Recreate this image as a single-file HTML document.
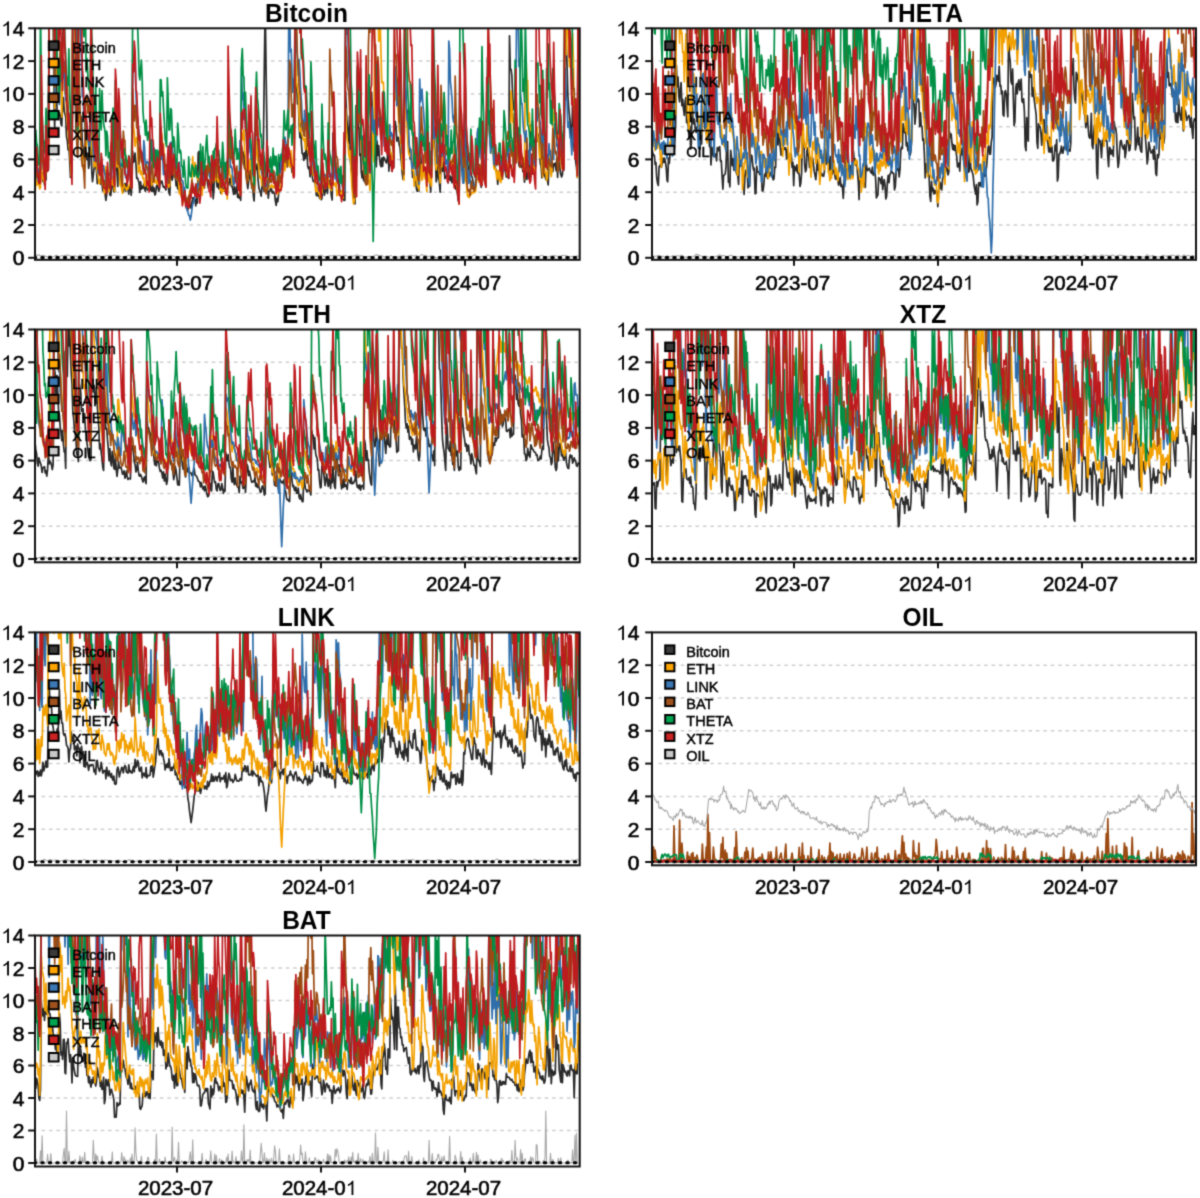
<!DOCTYPE html><html><head><meta charset="utf-8"><style>html,body{margin:0;padding:0;background:#fff;}svg{display:block}</style></head><body>
<svg width="1200" height="1198" viewBox="0 0 1200 1198" font-family='"Liberation Sans", sans-serif'>
<rect width="1200" height="1198" fill="#fff"/>
<defs><filter id="bl" filterUnits="userSpaceOnUse" x="-20" y="-20" width="1240" height="1238" color-interpolation-filters="sRGB"><feConvolveMatrix order="3" kernelMatrix="0.02768 0.11101 0.02768 0.11101 0.44521 0.11101 0.02768 0.11101 0.02768" edgeMode="duplicate" preserveAlpha="true"/></filter><clipPath id="c0"><rect x="35.0" y="28.3" width="544.7" height="231.5"/></clipPath><clipPath id="c1"><rect x="652.0" y="28.3" width="544.0" height="231.5"/></clipPath><clipPath id="c2"><rect x="35.0" y="329.5" width="544.7" height="232.8"/></clipPath><clipPath id="c3"><rect x="652.0" y="329.5" width="544.0" height="232.8"/></clipPath><clipPath id="c4"><rect x="35.0" y="632.4" width="544.7" height="232.9"/></clipPath><clipPath id="c5"><rect x="652.0" y="632.4" width="544.0" height="232.9"/></clipPath><clipPath id="c6"><rect x="35.0" y="935.5" width="544.7" height="231.0"/></clipPath></defs>
<g filter="url(#bl)"><rect x="-20" y="-20" width="1240" height="1238" fill="#fff"/>
<line x1="41.5" y1="225.0" x2="579.7" y2="225.0" stroke="#cfcfcf" stroke-width="1.5" stroke-dasharray="3.6 3.8"/><line x1="41.5" y1="192.2" x2="579.7" y2="192.2" stroke="#cfcfcf" stroke-width="1.5" stroke-dasharray="3.6 3.8"/><line x1="41.5" y1="159.4" x2="579.7" y2="159.4" stroke="#cfcfcf" stroke-width="1.5" stroke-dasharray="3.6 3.8"/><line x1="41.5" y1="126.7" x2="579.7" y2="126.7" stroke="#cfcfcf" stroke-width="1.5" stroke-dasharray="3.6 3.8"/><line x1="41.5" y1="93.9" x2="579.7" y2="93.9" stroke="#cfcfcf" stroke-width="1.5" stroke-dasharray="3.6 3.8"/><line x1="41.5" y1="61.1" x2="579.7" y2="61.1" stroke="#cfcfcf" stroke-width="1.5" stroke-dasharray="3.6 3.8"/><g clip-path="url(#c0)" fill="none" stroke-linejoin="round"><path d="M35 176l.8 2.2 .8-15.7 .8 5.7 .8 6.1 .7-.4 .8-.1 .8-16.8 .8 19.8 .8-3.9 .8 8.5 .8-3.4 .8 7 .7-3.9 .8-1.4 .8-21.6 .8 10.1 .8 1.9 .8-166.4 .8 0 .8 0 .8 6.7 .7 15.3 .8-22 .8 88 .8 41.3 .8-92.5 .8 24.4 .8 49 .8 3.5 .7-2.1 .8-2.8 .8 3.1 .8 8.5 .8 1.8 .8-23.8 .8-4.6 .8 13.7 .8 3.2 .7 2.6 .8 19.5 .8 3.8 .8 9.7 .8-3.8 .8 15.1 .8 16.1 .8-3.4 .7-53.7 .8-50.8 .8-28.1 .8 29.9 .8 20.1 .8 39.2 .8-8.2 .8 35.1 .8-79 .7 13.4 .8 32.7 .8-8.6 .8 3.5 .8 23.6 .8 5.4 .8 8.3 .8 10.7 .7-20 .8 7 .8 5.2 .8-6.6 .8 15.2 .8-3.8 .8-44.4 .8 22.5 .8 28.9 .7 10.2 .8-6.6 .8-7.6 .8-12.5 .8 11.9 .8 4.3 .8 12.4 .8-3 .8-.7 .7 2.6 .8 1.5 .8-.2 .8-.4 .8 7.4 .8-5.5 .8-4.8 .8 14.4 .7 5.5 .8-6.1 .8-11.7 .8 .9 .8 2.3 .8 8.9 .8 .9 .8-6.5 .8-5.6 .7-2.8 .8 11.1 .8 0 .8-38.3 .8 10 .8 8.4 .8 14.6 .8-31.1 .7 15.3 .8 6.5 .8 .2 .8 9.9 .8 3.9 .8 .6 .8-5.1 .8-3 .8 7.4 .7-8 .8 4.3 .8 2.4 .8 4.4 .8-8.8 .8-.8 .8 10.7 .8-11.6 .7-32.2 .8 10.9 .8-1.5 .8-7.7 .8 10.1 .8 15.2 .8-.5 .8 2.2 .8 3.1 .7 9.2 .8-10.7 .8 7.3 .8-2.7 .8 1.7 .8-4 .8 5 .8 2 .7-4.6 .8-3.8 .8 7.4 .8-7.4 .8 4.6 .8 3.1 .8-8.5 .8 9.6 .8-7 .7 6.9 .8-3.5 .8 7.1 .8-1.3 .8-7.4 .8-1.8 .8 3.2 .8 3.6 .7-2.6 .8-7.8 .8 1.9 .8-1.7 .8 3.7 .8 2.3 .8-.4 .8 1.6 .8 1.7 .7-6.9 .8 2.1 .8 .9 .8 6.6 .8 2.4 .8-24.7 .8-3.2 .8 12.9 .7-3.4 .8-5.5 .8-1.8 .8 6 .8 10.4 .8-4.4 .8 7.5 .8-6.3 .8 8.9 .7-.2 .8-3.7 .8 9.4 .8-2.6 .8 2.6 .8 1.9 .8-1 .8 1.7 .7 8.6 .8-3.9 .8 5.5 .8-2.9 .8-3.8 .8 2.8 .8 2.2 .8-5.5 .8-4.8 .7-.1 .8 2.1 .8 0 .8 6.2 .8-9.5 .8 6.6 .8-50.3 .8-1.4 .8 20.5 .7-20 .8 8.3 .8 3.2 .8-.8 .8 8.6 .8 13.7 .8-8.9 .8-4 .7 2.8 .8 9.1 .8 4.1 .8-7.7 .8 2.6 .8 3.1 .8 3.7 .8-12.3 .8 21.4 .7-8.4 .8-24.4 .8 13.5 .8-.2 .8 7.6 .8-15.4 .8 17.2 .8-4.1 .7 2.4 .8 6.3 .8-6.7 .8 1.7 .8 .5 .8-.4 .8 3.1 .8-2.3 .8-.8 .7 5.7 .8-11.2 .8 1.9 .8-6 .8-.8 .8 8.2 .8-.1 .8 3.9 .7 4.3 .8-7.6 .8 7.1 .8-2.8 .8-4.9 .8 11.2 .8-3 .8 3.9 .8-2.4 .7 4.6 .8-48.8 .8 5.4 .8 0 .8-5 .8 13.2 .8-.2 .8 10.3 .7 6.3 .8 7.1 .8-7.7 .8-3.7 .8-3.2 .8 3.7 .8 10.6 .8-4.5 .8 12.4 .7 4.6 .8-21.3 .8-14.1 .8 3.7 .8-5.7 .8 16.7 .8 7.8 .8 2.4 .7 2.2 .8 3.5 .8-10.3 .8 3.2 .8-61.3 .8-65.9 .8-58.1 .8 61.3 .8 55.1 .7 66.4 .8 11.6 .8-6.6 .8-.2 .8-3.3 .8 1.2 .8 4 .8-1.7 .7 .9 .8 1.6 .8 7.1 .8 4.2 .8-6.9 .8 3.3 .8-7.6 .8-31.6 .8 7 .7 1.3 .8-5 .8-9.2 .8 4.7 .8-7.5 .8 2.6 .8 1.8 .8-8.5 .7 11.8 .8-10 .8 11.1 .8-4.5 .8 8.8 .8-4 .8 9.5 .8-3.1 .8 7.8 .7-30.6 .8-89 .8 31.3 .8-4.7 .8 19.8 .8-6.1 .8 26.7 .8 13.1 .7-13.6 .8 19.8 .8 9.8 .8 .1 .8 6.7 .8-7.6 .8 5.8 .8-17.4 .8 8.7 .7 16.4 .8 2.3 .8-1.6 .8 9.8 .8-11.9 .8 4 .8 9.2 .8 3.5 .8-.4 .7 0 .8 4.4 .8 10 .8-7.7 .8 8.1 .8-3.4 .8 5.7 .8-6.1 .7 7.4 .8-1 .8-14.7 .8 1.8 .8 9.6 .8-3.1 .8-2.6 .8-.4 .8 4.1 .7-16.8 .8 7.8 .8-3.6 .8 6.3 .8 8.9 .8 4.1 .8-66.9 .8 6.9 .7 17.3 .8 3.6 .8 13.2 .8 8.4 .8-5.7 .8 6.7 .8 0 .8 11.4 .8-3.6 .7 4.9 .8-3.8 .8 6.6 .8 1.4 .8 .1 .8-109.5 .8 19.6 .8 14.7 .7 7.3 .8 10.3 .8-27.1 .8 44.1 .8 9 .8 4.7 .8 8.2 .8 14.3 .8 2.5 .7 5.4 .8-58.3 .8 16.5 .8-57.1 .8 22.9 .8-.2 .8 27.8 .8-1.5 .7 18.2 .8 5.6 .8-6.7 .8 9.5 .8-5.4 .8 7.8 .8-11.2 .8 9.1 .8-3.7 .7-33.2 .8-2 .8 11.7 .8-21.4 .8-40 .8 22.6 .8 14.1 .8 8.3 .7-6.6 .8 21.6 .8 14.4 .8-25.7 .8 14.3 .8-9.8 .8 12 .8 7.1 .8 1.9 .7-8.5 .8 8.4 .8-9.5 .8 .8 .8 2.1 .8 1.9 .8 1.2 .8-6 .7-8.9 .8 23.1 .8-22.4 .8 16.3 .8-5.4 .8 11.6 .8-5.2 .8 .9 .8-45.1 .7-.4 .8 5.4 .8 14.4 .8-3.8 .8-.1 .8 7.1 .8 2.8 .8 9.3 .7 6.5 .8 10.9 .8 5.5 .8-9.8 .8-80.6 .8-.1 .8 24.6 .8-3.6 .8 9.2 .7 24.8 .8 2.7 .8 12.6 .8-6.9 .8 11.6 .8 13.5 .8-6.2 .8 8 .7 2.9 .8-1.9 .8 8.8 .8 2.3 .8-3.1 .8 2.6 .8-20.1 .8-21.3 .8 16.7 .7 3.8 .8 3.6 .8-4.9 .8 .5 .8 5.5 .8-1.8 .8 5.1 .8-1 .8 3.6 .7 .1 .8-.6 .8 12.1 .8-22.5 .8-15.4 .8-25.3 .8 9.8 .8 9.2 .7 11.1 .8 22.7 .8-3.8 .8-22.9 .8 20.3 .8 7.6 .8 9.2 .8-41.9 .8 9.4 .7 11.8 .8-8.9 .8 6.4 .8 9.6 .8-1.4 .8-1.5 .8-.7 .8-3.1 .7 4.9 .8 3.2 .8-3.8 .8 4.4 .8 2.1 .8-11.4 .8 9.9 .8 1.2 .8-9.3 .7 16.4 .8-1 .8 5.9 .8 6.2 .8 2 .8-50.8 .8 11.8 .8-3.4 .7 9.8 .8-.4 .8 10.5 .8-6.1 .8-44.6 .8 10 .8 9 .8 16.9 .8 1.4 .7 5.7 .8 1.5 .8-1.3 .8 3.4 .8 2.2 .8 6.7 .8 2.5 .8-.3 .7-6.3 .8-9.4 .8-8.8 .8 15 .8 4.4 .8-10.3 .8 4.9 .8 10.7 .8-9 .7-14.3 .8 4 .8 11.6 .8 1.7 .8 5.4 .8-73.8 .8-20.2 .8 20 .7-1.1 .8 24 .8 10.6 .8-7.2 .8 4.2 .8 4.5 .8 7.9 .8 10.6 .8 1.5 .7 3.5 .8 .5 .8 12.6 .8-8.2 .8-5.2 .8 8.7 .8-4 .8-4.9 .7 5.8 .8-5.5 .8-10.2 .8 8.3 .8 3.2 .8 4.7 .8-8.1 .8 8.6 .8 .9 .7-142.6 .8 32.9 .8 .7 .8 6.1 .8 22 .8 10.3 .8 2.5 .8-13.5 .7 36.1 .8 9.4 .8-10.3 .8 13.8 .8 20 .8 .5 .8-3.6 .8 4.7 .8-2.2 .7 6.4 .8 .6 .8 9.9 .8-6.9 .8-17.8 .8 22 .8-7 .8 3.8 .8 2.8 .7-54.3 .8 14.1 .8 5.1 .8-22.8 .8 13.5 .8 9.2 .8 9.9 .8-15.1 .7-11.3 .8 14.1 .8-7.6 .8 5.4 .8 9.2 .8 15 .8 2.5 .8 11.9 .8-1.6 .7-7.8 .8 6.1 .8 1.8 .8 3.1 .8-5 .8 5.1 .8 5.5 .8-22.9 .7 .8 .8 1.5 .8 6.8 .8-1.4 .8 1.7 .8-7.6 .8 1.6 .8-2.5 .8 7.6 .7-12.8 .8 19.7 .8-19.3 .8-2.6 .8 13.9 .8 5 .8 2.4 .8-2.2 .7-11.1 .8 6.6 .8-122.4 .8-1 .8-2.2 .8 22 .8 28.9 .8 11.7 .8 9 .7 6.1 .8 13.5 .8 10.8 .8-49.9 .8 39.2 .8 15.3 .8-2.8 .8 14.3 .7 4.5 .8 10.3 .8-66.7 .8 4.9 .8 17.7" stroke="#2a2a2a" stroke-width="1.7"/><path d="M35 195.5l.8-13.6 .8-2.2 .8 5.3 .8-10 .7 8.7 .8 5.1 .8-1.2 .8-31.8 .8 22.7 .8-2.4 .8 5.8 .8-4.9 .7 2 .8-11.1 .8-3.2 .8 2.2 .8-7 .8-156.2 .8 0 .8 0 .8 0 .7 0 .8 0 .8 48.5 .8 56 .8-104.5 .8 40.6 .8 32.1 .8-11 .7 20.4 .8 7.2 .8-21 .8 11.4 .8 33.6 .8-44 .8-3.2 .8 6 .8 18.2 .7-14.1 .8 35.1 .8 6.8 .8 10.4 .8 11.6 .8 7.1 .8 9.9 .8 15.3 .7-129.8 .8-29.7 .8 6 .8-18.9 .8 53 .8 15.2 .8 36.4 .8 16.5 .8-27 .7 20.9 .8 1.2 .8 20.5 .8 7.9 .8 6.2 .8 13.5 .8 2.6 .8 .9 .7-30.2 .8 6.5 .8-20.2 .8 4.7 .8 13.9 .8-.1 .8 10.3 .8-24.4 .8 3.4 .7 22 .8-6.2 .8 15.8 .8-1.1 .8-4.5 .8 4.3 .8 7.9 .8-3.2 .8 13.1 .7-.3 .8-2.7 .8-3.3 .8 6.2 .8-.6 .8 4.3 .8 6.5 .8-3.8 .7-23.1 .8 14.8 .8 1.4 .8 1.1 .8 8 .8-7.2 .8-4.6 .8 1.7 .8 3.1 .7-9 .8 8.7 .8 6.7 .8-35.2 .8 10.6 .8-.2 .8-6.9 .8 7.2 .7 2.4 .8 15.8 .8-1 .8 5.2 .8 4 .8-8.7 .8 .1 .8 2.8 .8 .9 .7 1.9 .8-3.3 .8 2 .8-3.6 .8 .4 .8-3.9 .8 .5 .8-2.3 .7-65.4 .8 12.1 .8 5.3 .8 14.4 .8-6.7 .8-2.2 .8 5.9 .8 29 .8-4.3 .7-2.2 .8 8.5 .8-3.3 .8 3.1 .8 4.4 .8-.9 .8 8.2 .8-1.1 .7-4.5 .8-6.1 .8 13.1 .8-5.3 .8-4.1 .8 4.2 .8-4.6 .8 8.1 .8-3.8 .7-1.2 .8-5.6 .8 7.8 .8-2.7 .8 1.7 .8 2.3 .8-5 .8 5.7 .7-2.9 .8-46.6 .8-4 .8 3.9 .8 16 .8-7.6 .8 16.9 .8 5.2 .8 7.8 .7-.2 .8 11.9 .8-1.8 .8 3.7 .8-2.1 .8-28.6 .8 4.8 .8 1.8 .7 10.3 .8 .2 .8-6.5 .8 5.4 .8 1.7 .8-3.6 .8 9.9 .8-1.3 .8 14.6 .7-7.7 .8 6.1 .8 5.5 .8-1.6 .8 7.3 .8-3.9 .8-4.1 .8 7.1 .7 .4 .8-3.8 .8 1.2 .8 2.2 .8-11.3 .8 3.6 .8-.8 .8-14.1 .8-23.2 .7 17 .8 2.3 .8-13.4 .8 4 .8 10.2 .8 2 .8 .2 .8 9.7 .8-10.2 .7 13.3 .8-9.4 .8 12.9 .8-15.1 .8 8.3 .8-5.8 .8-3.8 .8-5.6 .7-4.3 .8 3.3 .8-6.4 .8 1.6 .8 6.6 .8 9.8 .8-4.8 .8-8 .8 7.4 .7 2.1 .8-8.6 .8 8.5 .8-4.2 .8-9.5 .8 15.4 .8-1.3 .8-1.6 .7 11.2 .8-3.9 .8 7.5 .8-4.9 .8 2 .8-.9 .8-.7 .8 0 .8 .5 .7 9 .8-40.3 .8 5.4 .8 10.2 .8 1.9 .8-.6 .8 9.3 .8 0 .7-8.2 .8 1.8 .8-.7 .8-1.7 .8 4.1 .8 5 .8-3.7 .8 7.5 .8 5.7 .7-3.8 .8-60.7 .8 6.6 .8 3.1 .8-10.4 .8 22.8 .8 3.6 .8 12.3 .7-1 .8 13.4 .8-19.5 .8 9.6 .8-12.1 .8 8.8 .8 18.7 .8 2.1 .8-.4 .7 3.9 .8-17.3 .8-27.5 .8-7.1 .8 16.9 .8 5.9 .8 5.9 .8 9.3 .7-1.8 .8 3.2 .8 6.7 .8-2 .8-1.8 .8 5.4 .8-2.3 .8 7 .8-7.4 .7 4.6 .8-11.7 .8 9.8 .8-.1 .8-.7 .8-1.9 .8 .6 .8 2.5 .7-.3 .8-3.1 .8 0 .8 5.9 .8-6.1 .8 9.7 .8-2.8 .8-.3 .8-5.9 .7 5.3 .8-4.7 .8-17.7 .8-5.2 .8-9.9 .8 17.7 .8-9.4 .8-6.4 .7 2.3 .8 9.2 .8-8.3 .8 6.7 .8 2.6 .8-16.8 .8 10.3 .8 13.1 .8 1.4 .7-25.4 .8-87.6 .8-1.6 .8 22.9 .8 4.8 .8 5.5 .8 21.1 .8 16.3 .7-3.2 .8 5.5 .8 1.9 .8 2.9 .8 2.1 .8-1.7 .8 10.9 .8-15 .8-.4 .7 14.4 .8 5 .8-2.5 .8 7.2 .8-20 .8 12.8 .8 14.4 .8 9.9 .8-2.8 .7 3 .8 15.3 .8 .6 .8-4.6 .8 4.4 .8 2.4 .8-.9 .8 6.1 .7-7 .8 1 .8-10.2 .8-10.8 .8 11 .8 .9 .8-6.7 .8 1.2 .8 6.7 .7-7.6 .8 10.5 .8-2 .8 1.1 .8 3.5 .8-9.7 .8 4.7 .8-2.5 .7 1 .8 2.1 .8-4.1 .8 13.6 .8-1.4 .8-4.8 .8 1.7 .8 3.4 .8 2.5 .7-6.4 .8 8.4 .8-1.3 .8-34.9 .8 3.3 .8-57.6 .8 21.8 .8 9.5 .7 3.5 .8 10.8 .8 4.3 .8-7.6 .8 20.5 .8 15.4 .8 8.6 .8 8.5 .8-3 .7-3.4 .8-61.4 .8 25.3 .8-67.7 .8 15.8 .8-11.3 .8 20.6 .8-23.7 .7 50.1 .8 7.6 .8-4.5 .8 6.3 .8 8.3 .8 12.4 .8-35.2 .8 19.7 .8 11.2 .7 11 .8-.7 .8 9.2 .8-48.5 .8 8.3 .8-17.2 .8 22.6 .8 6.3 .7-158.3 .8 0 .8 0 .8 0 .8 0 .8 37.6 .8-4.1 .8-11.1 .8 32.8 .7 23.9 .8-.7 .8 .2 .8 24.8 .8 13.5 .8 2.2 .8 10.1 .8-8.1 .7 23.4 .8-22.8 .8 25.4 .8 .9 .8 1.8 .8 6.9 .8 .6 .8-7.2 .8-70.9 .7-8.6 .8 25.8 .8-1.5 .8-5.9 .8 23.2 .8 15.2 .8 1.1 .8 9.1 .7 11 .8 17.1 .8-2.5 .8 13.4 .8-79.9 .8 10 .8 3.3 .8 13.9 .8 16.6 .7 8.5 .8 2.8 .8 .9 .8-5.2 .8 14.6 .8 4.6 .8-2.5 .8 18.3 .7-7.6 .8 1.3 .8-5.9 .8 11.9 .8 .2 .8 3.8 .8-12.2 .8-4.3 .8-8.8 .7 15.7 .8-2.3 .8-22.3 .8 17.7 .8 5.4 .8-1.9 .8 14.6 .8-38.1 .8 16.6 .7 12.4 .8-9.5 .8 10.5 .8 2.9 .8-65.9 .8 12.2 .8 14 .8 3.3 .7 13.5 .8 6.5 .8-7.3 .8 3.1 .8-.6 .8 8.9 .8 8.8 .8-26.3 .8 10.5 .7-10.2 .8-44.9 .8-15.6 .8 22.1 .8 22.8 .8-16.2 .8 23.8 .8 7.5 .7-1.3 .8 8.9 .8-2.7 .8 6.9 .8-7.7 .8 4.6 .8 11.2 .8-27.9 .8 19.7 .7 16.1 .8 .9 .8 5.7 .8-.6 .8 14.2 .8-107.3 .8 29.2 .8 5.1 .7 14.8 .8 7 .8 4 .8 7 .8 17.3 .8-1.5 .8 12 .8 4.8 .8-2.1 .7 3 .8-5.6 .8 1.4 .8 .7 .8-2.2 .8-.2 .8 1.1 .8-2.7 .7 1.6 .8-14 .8-.2 .8-2 .8 6.3 .8-6.4 .8-3.6 .8 .6 .8 11.4 .7-32.9 .8 15.3 .8 7 .8 4.6 .8 4.6 .8-69.9 .8 12.9 .8-1.7 .7 6.4 .8 5.9 .8 .9 .8 12.9 .8 3.5 .8-7.7 .8 22 .8 1.8 .8-1.5 .7 4.8 .8 6.7 .8-8.7 .8 3.9 .8 6.3 .8-14 .8 15.7 .8-6.5 .7 2.5 .8-39.5 .8 10.5 .8 16.9 .8 1.2 .8 2.2 .8 5.3 .8-11.3 .8 5.5 .7 2 .8-24.6 .8-55.9 .8 13 .8 18.3 .8-3.9 .8 35.3 .8-15.4 .7-.6 .8 19.4 .8-4.8 .8 8.3 .8-3.8 .8 4.6 .8-2.2 .8-5.1 .8 5.6 .7 9.3 .8 0 .8 5 .8-118.6 .8 3.2 .8 22.9 .8-1 .8 41.7 .8-9.1 .7 17.6 .8-3.5 .8 3.3 .8 18.9 .8 4.2 .8 19.5 .8-8.5 .8 3.5 .7-28.7 .8-11.7 .8 10.8 .8 4.2 .8 15.1 .8-8.6 .8 7.8 .8 9.9 .8 10.2 .7-20.9 .8 8.1 .8 8.6 .8-.8 .8 8.7 .8-3.2 .8-22 .8 9.4 .7-10.8 .8 16.5 .8 6 .8-6.8 .8-47.4 .8-4.4 .8-17.1 .8 25 .8 8.3 .7 11.7 .8-1 .8 10.2 .8-25.2 .8 17 .8 11.3 .8 10.3 .8-17.3 .7 7.2 .8 6.9 .8-146.3 .8 15.4 .8 20.3 .8-51 .8 0 .8 46.4 .8 16.7 .7-6.5 .8-22.3 .8 31.9 .8-36.5 .8 26 .8 54.5 .8 11.2 .8-4 .7 28.6 .8 27.6 .8-95.3 .8 20.2 .8 7.6" stroke="#F2A000" stroke-width="1.7"/><path d="M35 157.3l.8 .5 .8 15.1 .8-6.5 .8 14.8 .7-7.2 .8-6.3 .8 3.1 .8-17.9 .8-2.9 .8 10.6 .8 9.1 .8 4 .7-4.5 .8-1.5 .8-38.9 .8 9.5 .8-2.7 .8-131.9 .8 0 .8 0 .8 0 .7 0 .8 0 .8 40.1 .8 58.4 .8-98.5 .8 14.4 .8 38 .8 16.4 .7 1.5 .8 30.5 .8-34.6 .8 11.8 .8-1.7 .8-19.3 .8 17.5 .8-16.5 .8 25.2 .7 13.3 .8-2.8 .8 15.8 .8 7.6 .8-7.3 .8 26 .8 8.3 .8-5.4 .7 29.4 .8-168.1 .8 0 .8 0 .8 0 .8 4.3 .8 15.4 .8 48.3 .8-68 .7 0 .8 23.4 .8 14 .8 17.7 .8 37.7 .8-2.2 .8 25.6 .8-1.8 .7 23.5 .8-23.1 .8 7.5 .8 10.9 .8 6 .8 8.2 .8-10.7 .8-50.8 .8 20.6 .7 19.8 .8 22.6 .8 8.1 .8-6.9 .8 7.6 .8-3.4 .8 1.7 .8 13.8 .8-8.6 .7 4.5 .8-1.4 .8 7.2 .8-7.8 .8 3 .8-4.7 .8 7.2 .8 2 .7 8.9 .8-7.3 .8-.4 .8-.5 .8-.2 .8-2.6 .8 2.5 .8 3.7 .8-30.2 .7 3.7 .8 22.1 .8 1.8 .8-55.9 .8 27.2 .8-3.7 .8 12.8 .8-35.1 .7 20.7 .8 25.4 .8-4.2 .8 2.5 .8 .2 .8 .9 .8-7.7 .8 6.1 .8 12.4 .7-2.4 .8 7.2 .8-19 .8 6.4 .8 1.7 .8 8.2 .8-4.7 .8-3.9 .7-109.5 .8 7.4 .8 1.3 .8-19.1 .8 40.3 .8 21.3 .8 3.7 .8 8.6 .8 8 .7 4.7 .8 14.3 .8 0 .8 1.3 .8 14.7 .8-27.8 .8 6.9 .8 25.6 .7-7.7 .8-4.2 .8 1.2 .8-.2 .8 20.5 .8-2.2 .8-36.4 .8-4.6 .8 17.8 .7-3.6 .8-5.7 .8 3.7 .8 16.3 .8-17.4 .8 9.4 .8 8.6 .8-5.4 .7 11.7 .8-30.4 .8 14.7 .8-7.9 .8 5.6 .8 17.7 .8-4.6 .8 2.2 .8 8.3 .7-6.9 .8 2.6 .8 6.4 .8-2.6 .8-36 .8-1.7 .8 8.6 .8-9.3 .7 12.6 .8 1 .8-.1 .8 6.2 .8 16.7 .8-5.7 .8 1.1 .8-7.6 .8-3.9 .7 7.3 .8 7.4 .8 3.6 .8 .2 .8 2.2 .8 11.7 .8-7.1 .8 15.5 .7 .3 .8 7.5 .8 1.1 .8 3.5 .8 .6 .8 4.3 .8-3.7 .8-6.9 .8-5.4 .7-.9 .8-3.9 .8-2.3 .8-12.4 .8 .3 .8 6.2 .8-6.7 .8-.9 .8-4.4 .7 7.9 .8-18.3 .8-4.4 .8 15.1 .8 1.3 .8-4 .8-2.5 .8-2.8 .7-2.7 .8 3.8 .8-6.6 .8 8.2 .8 4.2 .8-2.8 .8-14.5 .8 3.9 .8 .4 .7-2.3 .8 3.2 .8-2.8 .8 10.6 .8-9.3 .8-.3 .8 6.4 .8 4.4 .7 2.5 .8 4.1 .8-14.1 .8-5.7 .8 17.8 .8-13 .8 10 .8 6.8 .8-8.5 .7-.3 .8-30 .8 12.7 .8-6 .8 16 .8-1.4 .8 2.9 .8 10.1 .7 6.1 .8-2.3 .8-8.7 .8-1.3 .8 12.3 .8-3.1 .8-9.6 .8 13.1 .8-45 .7 8.1 .8-81.9 .8 32.9 .8-6.8 .8 26.5 .8-22.9 .8 33.1 .8 2.8 .7 19 .8 3.3 .8-2.5 .8-24.2 .8 14.5 .8 16.7 .8 .1 .8 14.4 .8 2.4 .7 5.9 .8-53.7 .8 3.4 .8-2.8 .8 10.5 .8 3.1 .8 9.9 .8 3.7 .7-.6 .8 14.2 .8 4.6 .8 2.3 .8 14.9 .8-14.7 .8 10.2 .8 0 .8-2.1 .7-4.3 .8 6.1 .8-6 .8-9.4 .8-.1 .8-1.1 .8 10.2 .8-2.5 .7-4.7 .8-1 .8 8.1 .8 5.2 .8 4.6 .8-15 .8 11.4 .8-12.9 .8-.7 .7-18.6 .8 12.6 .8-3.5 .8-6.3 .8-17.1 .8-2.8 .8 4.3 .8 8.9 .7 6.8 .8-16.7 .8-135.5 .8-1.2 .8 48.2 .8-2.5 .8 26.9 .8 16 .8-13.4 .7 4.8 .8-79.6 .8 6.8 .8 38.1 .8 9.3 .8 17.4 .8-16.1 .8 13.4 .7 17.1 .8 10.7 .8 17.8 .8 3.1 .8 13.3 .8-24.6 .8 6.4 .8 10.5 .8-9.9 .7 27.1 .8-11.4 .8 17.8 .8 2.5 .8-2.4 .8-16.7 .8 26.4 .8 5.5 .8 6.7 .7-12.8 .8 14.2 .8-.4 .8-6.1 .8 11.1 .8 11.4 .8-6.6 .8 3.2 .7-15.8 .8 16.6 .8-23 .8 10.1 .8 1.6 .8-1.7 .8 .9 .8 2.7 .8-16.9 .7 5.4 .8 7.6 .8 2.6 .8-3.1 .8 2.8 .8-2.3 .8-21.6 .8-2.3 .7 23 .8 5.4 .8-7.8 .8 10.4 .8-2.4 .8-12.3 .8 10.6 .8 4.4 .8-4.2 .7 4.3 .8 4.8 .8 3.5 .8-7.4 .8 7.8 .8-172.3 .8 16 .8-5 .7 3.5 .8 38.3 .8 10.4 .8 31.6 .8 22.3 .8 10.6 .8 9.5 .8 15 .8 9.6 .7 12.5 .8-26.1 .8-8 .8-88.7 .8 21.4 .8 12.2 .8 9.6 .8-15.8 .7 40.4 .8-1.7 .8 10.7 .8 4.7 .8 5.5 .8-11 .8 12.3 .8-5.5 .8 10 .7 7.9 .8-.8 .8 3.3 .8-61.3 .8 18.8 .8-23.6 .8 21.7 .8 4.8 .7-13.4 .8 19.2 .8 3 .8-24.1 .8 9.6 .8-9.9 .8 5.5 .8 4.1 .8 6.6 .7-16.2 .8 6.3 .8 1.6 .8 20.5 .8 .4 .8-8.4 .8 2.5 .8 2.8 .7 6.2 .8 3.7 .8-28.8 .8 11.5 .8-3.4 .8 2.3 .8 10.5 .8-9.5 .8-67 .7-2.2 .8 15.4 .8 23.5 .8-26 .8 25.5 .8-7.4 .8 23.6 .8 13.2 .7-3.1 .8 21.8 .8 .2 .8 2.8 .8-121.9 .8 42.7 .8 25.2 .8 17.9 .8 1.1 .7 8.6 .8 18 .8 .6 .8 1.4 .8 17.3 .8 1.3 .8-6.3 .8-.6 .7 7.1 .8-1.3 .8 7.8 .8-3.3 .8 3.1 .8 9.3 .8-105.1 .8 22.7 .8-6.1 .7-6.6 .8 14 .8 9.1 .8 12.9 .8 20.7 .8 5.5 .8-8.8 .8-9.3 .8 25.1 .7 9.4 .8-12.1 .8-4.3 .8 12 .8-74 .8 12.1 .8 37.4 .8-4.2 .7-7.8 .8 10.1 .8 26.8 .8-34.7 .8 18.8 .8 7 .8 12.4 .8-24.4 .8 13.5 .7-3.6 .8 1.1 .8-9.4 .8 5 .8 14.7 .8-4.2 .8 3.8 .8 19.4 .7-142.2 .8 8.8 .8 32.4 .8 6.8 .8 9.1 .8 19.7 .8 4.3 .8-6.7 .8 25.7 .7 6.2 .8 14.8 .8 8.3 .8 13.4 .8 3.8 .8-48.8 .8 3.9 .8 19.3 .7 13.5 .8 7.6 .8 0 .8-68.7 .8 37.4 .8-.5 .8 14.9 .8 11.3 .8 5.8 .7-12.7 .8 9.1 .8 8.4 .8 0 .8-4.9 .8 1.4 .8 1.3 .8-.1 .7-.3 .8-16.6 .8-35.5 .8-5 .8 29 .8-10.1 .8-7.4 .8 18.9 .8-18.5 .7-7.7 .8 17.6 .8 14.6 .8 7.2 .8 1.5 .8-59.2 .8-18.6 .8 23 .7 1.9 .8 17.8 .8 14.8 .8-8.2 .8-2.1 .8 4.1 .8 17.3 .8-19.2 .8 10 .7 8.3 .8 2 .8-4.9 .8-4.2 .8 7.7 .8-4 .8 6.6 .8-5.6 .7 7.8 .8 2.9 .8-20.1 .8 4.7 .8-2.9 .8 8.5 .8-13.8 .8 7.5 .8-10.6 .7 5.8 .8-10.1 .8 12.6 .8-.4 .8-4.8 .8 17.5 .8-3.8 .8-18.8 .7-11.5 .8-127.8 .8 8.9 .8 9.2 .8 44.7 .8-7.1 .8 34.4 .8 10.1 .8-.3 .7 17.2 .8 10.7 .8 2.9 .8 7.6 .8-11.3 .8 15.9 .8 10.4 .8-6.3 .8 13.9 .7-12.5 .8-7.9 .8 5.5 .8-14.3 .8 27.3 .8-5 .8 8.2 .8 .6 .7-45.8 .8 .3 .8-14 .8 8.7 .8 2.2 .8 6.2 .8 12.4 .8 18.8 .8-27.6 .7 12.8 .8 8.5 .8 14.4 .8 2.8 .8 .6 .8-12 .8 6.1 .8-17.2 .7 10.6 .8-3.6 .8 14.9 .8-8.1 .8 1.7 .8-.1 .8-35.2 .8 9.5 .8-14.3 .7 26.9 .8-1.3 .8 11.6 .8 6.1 .8-32.8 .8 .4 .8 24.8 .8-3.9 .7-6.4 .8 7.9 .8-31.2 .8-52.4 .8 28.4 .8 3.4 .8 26.7 .8-5.4 .8 7.4 .7 8.4 .8 2.1 .8 15.1 .8-27.4 .8 11.8 .8 3.9 .8 8.1 .8-6.7 .7 5.5 .8 13.7 .8-160.1 .8 0 .8 0" stroke="#2F6EAA" stroke-width="1.7"/><path d="M35 168.3l.8 7 .8-2.8 .8 4.7 .8-2.2 .7 4 .8 4.8 .8-61.6 .8 16.1 .8 24.7 .8-2.9 .8 11.8 .8 5.1 .7-3.7 .8-.3 .8-12.7 .8-9.8 .8-.7 .8-146.1 .8 0 .8 0 .8 0 .7 0 .8 0 .8 13.8 .8 69.4 .8-83.2 .8 0 .8 47.5 .8 27.2 .7-13.7 .8 20.7 .8-42.9 .8 36.7 .8-12.1 .8-3.6 .8-4.7 .8 13.7 .8-.8 .7-4.2 .8 26.6 .8-8.8 .8 21.2 .8 37 .8-9.8 .8 28.8 .8-2.7 .7-2.2 .8-61.1 .8-4.5 .8-29.9 .8 25.9 .8 16.6 .8 40 .8 11.3 .8-152.2 .7 62.2 .8 42.3 .8 12.3 .8 37.5 .8 8.5 .8-1.7 .8 8.1 .8 15.3 .7-90.4 .8 6.8 .8-8.7 .8 17.2 .8-9.1 .8 11.5 .8 8.8 .8-49.3 .8 25 .7 16.2 .8 20.6 .8 7.4 .8 2.9 .8-19.4 .8 12.7 .8 19.8 .8 9.3 .8-.6 .7-5.1 .8 3.4 .8 17 .8-12.9 .8 9.3 .8 2.1 .8 1.4 .8 .4 .7 1.9 .8-16.1 .8 4.3 .8 10.7 .8 2.4 .8 1 .8-41.7 .8-5.7 .8 14.3 .7-36.9 .8 19.2 .8 12.7 .8-44.5 .8 17.2 .8 28.3 .8 12.7 .8-30.5 .7 32.1 .8 .9 .8 1.7 .8 12.5 .8 5.4 .8-55.2 .8 9 .8 .1 .8 28 .7-9.5 .8 7.8 .8-1.3 .8-1.1 .8 1.8 .8 6.6 .8 16.2 .8-13.1 .7-86.9 .8 19.5 .8 12.7 .8-15.7 .8 6.7 .8 15.9 .8-.4 .8 25.5 .8 11.3 .7-16.1 .8 3.5 .8 10.1 .8 1.1 .8 6.3 .8 5 .8-1.3 .8-2.5 .7-6.1 .8 2.9 .8 .3 .8 10.3 .8-.1 .8 5.3 .8-7.3 .8-7.7 .8-7.6 .7 22 .8-1.7 .8-5.4 .8-5 .8-.4 .8 8.5 .8 2.5 .8-4.1 .7 6.5 .8-47.1 .8-8.1 .8 12.7 .8 5.3 .8 9.8 .8-1.9 .8 12.4 .8-.4 .7-1 .8 9.3 .8-7.5 .8 16.5 .8-6.7 .8-24.7 .8-4.5 .8 16.9 .7-4.8 .8 11.1 .8 6.3 .8 1 .8 .6 .8-6.2 .8 8.9 .8-.4 .8-11 .7 5.7 .8 6.8 .8 1.7 .8 13.7 .8 .2 .8-.2 .8-7 .8 6.6 .7 6 .8-5.1 .8 5.9 .8-8.5 .8 9.7 .8-15.4 .8-2 .8-8 .8 12.7 .7-5.5 .8 4.1 .8-.3 .8-7.1 .8 6.6 .8 6.8 .8-1.4 .8-7.2 .8 1.6 .7-17.7 .8 10.5 .8-.1 .8 2.4 .8-4.2 .8 6.9 .8-19.9 .8-2.2 .7 14.6 .8-6.3 .8-17.8 .8 14.9 .8 .5 .8-2.7 .8 10.7 .8-7.1 .8 10.1 .7-7.7 .8-15.3 .8 3.2 .8 14.6 .8-16.1 .8-2.7 .8 14.9 .8-6.9 .7 20.5 .8-8.7 .8 9 .8-21.7 .8 19.9 .8-2.7 .8 .3 .8-5.4 .8 1.5 .7 3.2 .8-23.9 .8-36.3 .8 33.7 .8 2.5 .8-28.2 .8 29 .8 3.9 .7-8.9 .8 10.4 .8 10.1 .8-2.8 .8-6.1 .8 14.5 .8-2.2 .8 5.7 .8 2.4 .7-6.9 .8-34.3 .8 4.3 .8 13.1 .8 2.8 .8 3.5 .8-.1 .8 9.3 .7 4.9 .8-6.1 .8-4.6 .8 1.7 .8-3.5 .8 7.2 .8 7.9 .8 1.8 .8-3.6 .7 8.6 .8-24.8 .8-62 .8 29.4 .8-7.6 .8 14.5 .8 18.6 .8 1.8 .7 6.8 .8-2.6 .8-2.1 .8 14.6 .8 8.7 .8 3.6 .8-4.1 .8 6.6 .8-3.8 .7-.6 .8-9.1 .8-2.1 .8 3.7 .8-2.8 .8 3.3 .8-4.4 .8-7.8 .7 1.2 .8 4.6 .8 11.6 .8 4.2 .8-7.9 .8-10.7 .8 12.6 .8-11.9 .8 8.8 .7-3 .8-6.8 .8 4.1 .8-20 .8-2.4 .8 7.7 .8-7.3 .8-1 .7 13.2 .8-10.6 .8-50 .8-46.4 .8 5.2 .8 30.5 .8 21 .8-12.7 .8 13.4 .7 21.3 .8-129.1 .8-5.3 .8 22 .8 31.8 .8 5.3 .8 23.2 .8 6.2 .7 8.1 .8 22.6 .8-2.9 .8 9.7 .8 3 .8 2.6 .8-13.8 .8 2.1 .8 8.3 .7 13.4 .8-5.1 .8 14.8 .8 5.3 .8-14.3 .8-5.6 .8 10.5 .8 8.3 .8 2 .7 8.7 .8 11.7 .8 0 .8 1.5 .8-1.1 .8 .4 .8 3.6 .8 6.2 .7-5.2 .8 .9 .8-26 .8 11.5 .8 8.1 .8 4.4 .8-8.8 .8 .1 .8-21.6 .7 13.1 .8-4 .8-116.4 .8 26 .8 7.6 .8 23.1 .8-13.6 .8 23.5 .7 12.8 .8 15 .8 12 .8 1.4 .8 3.5 .8 13.4 .8-4.9 .8 9.3 .8-4.4 .7 9.3 .8-1.6 .8 10 .8-4.2 .8-8.2 .8-133.3 .8 4.6 .8 26.8 .7 11.7 .8 2 .8 16.3 .8 11.8 .8 9.5 .8 36.1 .8 11.3 .8 15.6 .8 5.8 .7 .4 .8-35.2 .8 13.2 .8-101.4 .8 27.6 .8 20.4 .8-10 .8 23.4 .7 3.2 .8 17 .8 3.2 .8 14.2 .8 2.2 .8 5.7 .8 3.8 .8-15 .8 14.3 .7-137.6 .8-24.9 .8 10.5 .8-28.7 .8 16.6 .8-16.6 .8 13.9 .8 13.7 .7 18.5 .8-5.3 .8 26.3 .8 19.7 .8-33.7 .8 14.3 .8 35.7 .8 6.1 .8 8.8 .7 12.2 .8-.4 .8-21.9 .8 2.5 .8 11.2 .8 4.3 .8 16.6 .8-8.8 .7 15.8 .8-12.7 .8-4.1 .8 4.7 .8 4 .8-4.8 .8 8.6 .8 9.1 .8-128.7 .7 24.6 .8 .8 .8 21.2 .8 9.2 .8 17.9 .8 19.7 .8-61.4 .8 45.2 .7 36.7 .8-3.6 .8 17.9 .8 17.1 .8-170.9 .8 0 .8 0 .8 8.9 .8 49.7 .7 10.1 .8 9.1 .8 .3 .8 24.1 .8 18.7 .8 3.9 .8 27.5 .8 9.2 .7-11.6 .8 14.1 .8-5.1 .8 11.2 .8 6.3 .8 1.3 .8-11.3 .8-25.5 .8-37.6 .7 18.1 .8 7.4 .8 10.1 .8 1.4 .8 18.8 .8-.7 .8-35 .8 19.9 .8 25.4 .7-8.9 .8 6.3 .8 5.3 .8 1.8 .8-104.5 .8 4.4 .8 23.4 .8 17.5 .7 4.2 .8 12.9 .8 12 .8 12.6 .8 8.2 .8-2.7 .8 8.4 .8-88 .8 17.8 .7 16.1 .8 5.1 .8 5.1 .8-8.5 .8 28.5 .8 5.2 .8-.1 .8-7 .7 .9 .8 12.8 .8 1.3 .8-.4 .8 .3 .8-3.2 .8-3.9 .8 12.2 .8-91.4 .7 30.8 .8 25.6 .8 6.4 .8 13 .8 17.5 .8-79.5 .8 23.6 .8 24.3 .7 12.5 .8 10.7 .8 6.6 .8-16.1 .8 10.1 .8 5.7 .8 16.7 .8 5.9 .8 1.8 .7-2.2 .8 6.3 .8-9.2 .8-5.5 .8 7.9 .8-2.4 .8 4.5 .8-1.5 .7-3.6 .8-7.7 .8-10.6 .8-1.9 .8 6.6 .8-7.7 .8 10.4 .8 .4 .8-32.5 .7 17.5 .8 5.2 .8 11.8 .8 .9 .8-2.5 .8-83.5 .8 18.1 .8-81 .7 24.1 .8 10.8 .8 22.7 .8 17.6 .8 17.1 .8-12.7 .8 11.8 .8 24.4 .8 2.8 .7 16.9 .8-.9 .8-2.4 .8 2.8 .8-2.7 .8 8.5 .8-1.8 .8 5.9 .7 4.8 .8-37.4 .8 8.6 .8 15.5 .8-.2 .8-29 .8 2.5 .8-7.3 .8 2.9 .7 12.2 .8-4.4 .8 7.3 .8 6.3 .8-5.3 .8 21.3 .8-58.7 .8 7.2 .7 22.9 .8 19.4 .8-15.3 .8-4.8 .8 13.8 .8 10.8 .8-22.8 .8 8.5 .8 5.2 .7-.8 .8 6.1 .8 15.6 .8-8.2 .8 1 .8-33.9 .8 24.6 .8 9.2 .8-2.6 .7-2.1 .8 9.9 .8-14.2 .8 6.9 .8-26.3 .8 9.9 .8 6.2 .8-1.8 .7-62 .8-1.4 .8 10 .8 4.1 .8 17.5 .8 12.9 .8 5.6 .8 14.3 .8-15.1 .7 30.5 .8-9.9 .8-6.3 .8 8.1 .8 .8 .8 2.8 .8-8.3 .8-2.3 .7 4.9 .8 1.9 .8-2.2 .8 3.7 .8-39 .8 9.4 .8 5.6 .8 9.9 .8-1.9 .7 5.2 .8 14.5 .8-1 .8-28.3 .8 14 .8-5.4 .8 13.9 .8-3.3 .7 2 .8 1.9 .8-161.3 .8 0 .8 0 .8 0 .8 0 .8 0 .8 26 .7 3.7 .8 36.8 .8 27.7 .8-29.5 .8 20.3 .8-.1 .8 37.1 .8 26.8 .7-15.7 .8 28.2 .8-161.3 .8 14.6 .8 53" stroke="#9B4A12" stroke-width="1.7"/><path d="M35 171.4l.8-41.4 .8 13.1 .8 2.9 .8 15.9 .7 3.2 .8-3.3 .8-153.3 .8 75.5 .8 28.8 .8 17.2 .8 21.6 .8-9.9 .7 12.3 .8-45.6 .8 24.7 .8 5.4 .8 2.2 .8-137 .8 0 .8 0 .8 0 .7 0 .8 0 .8 0 .8 38.4 .8-38.4 .8 22.7 .8 32.3 .8 3.7 .7 31.2 .8-4.2 .8-23.2 .8-.3 .8-12.9 .8-8.4 .8-40.9 .8 0 .8 40.1 .7 9.1 .8 32 .8-7.4 .8 7.9 .8-36.6 .8 45.6 .8 19.8 .8 29.7 .7 11.5 .8-151.7 .8 .9 .8-.9 .8 0 .8 53.8 .8 31.5 .8 41.5 .8-126.8 .7 0 .8 0 .8 0 .8 0 .8 0 .8 24 .8 9.1 .8-33.1 .7 9.5 .8 58.5 .8-13 .8 15.9 .8 14.1 .8 1.6 .8 2.8 .8-89.4 .8 33.8 .7 10.2 .8 51.7 .8 16.3 .8 24.8 .8-56.1 .8 47.8 .8 15.7 .8 13.2 .8 1.9 .7-74.3 .8 24.6 .8 16.6 .8-39.2 .8 22.3 .8 10.8 .8 3.5 .8 6.3 .7 22.1 .8-24.5 .8 5.1 .8 21.4 .8-5.2 .8 5.7 .8 14.6 .8-5.1 .8 0 .7-59.6 .8 31.9 .8 17.9 .8-77.9 .8 38.6 .8 11.4 .8-6.8 .8-21.7 .7 24.6 .8 2.9 .8 20.1 .8 .1 .8 17.8 .8-6.2 .8-11.9 .8 5.1 .8 1 .7 4.9 .8 1.8 .8 6.1 .8-11.9 .8 8.7 .8 2.9 .8-1.8 .8-34 .7-128 .8 0 .8 0 .8 0 .8 0 .8 1.3 .8 17.8 .8 22.7 .8 29.2 .7 5.2 .8-10.4 .8-9.3 .8 19.6 .8 31.5 .8 10.8 .8 .6 .8 12.5 .7-15.1 .8 14 .8 6.2 .8-8.1 .8 1.1 .8 10.3 .8-2.6 .8 20 .8-6.8 .7 5.3 .8 8.1 .8-11 .8-6.5 .8 23.5 .8-23.4 .8 1.1 .8 15.5 .7 3.2 .8-90.5 .8 .3 .8 16.3 .8-4.3 .8 16.9 .8 12.7 .8 17.5 .8 4.5 .7 3.2 .8-68.8 .8 24 .8 28.3 .8-.1 .8-21.5 .8 1.4 .8 22.9 .7 14.3 .8-10.2 .8 5.3 .8 18 .8-.7 .8 9.5 .8-45.8 .8 11.4 .8 18.3 .7-3 .8 2 .8 14.1 .8 1 .8 10.2 .8-16.5 .8 9.8 .8 12.4 .7 4 .8 1 .8 .2 .8-31.2 .8 14.7 .8 5 .8 .2 .8-11.9 .8 2.5 .7 .3 .8 8.9 .8-1.9 .8-9.4 .8 8.3 .8 3.5 .8 .3 .8-3.8 .8 .6 .7-30 .8 17.6 .8 5.7 .8-20.9 .8 24.6 .8-3.1 .8-9.3 .8-14.8 .7-8.6 .8 15.9 .8 11.2 .8-6 .8 10.1 .8-3.1 .8 10 .8-4.8 .8-17.5 .7 13.2 .8-15.9 .8 1 .8-5.9 .8 7.3 .8 5.4 .8-6 .8 8.3 .7 4.2 .8 4.8 .8-2.4 .8-22.9 .8 11.9 .8 17.7 .8-9.1 .8 14.4 .8-15.6 .7 13 .8-35 .8-41.7 .8 30.3 .8 1.1 .8 18.7 .8-4 .8 15.4 .7-2.2 .8-5.4 .8-22.4 .8 18 .8 11.8 .8-10.7 .8 10.4 .8-5.2 .8 7.7 .7 9.7 .8-110.5 .8-12.1 .8 26.8 .8 2.1 .8 28.3 .8-13.4 .8 31.3 .7 26.4 .8 1.1 .8-30.2 .8 2.9 .8 9.8 .8 9.9 .8 5.6 .8 21.3 .8 3.1 .7 11.1 .8-38.2 .8-49.7 .8-24.7 .8 25.3 .8 6.5 .8 14.2 .8 2.8 .7 15.8 .8-2.3 .8 13.7 .8 3 .8 .9 .8 8.4 .8 17.1 .8-13.4 .8-3.6 .7-14.6 .8 17.5 .8-4.3 .8 8.6 .8-10.8 .8 19.5 .8-7.3 .8-20.8 .7 16.7 .8-8.9 .8 9.9 .8-9.6 .8 19.1 .8-1.4 .8-19.3 .8 7.4 .8-3.5 .7-2.6 .8 3.6 .8-10.7 .8-5.6 .8-32.8 .8 13.8 .8 5.7 .8-.7 .7-10.4 .8-8.9 .8 27.7 .8-7.8 .8 2.7 .8-6.8 .8 19.4 .8-20.9 .8 2.8 .7-3.6 .8-119.8 .8 0 .8 0 .8 0 .8 0 .8 12.5 .8-2.6 .7-1.2 .8 46.3 .8-19.9 .8 14.7 .8 13 .8 23.1 .8-3.8 .8 .8 .8 18.6 .7 18.7 .8-10.6 .8 24.7 .8-15.2 .8-60.9 .8 20 .8 34 .8 24.9 .8 11.5 .7 6.4 .8-17.9 .8 21 .8 7.7 .8-3.4 .8 12 .8 2.6 .8-2.5 .7-9.6 .8-64.4 .8 24.5 .8 17.7 .8 12.7 .8-5.1 .8 6.4 .8 10.3 .8 1.6 .7-49.5 .8 25.4 .8 5.7 .8 2.8 .8 8.5 .8 1.9 .8 5.4 .8-16.1 .7 9.8 .8-8 .8 15 .8-2.5 .8 1.8 .8-4.3 .8 7.1 .8 8 .8-17 .7 16.9 .8-7.4 .8 8.5 .8-7.7 .8-7.5 .8-165.4 .8 0 .8 0 .7 0 .8 24.5 .8-24.5 .8 23.9 .8 54.4 .8 12.1 .8 36.1 .8 24.7 .8 3.8 .7 20.6 .8-73.8 .8 21.3 .8-60.6 .8 36.4 .8 10.4 .8-13.9 .8-30.7 .7 70.8 .8-1.4 .8 8.5 .8 17.6 .8-1.6 .8 11.9 .8-.9 .8-64.6 .8 31.6 .7-53.4 .8-12.1 .8 37.5 .8 8.3 .8 39.5 .8 25.4 .8 55.9 .8-51 .7-24.2 .8-31.3 .8-27 .8-43.8 .8 42.3 .8-.9 .8 15.4 .8 3.2 .8-6.1 .7 .8 .8 1.5 .8-28.9 .8 1.4 .8 17.5 .8 17.3 .8 6.2 .8 8 .7-138.1 .8 0 .8 0 .8 0 .8 0 .8 0 .8 0 .8 0 .8 0 .7 0 .8 0 .8 0 .8 0 .8 4 .8-4 .8 22.6 .8 49.8 .7 39.4 .8 6 .8 19.9 .8 10.6 .8-148.3 .8 16.6 .8 42.5 .8 10.8 .8 21.5 .7 11 .8 21.7 .8 1.5 .8-45 .8 45.5 .8 5.9 .8-2.8 .8 26.9 .7 4.3 .8 2.4 .8-28.4 .8 8.2 .8 16.2 .8 4.1 .8-22 .8-6.8 .8-3.7 .7 7.2 .8 4.5 .8-9.7 .8 14.2 .8 .5 .8-5.5 .8-53.5 .8 18 .8 33.5 .7-.7 .8 24.3 .8-9 .8 6.4 .8-64.1 .8-96.5 .8 44.9 .8 27.3 .7 14.6 .8 26.4 .8 12 .8 14 .8-24 .8 21.4 .8 18.4 .8-34.8 .8 6.5 .7 6.3 .8-9.8 .8-34.3 .8 17.2 .8 28.8 .8 7 .8-9.9 .8 24.3 .7-11.7 .8 10.4 .8-6.3 .8-22.3 .8 23.6 .8-11.3 .8-.2 .8-16.5 .8 21.7 .7 7.9 .8 8.7 .8 19 .8 2.3 .8-6 .8-155.7 .8-19.9 .8 0 .7 3.6 .8 26.3 .8 28.8 .8 9.6 .8 17.4 .8 37.7 .8 13.5 .8 14.2 .8-1.8 .7 10.7 .8 5.1 .8-39.6 .8 28.6 .8 11.1 .8 4.7 .8-1.3 .8 4.7 .7-38.3 .8 15.9 .8 10.7 .8 .6 .8-28.8 .8-19.1 .8 30.1 .8-14.1 .8-87.3 .7 38.6 .8 25.9 .8 42.1 .8-10.3 .8 15.2 .8-28.1 .8-72.6 .8 25 .7 41.9 .8-13.5 .8 25.6 .8 .9 .8 10 .8-24 .8 16.1 .8 13.8 .8-8.5 .7 11.7 .8-1.2 .8 1.5 .8-.7 .8-12.9 .8 .2 .8 14.9 .8 2.9 .7-5.4 .8 .6 .8-45.7 .8 8.3 .8 12.7 .8 7.8 .8 11.3 .8-7.9 .8 2.4 .7-4.5 .8-16.9 .8 12.9 .8 2.1 .8 9.3 .8 3.1 .8-6.1 .8-85.1 .7 24.8 .8 30.7 .8 23.3 .8-11 .8 3.2 .8 22.7 .8-148.5 .8 12.1 .8 36.5 .7 37.4 .8-12.3 .8 23.2 .8-83.5 .8 37.6 .8 50.7 .8 18.1 .8 .9 .8 6.4 .7 10.6 .8-4.8 .8 8.7 .8-37.9 .8 31.6 .8 5.5 .8-2.4 .8 16 .7-96.4 .8 .2 .8-.5 .8 20 .8 19.8 .8-17.4 .8 29.4 .8 3.3 .8-47.7 .7 32.6 .8 28.5 .8 11.3 .8 18.4 .8-92.5 .8 29 .8-53.6 .8 45.4 .7-6.4 .8 40 .8-22.3 .8 24.2 .8-56.4 .8 29.6 .8-2.4 .8 30.7 .8 6.7 .7 4.9 .8-6.8 .8 2.3 .8-30 .8 8 .8 3.8 .8 14.4 .8 7.1 .7 12.8 .8-15.2 .8-130.8 .8 0 .8 0 .8 0 .8 0 .8 11 .8 17.2 .7 8.8 .8 23.4 .8 14.9 .8-75.3 .8 0 .8 0 .8 0 .8 0 .7 0 .8 0 .8 0 .8 0 .8 0" stroke="#008F45" stroke-width="1.7"/><path d="M35 192.4l.8-43.2 .8-1.8 .8 23.8 .8 2.8 .7 9.2 .8-5.8 .8 5.4 .8-127.3 .8 58.6 .8 30.4 .8 12.5 .8 21.4 .7 11.1 .8-64 .8 23 .8 22.9 .8-3.4 .8-164.3 .8 0 .8 0 .8 0 .7 0 .8 0 .8 0 .8 55.1 .8-55.1 .8 0 .8 0 .8 0 .7 44.9 .8-17.8 .8-19 .8 22.3 .8 30.3 .8 26.2 .8-78.3 .8 11.9 .8 28.1 .7 13.9 .8 34.4 .8 7 .8 22.1 .8-16.3 .8 22 .8 7.9 .8 23.2 .7 18 .8-180.8 .8 0 .8 0 .8 10.7 .8 59.1 .8 11.1 .8 41.3 .8-122.2 .7 0 .8 0 .8 0 .8 2.3 .8 61.6 .8 10.3 .8 22.9 .8 18.2 .7-9 .8 6.5 .8 8.9 .8 7.6 .8 4.4 .8 3.6 .8-10 .8-120.2 .8 44.3 .7 40.4 .8 18.7 .8 29.7 .8 8.1 .8 9.5 .8-48.6 .8 23.7 .8 19.7 .8 10.8 .7 7.7 .8 .7 .8-22.1 .8 6.9 .8 15.9 .8 9.7 .8 2.7 .8-.8 .7 .5 .8 5.3 .8-31.3 .8 14 .8 4.5 .8 4.7 .8 3.9 .8-68.2 .8 29.6 .7 4.9 .8 26.5 .8 4.1 .8-117.1 .8 12.7 .8 39.5 .8 18.3 .8-51 .7 9.5 .8 29.4 .8 19.7 .8 10.4 .8-18.3 .8 19.7 .8 3.9 .8 11 .8 1.3 .7 .2 .8 8.6 .8-4.4 .8-23.4 .8 2.2 .8 22.3 .8 5.5 .8 1.5 .7-123.6 .8 7.9 .8-30.9 .8 9.8 .8 38.4 .8 2.6 .8 18.8 .8 16.4 .8 13.3 .7-4.8 .8 16.1 .8-.7 .8 7.3 .8 3.3 .8 8.1 .8-.2 .8 2.5 .7 2.6 .8 11 .8-2 .8-3 .8 11.4 .8-91.1 .8 25.5 .8-8.3 .8 21.3 .7 1.4 .8 20.3 .8 1.2 .8 12.5 .8 1.1 .8-19 .8 4.1 .8 19.7 .7 6.5 .8-73.9 .8 18.2 .8 23.5 .8-10.8 .8 14.7 .8 5 .8 8 .8 15.8 .7-.6 .8-27.1 .8-13.9 .8 24.9 .8 7.3 .8-34.9 .8 13.9 .8 17.7 .7-14 .8-6.7 .8 7.9 .8 7.9 .8 3.1 .8 3.5 .8-6.9 .8-6.9 .8 9 .7 12 .8 1 .8 9.8 .8 11 .8-9.8 .8 4 .8-9.1 .8 15.6 .7-5.4 .8 .3 .8 5.9 .8 .6 .8-4.3 .8-9.4 .8 3.6 .8-13.1 .8-1.4 .7 9.6 .8-2.9 .8 6 .8-11.2 .8 12.4 .8-.9 .8-2.6 .8 .8 .8 8.6 .7-6.4 .8-34.8 .8 11.5 .8 11.8 .8-2.8 .8 3.1 .8-15.6 .8 10.2 .7-.8 .8 .2 .8 .5 .8 11.6 .8-.7 .8 6 .8-41.2 .8 4.4 .8 6 .7 14 .8-20.5 .8 6.3 .8-8.5 .8-40.7 .8 29 .8 20.3 .8 10.1 .7 2.3 .8-4.4 .8 12.7 .8-6.9 .8 1.9 .8 5.5 .8-3 .8 9.8 .8-3 .7 4.2 .8-149.2 .8 36.5 .8 29.6 .8 13.8 .8 10.4 .8 1.2 .8 16.2 .7 9.9 .8 7.5 .8 4.1 .8 6.9 .8 1.5 .8 .7 .8 6 .8-18.6 .8 20.7 .7 3.5 .8-83.2 .8 16 .8-18.6 .8-1.2 .8 1.5 .8 17.5 .8 3.2 .7 19.6 .8 21.4 .8-67 .8 20.1 .8 12.9 .8-42.2 .8 34.8 .8 2.6 .8 24.4 .7 18.1 .8-19.4 .8-68.7 .8 17 .8 8.4 .8 27.4 .8-2.3 .8 11.1 .7 9.1 .8 7.1 .8-12.4 .8-4.1 .8 30.5 .8-1.4 .8 7.5 .8-7.8 .8-36.9 .7 7.9 .8 22.9 .8-2.7 .8 9.8 .8-3.6 .8-1.6 .8 1.6 .8 .7 .7 7.2 .8-1 .8 .5 .8 11.3 .8-4.2 .8-8.3 .8 10.6 .8-2.3 .8 1.1 .7-.4 .8-3.8 .8-15.6 .8-31.1 .8 5.1 .8 4.7 .8 9.9 .8-14.8 .7 12.6 .8 1.8 .8-11.3 .8 4.9 .8 4.6 .8 6.8 .8 1.6 .8 1.7 .8 10.4 .7-1.8 .8-172.4 .8 0 .8 0 .8 0 .8 0 .8 0 .8 29.3 .7-29.3 .8 49.3 .8 3.1 .8 5.8 .8 24.3 .8 6 .8-3 .8 22.2 .8 5.9 .7 12 .8 8.4 .8 13.9 .8 5.1 .8 17.2 .8-62.4 .8 34.8 .8 14.7 .8 2.9 .7 12.1 .8 6.2 .8-11.1 .8 4.3 .8 8.7 .8 3.3 .8 3.7 .8-5.9 .7 11.9 .8-47.8 .8 17.3 .8 7.4 .8 7.6 .8 7.2 .8-1 .8-5 .8 2.5 .7-44.9 .8 18.2 .8 15.4 .8 1.2 .8 13.1 .8-4.5 .8 .5 .8-92.3 .7 19 .8 45.6 .8 15.3 .8 5.2 .8 3.9 .8 4.7 .8 9.6 .8 .1 .8 .2 .7 6.1 .8-6.5 .8 .5 .8-63.1 .8 21.7 .8-150.6 .8 0 .8 0 .7 0 .8 40.3 .8 14.3 .8 20.1 .8 50 .8 2.5 .8 25.7 .8 11.9 .8 24.8 .7-36.6 .8 17 .8 23.1 .8-144.7 .8 15.8 .8 19 .8 3.5 .8-40.5 .7 63.1 .8 11.4 .8-4.9 .8 14.5 .8 21.5 .8 .8 .8-100.5 .8 64.6 .8 6 .7 36.7 .8-1.2 .8 10.4 .8-83.7 .8-3.5 .8-81.4 .8 0 .8 10.5 .7 27.1 .8 46.3 .8 38.4 .8 9 .8-73.5 .8 38.2 .8 12.7 .8 21 .8 7.7 .7 13.5 .8-62 .8 18.6 .8 21.9 .8 18.1 .8-13.4 .8 14.8 .8 1.8 .7-13.9 .8 10.5 .8 12.2 .8-7.3 .8 11.2 .8 4.3 .8-10.9 .8 7.6 .8-164.4 .7 0 .8 0 .8 17.3 .8 28.3 .8 16.9 .8 29.1 .8-73.2 .8 40.2 .7 31.3 .8 42.8 .8 17.7 .8 14.4 .8-164.8 .8 0 .8 0 .8 0 .8 0 .7 0 .8 9.1 .8 15 .8 18.1 .8-1 .8 47.6 .8 27.9 .8 3 .7 12.3 .8 18.3 .8-16.4 .8 30.9 .8-7.5 .8 4.7 .8-12.2 .8-7.6 .8-4.6 .7 11.2 .8 2.4 .8 16.5 .8-2.9 .8-1.5 .8 5.1 .8 14 .8-53.7 .8 23.7 .7 10.7 .8 7.3 .8-2.5 .8 6.2 .8-174.1 .8 21.8 .8 54 .8 30 .7 21.5 .8 5.9 .8-9.7 .8-61.9 .8 38.9 .8 24.4 .8 36.1 .8-19.3 .8 7.3 .7-1.1 .8-20.2 .8 29.9 .8 9.7 .8-4.3 .8 4.4 .8 10.2 .8 1.3 .7-6.3 .8-12.9 .8-.4 .8 8.3 .8 2.8 .8-9.6 .8 18.2 .8 5.4 .8-33.6 .7 28.6 .8-2.3 .8 9.6 .8 8.5 .8 5.2 .8-151.4 .8 53.1 .8 8.1 .7 15 .8 10.1 .8 17.3 .8-112.8 .8 22.1 .8 58.9 .8 14.4 .8 8.3 .8 11.8 .7 2 .8-.5 .8 14.3 .8-38.6 .8 9.2 .8 19.8 .8 9.5 .8-.7 .7 3.2 .8-31.6 .8 3.4 .8 14.7 .8 16.2 .8-11.2 .8 15.9 .8-.6 .8 1.5 .7-64.2 .8 36.6 .8 22.8 .8 2.6 .8 3.9 .8-109.6 .8 5.7 .8-72.1 .7 65.3 .8-32.5 .8 60.5 .8 28.5 .8-.4 .8 14.3 .8-46.5 .8 44.2 .8-.1 .7 20 .8-2.2 .8-2.4 .8-7.1 .8 2.5 .8 15.2 .8-4 .8 9.6 .7-1.7 .8-32.9 .8 22.1 .8 4.7 .8 3.1 .8-10.8 .8 9.6 .8 6.9 .8 .3 .7-23.7 .8 14 .8-2.6 .8 9.9 .8 1.6 .8-8.6 .8 14.4 .8-21.1 .7-92.3 .8 48.1 .8 10.5 .8 14.9 .8 9.9 .8 12.2 .8-29.5 .8 17.4 .8 10.7 .7 4 .8 4 .8 4.1 .8 1 .8-25.7 .8 8.8 .8 1.6 .8 15.7 .8 1.9 .7 4.5 .8-2.8 .8-26.1 .8 19.9 .8-5.3 .8 4.5 .8 9.1 .8 6.6 .7-185.3 .8 10.2 .8-10.2 .8 9.1 .8 42.5 .8 10.2 .8-1.6 .8 45.9 .8 25 .7-55.3 .8 48.5 .8 8.1 .8 31 .8 .1 .8-163.5 .8 23.8 .8-14.8 .7 37 .8 18.2 .8 15.1 .8 10 .8 15.4 .8-66.1 .8 43.7 .8 26.9 .8-.1 .7 18.7 .8 7.6 .8 .5 .8 21 .8-50.9 .8 24.2 .8 7.7 .8 25.6 .7 3.4 .8-2.3 .8-164.6 .8 0 .8 0 .8 0 .8 0 .8 13.1 .8 40.7 .7-26.4 .8 35.7 .8 37.8 .8-4.7 .8 14.4 .8 17 .8 27.9 .8-60.3 .7 34.9 .8 41.8 .8-171.9 .8 0 .8 0" stroke="#BE1B1E" stroke-width="1.7"/><path d="M35 256.9l.8-.2 .8-1.7 .8 .4 .8-.3 .7-.6 .8 1.3 .8-.1 .8-.2 .8 0 .8 .1 .8 .2 .8-.2 .7 .7 .8 .1 .8 .2 .8 .1 .8-.2 .8-.7 .8 0 .8 .5 .8-.1 .7 .8 .8-.3 .8-.2 .8-.4 .8-.5 .8-.2 .8 0 .8 .8 .7 .4 .8 .2 .8-.5 .8-.3 .8-.3 .8-.1 .8 .5 .8-.1 .8-.4 .7-.2 .8 0 .8-.3 .8-.1 .8 .8 .8-.1 .8 .2 .8 .6 .7-.2 .8 0 .8 0 .8-.4 .8 0 .8 .2 .8 .6 .8-.1 .8-.6 .7 0 .8-1 .8 .4 .8 .2 .8-.4 .8 .8 .8-.4 .8 .2 .7 .5 .8 .2 .8 0 .8-.9 .8-.3 .8 0 .8 .2 .8 1.1 .8-.3 .7-.1 .8 .1 .8-.1 .8-.4 .8 .1 .8 .1 .8-.5 .8 .5 .8 .1 .7 0 .8 .4 .8 .6 .8-.1 .8-.5 .8 0 .8-.2 .8-.3 .7 .1 .8-.3 .8 0 .8-.1 .8-.2 .8 .6 .8-.5 .8 .3 .8 .1 .7-.6 .8 0 .8-.2 .8 .2 .8 .2 .8 0 .8 0 .8 .1 .7 .2 .8 .3 .8 .4 .8 .2 .8 .2 .8-.3 .8 .1 .8-.2 .8-.2 .7 0 .8-.3 .8-1 .8 .5 .8 .3 .8-.6 .8 .5 .8-.5 .7 .3 .8 .1 .8 .7 .8 .3 .8-.3 .8 .3 .8 0 .8 .2 .8-.4 .7-.3 .8-.2 .8-.3 .8 .5 .8-.4 .8 .2 .8 .1 .8 0 .7 .8 .8-.6 .8-.8 .8 .2 .8 .1 .8 .3 .8 .6 .8-.7 .8-.1 .7-.7 .8-.1 .8 .4 .8 .2 .8 .6 .8-.3 .8-.4 .8-.2 .7-.3 .8 .2 .8 .5 .8 0 .8 0 .8 .1 .8-.3 .8-.8 .8 .6 .7 .3 .8 .4 .8-.1 .8 0 .8-.7 .8 .4 .8 .1 .8 0 .7 .3 .8 0 .8 .7 .8 0 .8 .4 .8-.1 .8 0 .8 0 .8 0 .7-.2 .8-.4 .8 0 .8-.2 .8-.2 .8 .7 .8-.8 .8 0 .7-.1 .8-.1 .8 .5 .8 .2 .8 0 .8-.1 .8-.4 .8-.7 .8 .1 .7-.4 .8-.2 .8 .8 .8 0 .8 .3 .8 .5 .8-.4 .8 .1 .8 0 .7-.5 .8 .3 .8 .3 .8 .2 .8 .7 .8-.3 .8-.3 .8-.4 .7 .1 .8 .6 .8 .1 .8 .3 .8-.8 .8-.1 .8 .3 .8-.2 .8 .8 .7-.6 .8-.3 .8 .2 .8-.5 .8 .9 .8 .2 .8-.3 .8 .5 .7-.2 .8-.2 .8 0 .8-.3 .8-.1 .8-.4 .8-.5 .8-.1 .8 0 .7 .5 .8-.5 .8-.1 .8 .2 .8-.4 .8 .9 .8 .4 .8-.2 .7-.2 .8-.1 .8-.2 .8-.5 .8 .9 .8 0 .8 .3 .8 .3 .8-.2 .7 .1 .8 .1 .8 .3 .8-.2 .8 .4 .8-.1 .8-.1 .8-.6 .7-.7 .8 0 .8 0 .8 .8 .8 0 .8-.3 .8 .1 .8 0 .8 .3 .7 .2 .8-.4 .8-.2 .8 0 .8 0 .8 .5 .8-.4 .8 .1 .7 0 .8 0 .8 .7 .8 .1 .8-.4 .8-.2 .8 0 .8 .1 .8 .1 .7-.4 .8 0 .8-.6 .8 0 .8 .3 .8-.3 .8 .7 .8 0 .7 .3 .8 .3 .8-.5 .8-.2 .8 0 .8-.2 .8 .6 .8 .5 .8-.2 .7 .1 .8-1 .8-.7 .8-.1 .8 0 .8 .6 .8 .5 .8 .1 .7 .1 .8-.1 .8-.3 .8 .4 .8-.4 .8 .5 .8 .1 .8 0 .8 .1 .7-.2 .8 0 .8 0 .8 0 .8-.3 .8 0 .8 .1 .8 .1 .7 .3 .8-.2 .8-.3 .8-1 .8 0 .8-.3 .8-.1 .8 .3 .8-.4 .7 .7 .8 .1 .8 .6 .8-.4 .8-.1 .8 0 .8-.3 .8 .6 .8-.3 .7 0 .8 .4 .8 .1 .8 .2 .8-.4 .8-.4 .8-.4 .8-.1 .7-.1 .8 .5 .8 .5 .8-.1 .8 .6 .8 0 .8 0 .8 .4 .8-.3 .7-.4 .8-.7 .8 .1 .8 0 .8 .2 .8-.4 .8-.1 .8-.1 .7-.1 .8 .7 .8-.5 .8 .5 .8-.2 .8-.5 .8 .2 .8 .1 .8 .2 .7 .4 .8 .3 .8-.6 .8-.3 .8 .2 .8-.5 .8 .3 .8 .6 .7 .2 .8 .1 .8-.2 .8-.4 .8 0 .8 .1 .8 0 .8 .4 .8-.7 .7-.3 .8 0 .8-.6 .8-.2 .8 .9 .8 .3 .8-.1 .8 .5 .7-.5 .8 0 .8 .6 .8 .1 .8 .3 .8-.2 .8 .1 .8-.2 .8-.1 .7 .2 .8-.5 .8 .3 .8 .1 .8-.1 .8 .1 .8-.2 .8-.4 .7-.8 .8 .1 .8 .1 .8-.5 .8 .8 .8 .3 .8-.4 .8 .5 .8-.7 .7 .1 .8 .8 .8 .3 .8 .4 .8-.2 .8-.2 .8-.6 .8 .3 .7 .2 .8-.2 .8-.5 .8 .1 .8 0 .8 .4 .8 1.4 .8-.4 .8-.1 .7 0 .8 0 .8 .2 .8 .1 .8-.3 .8-.4 .8 0 .8 0 .7-.6 .8 .1 .8-.4 .8-.4 .8 1 .8 .1 .8-.1 .8 .1 .8-.4 .7-.3 .8 .2 .8-.5 .8-.3 .8 .1 .8 .2 .8 .7 .8-.2 .7-.1 .8-.5 .8-.2 .8 .9 .8 .2 .8 .1 .8 0 .8-.9 .8-.5 .7-.4 .8 .3 .8 .3 .8 .1 .8 .5 .8-.3 .8 .3 .8 .9 .8-.2 .7-.2 .8 .2 .8-.6 .8 .2 .8 0 .8-.4 .8 .7 .8 .3 .7 .2 .8 .6 .8-.1 .8-.2 .8 .1 .8-.3 .8-.6 .8 .3 .8-.4 .7 0 .8 .4 .8-.2 .8-.4 .8-.5 .8 .1 .8 0 .8 .6 .7 .1 .8-.6 .8-.1 .8 0 .8-.1 .8 .4 .8-.1 .8 .1 .8-.3 .7 0 .8 0 .8-.6 .8 1 .8 0 .8-.1 .8 .7 .8 .1 .7 .2 .8 .2 .8-.7 .8 .1 .8-.6 .8 .3 .8 .6 .8-.5 .8 .2 .7-.1 .8-.1 .8 .1 .8 .3 .8-.6 .8-.7 .8-.3 .8-.6 .7 .8 .8 .6 .8 .7 .8 .5 .8-.3 .8 .1 .8 .2 .8-.9 .8 .2 .7-.1 .8-.1 .8 .6 .8-.2 .8-.6 .8-.8 .8-.4 .8 .4 .7 .1 .8 .8 .8 .5 .8-.8 .8 .1 .8 0 .8-.5 .8 .8 .8 .4 .7-.5 .8 .5 .8-.6 .8-.1 .8-.1 .8-.2 .8 .4 .8 0 .7 .6 .8-.5 .8-.1 .8 .1 .8-.4 .8 .2 .8 .1 .8-.3 .8 .6 .7 .3 .8-.1 .8 0 .8-.3 .8-.4 .8 0 .8 .3 .8 0 .7 .8 .8-.4 .8-.5 .8 .2 .8 .1 .8 .6 .8 .1 .8-.6 .8-1.2 .7-.6 .8 .4 .8 .5 .8 .3 .8 .6 .8 .1 .8 0 .8 .6 .8-.2 .7-.7 .8-.4 .8 .3 .8 0 .8 .5 .8 .2 .8-.2 .8 0 .7 0 .8 .4 .8-.2 .8 .2 .8-1 .8 0 .8-.8 .8-.1 .8 .9 .7-.1 .8 .6 .8 .1 .8 .2 .8-.2 .8 .5 .8-.2 .8-.4 .7-.2 .8-.1 .8-.2 .8-.3 .8 .2 .8-.3 .8-.2 .8 .5 .8 0 .7 .1 .8 .3 .8 0 .8 0 .8-.1 .8 .1 .8-.9 .8 0 .7-.2 .8 .2 .8 .2 .8-.1 .8 .3 .8 .2 .8 .3 .8 .3 .8 .1 .7 0 .8 0 .8-.5 .8 .1 .8-.2 .8 .3 .8 .3 .8-.4 .7-.3 .8 0 .8 0 .8 .2 .8 .4" stroke="#A8A8A8" stroke-width="1.1"/></g><line x1="34.25" y1="257.5" x2="579.7" y2="257.5" stroke="#000" stroke-width="3" stroke-linecap="round" stroke-dasharray="1.5 6" clip-path="url(#c0)"/><rect x="35.0" y="28.3" width="544.7" height="231.5" fill="none" stroke="#111" stroke-width="2"/><line x1="28.2" y1="257.8" x2="35.0" y2="257.8" stroke="#111" stroke-width="2"/><text x="12.82" y="265.32" font-size="21" stroke="#000" stroke-width="0.65">0</text><line x1="28.2" y1="225.0" x2="35.0" y2="225.0" stroke="#111" stroke-width="2"/><text x="12.82" y="232.53" font-size="21" stroke="#000" stroke-width="0.65">2</text><line x1="28.2" y1="192.2" x2="35.0" y2="192.2" stroke="#111" stroke-width="2"/><text x="12.82" y="199.75" font-size="21" stroke="#000" stroke-width="0.65">4</text><line x1="28.2" y1="159.4" x2="35.0" y2="159.4" stroke="#111" stroke-width="2"/><text x="12.82" y="166.96" font-size="21" stroke="#000" stroke-width="0.65">6</text><line x1="28.2" y1="126.7" x2="35.0" y2="126.7" stroke="#111" stroke-width="2"/><text x="12.82" y="134.18" font-size="21" stroke="#000" stroke-width="0.65">8</text><line x1="28.2" y1="93.9" x2="35.0" y2="93.9" stroke="#111" stroke-width="2"/><text x="1.14" y="101.39" font-size="21" stroke="#000" stroke-width="0.65"> 0</text><path transform="translate(1.14,101.39) scale(0.01025,-0.00986)" d="M763 0H583V1147Q518 1085 412 1023Q307 961 223 930V1104Q374 1175 487 1276Q600 1377 647 1472H763Z" stroke="#000" stroke-width="0.65"/><line x1="28.2" y1="61.1" x2="35.0" y2="61.1" stroke="#111" stroke-width="2"/><text x="1.14" y="68.60" font-size="21" stroke="#000" stroke-width="0.65"> 2</text><path transform="translate(1.14,68.60) scale(0.01025,-0.00986)" d="M763 0H583V1147Q518 1085 412 1023Q307 961 223 930V1104Q374 1175 487 1276Q600 1377 647 1472H763Z" stroke="#000" stroke-width="0.65"/><line x1="28.2" y1="28.3" x2="35.0" y2="28.3" stroke="#111" stroke-width="2"/><text x="1.14" y="35.82" font-size="21" stroke="#000" stroke-width="0.65"> 4</text><path transform="translate(1.14,35.82) scale(0.01025,-0.00986)" d="M763 0H583V1147Q518 1085 412 1023Q307 961 223 930V1104Q374 1175 487 1276Q600 1377 647 1472H763Z" stroke="#000" stroke-width="0.65"/><line x1="177.0" y1="259.8" x2="177.0" y2="265.8" stroke="#111" stroke-width="2"/><text x="137.88" y="289.80" font-size="20.5" stroke="#000" stroke-width="0.6">2023-07</text><line x1="321.0" y1="259.8" x2="321.0" y2="265.8" stroke="#111" stroke-width="2"/><text x="281.88" y="289.80" font-size="20.5" stroke="#000" stroke-width="0.6">2024-0 </text><path transform="translate(345.72,289.80) scale(0.01001,-0.00963)" d="M763 0H583V1147Q518 1085 412 1023Q307 961 223 930V1104Q374 1175 487 1276Q600 1377 647 1472H763Z" stroke="#000" stroke-width="0.6"/><line x1="465.0" y1="259.8" x2="465.0" y2="265.8" stroke="#111" stroke-width="2"/><text x="425.88" y="289.80" font-size="20.5" stroke="#000" stroke-width="0.6">2024-07</text><text x="0" y="0" transform="translate(306.4,22.2) scale(0.98,1)" font-size="25" font-weight="bold" text-anchor="middle">Bitcoin</text><rect x="48.8" y="41.4" width="9.8" height="8.5" fill="#3a3a3a" stroke="#000" stroke-width="2"/><text x="72.3" y="52.6" font-size="14.5" stroke="#000" stroke-width="0.45">Bitcoin</text><rect x="48.8" y="58.8" width="9.8" height="8.5" fill="#FFA500" stroke="#000" stroke-width="2"/><text x="72.3" y="70.0" font-size="14.5" stroke="#000" stroke-width="0.45">ETH</text><rect x="48.8" y="76.2" width="9.8" height="8.5" fill="#3C78B4" stroke="#000" stroke-width="2"/><text x="72.3" y="87.4" font-size="14.5" stroke="#000" stroke-width="0.45">LINK</text><rect x="48.8" y="93.5" width="9.8" height="8.5" fill="#A0521E" stroke="#000" stroke-width="2"/><text x="72.3" y="104.8" font-size="14.5" stroke="#000" stroke-width="0.45">BAT</text><rect x="48.8" y="110.9" width="9.8" height="8.5" fill="#00A550" stroke="#000" stroke-width="2"/><text x="72.3" y="122.2" font-size="14.5" stroke="#000" stroke-width="0.45">THETA</text><rect x="48.8" y="128.3" width="9.8" height="8.5" fill="#CC2222" stroke="#000" stroke-width="2"/><text x="72.3" y="139.6" font-size="14.5" stroke="#000" stroke-width="0.45">XTZ</text><rect x="48.8" y="145.8" width="9.8" height="8.5" fill="#C8C8C8" stroke="#000" stroke-width="2"/><text x="72.3" y="157.0" font-size="14.5" stroke="#000" stroke-width="0.45">OIL</text>
<line x1="658.5" y1="225.0" x2="1196.0" y2="225.0" stroke="#cfcfcf" stroke-width="1.5" stroke-dasharray="3.6 3.8"/><line x1="658.5" y1="192.2" x2="1196.0" y2="192.2" stroke="#cfcfcf" stroke-width="1.5" stroke-dasharray="3.6 3.8"/><line x1="658.5" y1="159.4" x2="1196.0" y2="159.4" stroke="#cfcfcf" stroke-width="1.5" stroke-dasharray="3.6 3.8"/><line x1="658.5" y1="126.7" x2="1196.0" y2="126.7" stroke="#cfcfcf" stroke-width="1.5" stroke-dasharray="3.6 3.8"/><line x1="658.5" y1="93.9" x2="1196.0" y2="93.9" stroke="#cfcfcf" stroke-width="1.5" stroke-dasharray="3.6 3.8"/><line x1="658.5" y1="61.1" x2="1196.0" y2="61.1" stroke="#cfcfcf" stroke-width="1.5" stroke-dasharray="3.6 3.8"/><g clip-path="url(#c1)" fill="none" stroke-linejoin="round"><path d="M652 149.8l.8 3.1 .8 2.6 .8-.1 .7 9.1 .8-1.9 .8 15.1 .8 5.3 .8 2.4 .8-18.9 .8-.4 .8-2.2 .7 3.5 .8-4.2 .8-5.2 .8 4.5 .8-4.4 .8 4 .8 4.9 .8 13.1 .7 1.7 .8-23.7 .8 5.4 .8-9.8 .8-2.8 .8-17 .8-33.1 .8 .5 .7 51.2 .8-9.1 .8-19.6 .8-58.4 .8 21.2 .8-9.6 .8 19.1 .8 5.8 .7-12.2 .8-7.1 .8 23 .8-6.2 .8 9.5 .8 6.6 .8-13.7 .8-4.3 .7 25.2 .8-3.7 .8 6.2 .8 13 .8-12.1 .8 23 .8-5.5 .8-41.6 .7 15.9 .8 6 .8-4.7 .8 10.9 .8 2.4 .8-5.5 .8 3.4 .7 3.7 .8 12.9 .8 2.2 .8-11 .8 5.8 .8-38.6 .8 13.8 .8-.2 .7 9.4 .8-12.4 .8 17.6 .8-3.1 .8 2.1 .8-2 .8 16.1 .8-3.1 .7 21.4 .8-17.8 .8 3.1 .8 6.1 .8-.2 .8-2.3 .8 .9 .8 6.2 .7-13.4 .8 .3 .8 3 .8-4.4 .8 14.8 .8-.4 .8 15.2 .8 13.1 .7-13.6 .8-.7 .8-1.1 .8-6.7 .8-25.4 .8-.2 .8 40.7 .8-1.9 .7 6.6 .8-36.5 .8 7.3 .8 8 .8-7 .8 11.6 .8-7.8 .8 .5 .7 9.3 .8 2.4 .8 .7 .8 9 .8-28.8 .8 10.6 .8-6 .7 5.3 .8 3.8 .8 3.1 .8 22.1 .8-16.8 .8-7.4 .8 2.6 .8-2.3 .7 17.4 .8-8 .8 6.3 .8-22.1 .8-9.2 .8 1.3 .8 9.3 .8 4.5 .7-1.9 .8 25.6 .8-.3 .8-27.3 .8 4.9 .8 1.1 .8 .4 .8 2.1 .7-2 .8 .5 .8 17.7 .8 .1 .8-6 .8-10.6 .8 1.9 .8-7.8 .7 6.7 .8 3.3 .8-8.1 .8 6 .8-1.2 .8-2.9 .8 1.3 .8 1.7 .7 4.5 .8-1.1 .8-11.7 .8 .4 .8-27.7 .8-9.5 .8 14.8 .7-16.4 .8 8 .8 10.9 .8 7.6 .8-6.5 .8 .4 .8-.2 .8 .6 .7-1.8 .8 .4 .8 10.9 .8-9.3 .8 6.8 .8 4.3 .8 .7 .8-8.5 .7 2.2 .8 12.4 .8-5.2 .8 23.3 .8-19.6 .8 2.6 .8 2.2 .8-6 .7 8.2 .8-.6 .8 1.9 .8 12.2 .8-3.5 .8-10 .8-42.6 .8 7.9 .7 3.3 .8 23.6 .8 6.6 .8-2.3 .8-21.6 .8 5.3 .8 2.7 .8 11.5 .7-9.9 .8 11.9 .8-7.6 .8-3.9 .8 5.6 .8 7.9 .8 3.7 .8 4.6 .7-8.3 .8-11.5 .8 10.3 .8-5.8 .8 10.5 .8 .5 .8-2.6 .7 2.9 .8-1.2 .8 1.8 .8-4.6 .8-22.6 .8 2.8 .8 12.3 .8-2 .7-8.2 .8 8.6 .8 8 .8-13.9 .8 14.5 .8 3.1 .8-6.5 .8 1.8 .7 4.1 .8 5 .8 .6 .8-5.7 .8 6.1 .8 5.5 .8-3.2 .8-4.6 .7 9 .8-1.9 .8 3.6 .8 10.3 .8-18.1 .8 3.4 .8-5.1 .8-33.5 .7 18.4 .8-4.6 .8 11.2 .8 3.3 .8-7.5 .8 6.5 .8 1.4 .8 2.7 .7-25.1 .8 9.6 .8-2.2 .8 6.6 .8-4.5 .8 12 .8 9.1 .8 17.6 .7-29.1 .8 7.5 .8 3.9 .8-4.7 .8 4.3 .8 1.7 .8 2.3 .7 1.9 .8-25.6 .8 6.5 .8 2.3 .8-1.3 .8-1.2 .8 2.5 .8 1.9 .7 .8 .8-6.1 .8 7.9 .8-1.4 .8-2 .8 6.9 .8 19.3 .8-1.7 .7-1.3 .8-17.3 .8 .7 .8 1.3 .8 4 .8-6.9 .8 12.9 .8-6.2 .7-3.7 .8 5.2 .8 14.1 .8-2.5 .8-14.1 .8-7 .8 7.3 .8-8.1 .7-.8 .8-3.2 .8 1.2 .8 1.6 .8 0 .8 16.5 .8-3 .8-14 .7-4.6 .8 1.5 .8-1.9 .8 9 .8-7.8 .8-18.8 .8-3.3 .8 1.6 .7-24.9 .8 5.4 .8 3.5 .8-4.1 .8 17.3 .8-3.2 .8 8 .7-4.5 .8 8.2 .8 .5 .8-4.4 .8-12.1 .8-42.5 .8 6.7 .8 1.9 .7 19.7 .8-8.2 .8-17 .8 2.8 .8-2.9 .8 2 .8 25.9 .8-13.9 .7 13 .8 .6 .8 14.1 .8-1.7 .8 16 .8 23.1 .8-14.3 .8 8.9 .7-5.3 .8 6.6 .8 2.2 .8 20 .8 5.5 .8-20.2 .8 9.5 .8-2.6 .7 5.8 .8-3.7 .8 3 .8-2.7 .8 1.1 .8 14.9 .8-15.4 .8-8.2 .7-.6 .8 6.1 .8 1.4 .8-10.6 .8-2.7 .8 .8 .8-1 .7-5.5 .8-3.4 .8 .8 .8 6.7 .8-2.9 .8-40.3 .8 5.6 .8-3.4 .7 8.7 .8 6.8 .8-4.9 .8 5.8 .8-4.8 .8 5 .8 5.7 .8 10.7 .7-.8 .8-3.1 .8 8 .8-20 .8 3.5 .8-6.7 .8 6.4 .8 6.5 .7 9.2 .8 .8 .8 2.5 .8 7.1 .8-29.6 .8 21.3 .8-.9 .8-16.4 .7 12.7 .8 2.9 .8 2.2 .8 3.2 .8 8.8 .8 4.8 .8 4.8 .8-9.5 .7 20.2 .8-3 .8-19 .8 2.5 .8-3 .8 4.1 .8-6.1 .8-1.4 .7-3.7 .8-.9 .8 1.9 .8-3.5 .8-6.6 .8-10.3 .8-9.1 .7-.9 .8 8.3 .8 0 .8-12.4 .8-4.8 .8-51.9 .8-6.9 .8 2.8 .7 6.5 .8-3.3 .8-8.9 .8 1.9 .8 4.2 .8-15 .8 19.9 .8-.8 .7 8.5 .8-3 .8 23.6 .8 1.5 .8-23.9 .8-1.6 .8 3.8 .8 13.3 .7 9.1 .8-80.9 .8 19.1 .8 6.1 .8 20.5 .8 2.5 .8-15 .8 31.2 .7 25.3 .8-3.9 .8-33.9 .8-3.9 .8 9.9 .8-11 .8-3 .8 10.3 .7-2.9 .8-8 .8 22 .8 1.4 .8-3.7 .8 12.7 .8 34.7 .8 4.4 .7-33 .8 19.3 .8 4.2 .8-70 .8 1.7 .8 4.4 .8-2.4 .7 21.5 .8-8.8 .8 8.8 .8 6.3 .8 6.2 .8 6.1 .8 27.2 .8 6.1 .7-24.5 .8 2.7 .8 0 .8 6.7 .8 12 .8-9.9 .8-15.7 .8 .2 .7 10.7 .8 3.5 .8 1.4 .8 3.8 .8 4.8 .8 7.9 .8-14.5 .8 14.8 .7-2.8 .8-2.9 .8 14.4 .8 0 .8-3.1 .8-12.6 .8 5.4 .8-10.9 .7 41.3 .8-3.8 .8-23.2 .8-.1 .8-2.8 .8-4.9 .8 6.7 .8 .2 .7-6 .8 1 .8-7.5 .8 5 .8 3.9 .8 2.5 .8-2.4 .8 .8 .7 .8 .8-8.4 .8-78 .8 9.9 .8-16.1 .8 30.4 .8 10 .7 3.9 .8-30.5 .8 2.3 .8 4.9 .8 3.2 .8 11.8 .8 5.3 .8-18.9 .7 11.5 .8 9.5 .8 4.4 .8 6.8 .8 2 .8 12.4 .8-5 .8-7.1 .7 11.2 .8 9.4 .8 2 .8-.4 .8-24.3 .8 31.8 .8 3.4 .8-14.2 .7-9.4 .8 8.9 .8 2.1 .8 37.1 .8 5.6 .8-40.2 .8 2.7 .8-.6 .7 6.3 .8 10.8 .8-16.9 .8-.6 .8-3.2 .8 4.1 .8-7.4 .8 6.4 .7 1.7 .8 15.2 .8 9.7 .8-19.3 .8 .9 .8 6 .8-4.1 .7 1.6 .8 4.6 .8-34.9 .8 5.3 .8 1.4 .8 6 .8 21.8 .8 11.4 .7-4.3 .8-13.6 .8-8.4 .8-.6 .8 4.5 .8 2.9 .8 1.4 .8-4.4 .7 12.8 .8-5.3 .8-11.8 .8 .1 .8 1.3 .8 8.9 .8-1.2 .8-7.5 .7-19.2 .8-29.6 .8 11.1 .8 14.5 .8-1.9 .8 32.8 .8-4 .8-7.8 .7-10.8 .8 17.5 .8-7.3 .8 10.3 .8 3.5 .8 .9 .8-49.6 .8 4.8 .7 7 .8 16.6 .8 9 .8 10.3 .8 13.6 .8-6.3 .8-15.5 .8 4 .7 4.3 .8 2.5 .8-.7 .8-2.3 .8 9.2 .8-12.8 .8 11.2 .7 16.2 .8 1.8 .8-20.9 .8 3.3 .8-3.9 .8-23.4 .8 8 .8-14.8 .7 16.7 .8 2.4 .8 .5 .8-5.7 .8-68 .8-14.2 .8 .9 .8 21.1 .7-5 .8 13.3 .8-2.1 .8 .1 .8 6.2 .8 6.6 .8-1.9 .8-3.5 .7 12.4 .8 16.9 .8 1.8 .8-9.4 .8 9.8 .8-23.8 .8 14.4 .8 2.7 .7 4.1 .8-12.8 .8 10.1 .8 13.5 .8-14.3 .8-6.6 .8 2.4 .8 8.1 .7-2.9 .8-.7 .8-1.4 .8 4.9 .8 6.7 .8-9.9 .8 13.3 .8 7.9 .7-16.2 .8-3.4 .8 1.4 .8-3.1" stroke="#2a2a2a" stroke-width="1.7"/><path d="M652 148l.8-9.9 .8 .5 .8 2.5 .7 9.3 .8-5.2 .8-4.1 .8 7.1 .8-11.5 .8 3.6 .8 9.9 .8 11.8 .7 5 .8-20.6 .8 1.6 .8 .4 .8-.8 .8 .7 .8-2.7 .8-.9 .7 8.6 .8-3.9 .8-5.8 .8-1.4 .8 1.5 .8-27.2 .8-6.9 .8 9.4 .7-14.4 .8 .2 .8 9.8 .8-100.5 .8-10.4 .8 1.1 .8-1.1 .8 39.6 .7-39.6 .8 29.9 .8-1.3 .8 20.4 .8-1.1 .8 30.3 .8-24.7 .8-23.3 .7 26.2 .8 52.6 .8 7.3 .8 9.3 .8-28.9 .8-5.8 .8 21.9 .8-31.8 .7-4.7 .8-6.3 .8 13.6 .8 4.9 .8-4.3 .8 25.7 .8-1.1 .7 21.9 .8-10 .8-5.3 .8 9 .8 6 .8-49.5 .8-5.8 .8-1.7 .7-6 .8 15.7 .8 51.5 .8 4.5 .8-33.1 .8-1.3 .8 23.5 .8-2.4 .7 3.2 .8 6.4 .8-1.1 .8-1.8 .8 .3 .8-51.8 .8 23.5 .8-2.4 .7 10.6 .8 4.1 .8-3.6 .8-4.6 .8 14.8 .8-1.3 .8 13.2 .8-3.7 .7 10.4 .8-2.8 .8 4.8 .8 2.7 .8-49.1 .8 6.2 .8 15.3 .8-19.3 .7 28.1 .8-11.4 .8-7 .8 19.1 .8 3.9 .8 5.3 .8-1.9 .8 9.9 .7-3.9 .8 27.5 .8 2 .8-21 .8 2.5 .8 2.7 .8-15.2 .7 13.9 .8 31.7 .8-9 .8-17.7 .8-.4 .8-9.4 .8 12.4 .8 11.2 .7-11.3 .8 13.5 .8-17.3 .8-33.6 .8-17.6 .8 8.8 .8 12.4 .8 5.4 .7 1.2 .8 10.1 .8-11.5 .8 13.5 .8-1.3 .8 4.8 .8 4.1 .8-4.7 .7-1 .8-.9 .8 4.7 .8 6.2 .8-5.9 .8 11.3 .8-6.5 .8-2.3 .7-.2 .8 17.8 .8 2 .8-13.6 .8-1.8 .8 5.1 .8-2 .8 4.2 .7-5.4 .8-7.6 .8-5.5 .8-31.2 .8-.1 .8 .7 .8 10.9 .7-9.2 .8 10.3 .8 4.2 .8-5.2 .8 10.4 .8 13.7 .8-12.2 .8-3.3 .7 3.6 .8-15.7 .8 10.4 .8 2.5 .8 10.8 .8 22.7 .8-20.9 .8 8.3 .7-20.9 .8-29.7 .8 7 .8-5 .8 14.7 .8-11.4 .8 11.9 .8 10.7 .7 10 .8-4.7 .8 26.9 .8-15.6 .8-1.5 .8 2.8 .8-25.9 .8-8 .7 18.7 .8 4.6 .8-3.5 .8 5 .8-25.8 .8 15.9 .8 5.9 .8 8.7 .7 9.3 .8 14.4 .8-11.5 .8-23.1 .8-.7 .8 8 .8-11.3 .8 24.9 .7-1.6 .8-8.4 .8-15 .8 13.4 .8 32.7 .8-7.3 .8-12.5 .7-1 .8-9 .8 12.6 .8 2.4 .8-39.7 .8 9.6 .8 1.7 .8 10.8 .7 20.2 .8 1.2 .8 7.1 .8-10.2 .8 7.9 .8-19.9 .8 10.8 .8-8.9 .7 5.8 .8 8.4 .8-6.4 .8 6.9 .8 6 .8-10 .8-16.6 .8 2.6 .7 5.8 .8 9.3 .8 .7 .8-5.3 .8 8.2 .8-8.9 .8-11.4 .8 11.8 .7-5.7 .8 18 .8-6.6 .8 .6 .8 5.8 .8-5 .8 1 .8 3.4 .7-13.7 .8-3.2 .8 2.5 .8-4.6 .8 1 .8 5.9 .8 3.2 .8-.3 .7 10.2 .8-4.8 .8 17.3 .8-18.2 .8-3.2 .8 16.7 .8-46.5 .7-17.9 .8 8.8 .8-4.7 .8 9 .8-4 .8 11 .8 20.3 .8-1.1 .7-12.5 .8-3.8 .8 14.5 .8-10.5 .8 6.6 .8-1.5 .8 1 .8 11.7 .7-2.8 .8 8.9 .8-13.6 .8 10.4 .8-10.6 .8 1.8 .8 4.1 .8-2.1 .7-15.2 .8 13.9 .8 5.5 .8-9.4 .8 5.8 .8 1.6 .8-12.7 .8 7.2 .7 2.6 .8-2.3 .8 2.7 .8-3.4 .8-.5 .8-.1 .8-1.2 .8-2.6 .7-.9 .8-1.4 .8-3.6 .8-48.1 .8 34.1 .8 5.8 .8-28.3 .8-6.7 .7 13.9 .8-12.2 .8-18.6 .8 41.3 .8-24.4 .8 27.6 .8-10.5 .7-5.8 .8 3.8 .8 17.4 .8 3.8 .8-3.4 .8-61.9 .8 16.8 .8 3.7 .7 2.9 .8-11.9 .8-19.1 .8-45.7 .8 24.5 .8-18.5 .8 54.6 .8-22 .7 28.3 .8-1.4 .8 15.8 .8 10.1 .8 6.5 .8 9.5 .8 11.9 .8-5.4 .7 38.2 .8-7.6 .8-11.2 .8 8.6 .8 9.4 .8 2.1 .8 1.1 .8-3.6 .7-1 .8 10.8 .8-.5 .8-4.2 .8 19.2 .8 3.1 .8-2.7 .8-32.3 .7 2.9 .8 1.3 .8 1 .8-2.4 .8-8.3 .8 13.5 .8 8.6 .7-25 .8 3.8 .8-2.1 .8-2.2 .8 10 .8-116.2 .8 35.5 .8 3.3 .7 29.1 .8-16.6 .8 6.3 .8 7.8 .8-4.3 .8 9.7 .8 9.7 .8 20 .7-10.3 .8 4.2 .8 6.9 .8-13.7 .8-1.6 .8-4.5 .8 3.5 .8 10.9 .7 33 .8-15.8 .8 11.6 .8-6.1 .8-22.2 .8 4.1 .8-32.2 .8 31.8 .7 9.7 .8-30.5 .8-10.3 .8 25.8 .8 22.6 .8-3.2 .8 7.2 .8-11.9 .7 10.2 .8-5.9 .8 2.6 .8-3.2 .8 2.4 .8-3 .8 7.3 .8-12.3 .7-5.1 .8 11.1 .8-4.1 .8-19.2 .8 0 .8-10 .8 11.6 .7-19.5 .8 3.6 .8-5.2 .8-18.7 .8-13.5 .8-41.5 .8-9.8 .8-12.1 .7-6.9 .8 11 .8-28.3 .8 2.2 .8 15 .8 42.6 .8-32.3 .8 4.8 .7-7.8 .8 36.4 .8-52.7 .8 30.7 .8-5.1 .8-19.3 .8 16.8 .8 3.6 .7 12.4 .8-4.2 .8-14.2 .8 4.9 .8 12.5 .8-3.2 .8-25.2 .8 18.9 .7 8.9 .8-7.4 .8-2.6 .8 2.6 .8 22.3 .8-15.6 .8-45 .8 0 .7 16.3 .8-16.3 .8 22 .8 29.3 .8-51.3 .8 50.5 .8 8.6 .8-36.6 .7-7.9 .8 24.2 .8 2.3 .8-24.7 .8 40.5 .8 10.9 .8-30.3 .7 25.2 .8-10.3 .8 13.4 .8 19.6 .8 4.4 .8 6.2 .8 3.8 .8-6.3 .7 1.9 .8 1.7 .8 22 .8 1.5 .8-11.1 .8 7.5 .8 12.4 .8 20.3 .7-14.8 .8-4.8 .8 6.7 .8-14.7 .8 13.3 .8-.5 .8 6 .8 2.1 .7-.3 .8-48.5 .8 4 .8 29.2 .8-26.5 .8 2.5 .8 21.4 .8-6.4 .7-3.6 .8-6.7 .8 15 .8-1.4 .8 8.2 .8-5.5 .8-6.3 .8 8.8 .7 .9 .8-1.2 .8-2.6 .8 11 .8-11.6 .8 8.6 .8-13.6 .8 3.5 .7 8.8 .8-5.5 .8-122.6 .8 35 .8-37.3 .8 8.2 .8 10.1 .7 15 .8 12.7 .8 3.3 .8-10.1 .8 18.2 .8 58.2 .8-9.1 .8-28.5 .7-2.4 .8 12.8 .8-1 .8 22.5 .8-10.5 .8 18.5 .8-36.9 .8 11.5 .7-6.3 .8 3.4 .8 9.1 .8 0 .8-4.3 .8-16.2 .8 5.7 .8 20.8 .7 4.8 .8 30.4 .8-.8 .8-25.1 .8 19.8 .8-36.1 .8 19.4 .8 10.7 .7-8.7 .8 2.3 .8-16.1 .8 8.1 .8 29.1 .8-13.4 .8 6.5 .8-10.4 .7 9.4 .8-4.3 .8-5.8 .8 10.1 .8-8.3 .8 3.9 .8 1.7 .7 .2 .8 8.7 .8-122.3 .8 27.6 .8 27.8 .8-6.7 .8-16.3 .8 19.2 .7 1.4 .8 18.5 .8-11.3 .8-2 .8 14.3 .8 11.2 .8 5.1 .8 16.1 .7-7 .8-10.9 .8 25.6 .8-10.4 .8 13.9 .8 1.8 .8 3.2 .8-29.8 .7-95.6 .8-5.1 .8 10.4 .8-2.6 .8 13.7 .8 23.2 .8 19.6 .8 11.7 .7 14.9 .8-20.7 .8 13.8 .8-8.5 .8 47.8 .8-23.7 .8 7.3 .8-4.2 .7-1.8 .8 20.2 .8-16.6 .8 13.6 .8 7.3 .8-3.6 .8-11.7 .8 3.5 .7 7.5 .8-36.6 .8 4.9 .8 15.5 .8 4.8 .8-4.3 .8 8.4 .7-8.1 .8 10.5 .8 5.9 .8 1.4 .8-6.5 .8 .7 .8-1.5 .8 4.1 .7 14.8 .8 2 .8-16.2 .8-18.6 .8-111.7 .8 6.7 .8-6.7 .8 17.7 .7 8.5 .8 9.2 .8 8.7 .8 5.2 .8 25.1 .8 .2 .8 5.8 .8-19 .7 16.7 .8 5 .8-4 .8 14.2 .8 6.8 .8-54.1 .8 17.9 .8-14.2 .7 2.6 .8 15.4 .8 10.9 .8 45 .8 2.3 .8-50.9 .8-4.5 .8 31.1 .7-24.8 .8 1.9 .8 17 .8 0 .8 .3 .8 15.8 .8-27.4 .8 8.9 .7 2.5 .8-1.1 .8-.5 .8 9.9" stroke="#F2A000" stroke-width="1.7"/><path d="M652 127.4l.8 19.2 .8-15.5 .8 9.2 .7-1.4 .8 10.4 .8-4.2 .8-3.9 .8-18.3 .8 20.4 .8 2.3 .8 3.8 .7-5.7 .8-1.2 .8 11.6 .8-12.9 .8 10.6 .8-8.6 .8 9.4 .8 5.9 .7-14.1 .8-14.7 .8 3 .8 3 .8 2.9 .8-10.9 .8 28.4 .8-7.1 .7-23.8 .8-119.4 .8-2.1 .8 6.7 .8-6.7 .8 0 .8 0 .8 0 .7 0 .8 0 .8 0 .8 0 .8 0 .8 5.7 .8-5.7 .8 16.7 .7-8.2 .8 30.6 .8 19.3 .8 1.7 .8 22.5 .8-23.7 .8 6.4 .8-17.6 .7 28.5 .8 18.5 .8-14.4 .8 26.1 .8 7 .8-22.8 .8 33.9 .7 19.9 .8 .4 .8-22.8 .8 9.1 .8-41.2 .8-18.1 .8-2.1 .8 11.3 .7 22.7 .8 20.9 .8-2.6 .8-38.1 .8 14.2 .8 1.6 .8 14.7 .8-3.6 .7 31.7 .8-22.3 .8 14.1 .8-6.7 .8 25.9 .8-55.1 .8-10.1 .8-11.6 .7 39.6 .8 4.4 .8-8.2 .8 8.2 .8 13 .8 1 .8 6 .8-4.7 .7 2.5 .8-7.1 .8 11.3 .8 4.9 .8-49.3 .8-4.6 .8 24.5 .8 1.1 .7-7 .8-22.5 .8 33.9 .8-9.3 .8 10.3 .8 8.7 .8 32.4 .8 .8 .7-13.6 .8-20.1 .8 11.4 .8 2 .8 8.3 .8 6.1 .8 1.9 .7-5.6 .8-2.1 .8-5.4 .8 4.6 .8-12.4 .8-9.9 .8 23.4 .8-6.1 .7 17.7 .8 8.8 .8 5.8 .8-61 .8 14 .8 8.9 .8-13.5 .8 6.2 .7 7.2 .8 3.3 .8 13.7 .8-8.1 .8-13.2 .8 6.8 .8-3 .8 26 .7-17.5 .8 27 .8-1 .8-26.3 .8-.3 .8 3.5 .8 .7 .8 12.1 .7-3.4 .8 5.8 .8-24.8 .8 19.4 .8-12.5 .8-1.5 .8 23.6 .8-5.1 .7-25.8 .8 7.8 .8 6.3 .8-6.8 .8-24.2 .8-9.8 .8-3.6 .7-21.9 .8 28.1 .8 2.4 .8 10.3 .8-4 .8 .8 .8 14.1 .8-16.5 .7 5.2 .8 2.2 .8-14.8 .8 22.9 .8-65.8 .8-.7 .8 20.5 .8 1.7 .7-2.3 .8 21.1 .8 11 .8 7.3 .8 12 .8 7.2 .8-9 .8 4 .7 3.3 .8-38.8 .8 2.2 .8-53.1 .8-7.7 .8 12.7 .8 14.1 .8 34.4 .7-1.4 .8-25.1 .8 24.9 .8 7 .8-35.3 .8 12 .8 33.9 .8 8.2 .7 3.8 .8-8.3 .8-39.5 .8 1.9 .8 16.2 .8 17.9 .8-13.1 .8 29.8 .7 2 .8-15.9 .8 6.9 .8-.5 .8 4.7 .8 9.1 .8-7.8 .7 12.6 .8-5.6 .8 5.4 .8-15.9 .8-32.3 .8 5.1 .8 11 .8 31.8 .7-.6 .8-41.4 .8 17.4 .8-3.8 .8 2.8 .8 32.6 .8-17.9 .8-1.7 .7-5.2 .8 9.7 .8 2.6 .8-1.8 .8 7.5 .8-12.9 .8 21.9 .8-16.4 .7 2.6 .8 17.8 .8-10.9 .8 4.9 .8 9.5 .8 7.3 .8-41.5 .8 13.8 .7-.5 .8-9.7 .8 13.9 .8 15.4 .8-3.1 .8-2.7 .8-10.4 .8 13.2 .7-50.3 .8 2.3 .8 11.5 .8-32.3 .8 23.7 .8-12.2 .8 20.4 .8 18.5 .7-1.4 .8 22.2 .8-1 .8-4.5 .8-7.8 .8 2.1 .8-29.1 .7 19.8 .8 8.1 .8-31.3 .8-10.3 .8 .2 .8 4.4 .8 17.4 .8-15.7 .7 14 .8-8.5 .8 13.8 .8 2.9 .8 21.9 .8-8.9 .8-11.6 .8 .7 .7 7.5 .8-1.4 .8-1.3 .8-5.8 .8 2.2 .8 3.4 .8-5.8 .8-23 .7 21.8 .8-10.9 .8 14.6 .8-5.4 .8 14 .8-12 .8 13.5 .8-8.4 .7 4.1 .8 10.3 .8-4.5 .8-18 .8 4.2 .8-6.8 .8 5.5 .8 20.9 .7-21.4 .8 5.4 .8 11.6 .8-40.3 .8-40.1 .8 9.6 .8-20.6 .8 15.3 .7-11.5 .8 3.7 .8-11.8 .8 47.6 .8-32.6 .8 24.1 .8-3.3 .7 11 .8 40 .8-18.9 .8 11.6 .8-27.4 .8-71.7 .8-15.1 .8-8.3 .7 29.8 .8 8.4 .8 34.7 .8-12.3 .8-23.1 .8-9.6 .8-21.1 .8 45.6 .7 3 .8-.3 .8-16.9 .8 23.9 .8 14.9 .8 11.4 .8 1.1 .8 19 .7 20.1 .8 14.2 .8-31.4 .8 12 .8 4 .8 9.2 .8-6.3 .8 17.6 .7-7.5 .8 13.2 .8-2.1 .8 3.6 .8-7.8 .8 1.4 .8-4.7 .8-5.6 .7 10.5 .8-10.3 .8-4.3 .8 8.1 .8 5.2 .8-30 .8 18.7 .7-18.2 .8-11.9 .8 19.1 .8 11.7 .8-19.6 .8-66.9 .8-23.3 .8 37.3 .7-.4 .8-.8 .8 6 .8 5 .8 5.5 .8 9.6 .8 .9 .8-17.5 .7 31.3 .8-3.6 .8 6.5 .8-6.3 .8-8.6 .8 24.1 .8-5.1 .8 23.8 .7 1.2 .8 5 .8 3.8 .8 6.9 .8-57.3 .8-14.7 .8 .8 .8 23.4 .7 14.2 .8-3.6 .8-16.6 .8 5.5 .8-5.8 .8 29.9 .8 12 .8-2.9 .7-12.4 .8 7 .8 9.4 .8-5 .8-1 .8 8.1 .8 14.6 .8-13.4 .7 13.8 .8-25.3 .8 11.5 .8-5.2 .8 13.3 .8 15.4 .8 1.4 .7 16 .8 6.6 .8 15.7 .8 16.3 .8-16.9 .8-48.7 .8-29.1 .8-50.8 .7-31.1 .8-44 .8-28.6 .8 0 .8 0 .8 0 .8 0 .8 0 .7 0 .8 0 .8 0 .8 16.9 .8-16.9 .8 0 .8 0 .8 0 .7 0 .8 1.8 .8 2.2 .8-4 .8 0 .8 0 .8 25.3 .8 .3 .7-19.3 .8 5 .8 7.3 .8-16.8 .8 43.9 .8-6.6 .8-39.1 .8 0 .7 0 .8 0 .8 0 .8 19.2 .8 15.2 .8 31.9 .8 5.3 .8-48.6 .7 1.1 .8 24.8 .8 14.3 .8-63.2 .8 0 .8 0 .8 0 .7 31.5 .8 16.5 .8-10.6 .8 23.8 .8 5 .8-10.4 .8-23.8 .8-22.7 .7 34.4 .8 25 .8-2.6 .8 27.7 .8-10.2 .8 10.1 .8 7.1 .8-17.1 .7 5.4 .8 11 .8 29.6 .8-46 .8 26.3 .8-25.1 .8 8.8 .8-11.2 .7 12.6 .8 22.1 .8-5.9 .8 14 .8-28.5 .8-2.4 .8 24.7 .8-.3 .7 3.6 .8 3.6 .8-2.5 .8 14.4 .8-29.9 .8 24 .8-21.1 .8 9.3 .7 3.9 .8 13.5 .8 8.7 .8-38.2 .8 18 .8 24.9 .8-12.2 .8-.9 .7-13.7 .8-23.2 .8-101 .8 0 .8 0 .8 0 .8 0 .7 0 .8 0 .8 0 .8 0 .8 0 .8 0 .8 0 .8 0 .7 0 .8 0 .8 5.1 .8 58.2 .8 1.6 .8 2.1 .8-16.9 .8-20 .7 2.1 .8 15.5 .8 31.2 .8 7.5 .8-33 .8 27 .8-14.9 .8-19.6 .7 25 .8 38.7 .8-7.7 .8 5.6 .8-28.1 .8-19.8 .8 50.4 .8-23 .7 19.3 .8-5.3 .8-8.2 .8 26.6 .8 3.3 .8-39 .8 20 .8 8.3 .7 13.8 .8-13.5 .8 7.2 .8 18.2 .8-5.3 .8-13 .8 8.2 .7-.4 .8 2.4 .8-124.9 .8-4.7 .8 23.7 .8 29.3 .8-15.6 .8 6.7 .7 33.8 .8-12.4 .8 5.6 .8 33.1 .8-17.5 .8-3.9 .8 24.1 .8 4.6 .7-13.2 .8 22.5 .8 4.1 .8-.2 .8-5.2 .8 3.8 .8 13 .8-53.3 .7-23.7 .8 9.3 .8-25.9 .8 11 .8-18.1 .8 60.6 .8-31.2 .8 24.9 .7-9.9 .8-.7 .8 1.3 .8 5.9 .8 5 .8 6 .8 7.2 .8-3.7 .7-13.8 .8 30.1 .8 1.2 .8-8.8 .8-3.1 .8-5.5 .8 3.3 .8 17 .7 4.5 .8 12 .8-17.9 .8-8.3 .8 2 .8 24.4 .8-19 .7 14.3 .8 11.9 .8-20.2 .8 5.3 .8 2.1 .8-14.2 .8 1.4 .8-4.8 .7 13.6 .8-11 .8-.4 .8 3.6 .8-50 .8 13.3 .8-38.1 .8 4.7 .7-9.7 .8-6.3 .8 12.9 .8 17.2 .8-1.1 .8 27.8 .8-5.9 .8 22.9 .7-.6 .8-29.2 .8 6.5 .8 15.9 .8-2.8 .8-38.6 .8 30.5 .8-3.6 .7-26.7 .8-10.6 .8 18.3 .8-6.1 .8 6.3 .8 23.7 .8-2.3 .8 4.5 .7-25.8 .8 9.9 .8 3.5 .8 1.3 .8 2.7 .8 3.5 .8-6.5 .8-7.9 .7 24.1 .8 3.2 .8-11.7 .8-13.9" stroke="#2F6EAA" stroke-width="1.7"/><path d="M652 86.6l.8-2.7 .8-.1 .8 23.9 .7-3.4 .8 9 .8 29 .8-25.6 .8-10.3 .8 9.2 .8 17.8 .8-7 .7 12.5 .8-11.4 .8-14.5 .8-10.5 .8 16.7 .8 10 .8-1.3 .8 9.2 .7-2.3 .8-63.4 .8 35.1 .8 19.2 .8-18.8 .8 1.4 .8-30.3 .8-4.8 .7 13.5 .8-12.4 .8-39.4 .8-31.2 .8 0 .8 0 .8 0 .8 0 .7 0 .8 0 .8 0 .8 0 .8 0 .8 15.1 .8-15.1 .8 0 .7 0 .8 24.8 .8 53.4 .8-22.9 .8 32.4 .8-87.7 .8 0 .8 0 .7 0 .8 0 .8 0 .8 0 .8 0 .8 28.9 .8-28.9 .7 31.1 .8 13.2 .8-37.4 .8 65.8 .8-31.9 .8-40.8 .8 0 .8 8.9 .7-8.9 .8 44.3 .8-44.3 .8 0 .8 0 .8 .9 .8-.9 .8 0 .7 17 .8 23 .8 10.2 .8 20.6 .8-.5 .8-70.3 .8 55.9 .8-13.4 .7-42.5 .8 2.3 .8 81.1 .8-8.2 .8-17.5 .8 19.8 .8 6 .8 8.7 .7 19.4 .8 13.1 .8-21 .8 18.7 .8-93.4 .8-22.2 .8 17.9 .8 56.3 .7-69.6 .8 58.3 .8-2.6 .8 11.7 .8-28.9 .8 20.6 .8-5 .8-.2 .7 12.9 .8 19.6 .8-8 .8 15.3 .8 5.4 .8 10.3 .8 21.2 .7-34.4 .8 4.2 .8 17.4 .8 16.3 .8-2.5 .8-18.1 .8-10.5 .8 5.7 .7 2.3 .8 19.9 .8 11.9 .8-69.6 .8 2.6 .8-9.9 .8 8.5 .8 10.2 .7 17 .8-38.4 .8 23.3 .8 26.2 .8-18.2 .8 31.9 .8-37.8 .8 14.6 .7-1.8 .8 5.4 .8-1.3 .8 24.5 .8-5 .8-11 .8 8.9 .8-5.2 .7 11.4 .8 11.9 .8-7.1 .8-22 .8 8.9 .8 10.4 .8 6.4 .8-41.6 .7 36.1 .8-15.9 .8 5.1 .8-79.8 .8 34.5 .8-15.4 .8 7.8 .7 41.4 .8-18.2 .8 20.9 .8-27.2 .8-11.1 .8 34.6 .8 9.2 .8-48.2 .7-40.5 .8 7.6 .8 52.5 .8 .5 .8 8.6 .8 13.2 .8 2.2 .8-37.7 .7 5.4 .8 21.3 .8-13.1 .8-3.3 .8 8.8 .8 7.7 .8 4.8 .8-6.7 .7 36.2 .8-.5 .8-5.6 .8-12 .8-9.2 .8 5 .8-126.4 .8 0 .7 0 .8 0 .8 0 .8 23.8 .8-23.8 .8 16.5 .8 18.8 .8 55.3 .7-42.9 .8 15.8 .8-63.5 .8 30.4 .8-1.2 .8-29.2 .8 0 .8 2.5 .7 42 .8 6.5 .8-3.2 .8 50.2 .8-12.3 .8 39.3 .8 9.1 .7-6 .8 6.2 .8-46.3 .8 17.3 .8-51.1 .8-2.3 .8 61.9 .8 12.3 .7-17.1 .8-35.9 .8 14.8 .8 2.6 .8 33 .8 22.2 .8 12.7 .8-64 .7-11.2 .8 15.7 .8 15.3 .8 8.3 .8 6.8 .8-13.3 .8 19.7 .8-12 .7 11.1 .8 16 .8 7 .8-3.3 .8-4.3 .8 12.5 .8-162.7 .8 13.1 .7 44.3 .8 49.3 .8 20 .8-22.3 .8-10 .8 25.3 .8-3.1 .8 39.5 .7-77 .8-55.4 .8 40.3 .8-34.9 .8 11.1 .8 44.7 .8 16.6 .8 18.7 .7-23.6 .8 19.5 .8-29.5 .8 35.8 .8 14.8 .8-3.6 .8-34.3 .7-48.9 .8 30.6 .8-65.9 .8 56.6 .8-1.1 .8 22.9 .8 20.5 .8 16.7 .7-49.4 .8 45.3 .8-17.7 .8 2.2 .8-9.4 .8 34.5 .8-42.2 .8 48.2 .7-4.6 .8-27.3 .8 16 .8 14.7 .8-19.7 .8 6 .8-7.2 .8 23.7 .7-12.7 .8-11.3 .8 16.9 .8 19 .8-14 .8-12.6 .8 27.4 .8-16.2 .7-1.4 .8-4.1 .8 15.1 .8-8.4 .8-7.1 .8-18.6 .8 8.9 .8-9.2 .7 34.9 .8-23.4 .8 1.8 .8-128.8 .8 0 .8 5 .8-5 .8 20.4 .7-20.4 .8 24.1 .8-24.1 .8 10.5 .8-10.5 .8 24.6 .8 18.3 .7 21.6 .8 14.8 .8 14.9 .8-63.8 .8 24.4 .8-54.8 .8 0 .8 0 .7 0 .8 0 .8 0 .8 0 .8 0 .8 26.1 .8-21.8 .8 55.9 .7-5.4 .8-15.7 .8 48.4 .8-30.8 .8 50.1 .8-32.7 .8 29.5 .8 21.8 .7-27.1 .8 20.9 .8 19 .8 2.8 .8-7.7 .8 22.9 .8-.1 .8-40.4 .7 41.4 .8-5.9 .8 1 .8 7 .8 1 .8 16.8 .8-16 .8-32 .7 26.6 .8-22.2 .8 17.4 .8 0 .8-5.2 .8-27.7 .8 34 .7-21.2 .8 11.7 .8-1.5 .8-4.6 .8-1.7 .8-134.6 .8 0 .8 0 .7 9.2 .8 32.7 .8-33.9 .8 22.6 .8 47.4 .8-63.3 .8 67.1 .8 18 .7-16.4 .8 5.7 .8-18.6 .8 30.8 .8 10.9 .8-15.7 .8 14.9 .8 11.8 .7 19.7 .8 17.8 .8-6.5 .8-13.2 .8-54 .8 34 .8-75.5 .8 13.4 .7 4.4 .8-7.1 .8 16 .8-24.2 .8 63.9 .8 25 .8 2 .8 11.1 .7-24.3 .8 37 .8-6.1 .8-23.8 .8 4.3 .8 5.5 .8-19.1 .8 24.4 .7-40.7 .8 22.9 .8 2.3 .8-36.6 .8 9.3 .8-14.4 .8-45.1 .7 28.5 .8-33.5 .8-40.6 .8 62.3 .8-32.4 .8-29.9 .8 0 .8 0 .7 0 .8 0 .8 0 .8 0 .8 0 .8 0 .8 0 .8 0 .7 0 .8 0 .8 0 .8 0 .8 0 .8 0 .8 0 .8 0 .7 0 .8 0 .8 0 .8 0 .8 0 .8 0 .8 0 .8 0 .7 0 .8 0 .8 0 .8 0 .8 0 .8 0 .8 0 .8 0 .7 0 .8 0 .8 0 .8 0 .8 0 .8 0 .8 0 .8 0 .7 0 .8 0 .8 0 .8 0 .8 0 .8 0 .8 0 .7 0 .8 0 .8 0 .8 0 .8 0 .8 0 .8 32 .8-32 .7 0 .8 47.8 .8 33.4 .8 36.1 .8-20.9 .8-61.4 .8 29.7 .8-23.5 .7 27.9 .8 19.8 .8 17.9 .8-34.9 .8 4.1 .8 22.6 .8-6.8 .8-18.1 .7 31 .8-13.4 .8 32.9 .8-11.4 .8-21.1 .8 13.5 .8 10.7 .8 3.9 .7-22.4 .8 17.9 .8-17.5 .8-7.8 .8-16.9 .8 31.8 .8-6.4 .8 15.7 .7-17.4 .8-26 .8-7.5 .8 6.7 .8 15.4 .8 14.3 .8-12.7 .8 9.9 .7 2.7 .8-48.4 .8-51.2 .8 0 .8 0 .8 0 .8 0 .7 0 .8 0 .8 0 .8 0 .8 0 .8 0 .8 0 .8 0 .7 0 .8 14.1 .8-3.2 .8 47.8 .8 15.4 .8 22.4 .8-64.5 .8-27.2 .7 10.9 .8 6.8 .8 60.2 .8 .3 .8-48.8 .8-12.5 .8 24.4 .8-.9 .7 24.5 .8 12.7 .8-9.1 .8 2.2 .8 9.2 .8-35.8 .8 46.6 .8 2.4 .7 2.3 .8-31.4 .8-27.9 .8 38.6 .8-10.9 .8-11.2 .8-2.4 .8 15.4 .7-13.3 .8 33.1 .8 5.5 .8-32.2 .8 36.8 .8-6 .8 24.5 .7-36.1 .8 8.7 .8-74.8 .8 30.4 .8-47 .8 14.7 .8-5.7 .8-3.2 .7 42.2 .8 15.6 .8 7.3 .8-23.9 .8 38.4 .8 3.9 .8-5.3 .8 26.7 .7 .4 .8-26.7 .8 23.1 .8-15.1 .8 1.2 .8 18.6 .8-8.2 .8-48 .7-56 .8 0 .8 0 .8 0 .8 38.8 .8 19.3 .8-49.7 .8 37.6 .7-6.9 .8-3.8 .8 44.7 .8-6.2 .8-17.6 .8 43.3 .8-15.6 .8-15.2 .7 10.4 .8 27.8 .8 11.6 .8-19.8 .8 3.2 .8-47.5 .8 26.5 .8 17 .7 10.9 .8-58.9 .8 56.2 .8-21.7 .8 36.4 .8-19.8 .8-23.8 .7 37.4 .8 1.6 .8-12.1 .8 26 .8-15.4 .8-35.9 .8-5.4 .8 43.3 .7 .8 .8-42.5 .8 .2 .8-37.7 .8-37.5 .8 0 .8 0 .8 0 .7 0 .8 0 .8 0 .8 0 .8 0 .8 0 .8 0 .8 0 .7 0 .8 0 .8 0 .8 0 .8 0 .8 0 .8 0 .8 0 .7 0 .8 39.4 .8-6.1 .8-2.9 .8 20.4 .8 13.4 .8-11.3 .8-52.9 .7 0 .8 0 .8 3.3 .8 8.1 .8 21.2 .8 20.5 .8-9.3 .8 6.1 .7 4.7 .8-20.6 .8 28.6 .8-9.3" stroke="#9B4A12" stroke-width="1.7"/><path d="M652 4.3l.8 7.9 .8-8.5 .8 29.4 .7 .9 .8-30.3 .8 0 .8 0 .8 0 .8 0 .8 5.1 .8-5.1 .7 38.4 .8 21 .8-59.4 .8 0 .8 0 .8 .3 .8 33.6 .8 20.3 .7-18.2 .8-5.5 .8-21 .8 44.1 .8 2.5 .8-28.4 .8-27.7 .8 0 .7 0 .8 0 .8 0 .8 0 .8 0 .8 0 .8 0 .8 0 .7 0 .8 0 .8 0 .8 0 .8 0 .8 14.1 .8-14.1 .8 0 .7 0 .8 0 .8 0 .8 0 .8 2.7 .8 5 .8-7.7 .8 0 .7 0 .8 0 .8 0 .8 0 .8 0 .8 0 .8 0 .7 0 .8 0 .8 0 .8 38.4 .8-38.4 .8 0 .8 0 .8 0 .7 0 .8 0 .8 0 .8 0 .8 0 .8 0 .8 14.5 .8-7.6 .7-4.4 .8 51.4 .8-31.5 .8 19.5 .8-24.2 .8-17.7 .8 0 .8 0 .7 0 .8 0 .8 0 .8 .9 .8 15.7 .8-16.6 .8 39.1 .8 2.4 .7 0 .8 21.1 .8-61.6 .8 64.6 .8-65.6 .8 0 .8 0 .8 0 .7 0 .8 0 .8 0 .8 0 .8 0 .8 9.6 .8 17.2 .8 15.8 .7-30.4 .8 14.2 .8-26.4 .8 0 .8 1 .8 32.8 .8 19.9 .7 12.1 .8-10.9 .8 7.8 .8 13 .8 23.2 .8-30.1 .8-51.6 .8 37.9 .7 53.8 .8-33.2 .8 8.4 .8-84.1 .8 0 .8 0 .8 16.1 .8-4.6 .7-6.9 .8 33.2 .8-5.6 .8 26.4 .8-30.5 .8 15.1 .8-1.4 .8 45.8 .7-21.6 .8-14.6 .8 5.5 .8 24.9 .8 1 .8 .5 .8 1.5 .8-19 .7 6.2 .8 0 .8-16.1 .8 15.5 .8 16 .8-35.7 .8 31.4 .8-23.5 .7 22.9 .8-19.5 .8-63 .8 0 .8 0 .8 0 .8 13.4 .7 2.7 .8-16.1 .8 0 .8 0 .8 0 .8 0 .8 2.5 .8 24 .7-2.3 .8-24.2 .8 37.1 .8 28.8 .8-36.4 .8-1.6 .8 14.7 .8-3.4 .7-20.6 .8-18.6 .8 0 .8 47.2 .8-9.2 .8 45.4 .8-52.3 .8 5.6 .7 28.6 .8 4.2 .8 18.4 .8-25.7 .8 51.3 .8-42 .8-71.5 .8 .2 .7 41.3 .8-12.2 .8-7.3 .8-22 .8 0 .8 0 .8 0 .8 77 .7-19.3 .8-53.3 .8-4.4 .8 0 .8 3.9 .8 32.1 .8-15.1 .8 5.4 .7 26.3 .8-52.6 .8 0 .8 15.6 .8 33.9 .8 26.3 .8-33.3 .7 22.5 .8-65 .8 82.9 .8-10 .8-72.9 .8 0 .8 66.8 .8-1.2 .7-43.8 .8 2.4 .8 20.3 .8 4 .8 8.1 .8-16.7 .8 52.9 .8-81.7 .7 51.9 .8-.9 .8 24.8 .8-7.8 .8 58.3 .8-58.9 .8 12.6 .8 7.8 .7-98.9 .8 22.7 .8-22.7 .8 3 .8 54.6 .8 6.2 .8-63.8 .8 2.2 .7 51.5 .8 29.4 .8-40.8 .8-.5 .8 7.5 .8 20.7 .8-15.8 .8 26.4 .7-80.6 .8 0 .8 1.2 .8 44.2 .8-24 .8 34.1 .8-55.5 .8 10.6 .7 45 .8-39.8 .8 14.3 .8 11.1 .8 25.6 .8 6.8 .8-73.6 .7 0 .8 0 .8 0 .8 0 .8 0 .8 0 .8 0 .8 3.6 .7 19.1 .8 21 .8-9.4 .8-28.3 .8 46.2 .8 43.6 .8-26 .8-31.9 .7-3.3 .8-7.3 .8 44.7 .8-37 .8 38.5 .8-12.1 .8 34.3 .8-38.2 .7-6.9 .8 7.7 .8 17.4 .8-14.5 .8-17.4 .8 15.9 .8 46.8 .8-31.6 .7 9.5 .8-9.4 .8 20.4 .8-2.6 .8-22.8 .8 17.6 .8-33.4 .8 16.4 .7-20.2 .8 1.8 .8-14.5 .8-37.7 .8 0 .8 0 .8 0 .8 0 .7 0 .8 0 .8 0 .8 0 .8 0 .8 0 .8 0 .7 0 .8 0 .8 0 .8 20.7 .8-20.7 .8 0 .8 0 .8 0 .7 0 .8 0 .8 0 .8 0 .8 0 .8 0 .8 0 .8 0 .7 0 .8 13.9 .8 4.2 .8 46.3 .8-54 .8 15 .8 25.2 .8 9.9 .7 5.4 .8 3.8 .8-29.4 .8 15.9 .8 26.2 .8-27.8 .8 17.5 .8 31 .7-40.4 .8 4.6 .8 22.7 .8 31.4 .8-3.5 .8-3.1 .8-18.7 .8 .7 .7-9.8 .8 24.1 .8 16.9 .8-32.1 .8-2 .8-24.1 .8 27.5 .7-26.1 .8 16.4 .8-6.1 .8 21.8 .8-6 .8-97.3 .8 0 .8 0 .7 0 .8 0 .8 0 .8 0 .8 0 .8 0 .8 0 .8 0 .7 0 .8 56.4 .8 19.8 .8-76.2 .8 0 .8 0 .8 0 .8 0 .7 20.4 .8 49.6 .8-6.8 .8 39.2 .8-43.8 .8 1.5 .8-10.1 .8-2.1 .7 40 .8-26.1 .8 30.8 .8-8.5 .8 31.4 .8 .7 .8-6.8 .8-10.5 .7 48 .8-40.1 .8-24.5 .8 26.5 .8 2.1 .8-108.1 .8-2.8 .8 57.4 .7-34.8 .8 24.9 .8 15.9 .8 2.3 .8-38.9 .8-23.4 .8-3.4 .7 0 .8 0 .8 0 .8 0 .8 0 .8 0 .8 0 .8 0 .7 0 .8 0 .8 0 .8 0 .8 0 .8 0 .8 0 .8 0 .7 0 .8 0 .8 0 .8 0 .8 0 .8 0 .8 0 .8 0 .7 0 .8 0 .8 0 .8 0 .8 0 .8 0 .8 0 .8 0 .7 0 .8 0 .8 0 .8 0 .8 0 .8 0 .8 0 .8 0 .7 0 .8 0 .8 0 .8 0 .8 0 .8 0 .8 0 .8 0 .7 0 .8 0 .8 0 .8 0 .8 0 .8 0 .8 0 .7 0 .8 0 .8 0 .8 0 .8 0 .8 0 .8 0 .8 0 .7 0 .8 0 .8 0 .8 0 .8 0 .8 0 .8 0 .8 0 .7 0 .8 0 .8 0 .8 0 .8 0 .8 0 .8 0 .8 0 .7 0 .8 0 .8 0 .8 0 .8 0 .8 0 .8 0 .8 0 .7 0 .8 0 .8 0 .8 0 .8 0 .8 0 .8 0 .8 0 .7 1.8 .8-1.8 .8 0 .8 0 .8 0 .8 0 .8 0 .8 0 .7 0 .8 0 .8 0 .8 0 .8 0 .8 0 .8 0 .7 0 .8 0 .8 0 .8 0 .8 0 .8 0 .8 0 .8 0 .7 0 .8 0 .8 0 .8 0 .8 0 .8 0 .8 0 .8 0 .7 0 .8 0 .8 0 .8 0 .8 0 .8 0 .8 0 .8 0 .7 0 .8 0 .8 0 .8 0 .8 0 .8 0 .8 0 .8 0 .7 0 .8 0 .8 0 .8 0 .8 0 .8 0 .8 0 .8 0 .7 0 .8 0 .8 0 .8 0 .8 0 .8 0 .8 0 .7 4.7 .8-4.7 .8 0 .8 0 .8 0 .8 0 .8 0 .8 0 .7 0 .8 0 .8 0 .8 0 .8 0 .8 0 .8 0 .8 0 .7 0 .8 0 .8 0 .8 0 .8 0 .8 0 .8 0 .8 0 .7 0 .8 0 .8 0 .8 0 .8 0 .8 0 .8 0 .8 0 .7 0 .8 0 .8 0 .8 0 .8 0 .8 0 .8 0 .8 0 .7 0 .8 0 .8 0 .8 0 .8 0 .8 0 .8 0 .8 0 .7 0 .8 0 .8 0 .8 0 .8 0 .8 0 .8 0 .7 0 .8 11.1 .8-11.1 .8 0 .8 0 .8 0 .8 0 .8 0 .7 0 .8 0 .8 0 .8 0 .8 0 .8 0 .8 0 .8 0 .7 0 .8 0 .8 0 .8 0 .8 0 .8 0 .8 0 .8 0 .7 0 .8 0 .8 0 .8 0 .8 0 .8 0 .8 0 .8 0 .7 0 .8 0 .8 0 .8 0 .8 0 .8 0 .8 0 .8 0 .7 0 .8 0 .8 0 .8 0 .8 0 .8 0 .8 0 .8 0 .7 0 .8 0 .8 0 .8 0" stroke="#008F45" stroke-width="1.7"/><path d="M652 45.2l.8 41.7 .8 4.3 .8 30.2 .7-41.4 .8-10.8 .8 41.6 .8 29.3 .8-52.7 .8 27.2 .8 16.2 .8-17.5 .7 4.3 .8 8.6 .8-59.6 .8 37.9 .8 22.5 .8-37.8 .8 30.7 .8-10.2 .7 8 .8-15.6 .8-3.7 .8 12.2 .8-9.8 .8-17.8 .8-79.3 .8 0 .7 0 .8 0 .8 0 .8 0 .8 0 .8 0 .8 0 .8 0 .7 0 .8 0 .8 0 .8 0 .8 0 .8 0 .8 0 .8 0 .7 0 .8 0 .8 0 .8 0 .8 55.2 .8 13.8 .8 11.5 .8-80.5 .7 0 .8 0 .8 0 .8 29.5 .8-16.3 .8 38.2 .8-17.5 .7 32.2 .8-14.9 .8 8 .8 7.9 .8-8.8 .8-58.3 .8 7.7 .8 14.3 .7 10.8 .8 50.5 .8-43 .8-30.2 .8 35.5 .8 29.8 .8 27.4 .8-43.1 .7 57.1 .8 19.1 .8-69.3 .8 15.6 .8 46.1 .8-128.3 .8 0 .8 0 .7 7.4 .8 13 .8 38.5 .8-12.5 .8 17.3 .8-63.7 .8 29.2 .8-.8 .7 11.4 .8 63.2 .8-58.2 .8 66.7 .8-68.4 .8-30.2 .8-12.9 .8 0 .7 0 .8 0 .8 17.1 .8-17.1 .8 37.7 .8 5.8 .8-17.9 .8 83.9 .7-39.6 .8 2.5 .8 13 .8 33.3 .8-6 .8-17.9 .8 0 .7 7 .8 27 .8-15.7 .8-4.6 .8 21.9 .8-16.1 .8-40.7 .8 23.9 .7 31.1 .8 4.8 .8 2.8 .8-115 .8 7.8 .8 49.4 .8 8.4 .8-16.8 .7-16.1 .8 50.7 .8-1.4 .8-9.8 .8-12.6 .8 21.9 .8-4.5 .8 16 .7-.3 .8-23.9 .8 41.4 .8-15.9 .8 11.6 .8-23.7 .8 2.1 .8 25.7 .7-9 .8 2.5 .8 13.8 .8-5.5 .8-14 .8-2.8 .8 16.8 .8-9.3 .7-10.1 .8-27.8 .8 25 .8-44.2 .8 20.6 .8-22.2 .8 11.7 .7 8.7 .8 5.8 .8-10.7 .8-3 .8-4.1 .8 27.9 .8-99.4 .8 79.6 .7 12.7 .8-30.5 .8-17.8 .8 49.8 .8 .8 .8 4.7 .8 10.3 .8-59.1 .7-14 .8 16.7 .8 35.6 .8-5 .8-22.1 .8 35.2 .8 3.5 .8 18.4 .7-2.3 .8 17 .8-17.8 .8 2.3 .8 11.7 .8-11.5 .8-119.6 .8 49.5 .7-20.5 .8 13 .8 44.8 .8-87.3 .8 14.5 .8 48.2 .8 18.1 .8-1.6 .7 30.6 .8-9 .8-100.8 .8 0 .8 1.4 .8 9.2 .8 74.6 .8-34.5 .7 58.7 .8-39.7 .8 7 .8-13.7 .8 45.4 .8-20.5 .8 31.3 .7-47.7 .8-28.2 .8 38.5 .8 41.1 .8-122.9 .8 0 .8 0 .8 27.5 .7-27.5 .8 27.5 .8-27.5 .8 36 .8 4.3 .8-.1 .8-16.6 .8-2.4 .7 64.8 .8 16 .8-34.2 .8 31.5 .8 37.6 .8-13.1 .8-10 .8 9.9 .7-5.5 .8 4.8 .8-3.8 .8 39.7 .8-20.1 .8 7.7 .8-14.3 .8-47.4 .7 66.3 .8 7.4 .8-47.6 .8 21.5 .8-12.3 .8 3.4 .8 34.2 .8-25.3 .7-86.5 .8 2.3 .8 7.1 .8-11.7 .8 41.9 .8 6.8 .8 31.8 .8-5.5 .7 23.3 .8-41.6 .8 33.3 .8-38.4 .8 28.6 .8-14.4 .8-74.7 .7-34.7 .8 38.8 .8 9.8 .8 22.2 .8 27 .8 2.9 .8 8.4 .8-31.3 .7 10.3 .8-12.4 .8-27.6 .8 9.2 .8 46.9 .8-8.5 .8 17.6 .8 12.5 .7-7.5 .8-10.8 .8 19.1 .8-1.8 .8 22.7 .8-11.6 .8-54.8 .8 14.7 .7 35 .8-7.4 .8 1.3 .8 32.5 .8-27.3 .8 9.4 .8-31.4 .8 19.6 .7 7.1 .8-58.8 .8 57.1 .8 10.4 .8-12.2 .8 5.2 .8-48 .8 19.5 .7 24.8 .8-40.4 .8 55.1 .8-39 .8-91.6 .8 21.9 .8 39.7 .8 7.6 .7-74.4 .8 23 .8-18.8 .8 15.2 .8 22.6 .8 11.8 .8-6.6 .7 8.5 .8 38.1 .8-44.6 .8 14.2 .8-9.4 .8-65.5 .8 0 .8 0 .7 0 .8 0 .8 0 .8 0 .8 0 .8 0 .8 0 .8 54 .7-48.5 .8-5.5 .8 26.8 .8 40.8 .8-46.7 .8 54.9 .8 15.6 .8 28.7 .7-47.2 .8 17.1 .8 29.7 .8 22.5 .8-17.6 .8 13.4 .8-28.7 .8-8.7 .7-.8 .8 20.7 .8 10.2 .8-12.2 .8-1.2 .8 11.5 .8-31.7 .8 33.5 .7-23.7 .8 36.7 .8-3 .8-7 .8 9.4 .8-11.3 .8-14.9 .7 46.8 .8-13.3 .8-111.4 .8 12.2 .8 45.2 .8-96.3 .8 0 .8 0 .7 45.6 .8-22.5 .8 11.6 .8-34.7 .8 37.9 .8 16.3 .8-23.8 .8-29.3 .7 88.4 .8 6.6 .8 8.5 .8 23.5 .8 12 .8-79.3 .8 15.1 .8 18.3 .7 20 .8 22.8 .8 26.3 .8-63.4 .8-16.1 .8 31.6 .8-49.1 .8 30.6 .7-12 .8-12 .8 12.9 .8 8.4 .8 41.9 .8 4.5 .8-10.7 .8 2.2 .7-16.3 .8 2.9 .8 12.8 .8 .2 .8-1.3 .8 9.6 .8-1.5 .8 13.8 .7-25 .8-3.1 .8 19.5 .8-44.9 .8 29.7 .8-30.5 .8-35.8 .7 7.1 .8 7.1 .8-21.7 .8 7.4 .8 .9 .8-63 .8 0 .8 0 .7 0 .8 0 .8 0 .8 0 .8 0 .8 0 .8 0 .8 0 .7 0 .8 0 .8 0 .8 0 .8 0 .8 0 .8 0 .8 0 .7 0 .8 0 .8 0 .8 0 .8 0 .8 0 .8 0 .8 0 .7 0 .8 0 .8 0 .8 0 .8 0 .8 0 .8 0 .8 0 .7 0 .8 0 .8 0 .8 0 .8 0 .8 0 .8 0 .8 0 .7 0 .8 0 .8 0 .8 0 .8 0 .8 0 .8 0 .7 0 .8 0 .8 0 .8 0 .8 0 .8 0 .8 0 .8 0 .7 0 .8 0 .8 0 .8 0 .8 16.8 .8-16.8 .8 16.8 .8-16.8 .7 0 .8 36.5 .8-36.5 .8 40.4 .8 25.8 .8 12.4 .8-63.3 .8 72.5 .7-20.4 .8 29.8 .8-7.1 .8 35.1 .8-81.2 .8-6.3 .8 55.1 .8-8.9 .7-51.7 .8 56.6 .8-18.1 .8 32.7 .8-92.2 .8 78.4 .8-25.2 .8 13.8 .7 11.6 .8-12.7 .8 4.2 .8 9.6 .8 1.1 .8-.6 .8-4.2 .8 1 .7 5.8 .8-3.9 .8-90.1 .8 0 .8 0 .8 0 .8 0 .7 0 .8 0 .8 0 .8 0 .8 0 .8 0 .8 0 .8 0 .7 0 .8 0 .8 0 .8 0 .8 0 .8 0 .8 0 .8 0 .7 0 .8 0 .8 0 .8 5.4 .8 4.3 .8-9.7 .8 0 .8 6.1 .7-6.1 .8 25.4 .8-.3 .8 11.7 .8 11.8 .8-3.9 .8-44.7 .8 0 .7 64.4 .8-14 .8 19.7 .8 2.1 .8-12 .8-31.4 .8-28.5 .8 46.7 .7 27.7 .8 11.1 .8-14.4 .8-60.7 .8 80.9 .8 5.5 .8 18.8 .7 9.5 .8-14.5 .8-110.9 .8 0 .8 0 .8 0 .8 0 .8 39.3 .7 20.8 .8 4.3 .8 2.8 .8-44.6 .8 11.5 .8 18.7 .8 12.3 .8 39.8 .7 12.9 .8-11.1 .8-12.3 .8 .8 .8 28.4 .8-8.3 .8 3.4 .8-51.8 .7-66.9 .8 0 .8 0 .8 0 .8 0 .8 0 .8 0 .8 0 .7 37.1 .8-37.1 .8 24.4 .8-6.4 .8 46 .8-26 .8 27.2 .8-32.1 .7-6.3 .8 59.5 .8 9.8 .8-45.6 .8-12.9 .8-3.2 .8 64 .8 2.6 .7-37.7 .8 9.2 .8 33.6 .8 18.7 .8-54.8 .8 19.8 .8 .7 .7 6.3 .8 3.6 .8-17.3 .8 26 .8-3.1 .8-53.9 .8-12.9 .8-1.2 .7 37.6 .8 24.7 .8-30.3 .8-64.5 .8-5.5 .8 0 .8 0 .8 0 .7 0 .8 0 .8 0 .8 0 .8 0 .8 0 .8 0 .8 0 .7 0 .8 0 .8 0 .8 0 .8 30 .8-30 .8 0 .8 0 .7 0 .8 0 .8 0 .8 0 .8 .9 .8-.9 .8 0 .8 0 .7 0 .8 0 .8 29.7 .8-27.5 .8-2.2 .8 0 .8 15 .8 10.9 .7-7.2 .8 55 .8-5.2 .8-27.3" stroke="#BE1B1E" stroke-width="1.7"/><path d="M652 256.9l.8-.5 .8-.3 .8 .2 .7 0 .8 .1 .8-.5 .8 .1 .8-.4 .8-.2 .8 .7 .8-.1 .7 .2 .8 .2 .8-.1 .8 .4 .8 .5 .8-.9 .8 .1 .8-.3 .7-.3 .8 .8 .8 0 .8 .1 .8 0 .8-.4 .8-.5 .8 .1 .7 .1 .8 .5 .8-.2 .8-.4 .8-.2 .8-.1 .8 .5 .8 .1 .7-.6 .8-.3 .8-.1 .8 .4 .8 1 .8 .6 .8-.1 .8-.2 .7 .2 .8-.1 .8-.2 .8 .3 .8-.1 .8-.1 .8 0 .8-.2 .7 .1 .8-.8 .8 .1 .8-.6 .8-1.4 .8 .9 .8-.6 .7 .4 .8 .8 .8-.2 .8 .5 .8 .4 .8 .1 .8 0 .8-.2 .7 .1 .8-.1 .8 0 .8 .7 .8-.3 .8 .5 .8 .2 .8-.1 .7 .4 .8-.2 .8-.4 .8 0 .8-.4 .8-.5 .8 .5 .8-.1 .7-.5 .8-.4 .8-.6 .8-.2 .8 .5 .8 .5 .8 .4 .8-.8 .7 .1 .8 .5 .8-.1 .8 1.1 .8-.3 .8-.3 .8 .3 .8-1.2 .7 .4 .8-.7 .8 0 .8 .9 .8 0 .8 .8 .8 0 .8 0 .7 .1 .8-.1 .8-.2 .8 0 .8 0 .8 .3 .8 .1 .7-.2 .8 0 .8-.3 .8 .1 .8-.1 .8 0 .8-.2 .8-.2 .7 .2 .8-.6 .8 .4 .8-.2 .8 .1 .8 .5 .8-.4 .8 .4 .7 .3 .8-.8 .8 .5 .8-.2 .8-.1 .8 .8 .8-.6 .8 .1 .7-.9 .8 0 .8 .3 .8-.7 .8 1.1 .8-.2 .8-1.1 .8 .7 .7-.5 .8-.4 .8 1 .8 .2 .8 .5 .8 .5 .8 .5 .8-.3 .7-.2 .8 0 .8-.3 .8-.5 .8 .1 .8-.3 .8-.8 .7 .7 .8 .2 .8-.3 .8 .6 .8-.6 .8-.1 .8 .1 .8 0 .7 .2 .8 .1 .8 .4 .8-.3 .8-.3 .8 0 .8 .1 .8 .4 .7 .3 .8-.7 .8-.4 .8 .1 .8 .2 .8 .4 .8 .4 .8 .1 .7 .1 .8-.4 .8-.4 .8-.5 .8-.5 .8-.1 .8 .3 .8 .4 .7 .6 .8 .1 .8-.1 .8 0 .8-.4 .8 .1 .8-.3 .8-.3 .7 .4 .8 .2 .8 .1 .8 .5 .8-.9 .8 .3 .8 .5 .8-.3 .7 .9 .8-.6 .8 0 .8 .2 .8-.7 .8 .3 .8-.3 .7-.2 .8 .6 .8-.4 .8 .5 .8-.2 .8 .1 .8 .5 .8-.3 .7 .1 .8-1 .8 .1 .8-.4 .8-.2 .8 1 .8-.1 .8-.1 .7 .4 .8-.8 .8-.5 .8 .6 .8-.1 .8 1.1 .8-.1 .8 0 .7-.4 .8-.4 .8 .6 .8-.2 .8 .5 .8-.2 .8 .1 .8-.5 .7-.3 .8 .2 .8 .1 .8 .5 .8 .3 .8 .3 .8-.1 .8-.2 .7 0 .8-.7 .8-.1 .8 .1 .8-.5 .8 .4 .8 .2 .8 .1 .7-.1 .8-.4 .8-.2 .8 .1 .8 .1 .8 .5 .8-.3 .7-.3 .8 .3 .8 .3 .8-.3 .8 .1 .8-.3 .8-1 .8 .6 .7 .4 .8-.2 .8 .9 .8-.8 .8-.4 .8 .5 .8 0 .8 .7 .7 0 .8-.4 .8-.4 .8-.1 .8 .1 .8 .1 .8 .2 .8 .2 .7 .1 .8 .5 .8-.1 .8-.3 .8 0 .8-.6 .8-.5 .8 .2 .7 .2 .8-.1 .8 .5 .8-.7 .8-.2 .8 .2 .8 .5 .8 .6 .7 .3 .8 .3 .8-.4 .8 0 .8-.1 .8-.2 .8 .1 .8 .4 .7-.1 .8 0 .8-.5 .8-.3 .8-.2 .8 .1 .8 .4 .7-.5 .8 .1 .8-.3 .8 .2 .8-.3 .8 .1 .8 .1 .8-.4 .7 .8 .8 .2 .8 .3 .8 .4 .8-1 .8-.2 .8-.1 .8 .1 .7 1 .8 .2 .8-.2 .8-.2 .8-.1 .8-.1 .8 .3 .8-.2 .7-.1 .8-1.2 .8-.5 .8 .4 .8 .4 .8 .7 .8 .3 .8-.5 .7-.9 .8 .1 .8 0 .8 .1 .8 .4 .8 .4 .8-.1 .8 0 .7 .2 .8 0 .8 .1 .8 .1 .8 .3 .8-.7 .8 .2 .7-.6 .8-.5 .8 .6 .8 .1 .8 .8 .8 .1 .8 .2 .8-.2 .7-.1 .8 .1 .8-.7 .8-.6 .8-.3 .8 0 .8 .5 .8 .1 .7 .3 .8 .3 .8-.7 .8 .3 .8-.1 .8-.3 .8 .9 .8 0 .7 .3 .8-.2 .8-.4 .8 .2 .8 0 .8 .4 .8 .4 .8-.2 .7 0 .8 0 .8-1.1 .8-.2 .8 0 .8 0 .8 1 .8 .3 .7-.4 .8 .2 .8 .1 .8 .2 .8 .2 .8-.6 .8-.2 .8 0 .7 0 .8-.3 .8 0 .8-.4 .8-.2 .8 .2 .8-.1 .7 .4 .8 .2 .8 .4 .8 0 .8-.3 .8-.4 .8 0 .8-.8 .7 .3 .8 .4 .8 .2 .8 .8 .8-.1 .8 .1 .8-1.2 .8 .4 .7 0 .8-.2 .8 .8 .8 0 .8-.4 .8 .1 .8 0 .8-.3 .7 .4 .8-.3 .8 .2 .8-.1 .8-.8 .8 .3 .8 0 .8 .2 .7 .6 .8 .1 .8-.4 .8-.4 .8 .2 .8-.8 .8 .4 .8-.4 .7-.4 .8 .6 .8-.1 .8 1 .8 .3 .8-.7 .8 .2 .8-.2 .7 0 .8 .9 .8-.5 .8 0 .8-.1 .8-.1 .8-.2 .7-.1 .8 .3 .8 .1 .8 .6 .8 0 .8-.1 .8-.2 .8 0 .7 .5 .8 .1 .8 0 .8-.3 .8-.2 .8-.2 .8 0 .8 .3 .7 0 .8-.1 .8 0 .8 .2 .8 .1 .8 .4 .8-.8 .8-.1 .7-.5 .8-.1 .8 .8 .8-1 .8 .2 .8-.5 .8-.1 .8 1 .7 .1 .8 .4 .8 0 .8 .1 .8-.9 .8 .1 .8 0 .8-.7 .7 1 .8-.4 .8 0 .8 .2 .8-1.1 .8 .3 .8 .2 .8 .6 .7 .4 .8-.4 .8-.5 .8-.4 .8 .3 .8 .5 .8 .3 .7 0 .8-.4 .8-.3 .8 .2 .8 .1 .8 .6 .8-.1 .8 .1 .7 .2 .8-.9 .8-.3 .8-.4 .8-.4 .8 .9 .8 .6 .8 .3 .7 .1 .8-.2 .8 .1 .8 0 .8-.2 .8-.7 .8 .2 .8-.7 .7 .1 .8 .7 .8-.3 .8 .3 .8 .5 .8-.4 .8 .3 .8 .2 .7-1.8 .8 .3 .8 .1 .8-.2 .8 1.4 .8-.3 .8-.9 .8 .1 .7 .1 .8-.2 .8 .9 .8-.2 .8-.2 .8-.1 .8-.6 .7 0 .8 .1 .8 .9 .8 0 .8 .2 .8 .3 .8-1.1 .8 0 .7 .1 .8-.7 .8 .5 .8 .1 .8-.3 .8 .6 .8-.1 .8 0 .7 .1 .8 .3 .8 .1 .8 .2 .8 .4 .8-.2 .8 .1 .8-.6 .7-.2 .8 .1 .8 .4 .8 .6 .8-.1 .8-.1 .8 .1 .8-.7 .7 .2 .8 .2 .8-.2 .8 .6 .8-.3 .8 0 .8 .1 .8 .2 .7 .2 .8-.4 .8-.6 .8-1.1 .8-.5 .8 .6 .8 .3 .8 1.1 .7 .4 .8-1.1 .8-.1 .8-.3 .8 .1 .8 1.1 .8 .3 .7 0 .8 0 .8-.2 .8 0 .8 0 .8 0 .8-.3 .8-.1 .7-.3 .8-.9 .8 .5 .8 .1 .8 .1 .8 .7 .8-.7 .8 .2 .7-.4 .8 0 .8-.2 .8-.1 .8 .2 .8-.5 .8 .2 .8 .2 .7 .5 .8 0 .8 .2 .8-.8 .8-.4 .8 .4 .8 .3 .8 .6 .7 .6 .8-.4 .8-.7 .8-.7 .8 0 .8 .3 .8 .8 .8 .3 .7-1.1 .8 .1 .8 0 .8 .5 .8 .4 .8-.4 .8-.3 .8-.4 .7 .8 .8 .3 .8-.1 .8 .6" stroke="#A8A8A8" stroke-width="1.1"/></g><line x1="651.25" y1="257.5" x2="1196.0" y2="257.5" stroke="#000" stroke-width="3" stroke-linecap="round" stroke-dasharray="1.5 6" clip-path="url(#c1)"/><rect x="652.0" y="28.3" width="544.0" height="231.5" fill="none" stroke="#111" stroke-width="2"/><line x1="645.2" y1="257.8" x2="652.0" y2="257.8" stroke="#111" stroke-width="2"/><text x="627.82" y="265.32" font-size="21" stroke="#000" stroke-width="0.65">0</text><line x1="645.2" y1="225.0" x2="652.0" y2="225.0" stroke="#111" stroke-width="2"/><text x="627.82" y="232.53" font-size="21" stroke="#000" stroke-width="0.65">2</text><line x1="645.2" y1="192.2" x2="652.0" y2="192.2" stroke="#111" stroke-width="2"/><text x="627.82" y="199.75" font-size="21" stroke="#000" stroke-width="0.65">4</text><line x1="645.2" y1="159.4" x2="652.0" y2="159.4" stroke="#111" stroke-width="2"/><text x="627.82" y="166.96" font-size="21" stroke="#000" stroke-width="0.65">6</text><line x1="645.2" y1="126.7" x2="652.0" y2="126.7" stroke="#111" stroke-width="2"/><text x="627.82" y="134.18" font-size="21" stroke="#000" stroke-width="0.65">8</text><line x1="645.2" y1="93.9" x2="652.0" y2="93.9" stroke="#111" stroke-width="2"/><text x="616.14" y="101.39" font-size="21" stroke="#000" stroke-width="0.65"> 0</text><path transform="translate(616.14,101.39) scale(0.01025,-0.00986)" d="M763 0H583V1147Q518 1085 412 1023Q307 961 223 930V1104Q374 1175 487 1276Q600 1377 647 1472H763Z" stroke="#000" stroke-width="0.65"/><line x1="645.2" y1="61.1" x2="652.0" y2="61.1" stroke="#111" stroke-width="2"/><text x="616.14" y="68.60" font-size="21" stroke="#000" stroke-width="0.65"> 2</text><path transform="translate(616.14,68.60) scale(0.01025,-0.00986)" d="M763 0H583V1147Q518 1085 412 1023Q307 961 223 930V1104Q374 1175 487 1276Q600 1377 647 1472H763Z" stroke="#000" stroke-width="0.65"/><line x1="645.2" y1="28.3" x2="652.0" y2="28.3" stroke="#111" stroke-width="2"/><text x="616.14" y="35.82" font-size="21" stroke="#000" stroke-width="0.65"> 4</text><path transform="translate(616.14,35.82) scale(0.01025,-0.00986)" d="M763 0H583V1147Q518 1085 412 1023Q307 961 223 930V1104Q374 1175 487 1276Q600 1377 647 1472H763Z" stroke="#000" stroke-width="0.65"/><line x1="794.0" y1="259.8" x2="794.0" y2="265.8" stroke="#111" stroke-width="2"/><text x="754.88" y="289.80" font-size="20.5" stroke="#000" stroke-width="0.6">2023-07</text><line x1="938.0" y1="259.8" x2="938.0" y2="265.8" stroke="#111" stroke-width="2"/><text x="898.88" y="289.80" font-size="20.5" stroke="#000" stroke-width="0.6">2024-0 </text><path transform="translate(962.72,289.80) scale(0.01001,-0.00963)" d="M763 0H583V1147Q518 1085 412 1023Q307 961 223 930V1104Q374 1175 487 1276Q600 1377 647 1472H763Z" stroke="#000" stroke-width="0.6"/><line x1="1082.0" y1="259.8" x2="1082.0" y2="265.8" stroke="#111" stroke-width="2"/><text x="1042.88" y="289.80" font-size="20.5" stroke="#000" stroke-width="0.6">2024-07</text><text x="0" y="0" transform="translate(923.0,22.2) scale(0.98,1)" font-size="25" font-weight="bold" text-anchor="middle">THETA</text><rect x="665.2" y="41.4" width="9.2" height="8.5" fill="#3a3a3a" stroke="#000" stroke-width="2"/><text x="686.3" y="52.6" font-size="14.5" stroke="#000" stroke-width="0.45">Bitcoin</text><rect x="665.2" y="58.8" width="9.2" height="8.5" fill="#FFA500" stroke="#000" stroke-width="2"/><text x="686.3" y="70.0" font-size="14.5" stroke="#000" stroke-width="0.45">ETH</text><rect x="665.2" y="76.2" width="9.2" height="8.5" fill="#3C78B4" stroke="#000" stroke-width="2"/><text x="686.3" y="87.4" font-size="14.5" stroke="#000" stroke-width="0.45">LINK</text><rect x="665.2" y="93.5" width="9.2" height="8.5" fill="#A0521E" stroke="#000" stroke-width="2"/><text x="686.3" y="104.8" font-size="14.5" stroke="#000" stroke-width="0.45">BAT</text><rect x="665.2" y="110.9" width="9.2" height="8.5" fill="#00A550" stroke="#000" stroke-width="2"/><text x="686.3" y="122.2" font-size="14.5" stroke="#000" stroke-width="0.45">THETA</text><rect x="665.2" y="128.3" width="9.2" height="8.5" fill="#CC2222" stroke="#000" stroke-width="2"/><text x="686.3" y="139.6" font-size="14.5" stroke="#000" stroke-width="0.45">XTZ</text><rect x="665.2" y="145.8" width="9.2" height="8.5" fill="#C8C8C8" stroke="#000" stroke-width="2"/><text x="686.3" y="157.0" font-size="14.5" stroke="#000" stroke-width="0.45">OIL</text>
<line x1="41.5" y1="526.2" x2="579.7" y2="526.2" stroke="#cfcfcf" stroke-width="1.5" stroke-dasharray="3.6 3.8"/><line x1="41.5" y1="493.4" x2="579.7" y2="493.4" stroke="#cfcfcf" stroke-width="1.5" stroke-dasharray="3.6 3.8"/><line x1="41.5" y1="460.6" x2="579.7" y2="460.6" stroke="#cfcfcf" stroke-width="1.5" stroke-dasharray="3.6 3.8"/><line x1="41.5" y1="427.9" x2="579.7" y2="427.9" stroke="#cfcfcf" stroke-width="1.5" stroke-dasharray="3.6 3.8"/><line x1="41.5" y1="395.1" x2="579.7" y2="395.1" stroke="#cfcfcf" stroke-width="1.5" stroke-dasharray="3.6 3.8"/><line x1="41.5" y1="362.3" x2="579.7" y2="362.3" stroke="#cfcfcf" stroke-width="1.5" stroke-dasharray="3.6 3.8"/><g clip-path="url(#c2)" fill="none" stroke-linejoin="round"><path d="M35 442.2l.8 7.5 .8 3.9 .8 9.9 .8 2.6 .7-8.2 .8 3.1 .8 2.2 .8 2.9 .8 6.4 .8-4.9 .8-.1 .8-.9 .7 6.3 .8-2 .8 5.2 .8-7 .8-15.8 .8 10.5 .8-2.5 .8 1.4 .8 3.1 .7 3.8 .8-4.7 .8-55.4 .8-39.3 .8 6.1 .8 25.4 .8-26.2 .8 20.8 .7 14.9 .8 3.4 .8 11.8 .8 5.9 .8 8.4 .8-10.3 .8 13.5 .8 8 .8 .1 .7 16.5 .8-107.8 .8 15.8 .8-51.7 .8 21 .8-25.8 .8 33.9 .8 20.1 .7 10.1 .8 26.3 .8 7.9 .8 10.7 .8 4.9 .8 6.6 .8 14.4 .8-2.3 .8 9 .7-79.1 .8 4.7 .8 4 .8 20.3 .8-2.7 .8 0 .8 13.3 .8-8.2 .7 15.5 .8 3.7 .8 10 .8 6.4 .8 7 .8 2.1 .8 2 .8-1 .8-109 .7 8.2 .8 33.2 .8-6.7 .8 12 .8 6 .8-16 .8 18.6 .8 12 .8 10.9 .7 20.2 .8-5.1 .8 7.9 .8 7.2 .8 8.3 .8 3.2 .8-69.2 .8 18.6 .7 9.3 .8-.8 .8 11.5 .8 8.2 .8 12.6 .8-12 .8 13.5 .8 3.6 .8-14.5 .7 2.7 .8 13.9 .8 1.4 .8-13 .8 12.8 .8 7.4 .8-7 .8-7.8 .7 6.1 .8 0 .8-.7 .8 2.8 .8 4.3 .8-.2 .8-3.1 .8 7.3 .8-2.1 .7-4.9 .8 5.5 .8 2.7 .8-1.1 .8 .1 .8 .6 .8-28.2 .8-2.5 .7-2.9 .8 8.1 .8 8.7 .8 2.5 .8 7.3 .8-2.5 .8-7.1 .8 8.2 .8 5 .7 .6 .8-1.7 .8 2.1 .8 2.6 .8 2.8 .8-3.1 .8-2.1 .8 4.7 .7 2.1 .8-73 .8 17.1 .8-.1 .8 3.2 .8 2.7 .8 1.1 .8 15.7 .8-18.6 .7 16.8 .8 9.7 .8 6.6 .8-9.2 .8 10.3 .8-6.3 .8 1.5 .8 1.9 .7 5.6 .8 2.8 .8-.9 .8 2.5 .8 5 .8-6.2 .8 9.2 .8-6.9 .8 5.9 .7 4.4 .8-4 .8-32 .8 7.1 .8 3.3 .8 5.1 .8 .4 .8 4.1 .7 2.8 .8 8.4 .8-3.9 .8-9.3 .8 4.2 .8 6.8 .8 7.5 .8-3.5 .8 3.8 .7-28.2 .8-11.3 .8 8.5 .8 11.2 .8 3.8 .8-6.4 .8 11 .8 3.2 .7-12.5 .8 7.5 .8-.8 .8-3.9 .8 4.9 .8 .8 .8 .1 .8 2.5 .8-2 .7-2.6 .8-2.4 .8 6.3 .8 .6 .8 .8 .8 2 .8 2.8 .8 .3 .8 1 .7 4.5 .8-4.3 .8 3.7 .8 2.8 .8-2.6 .8 4.4 .8-4.7 .8 3.5 .7 3.6 .8 3.4 .8-.4 .8-2.8 .8-7.2 .8-2.9 .8 7.6 .8-19.9 .8 1.4 .7 5.3 .8 4.8 .8-.7 .8 7.6 .8 1.4 .8-6.9 .8-.7 .8 4.2 .7 3 .8-.6 .8-6.2 .8 3.8 .8 5.9 .8-3.9 .8 1.8 .8-38.8 .8 6.1 .7 2 .8-6.1 .8 7.9 .8 5.2 .8 0 .8 11.3 .8 3.2 .8-14.8 .7 13.6 .8 3.7 .8-6.4 .8 5.5 .8 1.4 .8 1.8 .8-.1 .8 5.8 .8-16.4 .7 6.7 .8-.9 .8 2.3 .8 4.2 .8-1.3 .8-5.1 .8 10.4 .8-18 .7-10.1 .8 2.3 .8 9 .8-4.5 .8 4 .8 4.2 .8 3 .8-.5 .8-1.1 .7 1.1 .8-4.5 .8 8.8 .8-2.8 .8 4 .8-2.8 .8 2.5 .8 2.5 .7 2.8 .8-.6 .8-5 .8-1 .8 3.3 .8 6 .8-1.4 .8-46.6 .8 4.3 .7 1.5 .8 .9 .8 6.4 .8 7.3 .8-4.1 .8 .6 .8 10.9 .8-2.2 .7 4.5 .8 8.2 .8-1.3 .8 2.1 .8-6.5 .8 2.7 .8 7.1 .8-8.2 .8-1.9 .7 2.2 .8 1 .8-1.2 .8 2.1 .8-4.1 .8 10.4 .8 1.8 .8 6.1 .7 2.1 .8-.3 .8 1.5 .8 .6 .8-39.5 .8 10.7 .8 7.5 .8 6.3 .8-1.1 .7 4.2 .8 1.2 .8-3.9 .8 6.3 .8-.2 .8-5.1 .8 9.2 .8 1.8 .7-4.1 .8 3.7 .8 3 .8 0 .8-26.5 .8 7.4 .8 5.8 .8 1.7 .8 2 .7-1.8 .8 0 .8 1.2 .8-1 .8 4.6 .8-64.9 .8 5.2 .8 .1 .8 13.6 .7-11.4 .8 15.5 .8 3.7 .8 1.3 .8 12.2 .8-.7 .8 11.7 .8 6.6 .7-.5 .8-21.3 .8-.3 .8 5.3 .8 7.8 .8 6.7 .8-6.8 .8-4.7 .8 8.2 .7 4.1 .8-7.5 .8 3.9 .8 5.7 .8-14.6 .8 8.7 .8-15.9 .8 12 .7 7.9 .8 1.9 .8-24.1 .8-6.4 .8 7.5 .8 10.1 .8-10.8 .8 5.9 .8 11.2 .7 7.1 .8-8.6 .8 6.9 .8-8.4 .8 7.8 .8-1.9 .8 1.3 .8 3.3 .7-9.7 .8 .6 .8 .1 .8 2.7 .8-5.5 .8 6.4 .8-1.4 .8 .7 .8-2.2 .7-.1 .8-10.4 .8 13 .8 3.7 .8-1.8 .8 3.1 .8-3.8 .8 5.4 .7-3.9 .8-.8 .8 .7 .8 2.9 .8-49.3 .8 4.4 .8 16.4 .8-9.7 .8 9.4 .7-.6 .8 11.8 .8 6.5 .8 5.4 .8 1.6 .8-61.5 .8 6.6 .8 11.9 .7 4.7 .8-2.3 .8-15.7 .8 11 .8 4.2 .8 10.5 .8 11.5 .8-55.7 .8 16.3 .7-1.7 .8 10.5 .8-3.1 .8 4.6 .8 7.7 .8 8.9 .8-14.2 .8 4.9 .7-10 .8 11.1 .8 1.8 .8-.3 .8-52.7 .8 .2 .8 16 .8 7.1 .8 3.1 .7 14.8 .8 2.6 .8 14.6 .8-1.7 .8 .1 .8-145.9 .8 10 .8 13.1 .7 20.2 .8 .4 .8 29 .8 14.4 .8 13.3 .8 16.7 .8 5.9 .8-4 .8 8.2 .7-5.8 .8 13 .8-2.8 .8 .9 .8 6.9 .8-5.1 .8 12.7 .8-6.9 .7 1.1 .8 2.8 .8-12.6 .8 10 .8 9.1 .8 5.2 .8-4.2 .8-22.7 .8-49.3 .7 15.2 .8 17.3 .8 12.5 .8 1.1 .8-2.5 .8 8.2 .8-8.8 .8 9.9 .8 2.6 .7 6.6 .8 .2 .8-2.1 .8 9.3 .8 2.7 .8 4.2 .8-10 .8 14.8 .7-160.7 .8 0 .8 0 .8 11.4 .8 8.4 .8 44.2 .8 1.5 .8 24.1 .8 26.8 .7 18 .8 7.8 .8 5.2 .8 9 .8 9.2 .8-51.9 .8 10.9 .8 18.9 .7 .8 .8 1.9 .8-9.7 .8 14 .8 0 .8 9.1 .8-3.7 .8 9.6 .8-26.3 .7 7.3 .8 4.5 .8-4.8 .8 16.3 .8 3.1 .8-3.6 .8 2.6 .8-48.6 .7-2.7 .8 6.4 .8 10.1 .8 5 .8 6.5 .8-2.3 .8 7.5 .8-6.1 .8 .1 .7 9.4 .8 .5 .8 8.6 .8-10.3 .8 3.4 .8 4.6 .8 3.8 .8-.1 .7 4.9 .8 3.6 .8-36.2 .8 22 .8 1.2 .8 1.9 .8 3.7 .8-120.1 .8 10.5 .7 17 .8 9.1 .8 8.5 .8 5.8 .8 18.9 .8 21.9 .8 5.3 .8 13.7 .7 3.8 .8 1.2 .8-4.9 .8-1 .8-2.3 .8-7.6 .8-3.4 .8 2.7 .8-8.2 .7 3.9 .8-2.5 .8-1.1 .8 .1 .8-28.9 .8 2.4 .8 5.5 .8-1.7 .7 11.5 .8-2.3 .8-7.9 .8 1.2 .8 1.2 .8 12.3 .8 .5 .8-1.2 .8-.8 .7-.1 .8 8.3 .8-9.8 .8 8.3 .8-2 .8 .1 .8-59.5 .8 .4 .7 8.7 .8 15.6 .8-5.8 .8 10 .8 2.4 .8-6.8 .8 14.8 .8 5.9 .8 17 .7-2.6 .8 3 .8 16.5 .8 .1 .8 6.6 .8-1.8 .8-10.5 .8 7.1 .8-3.1 .7 5 .8-12.4 .8 1.8 .8 2.5 .8 .4 .8 2.2 .8 .3 .8 .8 .7 2.4 .8-.3 .8 5.6 .8-.6 .8-1 .8-2.8 .8 2.7 .8-8.9 .8-3.9 .7 3.4 .8-60.9 .8 7.9 .8 7.1 .8 17.2 .8 19.1 .8 4.8 .8 3.2 .7 8.3 .8 1.4 .8 7.1 .8-2.2 .8-20.6 .8 7.2 .8 5.2 .8 13.1 .8 3.1 .7-2.7 .8-21.4 .8 14.4 .8-13.9 .8-3.4 .8 3.9 .8 8.6 .8-2.5 .7 4.3 .8 2.4 .8-3.8 .8-6.6 .8 12 .8 3.9 .8 2.5 .8 .3 .8-10.8 .7-2.8 .8 2.8 .8-2.1 .8 7.6 .8-1.7 .8-3.6 .8 2.3 .8 1.5 .7 4.2 .8 .5 .8-3.3 .8 .7 .8-1.8" stroke="#2a2a2a" stroke-width="1.7"/><path d="M35 366.3l.8 22.6 .8 9.1 .8 6.1 .8 10.6 .7 3.3 .8-4.4 .8 11.6 .8 6.3 .8 5 .8-1.6 .8 8.5 .8 4.2 .7-4.3 .8-5.1 .8 14.6 .8 .9 .8-12.2 .8 3 .8-139.6 .8 0 .8 0 .7 25.6 .8 19.2 .8-44.8 .8 0 .8 0 .8 0 .8 0 .8 3.3 .7 21.2 .8 20.4 .8 21.4 .8 12.1 .8 10.9 .8 16.3 .8 6.1 .8 12.1 .8 4 .7 13.1 .8-140.9 .8 8.6 .8-8.6 .8 0 .8 0 .8 0 .8 26.9 .7 18.9 .8 23.4 .8 19.4 .8 12.3 .8 6.3 .8 13 .8 4.7 .8-15.1 .8 5.8 .7-80.3 .8-6.7 .8 28.4 .8-.7 .8 9.2 .8 1.7 .8 15.9 .8-3.2 .7 9.1 .8 5.1 .8 9.7 .8 8.7 .8 8.8 .8 6 .8-4.5 .8 11 .8-130.2 .7 15 .8 2.4 .8 13.7 .8 12.3 .8 11.1 .8-2.2 .8 13 .8 10.3 .8 16.7 .7 11.8 .8 11.8 .8 6.4 .8 3.9 .8 10.7 .8 6 .8-103.2 .8 13.8 .7 5.8 .8 25.1 .8 15.5 .8 7.3 .8 9.5 .8 2.3 .8 4.6 .8 7.5 .8 .5 .7-1.6 .8 8.1 .8 7.8 .8 1.2 .8 3 .8-3.6 .8-55.4 .8-.2 .7 9.9 .8 6.5 .8 9.3 .8 4.1 .8 .2 .8 5.2 .8 4.6 .8 5.6 .8 5.5 .7 1.7 .8 5.9 .8-1.3 .8 0 .8 4.3 .8 7.1 .8-83.7 .8 10.7 .7 7.6 .8 10.1 .8 4.5 .8-3 .8 15.2 .8 .7 .8 4.3 .8 4.9 .8 3.8 .7 2.6 .8 1.2 .8 7.6 .8-3.6 .8 4.9 .8 5.6 .8 3.9 .8-4 .7 1.2 .8-64 .8-2.3 .8 10.5 .8 7.7 .8 7.9 .8-2.2 .8 12.2 .8 6.5 .7 6.4 .8 7.9 .8 2.9 .8-2.4 .8 1.2 .8 .6 .8-1.7 .8 2.6 .7-2 .8 1.2 .8 2.8 .8-3.2 .8 .9 .8 1.1 .8 5.8 .8-3.3 .8 1.2 .7 4 .8 .6 .8-.5 .8-42.7 .8 3 .8 8.8 .8 5.2 .8 4.2 .7 1.1 .8 10.3 .8-12.5 .8-7.3 .8 3.7 .8 3.6 .8 10.1 .8 3.5 .8 3.3 .7-22 .8 7.7 .8 4.2 .8 5 .8 6.4 .8-2.8 .8 12.4 .8 5.2 .7-40.4 .8 8.4 .8 6 .8 0 .8-4.4 .8 5.2 .8 2.8 .8 2.4 .8-.1 .7 .2 .8-2.8 .8 2.2 .8-5.1 .8 7.2 .8-.3 .8 7.1 .8-1.6 .8 .8 .7 2.1 .8 3 .8-1.3 .8 3.7 .8 2.1 .8 .6 .8 3.8 .8 .3 .7-2.8 .8 5.9 .8-1.4 .8 3.6 .8-40.5 .8 4.6 .8-.2 .8-11 .8 2.7 .7 11.3 .8 2.9 .8 6.2 .8 2.9 .8 .5 .8 4.3 .8 .6 .8 3.2 .7 .3 .8 3.3 .8-5.8 .8 1.3 .8-3.5 .8 1.6 .8 3 .8-63 .8 2.5 .7 5.2 .8 8.2 .8 5.1 .8 9.2 .8 4.2 .8 .9 .8 9.5 .8-9.4 .7 4.6 .8 1.4 .8 1.7 .8 9.3 .8-.8 .8 1.6 .8 3.2 .8-.7 .8 3.8 .7-.1 .8 .3 .8 5.3 .8 .9 .8 1.8 .8-.6 .8 4 .8-18.7 .7-12.6 .8-6.4 .8 5 .8 7.1 .8-1.6 .8 7.5 .8 3.9 .8 .2 .8 .4 .7 4.2 .8 2.9 .8-.9 .8-.9 .8-.4 .8 4.3 .8-1.6 .8 3 .7-3.5 .8 4.9 .8 .2 .8 2.7 .8-.3 .8 1.5 .8 1 .8-41.2 .8 3.8 .7 4 .8 5.5 .8-.6 .8 7.1 .8 3.8 .8 3.5 .8 6 .8-3.5 .7 8.9 .8 2.4 .8 1.1 .8 2.9 .8-.3 .8-5.6 .8 3.9 .8-6.3 .8-34 .7 1.1 .8 4.6 .8 5.6 .8 3.1 .8 2.5 .8 8.1 .8 3.7 .8 7.6 .7 .9 .8 4 .8-8.6 .8 6.4 .8-22.6 .8-3.2 .8 11 .8 3.3 .8-.4 .7 3.8 .8-.8 .8 5.2 .8 4 .8 3.2 .8 1.6 .8-.4 .8-3.4 .7-2.9 .8 4.7 .8 5 .8-2.5 .8-38.2 .8 4.4 .8-.9 .8 8 .8 5.7 .7 2.1 .8 3 .8 2.2 .8 2.5 .8 .8 .8-96.8 .8 4.8 .8-3.2 .8 11.9 .7 6.3 .8 4.3 .8 6.1 .8 6.8 .8 12.7 .8 11.2 .8 8.3 .8 1.8 .7 2.3 .8 5.2 .8-.3 .8 6 .8 2.7 .8-.3 .8-8.2 .8 2.8 .8 3 .7 1.9 .8 6.1 .8 1 .8 1.3 .8-34.4 .8 7.4 .8-.1 .8 .8 .7 5.5 .8 1.9 .8-13.3 .8 4.8 .8 4.9 .8 1.9 .8 .4 .8 7.8 .8-.5 .7 6 .8 1.7 .8 1.5 .8 1.4 .8 5.6 .8-.2 .8-2 .8 6.4 .7-20.4 .8 4.6 .8 3.2 .8 .5 .8 2.2 .8-1.7 .8-.5 .8 5.5 .8-.6 .7-50.5 .8 14.6 .8 9.4 .8 1.8 .8 11 .8 .9 .8-2.2 .8 6.5 .7 1.6 .8 7.1 .8-.8 .8-73.3 .8-73.1 .8 12.1 .8 10.7 .8 25.7 .8 15.7 .7-22.1 .8 23.1 .8 17.3 .8 17.8 .8 2.7 .8-15.2 .8-20.3 .8 9.5 .7 5.2 .8 2.2 .8-31.5 .8 8.3 .8 14.9 .8 13.7 .8 12.9 .8 6.6 .8-.6 .7 3.1 .8-7.7 .8 2.2 .8-4.1 .8-.9 .8-4.5 .8-6.9 .8 9.5 .7-12.3 .8-5.2 .8 8.2 .8-1.1 .8-.2 .8-1.5 .8 7.6 .8-5.2 .8 2.1 .7-3.3 .8 9.2 .8 2.8 .8-.6 .8 8.2 .8-130 .8 0 .8 17 .7 15.8 .8 15.5 .8 11.2 .8 20.1 .8 3.7 .8 7.6 .8 11.4 .8 1.8 .8 8.4 .7 3.9 .8-.4 .8 7.6 .8-2.2 .8 6.3 .8 2.8 .8-5.6 .8-7 .7 6.9 .8-.4 .8-3.4 .8 5.2 .8 2.9 .8-.1 .8 2.6 .8-38.1 .8-44 .7 9.4 .8 10.1 .8 6.3 .8 17.4 .8-5.5 .8-9.4 .8 18.6 .8-6.4 .8 10.4 .7 7.1 .8 3.7 .8 2.8 .8 4.9 .8 3.4 .8 3.1 .8 1.9 .8 2.7 .7-130 .8 0 .8 0 .8 0 .8 0 .8 0 .8 0 .8 0 .8 10.2 .7 25.2 .8 27.1 .8 19.4 .8 16.9 .8 10.5 .8-42.5 .8 18.4 .8 11.3 .7 3 .8 7 .8 10.6 .8 7.3 .8 12.6 .8 6.9 .8 8.4 .8 1.9 .8-66.3 .7 15.5 .8 9.1 .8 3.3 .8 9.6 .8 13.6 .8 1.2 .8 6.4 .8-86.4 .7 21.2 .8 5.6 .8 7.8 .8-2.2 .8 17.9 .8-3 .8 5.5 .8 6.6 .8 .4 .7-2.7 .8-.5 .8 5 .8-4 .8 9.2 .8 10.5 .8 1.5 .8 3.8 .7 6.5 .8-1.6 .8-43.8 .8 9.8 .8 2.1 .8 6.9 .8 13.1 .8-113.6 .8 16.5 .7 11.3 .8 18.3 .8 14.6 .8-.1 .8 17.2 .8 23.7 .8 6.9 .8 5.5 .7 14.2 .8 .5 .8-3.4 .8-9.7 .8-16.1 .8-14.9 .8-4.1 .8-11 .8-14.6 .7-15.2 .8-5.3 .8-6.7 .8-10.1 .8-9.4 .8 2.3 .8 14.8 .8-10.8 .7 11.2 .8-6 .8-4.1 .8 9.4 .8-2.5 .8 2.4 .8 13.6 .8-20.9 .8 7.3 .7 14.1 .8-15.6 .8 10 .8 .6 .8 1.1 .8-5.2 .8 3.1 .8 7.2 .7-2.6 .8 5.5 .8-8.4 .8 4.7 .8-1.5 .8 10.3 .8-4.3 .8-6.4 .8 10.9 .7-.7 .8 2.9 .8 1.8 .8-2.3 .8 2.4 .8 3.8 .8 1 .8-4.4 .8-2.7 .7 5.5 .8 .6 .8 5.8 .8-.2 .8 3.1 .8-2.4 .8 1.2 .8-3.9 .7 .7 .8 8.4 .8-3.9 .8 4.9 .8 5.3 .8-1.3 .8-2.6 .8 1.3 .8-.6 .7 7.1 .8-1.2 .8 7.7 .8-10.1 .8-9.3 .8 13.8 .8 11.4 .8-7.8 .7 1.3 .8-2.4 .8 2 .8-2.7 .8 2.4 .8 4.2 .8 5.6 .8 1 .8-2.2 .7 3.7 .8-5.3 .8 20.4 .8-5.9 .8 3.4 .8 3.4 .8 6.4 .8 3.7 .7 3.7 .8-2.8 .8 5.3 .8-4.8 .8-63.1 .8 6.3 .8 13.9 .8 3.1 .8 3.8 .7 6.9 .8-3.6 .8-5.5 .8 11.8 .8-2.3 .8 5.2 .8-1.2 .8 .6 .7 6 .8 5.7 .8-5.3 .8 2.8 .8 1.3" stroke="#F2A000" stroke-width="1.7"/><path d="M35 388.6l.8 3.9 .8 12.2 .8 5 .8 6.6 .7 7.5 .8 4.4 .8-2.6 .8 7.6 .8 1.3 .8 0 .8 6.8 .8 1.5 .7 3.1 .8-3.8 .8 2.8 .8 .7 .8-18.3 .8 6.8 .8 4 .8-2.6 .8-4.5 .7 1.4 .8-.2 .8-77.2 .8-50.1 .8 10.9 .8 17.3 .8 9.8 .8 9.1 .7 19.5 .8-5.4 .8 26.1 .8 2.9 .8 11.6 .8 3.6 .8 4 .8 14.7 .8-.2 .7 .5 .8-124.4 .8 0 .8 0 .8 0 .8 0 .8 0 .8 0 .7 0 .8 0 .8 21.3 .8 22.4 .8 21.8 .8 19.8 .8 13.5 .8 10.4 .8 12.1 .7-121.3 .8 0 .8 0 .8 13.5 .8 7.3 .8 23.3 .8 5.5 .8 4.2 .7 8.8 .8 17.2 .8 8.3 .8 6.4 .8 10.1 .8 0 .8 11 .8 9 .8-124.6 .7 0 .8 0 .8 0 .8 15.3 .8 16 .8 4.7 .8 5.6 .8 19.6 .8 17.1 .7 8.8 .8 15.3 .8 4.2 .8 13.6 .8 7.2 .8 12.8 .8-100.5 .8 25 .7 16 .8-21.8 .8 27.8 .8 15.3 .8 4.3 .8 9.9 .8-.5 .8 9.7 .8 3.3 .7 4.2 .8 3.4 .8-.7 .8 4.2 .8-.9 .8 5.6 .8-12 .8 4.8 .7 6.2 .8 .9 .8 6.2 .8-28.6 .8 2.4 .8 4.9 .8 7.1 .8 .8 .8 5.9 .7-2 .8 3.9 .8-.8 .8 2.4 .8 6.8 .8-2.6 .8-43.4 .8 1 .7 8 .8 8.1 .8-4.8 .8-4.7 .8 15.9 .8-2.7 .8-33.5 .8 8.3 .8 15.8 .7-4.4 .8 11.4 .8 6.9 .8 1.8 .8 7.7 .8 1.1 .8 6.1 .8-2.1 .7 3.1 .8-79.2 .8 8.3 .8 6.6 .8 6.8 .8 3.4 .8 1.1 .8 17.6 .8 12 .7 8.6 .8 8 .8 2.6 .8 1.2 .8-.9 .8 1.6 .8 .5 .8 2.4 .7-1.7 .8 3.2 .8-2.2 .8-55.5 .8 9.5 .8 12.2 .8 10.5 .8 5.2 .8 3.3 .7 3.6 .8 2.2 .8 5.3 .8-19.7 .8 6.9 .8 5.2 .8 6.2 .8 2.9 .7 4.6 .8 4 .8-27.2 .8-11.7 .8 15.3 .8 2.6 .8 5.3 .8 2.1 .8 6.6 .7-66.2 .8 11.8 .8-2.3 .8 17.2 .8 5.9 .8 .4 .8 13.2 .8 9.9 .7-21.1 .8 14 .8 16.5 .8 13.9 .8 12.7 .8 11.6 .8 11.2 .8-11.5 .8-10.3 .7-10.5 .8-8.1 .8-12.8 .8-.9 .8 3.4 .8 3.7 .8-2.5 .8 6.6 .8-.4 .7 5.2 .8 1.5 .8-3.4 .8 1.9 .8 1.9 .8-52.8 .8 10.3 .8 5.9 .7 10.7 .8 5.5 .8 1.4 .8 7.8 .8-18.5 .8 3.1 .8 7 .8-7.1 .8 4.2 .7 7.5 .8 6.9 .8-1.6 .8 3.2 .8 5 .8-6 .8 5.7 .8 1 .7-1.6 .8 2.4 .8-6.6 .8 6.1 .8-4.1 .8 2.2 .8-.2 .8-70.7 .8 4.6 .7 2.6 .8-3.3 .8 12.5 .8 8.9 .8 9.6 .8 8.3 .8 7.1 .8-1.9 .7 .4 .8 5.3 .8 4.2 .8 1.3 .8 7.2 .8 .1 .8 1.2 .8-5 .8 1.2 .7 4 .8 2.6 .8 2.3 .8-1.8 .8 1.8 .8 3.3 .8-3.8 .8-14.2 .7-24.7 .8 8.4 .8 .4 .8 5 .8 4.2 .8 6.3 .8 5.7 .8 2.5 .8-.3 .7-.5 .8 .4 .8 3.4 .8-1.9 .8 3.4 .8-.5 .8 2.5 .8-1.7 .7 2.6 .8-2.4 .8 3.9 .8-3.4 .8 2.3 .8 2.3 .8 2 .8-31.9 .8-.2 .7 9.7 .8-32.5 .8 2 .8 12.2 .8 10.6 .8 5.9 .8 2.1 .8 12.8 .7 5.6 .8 2.6 .8 1.8 .8 0 .8 2 .8 8.5 .8 9.8 .8-14.1 .8 22.4 .7 23.5 .8 21.7 .8-19.8 .8-19.9 .8-12.6 .8-14.3 .8-10.1 .8-8.2 .7 7.5 .8 .7 .8 5.8 .8 3.3 .8-13.2 .8 6.2 .8 .1 .8 3.8 .8-2.7 .7 4.9 .8-5.5 .8 6.2 .8-1.6 .8 .4 .8 2 .8 2.5 .8-1.6 .7-3.7 .8 1.7 .8 .2 .8-.4 .8-78.7 .8 9.8 .8 8.9 .8 4.9 .8 10.4 .7 7.2 .8 4.5 .8 2 .8 10.9 .8 3.2 .8-85.3 .8 7.4 .8-2.1 .8 9.6 .7 2.9 .8 12.1 .8 3.7 .8 8.6 .8 15.1 .8 3.5 .8 7.9 .8 4.9 .7 2.8 .8 5.9 .8-5.6 .8 6.7 .8 1.4 .8 1.7 .8-15.6 .8 6.3 .8 1.1 .7 1.7 .8 1.1 .8 6 .8-1.7 .8-11.2 .8 3.5 .8-8.6 .8 8.2 .7 5.9 .8 .5 .8-7 .8 3.4 .8 .8 .8 1.9 .8-14.8 .8 10.9 .8 11.1 .7-1.4 .8 3.1 .8 .7 .8 .7 .8 .8 .8-.1 .8 2.5 .8-3.3 .7-3.4 .8-9 .8 7.8 .8 1.3 .8 3.1 .8-3.8 .8 .7 .8 1 .8-1.9 .7-10.6 .8 9.7 .8 1.1 .8 1.5 .8-2.8 .8 1.6 .8 1.8 .8-3 .7 .8 .8 5.1 .8-3.4 .8-3.1 .8-111.6 .8 9 .8 6.2 .8 6.1 .8 17.6 .7-38.7 .8 30.1 .8 19.4 .8 15.4 .8-1.4 .8 15.1 .8 25.7 .8 19.6 .7 18.9 .8-16.2 .8-24 .8-10 .8-5.6 .8 11 .8 3.9 .8 7.9 .8 1.3 .7-1.4 .8-4.1 .8-50.8 .8-.1 .8 0 .8 6 .8-1 .8-1.1 .7 1.3 .8-8.7 .8-.9 .8 5 .8-2.3 .8 4.7 .8-.7 .8 4.7 .8 1.6 .7-4.4 .8 1.2 .8 5.9 .8-33.7 .8 2 .8-81.7 .8 0 .8 0 .7 0 .8 0 .8 7 .8 24.9 .8 27.8 .8-4 .8 18.8 .8 14.1 .8 2.9 .7 8.6 .8 6.3 .8 5.6 .8-6.5 .8 6.6 .8-3.1 .8 5.9 .8-1.7 .7-5.9 .8 1.9 .8 .2 .8 10.6 .8-2.4 .8 5.7 .8-4.6 .8-39.2 .8-17.3 .7-1.1 .8 16.9 .8 4.8 .8 1.4 .8 11.6 .8 14.9 .8 7.1 .8 29.7 .8 20.4 .7 19.8 .8-18.1 .8-16 .8-15.4 .8-10.4 .8-11.4 .8 5.1 .8-2.6 .7-118.9 .8 0 .8 0 .8 0 .8 0 .8 0 .8 0 .8 22.3 .8 28.1 .7 17.9 .8 26 .8 14.5 .8 10.3 .8-20.4 .8-51.6 .8 18.8 .8 23.4 .7 3.1 .8 14.2 .8 6 .8 8.6 .8 11.1 .8 7.3 .8 3.6 .8-143.2 .8 0 .7 0 .8 0 .8 0 .8 0 .8 7.1 .8 22.8 .8 5.9 .8-35.8 .7 22.3 .8 8.7 .8 18.5 .8 16.7 .8 3.3 .8 19.9 .8 7.5 .8 5.7 .8-2 .7 3.7 .8 2.7 .8 5.4 .8-5.9 .8 14.5 .8 6.4 .8 4.7 .8 .7 .7 5 .8 3 .8-21.5 .8 .5 .8 9.3 .8 1 .8 3.8 .8-133.9 .8 0 .7 11.3 .8 13.8 .8 19.5 .8-11.3 .8 19.8 .8 12 .8 26.3 .8 14.5 .7 12.7 .8-4.1 .8-2.6 .8 5.6 .8-6.8 .8-6 .8 2.3 .8-1.1 .8-3.2 .7-3.8 .8 4.6 .8-4 .8 9.8 .8-10.1 .8-12.4 .8 .4 .8-3.6 .7-6.7 .8 2.3 .8-3.6 .8-4.8 .8-4.2 .8 8.3 .8-13.5 .8-.1 .8 5.2 .7 3.2 .8 9.9 .8-15.8 .8 6.8 .8 6.9 .8 1.4 .8-3.4 .8 5.1 .7-4.1 .8-1.2 .8 10.3 .8 2.1 .8-2.6 .8-5.9 .8 4 .8 1.4 .8 2.4 .7-4.7 .8 10 .8-8.6 .8 9.6 .8-.4 .8-2.4 .8-2.9 .8 5.7 .8 7.2 .7-4.8 .8 8.1 .8-9.4 .8 4.1 .8 1.8 .8-1.8 .8 8.2 .8 4.1 .7-5.4 .8 1.3 .8 7.4 .8-7.8 .8-2.4 .8-1.5 .8 4.7 .8 3.7 .8 12.1 .7 .1 .8-12.9 .8-1.5 .8-53.6 .8 18.4 .8 16.1 .8 19.1 .8 2.7 .7 6.4 .8 7.1 .8 9.9 .8 6.2 .8-25.6 .8 3.8 .8 1.6 .8 8.4 .8 8.9 .7-1.4 .8-36.5 .8 .6 .8-7.2 .8 14.8 .8-9 .8 10.2 .8 5.3 .7 2.2 .8 .3 .8-3.7 .8 6 .8 7.5 .8 7 .8-1.6 .8 1 .8-.6 .7-14.7 .8 8 .8 5.3 .8-4.5 .8 4.3 .8-51.5 .8-1.9 .8 12.1 .7-.5 .8 .5 .8 15.6 .8-2.1 .8 7.2" stroke="#2F6EAA" stroke-width="1.7"/><path d="M35 330l.8 34.5 .8 23.7 .8 3.4 .8 11.9 .7 6.9 .8 15.2 .8 10.9 .8-16.5 .8 15.8 .8 5.5 .8 4.2 .8 1 .7 11.3 .8-4.9 .8-13.4 .8 18.3 .8-16.7 .8-5 .8 5.5 .8 3.2 .8 3.8 .7 1.7 .8-1 .8-100.4 .8-44 .8 0 .8 17.6 .8-7.1 .8 19.5 .7 34.8 .8-15.7 .8 14.3 .8 18.1 .8 24.7 .8-1.2 .8 9.2 .8 12.7 .8 .3 .7 13.7 .8-140.9 .8 0 .8 0 .8 0 .8 0 .8 0 .8 7.9 .7 20.9 .8 32.2 .8-16.3 .8 35.1 .8 27.7 .8 15.5 .8 7.3 .8 8.6 .8 3.7 .7-134.1 .8 28.7 .8 3.3 .8 25.1 .8 1.2 .8-35.8 .8 6.7 .8 18.5 .7 2.5 .8 31.4 .8 10.7 .8 2.8 .8 18.6 .8 4.8 .8 13.8 .8-11.3 .8-129.5 .7 0 .8 0 .8 0 .8 0 .8 0 .8 0 .8 11.7 .8 26.4 .8 8.5 .7 38.6 .8 10.7 .8 16.2 .8-7.3 .8 17.1 .8 20.4 .8-62.2 .8 15.5 .7 8.3 .8-.7 .8 15 .8 1.8 .8 9.8 .8-3.9 .8 14.8 .8-12.3 .8 5.9 .7-4.3 .8 12.5 .8 5.8 .8 1.7 .8 4.2 .8 0 .8 2 .8-13.9 .7 8.2 .8 .9 .8 6.6 .8 3.2 .8-.3 .8-3.6 .8-10.8 .8 3.7 .8 11.3 .7 .8 .8-.7 .8 6.4 .8-6 .8-4.5 .8 8.2 .8-27.7 .8-5.6 .7 1.8 .8 8 .8 5.4 .8-6.5 .8 16.1 .8-5.3 .8 2.4 .8-1.9 .8 4.9 .7 1.5 .8-6.6 .8 3.8 .8-5.9 .8 16 .8-2.8 .8 4.5 .8-5 .7-2.6 .8-37.8 .8 2.2 .8 2.9 .8 2 .8 6.2 .8 3.9 .8 11.2 .8-37.8 .7 18.5 .8 6.3 .8 9 .8 8 .8-1.7 .8 2.1 .8-4.3 .8-.3 .7 3.4 .8 2.1 .8 2.9 .8-27.7 .8 20.2 .8 10.3 .8 1.8 .8-3 .8-2.3 .7 4.2 .8 .8 .8 .3 .8-9.8 .8-6.4 .8 7.8 .8 .8 .8 8.9 .7-6.3 .8 10.8 .8-6.2 .8-28.7 .8 17 .8-4.6 .8 10.9 .8 2.8 .8 1.3 .7-38.3 .8 11.4 .8 12.8 .8 4 .8-7 .8 8 .8 15.5 .8 2.3 .7-67.3 .8 4.5 .8 19.9 .8-5.5 .8 3.6 .8 10.4 .8-3.2 .8 4.8 .8 11.6 .7 5.6 .8-6.4 .8-.9 .8-5.5 .8 6.4 .8 7 .8 3.5 .8-.7 .8-21.8 .7 16.9 .8 9.6 .8 4.9 .8-.6 .8 10.5 .8-5 .8 2.9 .8-.6 .7 4.2 .8 1.6 .8 4.4 .8-5.4 .8-14.3 .8 1.2 .8-2 .8-19.7 .8-2.2 .7 10.1 .8 6.3 .8 1.9 .8-.9 .8-1 .8 5.1 .8-1.3 .8 10.2 .7-3 .8 5.4 .8-17.2 .8 5.9 .8-5.3 .8 9.8 .8 1.6 .8-54.3 .8 5.4 .7-.5 .8 9.8 .8-2 .8 14.6 .8 8.2 .8 4.6 .8 5.2 .8-4.9 .7 4 .8 1.5 .8-1.7 .8 2.5 .8-.1 .8 18.5 .8-28.3 .8 5 .8-9.5 .7 18.2 .8 5.1 .8-.2 .8 7.6 .8 1.9 .8-18.9 .8 16.8 .8-18.4 .7-25.6 .8 8 .8 12.1 .8-7 .8 8.9 .8-2.4 .8 5.7 .8 4.6 .8-2.2 .7 3.8 .8 5.3 .8-4.5 .8-1 .8 6.6 .8 2.3 .8 5.1 .8-9.6 .7 3.7 .8-7.6 .8 8.6 .8 1.9 .8-.2 .8 4.1 .8-3.1 .8-78 .8 19.3 .7-5.1 .8 2 .8 15.5 .8-.5 .8 11 .8 7.6 .8 10.7 .8-2.1 .7 2.8 .8 8.6 .8 3.4 .8 7.7 .8-21.3 .8-1.2 .8 9.3 .8-4.8 .8 3.5 .7 5.6 .8-4.9 .8-4.1 .8-8.2 .8 13 .8 5.6 .8 6.8 .8 .3 .7 .8 .8-.3 .8 2.5 .8 6.3 .8-55.7 .8-50.8 .8 14.4 .8 .8 .8 1.2 .7 14.8 .8 21.3 .8 4 .8-14 .8 19.6 .8 10.1 .8-2.9 .8 12.2 .7-17 .8 9.2 .8 1.5 .8 13.2 .8-7.3 .8 8.4 .8-5.1 .8 6.4 .8 3.8 .7-7.8 .8 8 .8 6.5 .8-3.3 .8 4.9 .8-110.7 .8-5.8 .8 20 .8-4.2 .7 4.5 .8 4.2 .8 14.4 .8 16.2 .8 4.3 .8 7.1 .8 15.9 .8-2.9 .7 3.1 .8 6.9 .8-2 .8 4 .8 2.2 .8 5.4 .8-11.7 .8 3.1 .8-20 .7 21.3 .8-.3 .8 12.4 .8-7 .8-21.6 .8-4.4 .8 14.6 .8-11.4 .7 19.5 .8 1.3 .8-9.6 .8 3.4 .8 2.6 .8 5 .8 3.5 .8-1.8 .8 10.9 .7-.9 .8-18.2 .8 6.6 .8-.5 .8 9.2 .8 1.3 .8-1.4 .8-2 .7-38.1 .8 9.4 .8-4.9 .8 10.4 .8-.3 .8 1.4 .8 6.5 .8 1.5 .8 .4 .7-9.3 .8 8.9 .8 4.7 .8-.5 .8 9.6 .8-.8 .8-1.5 .8-7.5 .7 8.2 .8-1.8 .8 6.9 .8-.7 .8-91.5 .8-9.8 .8 19.3 .8-8.8 .8 18.4 .7-17.9 .8 19.3 .8 28.5 .8 9.9 .8 8.1 .8-92.5 .8 33.7 .8 14.4 .7 15.5 .8 9.8 .8-64.4 .8 15.1 .8 .7 .8 22.7 .8 17.6 .8 10.5 .8 .7 .7-9.3 .8 8.9 .8-25.8 .8 22 .8 .8 .8-4.3 .8 6.7 .8-16.2 .7-16.9 .8 9.1 .8 8.7 .8-2.4 .8 7.2 .8-10.6 .8 2.5 .8 12.5 .8-1.4 .7 7.3 .8 2.2 .8-11.7 .8 3.8 .8-2.9 .8-124.9 .8 0 .8 0 .7 0 .8 0 .8 0 .8 8.3 .8 16.9 .8 28.4 .8-12 .8 44.9 .8 7.7 .7 3.2 .8 11 .8 1.5 .8 7.7 .8 2 .8 5.6 .8 1.2 .8-3.4 .7 6.9 .8-21.5 .8 19.8 .8 4.8 .8 2 .8 2.6 .8 8.3 .8-57.9 .8-63.7 .7 10.2 .8 25.7 .8 10.8 .8 3 .8 11.7 .8 12.9 .8-28.5 .8 27.9 .8 .8 .7 11.7 .8 3.9 .8 1.9 .8 13.8 .8 8.7 .8-13.8 .8 10.6 .8 6 .7-141.6 .8 0 .8 0 .8 0 .8 0 .8 0 .8 15.4 .8 19.3 .8 21.7 .7-47.7 .8 29.2 .8 23.7 .8 6.8 .8 36.9 .8-42.1 .8 15.3 .8 14.4 .7 23.6 .8-10.3 .8 25.8 .8 2.2 .8 10.8 .8 11.6 .8-8.5 .8 14.3 .8-145.5 .7 28.3 .8 14.4 .8 11.1 .8 19.6 .8 19.9 .8-14.9 .8 21.8 .8-94.1 .7 19.1 .8 22.6 .8 4.6 .8 21.1 .8-.8 .8 25.8 .8 8.6 .8 1.4 .8-5.4 .7 4.3 .8 7.5 .8-26.4 .8 20.1 .8 7.9 .8 2.6 .8 5.6 .8 8.9 .7 2.4 .8 .2 .8-34.4 .8-6.6 .8 7.9 .8 8.3 .8 10.9 .8-47.1 .8 6.9 .7 1 .8 19.5 .8 15.2 .8-20.5 .8 6.5 .8 7.9 .8 21 .8-2.9 .7 7.4 .8 4.7 .8-3.4 .8-5.1 .8-1.4 .8-37.3 .8 11.5 .8 7 .8 .2 .7-8.6 .8 9.5 .8-15.4 .8-16.9 .8 5.1 .8 15.7 .8-9.4 .8 7.8 .7-3 .8-5.4 .8 6 .8-10.2 .8 2.6 .8 3.6 .8-7.8 .8 12.2 .8-5.1 .7-22.4 .8 13.4 .8 12.6 .8 7.1 .8-11.4 .8-3.3 .8-51.3 .8-.7 .7-8.2 .8 11 .8 5.9 .8 17 .8-2.8 .8 13.1 .8 12.7 .8-9.3 .8 15.6 .7 5.4 .8 6.8 .8 10.2 .8 3.1 .8 7 .8-4.6 .8-19.1 .8 8.3 .8-8.5 .7 17.3 .8-6.7 .8-10.9 .8 2.5 .8 9.3 .8 2.5 .8 9 .8-12 .7 10.6 .8-4 .8-16.7 .8 3.3 .8 16 .8 4.5 .8-10.9 .8-84.7 .8-43.3 .7 16.7 .8-21.1 .8 0 .8 19.6 .8 17.8 .8 21.3 .8 13.4 .8 28.1 .7 3.4 .8 21 .8 11.8 .8-2.1 .8-22.8 .8 19 .8 4.3 .8 5.2 .8 16.2 .7-6 .8-22.5 .8 13.7 .8-34 .8 .3 .8-2.9 .8 17.1 .8 2.9 .7 12.2 .8-34.1 .8 21.9 .8 17.5 .8 1.2 .8 .1 .8-4.7 .8 1.4 .8 6.2 .7-3.9 .8-6 .8 .1 .8 5.9 .8-9.9 .8 8.3 .8 2.7 .8-10.3 .7 10 .8-6 .8 1.1 .8-2.9 .8 12" stroke="#9B4A12" stroke-width="1.7"/><path d="M35 414.4l.8 6.1 .8 2.6 .8-118.2 .8 0 .7 0 .8 8 .8-4.3 .8-3.7 .8 1 .8 44.2 .8 13.4 .8 22.1 .7-2 .8 13.8 .8-4.9 .8 3.5 .8-13.5 .8 13.4 .8 3.2 .8 20.7 .8-9.8 .7 14.6 .8 .9 .8-120.6 .8 0 .8 0 .8 0 .8 0 .8 0 .7 0 .8 0 .8 0 .8 16.1 .8 28.7 .8 15.4 .8 9.1 .8 34.8 .8-57.7 .7 3.6 .8-50 .8 0 .8 0 .8 0 .8 0 .8 0 .8 0 .7 0 .8 8.9 .8-8.9 .8 8.7 .8 36.3 .8 46 .8 6.7 .8 14.2 .8 19.2 .7-131.1 .8 0 .8 0 .8 0 .8 0 .8 0 .8 0 .8 0 .7 0 .8 25.6 .8 22.8 .8 26 .8 4 .8 14.7 .8 20.2 .8-70.1 .8-43.2 .7 0 .8 0 .8 0 .8 0 .8 6.5 .8 2.4 .8 2 .8 41.5 .8-3.3 .7 24.7 .8 14.5 .8-55 .8 53.3 .8 22.8 .8 29.6 .8-139 .8 0 .7 42.6 .8-9.8 .8-21.4 .8 46.1 .8 12.4 .8 17.3 .8-12 .8 15.3 .8-.7 .7 13.8 .8-3.2 .8 9.6 .8 .1 .8 4.3 .8 11.5 .8-8.6 .8-6 .7 16.3 .8-5.5 .8-5.9 .8 9.2 .8 2.3 .8-7.8 .8 8.3 .8 2.7 .8 15.7 .7-3.1 .8 1.1 .8-4.2 .8 .1 .8-6.4 .8 1.5 .8-100.3 .8 14.6 .7 .3 .8 26.6 .8-.6 .8 16.7 .8 6.2 .8 15.6 .8-21.9 .8 17.3 .8-.2 .7 8.7 .8 14.3 .8-8.8 .8 14.5 .8 4.3 .8 4 .8 5.9 .8-8.4 .7-6.1 .8-116.2 .8-12.2 .8 21.6 .8 6.9 .8 11.9 .8 29.4 .8-9.5 .8 26.7 .7 2.7 .8 25 .8 5.1 .8 6.6 .8-5.9 .8-73.5 .8 14.6 .8 3.5 .7 15.2 .8 5.2 .8 3.4 .8 14.9 .8-11.2 .8 12.9 .8 9.5 .8 1.3 .8 23.7 .7-1.1 .8 4.7 .8-8.3 .8-30.2 .8 15.9 .8 2.6 .8-47.4 .8 19 .7 8.2 .8-10.5 .8-24.5 .8-8.5 .8-23 .8 21.7 .8 13.6 .8 5.9 .8-8.4 .7-.4 .8 12.4 .8 9.8 .8 9.4 .8 16.4 .8-35.7 .8 23.2 .8 14.4 .7-30.3 .8 12.7 .8 12.1 .8 8 .8-18.8 .8 11.4 .8-3.9 .8 2.3 .8 8 .7-1.8 .8-7.7 .8 12.6 .8-13.3 .8 5.4 .8 9.2 .8 11.4 .8 3.2 .8-.7 .7-29.8 .8 18 .8 12.6 .8 1.3 .8 3 .8 10.2 .8 .9 .8-2.5 .7-12.8 .8 13 .8 1.9 .8-3.1 .8-35.6 .8-44.2 .8 31.2 .8-48.2 .8 32.2 .7 14.3 .8 1 .8-2.2 .8 18.7 .8-16 .8 15.9 .8 11.8 .8 9.5 .7-3.6 .8 9.5 .8-11.1 .8 2.2 .8-16.7 .8 16.7 .8 3.7 .8-102 .8 11.7 .7 18.3 .8-30.9 .8 41.1 .8 14.7 .8 2 .8 14 .8 7.6 .8-44.5 .7-11 .8 28.6 .8 12.9 .8 8.6 .8 2.3 .8 4.5 .8 2 .8-29.9 .8 22.7 .7 21.5 .8 6 .8 2.6 .8 8.7 .8-7.8 .8-9 .8 15.6 .8-33.4 .7-36.2 .8-1.3 .8 25.7 .8-1.7 .8 11.5 .8-2.1 .8 6.7 .8 14 .8-.6 .7-.8 .8 1.3 .8-6.4 .8-2.3 .8 13.7 .8-4 .8 6.4 .8-7.8 .7 11.8 .8-28 .8 15.8 .8 3.5 .8 13.4 .8-4.9 .8 7.2 .8-79.5 .8 .6 .7 8.6 .8 0 .8 4.5 .8 22.7 .8 19.1 .8-7.5 .8-8 .8 18.9 .7 3 .8 17.7 .8-4.7 .8-5 .8 2 .8-3.9 .8-9.3 .8 10 .8 0 .7-4.5 .8 7.5 .8-9.5 .8 13.2 .8 6 .8-28.4 .8 14.7 .8 11.7 .7 5.5 .8 4.4 .8-2.2 .8 .8 .8-92.9 .8 23.2 .8 .7 .8 21.2 .8-1.9 .7-.7 .8 6.2 .8 20.6 .8 5.8 .8 2 .8 3.7 .8 5.1 .8-10.5 .7 7.7 .8 7 .8-3 .8 5.7 .8-46 .8 6 .8 3.1 .8 10 .8-6.5 .7 19.9 .8-6.2 .8 5.4 .8 5.9 .8-8.9 .8-153.5 .8 0 .8 0 .8 0 .7 0 .8 0 .8 0 .8 0 .8 19.8 .8 13.5 .8 38.1 .8-9.7 .7 16.9 .8 13.2 .8 7.5 .8 11.6 .8 25.8 .8-1.7 .8-17.3 .8 19.6 .8-4.9 .7 5 .8 6.1 .8 10.7 .8-2.2 .8-105.5 .8 3.4 .8 15.8 .8-3.7 .7 35.3 .8 7.7 .8-105 .8 7.9 .8 25.9 .8-10.3 .8 36.6 .8 1.3 .8 35.2 .7-3.3 .8 14.2 .8 2.3 .8-11.6 .8 29.7 .8 6 .8 2.1 .8 4.2 .7-17.8 .8 3.6 .8 6.3 .8-15.6 .8 12.5 .8-2.2 .8 12 .8-4.8 .8 2.7 .7-25.7 .8 13.8 .8 23.4 .8-5.4 .8 7.8 .8 8.3 .8-6.1 .8-15.9 .7 19.9 .8-4.3 .8 7.9 .8 1.2 .8-161.8 .8 0 .8 3.5 .8-3.5 .8 40.9 .7-40.9 .8 10.7 .8 32.7 .8 15.8 .8 10.2 .8-32.5 .8 6.7 .8 10 .7 2.3 .8 23.5 .8-46 .8-27.8 .8 46.9 .8 34.8 .8 29.8 .8 2.1 .8 1 .7 0 .8-19.5 .8 15 .8-39.9 .8 15.1 .8 13.5 .8 7.7 .8-3.3 .7-16.7 .8-19.1 .8 7 .8 8 .8 12 .8-11.7 .8 4.7 .8 13.6 .8-23.3 .7 12.2 .8-2.1 .8 15.1 .8 9.6 .8-20.7 .8-97.4 .8 0 .8 0 .7 0 .8 0 .8 0 .8 0 .8 0 .8 0 .8 0 .8 0 .8 0 .7 1.7 .8 7.9 .8 14.5 .8-3.6 .8 28.2 .8 7.8 .8 4.9 .8 6.4 .7-2.9 .8-46.4 .8 35.1 .8 24.7 .8 22.8 .8 15.1 .8-.8 .8-105.4 .8-10 .7 0 .8 0 .8 15.5 .8 18.7 .8 10.7 .8 9.3 .8-35.9 .8 40.5 .8 7 .7 13.9 .8 19 .8-8 .8 9.3 .8 16.9 .8-11.9 .8-105 .8 23.7 .7-23.7 .8 0 .8 0 .8 0 .8 0 .8 0 .8 0 .8 0 .8 0 .7 0 .8 0 .8 1.9 .8 38.6 .8 23 .8-63.5 .8 0 .8 24.7 .7-20.8 .8 7.4 .8 43.9 .8 .9 .8 19.5 .8-.6 .8 12.4 .8-17.2 .8-25.5 .7 22.5 .8-.6 .8 29.4 .8 15.3 .8 3.3 .8 16.9 .8 4.1 .8-135.6 .7 4.3 .8 23.3 .8 4.4 .8 30 .8 1 .8-4.6 .8 22.9 .8-11.2 .8 33.6 .7-5.9 .8 8.7 .8-.4 .8-17.1 .8 22.7 .8 1 .8 10.6 .8 9.5 .7-28.3 .8 10.7 .8-114.5 .8 24.9 .8 13.4 .8 19.6 .8 4.6 .8-63.2 .8 0 .7 0 .8 20 .8 17.9 .8-15.4 .8 15.7 .8 33.2 .8-42.1 .8 62.4 .7 15.3 .8-6.5 .8 8.3 .8-2.6 .8-1.1 .8 5.8 .8-66.2 .8 32.4 .8-5.9 .7 12.7 .8-13.7 .8 8.1 .8 14 .8-16.4 .8 .9 .8 11.4 .8 1 .7 12.4 .8-101.6 .8 0 .8 0 .8 0 .8 18.6 .8 27.3 .8 6.7 .8 13 .7-65.6 .8 0 .8 0 .8 15.7 .8 32.2 .8 26.9 .8-74.8 .8 0 .7 0 .8 0 .8 4.5 .8 25.7 .8-30.2 .8 0 .8 0 .8 0 .8 48 .7 2.2 .8 8.6 .8 11.6 .8 29.4 .8-15.5 .8 3.5 .8-7.2 .8 15.8 .8-8.2 .7 6.9 .8-5.8 .8 15.7 .8-14 .8 8.7 .8 .8 .8 15.8 .8-5.5 .7 8.9 .8-4.6 .8-9.8 .8 5.9 .8-1.6 .8-7.6 .8 2.7 .8 3.1 .8-96.5 .7 16.6 .8-27.9 .8 0 .8 2.7 .8 35.1 .8 24.5 .8 4 .8 20.4 .7 20 .8 2.9 .8 6 .8 15.8 .8-64 .8 10.8 .8 18.4 .8 5.8 .8 15.1 .7 8.6 .8-89.6 .8 9.6 .8-11.4 .8 18.8 .8 16.1 .8 14.3 .8-27.1 .7 13.9 .8 21 .8-3.4 .8-26.9 .8 22.7 .8 10.5 .8 9.7 .8 7.9 .8-2 .7 3 .8-40.2 .8 11.8 .8 19.4 .8 10.7 .8-6.5 .8-.3 .8-1.7 .7-1.3 .8 16.5 .8-19 .8 14.6 .8 13.3" stroke="#008F45" stroke-width="1.7"/><path d="M35 325.6l.8-12.5 .8 17.5 .8 17.5 .8 24.1 .7-6.8 .8 24.2 .8 8.1 .8 1.6 .8 15.4 .8 17.1 .8 11.1 .8 .7 .7 4 .8 9 .8-21 .8 5.7 .8-15.2 .8 4.8 .8 16.5 .8-2.3 .8 3 .7-66 .8 48.1 .8-125.3 .8 0 .8 0 .8 0 .8 0 .8 0 .7 0 .8 0 .8 0 .8 0 .8 17.2 .8 6 .8 22.5 .8 46.5 .8 29.5 .7 4.5 .8-126.2 .8 0 .8 0 .8 0 .8 0 .8 0 .8 0 .7 0 .8 0 .8 62.2 .8-36.4 .8 24.5 .8 45.1 .8 17.1 .8 13.6 .8 .3 .7-126.4 .8 0 .8 0 .8 15 .8 8.5 .8 .8 .8-4.2 .8-20.1 .7 41.2 .8 35.5 .8 31 .8-2.6 .8 30.8 .8-3.4 .8-78.2 .8 63.5 .8-117.8 .7 0 .8 0 .8 0 .8 0 .8 0 .8 0 .8 9 .8 6.7 .8 41.1 .7 28.8 .8 19.5 .8-40.2 .8 40.8 .8 36.9 .8 14.4 .8-157 .8 0 .7 0 .8 0 .8 5.5 .8 23.7 .8 14 .8 11.4 .8 29.6 .8 22.8 .8-107 .7 0 .8 0 .8 0 .8 0 .8 0 .8 16.6 .8-16.6 .8 4.1 .7 26.7 .8 22.8 .8 18.3 .8 21.1 .8 4.7 .8-60.7 .8 56.2 .8 10 .8 32.3 .7 11 .8-3.7 .8 17.4 .8-27.1 .8 21.1 .8 14.1 .8-133.7 .8 24.5 .7 7 .8 3.8 .8 18.6 .8 12 .8 17.6 .8-8.5 .8 15.9 .8-1.5 .8 12.7 .7 8 .8-3.3 .8-1 .8 10.1 .8 3.2 .8 9.4 .8-8.3 .8-1.5 .7-12.2 .8-84.5 .8 13.3 .8 10.3 .8 11.3 .8 3.6 .8-4 .8 15.1 .8 19.8 .7-15.2 .8 16.5 .8 12.9 .8-3.4 .8-24.5 .8 18.9 .8 1.3 .8 5.1 .7 18.3 .8-22.2 .8 20.6 .8-32.2 .8 21.1 .8 12.8 .8-1.1 .8 4.4 .8-1.3 .7 10.8 .8-3.4 .8-9.5 .8-40.7 .8 15 .8 10.9 .8 6.4 .8 2.1 .7-11.7 .8 14.5 .8-10.9 .8-43.9 .8 12.1 .8-2.1 .8 21 .8 7.8 .8 5 .7-63.6 .8 33.8 .8 1.6 .8 12.6 .8 .7 .8 7.1 .8 9 .8 11 .7-23.3 .8-1.1 .8 23.3 .8-13.4 .8-20.3 .8 18.8 .8 4 .8 9.3 .8-12.7 .7 11.4 .8 4.7 .8-28.4 .8 19.5 .8 11.8 .8 .9 .8-.4 .8 4.1 .8 .5 .7 1.3 .8-11.3 .8 11 .8-4.9 .8 9.1 .8-.3 .8 7 .8 4.5 .7-11.2 .8 6.4 .8 5.7 .8 9.5 .8-54.8 .8-4.8 .8-14.4 .8-16.1 .8 25.9 .7 10.1 .8-3.2 .8 12.8 .8-17.7 .8 22.2 .8 10.4 .8 4.2 .8 12 .7-3.4 .8 2.1 .8-18.4 .8-2.9 .8 15.1 .8-4.6 .8 .3 .8-152.7 .8 22 .7 13.3 .8 3.1 .8 24.2 .8-7 .8 18.9 .8 31.6 .8-3.2 .8 7.8 .7-21.7 .8 3.9 .8 22.1 .8 15.1 .8 .9 .8 2.1 .8 8.5 .8-12.8 .8 14.1 .7 10 .8-3.2 .8-6.5 .8 25.4 .8-6.4 .8-18.4 .8 18.5 .8-50.2 .7-27.8 .8 3.1 .8-30.9 .8 19.1 .8 8.9 .8-31.4 .8 32.3 .8 8 .8 17.4 .7 16.3 .8-4 .8 10.2 .8-2.7 .8 10 .8 4.3 .8 .7 .8 1.4 .7 8.8 .8 5.5 .8-27.8 .8 18.3 .8 4.3 .8 11 .8-8.6 .8-107.7 .8-2.9 .7 9.6 .8 19.6 .8 17.6 .8-28 .8 21.5 .8-5.8 .8 31.2 .8 5.8 .7-5.3 .8 11.2 .8 5.7 .8-5.1 .8-18 .8 16.1 .8 5.5 .8 9.6 .8 3.4 .7-15.4 .8 16.3 .8 8.3 .8 8.2 .8-43.2 .8 27 .8 8.2 .8 12.5 .7 8 .8-50.1 .8-3.1 .8 25.9 .8-48.1 .8 20 .8 14.8 .8 12.6 .8 5.1 .7-100.9 .8 6.3 .8 28.1 .8 14.3 .8 16.8 .8 24.8 .8 10 .8-98.3 .7 39.3 .8 22.8 .8 23.5 .8 4 .8-48.6 .8 6.3 .8 4.2 .8 5.3 .8 27.2 .7 11 .8 2.9 .8-2.4 .8-3.4 .8 14.2 .8-62.3 .8-2.4 .8-15.1 .8 9.1 .7 .5 .8 7.8 .8-6.1 .8 31.3 .8-6.6 .8 5.9 .8 21.1 .8 4.2 .7 .2 .8-8.1 .8 14.5 .8 4.7 .8-2.7 .8-1.8 .8-5.9 .8 7.8 .8-5.8 .7-8.5 .8 16.5 .8 6 .8 .6 .8-106.3 .8-4.1 .8-44.7 .8 40.3 .7 33 .8 27 .8-27 .8 22.7 .8 19.5 .8 7.9 .8-9.7 .8 7.8 .8 21 .7 2.2 .8-36 .8 19.2 .8-37.6 .8 17.9 .8 5.5 .8 5.9 .8 2.3 .7-2.8 .8 7.1 .8 5 .8-6.2 .8 5 .8 12.2 .8-.6 .8-1.2 .8 12.4 .7-12.9 .8-44.8 .8 35.8 .8 8.7 .8 5.8 .8 4.4 .8-.9 .8-8.8 .7 1.4 .8 11.4 .8-5 .8-6 .8-80.7 .8 7.3 .8 10.4 .8-30.5 .8 32.6 .7-50.5 .8 46 .8 9.7 .8 28.9 .8 2.3 .8-135.3 .8 76.4 .8 19.4 .7 23.1 .8 7.6 .8-96.1 .8-2 .8 46 .8 19.1 .8 27.5 .8 5.3 .8-10.3 .7-.8 .8 13.4 .8-9.8 .8-3.4 .8-2.3 .8 11.2 .8 2.9 .8-1.9 .7-94.5 .8 47.9 .8 28.1 .8-9.4 .8 18.1 .8 4.5 .8-10.4 .8-109.6 .8 80.2 .7 27.3 .8 4.9 .8 12.6 .8-7 .8 4.7 .8-122.7 .8 0 .8 0 .7 0 .8 0 .8 0 .8 0 .8 0 .8 0 .8 0 .8 0 .8 0 .7 0 .8 0 .8 0 .8 0 .8 31.1 .8 9.8 .8 5.8 .8 5.6 .7 32.2 .8 10.7 .8-72.5 .8 53.9 .8 32.5 .8 7.8 .8 4.5 .8-22.1 .8-28.1 .7-13 .8 11.8 .8-1 .8 15.1 .8 1.9 .8 8.6 .8 16 .8-98.2 .8 49.1 .7 43.9 .8-8.7 .8 5.1 .8 27.7 .8 3.2 .8-12.7 .8 6.5 .8 14.5 .7-141 .8 0 .8 0 .8 0 .8 0 .8 0 .8 0 .8 0 .8 0 .7 32.1 .8 15.4 .8 34.8 .8 16.4 .8 30.1 .8-128.8 .8 9.4 .8 39 .7-33 .8 57.1 .8 8.6 .8 32.8 .8 1.4 .8 23.1 .8-2.2 .8-22.7 .8-48.7 .7 13.2 .8 30.1 .8-.9 .8 13.6 .8 26.7 .8-28.6 .8 26.3 .8-145.2 .7 28.3 .8-1.9 .8 20.4 .8-3.2 .8-43.6 .8 56.6 .8 29.4 .8 1.4 .8 13.2 .7-5.1 .8 16.7 .8-67 .8 37.2 .8 42.5 .8 9.2 .8 1.3 .8 8.1 .7-7.4 .8 15.6 .8-151.7 .8 18.2 .8-.1 .8 35.4 .8 19.3 .8-72.8 .8 0 .7 0 .8 0 .8 0 .8 0 .8 0 .8 28.9 .8 52.7 .8-70.1 .7 63.2 .8 25.2 .8 3.6 .8 13.6 .8 .5 .8-104.4 .8 60.2 .8 23.2 .8 11.9 .7 8.4 .8 2.9 .8 4 .8-15.6 .8-108.2 .8 0 .8 0 .8 0 .7 13.3 .8-12.9 .8-.4 .8 24.9 .8-7.1 .8 33.5 .8 15.3 .8 3.6 .8 36 .7-78 .8 26.3 .8 40.2 .8-3.8 .8 20.4 .8 6.3 .8-117.6 .8 0 .7 0 .8 0 .8 0 .8 .7 .8 25.6 .8 11.4 .8 19.2 .8-19.1 .8 37.8 .7 17.5 .8 16.3 .8 9.8 .8 2 .8 8.8 .8-.8 .8-23.7 .8 2.1 .8 3.7 .7 4.7 .8-8 .8-47.1 .8 32 .8 25.4 .8 2 .8-3.6 .8 8.4 .7-.5 .8 5 .8 4.3 .8-8.8 .8 9.6 .8-7.1 .8-.7 .8 11.1 .8-78 .7 .6 .8-60.6 .8 0 .8 24.6 .8 32.1 .8 19.6 .8 13 .8 5.2 .7 30.5 .8 2.6 .8 10.5 .8 8.3 .8-63.3 .8 33.5 .8-26.9 .8 37.5 .8 7.1 .7 1.3 .8-55.1 .8-8.1 .8-35 .8 36.1 .8 13.9 .8 10.6 .8 22.6 .7-6.4 .8 4.8 .8-67.7 .8 37.4 .8 46.5 .8-6.6 .8-4.6 .8 2.2 .8-4.7 .7-18.3 .8 23.3 .8 .3 .8 1 .8 12 .8 .7 .8 2 .8-45.4 .7 33.2 .8 .9 .8 4.8 .8 3.2 .8-2.9" stroke="#BE1B1E" stroke-width="1.7"/><path d="M35 558.7l.8-.3 .8-.1 .8-.1 .8-.2 .7-.5 .8 .1 .8 .3 .8-.8 .8 .6 .8-1 .8-.3 .8 1 .7-.3 .8 .9 .8 .3 .8 0 .8-.3 .8-.2 .8-.2 .8-.2 .8 .4 .7 .2 .8 0 .8 .1 .8-.5 .8 0 .8-.1 .8 0 .8-.1 .7 .2 .8 .2 .8-.5 .8 .6 .8-.1 .8-.5 .8 .6 .8-.2 .8 0 .7 0 .8 0 .8-.4 .8-.4 .8 0 .8 0 .8 .1 .8 0 .7 .6 .8 .1 .8 .3 .8-.2 .8 .1 .8-.4 .8-.3 .8-.1 .8-.7 .7 .3 .8 .1 .8 .7 .8 .6 .8-.2 .8 .4 .8-.5 .8-.3 .7 .1 .8-.3 .8 .1 .8 .2 .8 .1 .8 .2 .8 0 .8-.2 .8-.8 .7 .1 .8 .2 .8 .3 .8 .8 .8-.5 .8 0 .8-.3 .8-.1 .8 .4 .7-.6 .8 .1 .8 .3 .8-.4 .8 .5 .8-.2 .8-.4 .8 .5 .7 0 .8 .5 .8 .3 .8 0 .8 .2 .8-.2 .8 .2 .8-.4 .8 .1 .7-.6 .8-.6 .8 .3 .8-.1 .8 .2 .8 .6 .8-.4 .8-.5 .7 .5 .8-.4 .8 .1 .8 .4 .8-.2 .8 .1 .8-.4 .8 .2 .8 0 .7 .3 .8 .7 .8-.6 .8 0 .8-.4 .8 0 .8 .4 .8-.2 .7 .2 .8-.6 .8-.2 .8 .3 .8 .1 .8 .6 .8-.1 .8 .1 .8 0 .7-.5 .8 .1 .8-.4 .8-.1 .8 .3 .8 .2 .8-.3 .8-.1 .7-.1 .8 .1 .8 0 .8-.3 .8 .1 .8 0 .8 .6 .8 .3 .8-.6 .7-.1 .8-.2 .8 0 .8 .2 .8 .4 .8-.2 .8 .1 .8 .1 .7-.1 .8 .1 .8-.5 .8 .1 .8-.2 .8-.6 .8 .3 .8 .2 .8 0 .7 1 .8 0 .8-.1 .8-.7 .8-.2 .8-.2 .8 .2 .8 .8 .7 .2 .8 0 .8 .1 .8 .1 .8-.2 .8 .6 .8-.7 .8-.2 .8-.2 .7 .1 .8 .5 .8-.1 .8 .3 .8-.2 .8-.3 .8 .1 .8-.1 .7 .2 .8 .3 .8 .1 .8 0 .8 0 .8 .2 .8 0 .8-.1 .8-.6 .7-.3 .8 0 .8 .2 .8 .4 .8 .3 .8 0 .8-.3 .8 0 .8 0 .7 .2 .8 0 .8-.4 .8 0 .8-.3 .8 0 .8 .5 .8-.4 .7-.1 .8-.1 .8-.3 .8 .3 .8-.2 .8 .1 .8-.2 .8-.5 .8-.2 .7 0 .8 .1 .8 .2 .8 .3 .8 .1 .8 .1 .8-.5 .8 0 .7-.7 .8 .2 .8 .5 .8 .3 .8 .7 .8-.3 .8 .2 .8 0 .8 .1 .7-.1 .8 .1 .8 0 .8-.2 .8 .4 .8-.6 .8-.2 .8 0 .7 .2 .8 .4 .8 .5 .8-.1 .8-.4 .8-.1 .8-.6 .8-.2 .8 .1 .7 .2 .8 .2 .8 .5 .8 .3 .8 .1 .8 .4 .8-.2 .8-.1 .7-.9 .8-.4 .8 .1 .8 .2 .8 .8 .8 0 .8-.6 .8 .1 .8 0 .7-.5 .8 .2 .8-.1 .8 .2 .8-.3 .8 0 .8 .1 .8-.2 .7 1.1 .8 .1 .8 .1 .8 .1 .8-.3 .8-.1 .8-.1 .8-.2 .8 .1 .7 0 .8-.1 .8-.4 .8 0 .8 0 .8-.7 .8 .4 .8-.9 .7 .2 .8 .9 .8-.3 .8 .6 .8-.3 .8 0 .8 .6 .8 .2 .8-.3 .7 .1 .8 0 .8 .4 .8-.2 .8-.1 .8-.6 .8-.1 .8 .5 .7-.3 .8 0 .8-.1 .8 .1 .8 .3 .8 .4 .8-.5 .8-.1 .8 .1 .7-.2 .8 .1 .8 .1 .8 0 .8 .1 .8 .6 .8-.1 .8-.2 .7 .2 .8 .1 .8-.3 .8-.4 .8-.9 .8-.4 .8 .1 .8 .4 .8 .8 .7-.2 .8 0 .8 0 .8 .1 .8 .6 .8 .2 .8-.1 .8-.5 .8 0 .7-.7 .8-.1 .8 .4 .8-.2 .8 .5 .8 .1 .8-.2 .8-.2 .7-.1 .8-.2 .8 0 .8-.2 .8-.3 .8 .6 .8 .2 .8 .2 .8 .1 .7 0 .8 .1 .8 .4 .8 .3 .8 0 .8-.1 .8-.2 .8 0 .7-.3 .8 .1 .8 0 .8-.3 .8 .3 .8-.3 .8-.4 .8 .3 .8-.1 .7-.4 .8 .6 .8 0 .8-.1 .8 .3 .8-.5 .8-.1 .8 .3 .7 .3 .8 .4 .8 0 .8-.2 .8-.2 .8 .2 .8-.1 .8 .2 .8 .1 .7-.4 .8 .1 .8-.2 .8-.3 .8 .2 .8 0 .8 .1 .8 .1 .7-.5 .8-.3 .8-.4 .8 .2 .8 .6 .8-.4 .8 .5 .8 .2 .8 0 .7 .8 .8 0 .8-.3 .8 .1 .8 0 .8-.1 .8-.1 .8-.5 .7-.3 .8 0 .8 .1 .8 .5 .8 0 .8-.3 .8-.2 .8 0 .8-.2 .7 0 .8 0 .8-.5 .8-.2 .8 .3 .8 .5 .8-.4 .8 .6 .7 0 .8 .1 .8 .3 .8 .1 .8-.1 .8-.4 .8 .3 .8-.3 .8-.1 .7-.8 .8 .2 .8 0 .8 .2 .8 1.1 .8-.9 .8 .2 .8-.4 .7-.2 .8 .7 .8 .1 .8 .3 .8 .3 .8 .2 .8-.2 .8-.5 .8-.3 .7-.8 .8 .2 .8 .3 .8 .1 .8 .6 .8-.6 .8 .1 .8-.1 .7-.4 .8 .3 .8 0 .8 .1 .8 .6 .8-.1 .8-.1 .8 .1 .8 0 .7 .1 .8 .2 .8-.4 .8-.9 .8 .3 .8-.1 .8 .4 .8 .7 .8 .1 .7 0 .8 .2 .8-.2 .8-.4 .8-.3 .8 0 .8 .1 .8 .1 .7 .2 .8 0 .8 .3 .8 .2 .8-.4 .8-.2 .8-.1 .8-.4 .8 .7 .7-.2 .8 0 .8 .3 .8 0 .8 .1 .8 .2 .8 0 .8-.6 .7 .1 .8-.3 .8-.3 .8 .3 .8 0 .8-.1 .8 .2 .8 .3 .8 .1 .7 .1 .8-.1 .8-.2 .8 0 .8 0 .8 .2 .8 .3 .8-.1 .7-.2 .8-1.2 .8-.1 .8-.1 .8-.3 .8 1 .8-.1 .8 .3 .8 .5 .7-.2 .8 0 .8-.5 .8-.7 .8 0 .8 .1 .8 .2 .8 .7 .7-.1 .8 0 .8 0 .8-.7 .8 .4 .8 .1 .8-.4 .8 .8 .8-.4 .7-.5 .8 .4 .8-.3 .8 .3 .8 .4 .8 .4 .8-.2 .8-.6 .7-.2 .8-.6 .8 .4 .8 .6 .8 .1 .8 .6 .8-.7 .8-.2 .8 0 .7-1 .8 .8 .8 .1 .8 0 .8 1.1 .8-.4 .8 .3 .8 .2 .7-.1 .8 0 .8-.5 .8-.4 .8 0 .8-.1 .8 .4 .8-.3 .8-.6 .7-.2 .8-.3 .8 .4 .8 .7 .8 .5 .8 .2 .8 .1 .8 .2 .7-.4 .8 .4 .8-.1 .8-.2 .8 0 .8-.3 .8-.4 .8 .1 .8-.5 .7-.4 .8 .5 .8-.3 .8 .8 .8 .5 .8-.1 .8-.3 .8 .1 .8-.8 .7 .1 .8 .4 .8 .1 .8 .4 .8 0 .8 .1 .8-.3 .8 0 .7 .1 .8 .1 .8 .4 .8-.6 .8-.1 .8-.3 .8-.9 .8 .8 .8 .1 .7 .2 .8 .7 .8 .3 .8-.7 .8 0 .8-.4 .8-.1 .8 .3 .7-.1 .8 .1 .8-.4 .8-.1 .8-.2 .8 .4 .8 .2 .8 .5 .8 .3 .7-.3 .8 0 .8-.5 .8-.1 .8 .2 .8 .1 .8 .5 .8 .2 .7 .1 .8-.2 .8-.8 .8-.1 .8-.1 .8 0 .8 .3 .8-.4 .8-.4 .7 .3 .8 .4 .8 0 .8 .5 .8-.1 .8-.1 .8 .3 .8-.2 .7 0 .8 0 .8-.1 .8-.1 .8 .1" stroke="#A8A8A8" stroke-width="1.1"/></g><line x1="34.25" y1="558.7" x2="579.7" y2="558.7" stroke="#000" stroke-width="3" stroke-linecap="round" stroke-dasharray="1.5 6" clip-path="url(#c2)"/><rect x="35.0" y="329.5" width="544.7" height="232.8" fill="none" stroke="#111" stroke-width="2"/><line x1="28.2" y1="559.0" x2="35.0" y2="559.0" stroke="#111" stroke-width="2"/><text x="12.82" y="566.52" font-size="21" stroke="#000" stroke-width="0.65">0</text><line x1="28.2" y1="526.2" x2="35.0" y2="526.2" stroke="#111" stroke-width="2"/><text x="12.82" y="533.73" font-size="21" stroke="#000" stroke-width="0.65">2</text><line x1="28.2" y1="493.4" x2="35.0" y2="493.4" stroke="#111" stroke-width="2"/><text x="12.82" y="500.95" font-size="21" stroke="#000" stroke-width="0.65">4</text><line x1="28.2" y1="460.6" x2="35.0" y2="460.6" stroke="#111" stroke-width="2"/><text x="12.82" y="468.16" font-size="21" stroke="#000" stroke-width="0.65">6</text><line x1="28.2" y1="427.9" x2="35.0" y2="427.9" stroke="#111" stroke-width="2"/><text x="12.82" y="435.38" font-size="21" stroke="#000" stroke-width="0.65">8</text><line x1="28.2" y1="395.1" x2="35.0" y2="395.1" stroke="#111" stroke-width="2"/><text x="1.14" y="402.59" font-size="21" stroke="#000" stroke-width="0.65"> 0</text><path transform="translate(1.14,402.59) scale(0.01025,-0.00986)" d="M763 0H583V1147Q518 1085 412 1023Q307 961 223 930V1104Q374 1175 487 1276Q600 1377 647 1472H763Z" stroke="#000" stroke-width="0.65"/><line x1="28.2" y1="362.3" x2="35.0" y2="362.3" stroke="#111" stroke-width="2"/><text x="1.14" y="369.80" font-size="21" stroke="#000" stroke-width="0.65"> 2</text><path transform="translate(1.14,369.80) scale(0.01025,-0.00986)" d="M763 0H583V1147Q518 1085 412 1023Q307 961 223 930V1104Q374 1175 487 1276Q600 1377 647 1472H763Z" stroke="#000" stroke-width="0.65"/><line x1="28.2" y1="329.5" x2="35.0" y2="329.5" stroke="#111" stroke-width="2"/><text x="1.14" y="337.02" font-size="21" stroke="#000" stroke-width="0.65"> 4</text><path transform="translate(1.14,337.02) scale(0.01025,-0.00986)" d="M763 0H583V1147Q518 1085 412 1023Q307 961 223 930V1104Q374 1175 487 1276Q600 1377 647 1472H763Z" stroke="#000" stroke-width="0.65"/><line x1="177.0" y1="562.3" x2="177.0" y2="568.3" stroke="#111" stroke-width="2"/><text x="137.88" y="591.00" font-size="20.5" stroke="#000" stroke-width="0.6">2023-07</text><line x1="321.0" y1="562.3" x2="321.0" y2="568.3" stroke="#111" stroke-width="2"/><text x="281.88" y="591.00" font-size="20.5" stroke="#000" stroke-width="0.6">2024-0 </text><path transform="translate(345.72,591.00) scale(0.01001,-0.00963)" d="M763 0H583V1147Q518 1085 412 1023Q307 961 223 930V1104Q374 1175 487 1276Q600 1377 647 1472H763Z" stroke="#000" stroke-width="0.6"/><line x1="465.0" y1="562.3" x2="465.0" y2="568.3" stroke="#111" stroke-width="2"/><text x="425.88" y="591.00" font-size="20.5" stroke="#000" stroke-width="0.6">2024-07</text><text x="0" y="0" transform="translate(306.4,323.4) scale(0.98,1)" font-size="25" font-weight="bold" text-anchor="middle">ETH</text><rect x="48.8" y="342.6" width="9.8" height="8.5" fill="#3a3a3a" stroke="#000" stroke-width="2"/><text x="72.3" y="353.8" font-size="14.5" stroke="#000" stroke-width="0.45">Bitcoin</text><rect x="48.8" y="359.9" width="9.8" height="8.5" fill="#FFA500" stroke="#000" stroke-width="2"/><text x="72.3" y="371.2" font-size="14.5" stroke="#000" stroke-width="0.45">ETH</text><rect x="48.8" y="377.4" width="9.8" height="8.5" fill="#3C78B4" stroke="#000" stroke-width="2"/><text x="72.3" y="388.6" font-size="14.5" stroke="#000" stroke-width="0.45">LINK</text><rect x="48.8" y="394.8" width="9.8" height="8.5" fill="#A0521E" stroke="#000" stroke-width="2"/><text x="72.3" y="406.0" font-size="14.5" stroke="#000" stroke-width="0.45">BAT</text><rect x="48.8" y="412.1" width="9.8" height="8.5" fill="#00A550" stroke="#000" stroke-width="2"/><text x="72.3" y="423.4" font-size="14.5" stroke="#000" stroke-width="0.45">THETA</text><rect x="48.8" y="429.6" width="9.8" height="8.5" fill="#CC2222" stroke="#000" stroke-width="2"/><text x="72.3" y="440.8" font-size="14.5" stroke="#000" stroke-width="0.45">XTZ</text><rect x="48.8" y="446.9" width="9.8" height="8.5" fill="#C8C8C8" stroke="#000" stroke-width="2"/><text x="72.3" y="458.2" font-size="14.5" stroke="#000" stroke-width="0.45">OIL</text>
<line x1="658.5" y1="526.2" x2="1196.0" y2="526.2" stroke="#cfcfcf" stroke-width="1.5" stroke-dasharray="3.6 3.8"/><line x1="658.5" y1="493.4" x2="1196.0" y2="493.4" stroke="#cfcfcf" stroke-width="1.5" stroke-dasharray="3.6 3.8"/><line x1="658.5" y1="460.6" x2="1196.0" y2="460.6" stroke="#cfcfcf" stroke-width="1.5" stroke-dasharray="3.6 3.8"/><line x1="658.5" y1="427.9" x2="1196.0" y2="427.9" stroke="#cfcfcf" stroke-width="1.5" stroke-dasharray="3.6 3.8"/><line x1="658.5" y1="395.1" x2="1196.0" y2="395.1" stroke="#cfcfcf" stroke-width="1.5" stroke-dasharray="3.6 3.8"/><line x1="658.5" y1="362.3" x2="1196.0" y2="362.3" stroke="#cfcfcf" stroke-width="1.5" stroke-dasharray="3.6 3.8"/><g clip-path="url(#c3)" fill="none" stroke-linejoin="round"><path d="M652 486.9l.8-3.7 .8 1.5 .8-2 .7 25.5 .8 .7 .8-27.3 .8 4.9 .8-4.6 .8-1.9 .8 .3 .8-61.6 .7 10.6 .8 10.1 .8-6.4 .8-13.6 .8 12.4 .8-3.4 .8 46.8 .8 1.5 .7-23.6 .8-2.3 .8 2 .8 3.8 .8 9 .8-4.3 .8-2.2 .8 4 .7-50.8 .8 10.3 .8 6.2 .8 23.7 .8-6.6 .8 1 .8 3.8 .8-4.7 .7 8.3 .8 7.3 .8 39.8 .8 .7 .8-29.4 .8 .1 .8-2.4 .8-1.5 .7 9.4 .8 1.2 .8 .4 .8-2.1 .8 5.5 .8-6.8 .8 10.4 .8-.5 .7 1.5 .8 15.8 .8 .1 .8 6 .8-18.6 .8-53.6 .8 12.8 .7 8.6 .8-5.9 .8 8 .8-13.2 .8 9.6 .8-3.1 .8-15.2 .8 .4 .7 14.8 .8 44.1 .8 .7 .8-40.8 .8-16.9 .8 11.1 .8 11.3 .8 1.9 .7 5.5 .8-1.2 .8 9 .8-38.4 .8 4.1 .8 3.7 .8 8.4 .8 12.5 .7-35 .8-2.8 .8 6.2 .8 15 .8 4.5 .8 28.2 .8 7.1 .8-41.3 .7 11.8 .8 1.1 .8 10.8 .8-6.3 .8 26.3 .8 1.3 .8-16.3 .8-2.1 .7 7.6 .8 .8 .8 3.6 .8-4.6 .8 4.5 .8 2.9 .8 17.9 .8-.6 .7-19 .8 6.6 .8-.7 .8-1.2 .8-7.3 .8 2.7 .8 3 .7-22.9 .8 31.5 .8-26.6 .8 2.5 .8-2.7 .8-.2 .8 3.7 .8 6.2 .7-5.6 .8 10.6 .8 4.1 .8 .5 .8 .6 .8-7.3 .8 3.3 .8-.6 .7 0 .8 23.3 .8 2.7 .8-23.8 .8 1.7 .8 .1 .8 1.4 .8-.2 .7 5.1 .8-8.5 .8 2.2 .8-1.8 .8-2.1 .8 5.2 .8 4.5 .8 12 .7-19.4 .8-25.4 .8 3 .8 10 .8-5.2 .8 29.8 .8-2.4 .8-19.6 .7 2.2 .8-1.5 .8 3.8 .8-12.8 .8 5.9 .8 8.4 .8-3.2 .7 1.3 .8-13.2 .8 6.7 .8 6.6 .8-3.4 .8 5.6 .8-53.5 .8 7.7 .7 8.2 .8 9.3 .8 5.6 .8 8.9 .8 1.3 .8-5.3 .8 11 .8 1.1 .7 1.2 .8 1.5 .8-19.3 .8 .6 .8 24 .8 4.1 .8-26.4 .8 1.8 .7 10.5 .8 .9 .8-9.2 .8-3.2 .8 14.3 .8-5.5 .8 4.2 .8 0 .7 2.7 .8-.4 .8 10 .8 6.4 .8 5.6 .8-11.7 .8-1.4 .8 2 .7 4 .8-2.7 .8 2.7 .8-.6 .8-1.2 .8 1.2 .8-2.1 .8 4.8 .7-19.8 .8-5.9 .8 7.3 .8 4.3 .8-1.6 .8 12.9 .8 5.1 .7-15.7 .8 3.6 .8 .1 .8-6.4 .8 .7 .8 3.5 .8-2 .8 16.4 .7 .5 .8-11.7 .8 5.6 .8-2.3 .8 1 .8-.3 .8 4.3 .8-38 .7 3.8 .8 11.6 .8 5.1 .8-1.2 .8-24.6 .8 7 .8 1.3 .8-.5 .7 .2 .8 8.8 .8 .6 .8-1 .8-2.8 .8 13.6 .8-1.6 .8 3.6 .7-2.6 .8-7 .8 1.2 .8 1.1 .8 6 .8 2.5 .8 .7 .8 6.3 .7-20.2 .8 .4 .8 2.1 .8 1.5 .8 9 .8-.5 .8-.9 .8 12.6 .7 2.7 .8-6 .8-2.5 .8 2 .8-13.7 .8 2.5 .8-51.4 .7 12.9 .8 2.4 .8 8.6 .8-2.3 .8 11.4 .8 3.1 .8-7 .8-45.8 .7 13.1 .8 2.5 .8-9.1 .8 3.3 .8 12.2 .8 46.4 .8-5.5 .8-46.2 .7 3 .8-4.7 .8 13.4 .8 20.2 .8 10.3 .8-16.2 .8 1.2 .8 9.2 .7 5.7 .8 3.8 .8-2 .8 10.7 .8 .1 .8 .3 .8 .1 .8 5.5 .7-.3 .8 2.9 .8 .5 .8 1.8 .8 3.3 .8-5.3 .8 .9 .8 5.9 .7-.3 .8-.8 .8 23 .8-1.3 .8-20.3 .8-5.7 .8-1.8 .8 1.1 .7 5.3 .8-2.1 .8 11.5 .8-16.2 .8-.8 .8 7.9 .8-4.7 .7 10.8 .8-3.2 .8 2.5 .8-8.6 .8-27 .8 2 .8 4.4 .8 .4 .7 4.9 .8 5.8 .8-10.5 .8 2.5 .8 2.3 .8 .7 .8-2.9 .8 4.2 .7 .4 .8 17.3 .8-3 .8 5.4 .8-27 .8 5.1 .8 .9 .8-7.6 .7 11.9 .8-25.8 .8-.3 .8-3 .8 .4 .8 7.1 .8-2.4 .8-1.6 .7 5.6 .8-3.1 .8 1.4 .8 1.7 .8-.4 .8-.6 .8 1.3 .8 0 .7 2.2 .8-3.5 .8-11.7 .8 32.1 .8-30.7 .8 1.7 .8-2.7 .7 13.8 .8-3.6 .8 5.6 .8-5.7 .8 28.5 .8-13.3 .8-4.2 .8-2.8 .7 1.5 .8 1.5 .8 3.9 .8-.6 .8-1.5 .8 3.8 .8-1.9 .8 10.1 .7-6.9 .8 5.5 .8-4.7 .8 .9 .8 4.3 .8-1.8 .8 4.5 .8 .8 .7 1.4 .8 14.3 .8-1.6 .8-70.2 .8 11.1 .8 0 .8 8.5 .8 3.3 .7-.3 .8-.9 .8 8 .8-20.3 .8 20.3 .8 3.6 .8 5.8 .8-70.3 .7 14.2 .8-45.9 .8 9.4 .8-4.6 .8 5.2 .8 29.1 .8-8.9 .8-6.2 .7 5.6 .8 12.3 .8 16.2 .8 4.5 .8-.4 .8 2.6 .8 4.1 .7 2.8 .8 9.7 .8-4.3 .8 3.7 .8-9 .8 7.3 .8-10.2 .8 7.5 .7 3.8 .8 10 .8 23.1 .8-18.2 .8-20.7 .8-2.2 .8-6.6 .8 10.3 .7-3.6 .8 11.7 .8-3.7 .8 5.2 .8 1 .8-.3 .8-2.3 .8 8.2 .7 2.3 .8 26.4 .8-36.7 .8-31.2 .8-12.6 .8 13.4 .8-.8 .8 23.2 .7-2.9 .8-.5 .8 9.1 .8 1.1 .8-19 .8 12.2 .8-1.5 .8-5.4 .7 9.8 .8 44.7 .8-31.1 .8 .9 .8-3 .8 8.2 .8 1.5 .8-3.9 .7-1.4 .8 6.7 .8-2 .8 19.4 .8-1 .8-10 .8-8.1 .7-21.2 .8 3.9 .8-1.2 .8 6.4 .8 35.9 .8-3.5 .8-2.1 .8-19.4 .7 .9 .8-6.8 .8 7.4 .8-8.5 .8 14.4 .8-2.7 .8-1.3 .8-1.8 .7 .9 .8 1.4 .8 32.8 .8-2 .8 6.2 .8-34.1 .8 2.9 .8-1.9 .7 .1 .8 3.3 .8-.4 .8-94.1 .8 7.2 .8 11.9 .8-11.2 .8 2.9 .7 28.4 .8-2.1 .8-22.4 .8 71.2 .8 6.3 .8-36.5 .8 8 .8 3.4 .7 5.8 .8-1 .8 8 .8 1 .8-31.2 .8 5.6 .8 13.5 .8-3 .7 5.6 .8 4.4 .8 7.8 .8 6.8 .8 5.4 .8 29.9 .8 2.3 .7-46.3 .8 11.8 .8-2.1 .8 7.7 .8 2.7 .8-.6 .8 .7 .8-2.4 .7-1.7 .8-46.9 .8 14.8 .8 0 .8-1.9 .8 7.9 .8 26.9 .8 .2 .7-29.7 .8 11.8 .8 .3 .8-6.3 .8 7 .8 24.3 .8-35.1 .8-2.2 .7 6.3 .8 5.9 .8 .6 .8 26.9 .8 3.3 .8-23.5 .8-2.6 .8 3.4 .7-2.3 .8 .3 .8-6.8 .8 32.2 .8-26.1 .8 4.9 .8-27.9 .8 1.1 .7 8.3 .8 2.8 .8 21.2 .8-2.7 .8-6.5 .8-14.7 .8 5.3 .7-1 .8-.3 .8-.6 .8 29.1 .8-3 .8-18.1 .8-27.3 .8-9 .7 20.2 .8-4.8 .8 35.2 .8 3.4 .8 2.8 .8-34.6 .8 1.2 .8 1.9 .7 7.4 .8 3.4 .8-18.9 .8 1.9 .8-.3 .8 .8 .8 1.7 .8 7.1 .7-3 .8-2 .8 3.7 .8 1.5 .8-21.2 .8 4.9 .8-34.8 .8 20.3 .7 .6 .8 10.3 .8 29.2 .8 7.8 .8-21.9 .8 .1 .8-3.4 .8 0 .7 8.4 .8 3.7 .8-29 .8 2.2 .8 3 .8 2.6 .8 .6 .8 11.5 .7 9.6 .8 18.7 .8-14 .8 .9 .8-11.6 .8 7.4 .8 7.4 .7-5.5 .8-.9 .8 5.9 .8-12.9 .8 2.9 .8 0 .8 .1 .8-.9 .7 .8 .8 .7 .8 .1 .8 2.9 .8 7.3 .8-5.5 .8-15 .8 4.8 .7-3.1 .8 5.8 .8 6.1 .8-50 .8 3.8 .8 7.8 .8 0 .8 11.8 .7 8.5 .8 7.4 .8-32.7 .8 4.3 .8 5.8 .8-52.3 .8 .5 .8 16.1 .7 0 .8-6.8 .8 23.5 .8 8.9 .8-3.2 .8 2.6 .8 8.4 .8-4.7 .7 5.9 .8 5 .8 25.1 .8-.8 .8 5.9 .8-29.5 .8-20.6 .8-15.2 .7 22 .8-8.5 .8 8.7 .8 2.2" stroke="#2a2a2a" stroke-width="1.7"/><path d="M652 460.6l.8-.7 .8 3.2 .8 10 .7-12.9 .8 18.7 .8-14.2 .8 .1 .8-12.4 .8 6.8 .8-3.6 .8-2.6 .7 9.3 .8 23.7 .8 3.3 .8-40.6 .8 3.9 .8 1.3 .8 27.2 .8 3.8 .7-2.6 .8-30.1 .8-2.9 .8 6.4 .8-1 .8-1.3 .8 3.6 .8-.9 .7-31.6 .8-21.7 .8-36.9 .8 72.2 .8 9.7 .8-56.8 .8 22.8 .8 6.6 .7 4 .8 5 .8-3.2 .8 12.8 .8 22.7 .8 15.7 .8-41.5 .8 16.9 .7-10.5 .8 15.1 .8 1.2 .8-2.5 .8 .7 .8 2.1 .8 4 .8 9.3 .7-3.9 .8 3.5 .8 3.2 .8 2.8 .8 5.1 .8-53.3 .8 2.8 .7-16.7 .8 29.1 .8-5.4 .8-7.8 .8-3.5 .8 16.6 .8-22.7 .8 13 .7 11.2 .8 8.2 .8 6.4 .8-17.7 .8 5.7 .8 11.3 .8-8.2 .8 33.5 .7 4 .8-29.7 .8-1.9 .8 15.7 .8 1.8 .8-7.7 .8 2.8 .8 10.8 .7-89.2 .8 49.7 .8 1.2 .8-34 .8-6.2 .8 16 .8 31.3 .8-6.4 .7-7.4 .8-4.9 .8 2 .8 35.8 .8 10.2 .8-27.6 .8 8.5 .8-13.1 .7 9.9 .8 12 .8-1.9 .8-.4 .8 3 .8-4.3 .8 .8 .8 11.4 .7-.6 .8 23.1 .8-21.8 .8 1.1 .8-10 .8-47.2 .8 21.2 .7-3.4 .8-5.7 .8 12.5 .8 2.6 .8 1.4 .8 .7 .8 4.7 .8 6.8 .7-6.3 .8 8.8 .8 24.2 .8-23.4 .8 2.7 .8-2.6 .8 12.2 .8-4.8 .7-2 .8 5.9 .8-1.6 .8 14.2 .8-9 .8-6.6 .8 4.2 .8 8.4 .7 23.9 .8-4.6 .8-3.1 .8-22.8 .8-2.8 .8 7.7 .8-1.2 .8-.3 .7-85.8 .8 14.1 .8-12.4 .8 9.6 .8 24.7 .8 8.1 .8-5.2 .8 11.4 .7 13.7 .8-21.7 .8 12.5 .8-44.4 .8-12.6 .8 24.2 .8 12.4 .7 .4 .8 4.9 .8 7.3 .8 .3 .8 12.9 .8 2 .8-57 .8 17.4 .7 7.1 .8 10.5 .8 7.6 .8 1.5 .8 12.1 .8-5.8 .8 17 .8-2.6 .7 9 .8 17.5 .8-46.3 .8-34.7 .8 19.4 .8 1.8 .8-7.3 .8 14.7 .7 10.8 .8-.6 .8 5.2 .8-4.8 .8 5.4 .8 .8 .8 8.2 .8 5.2 .7-12.1 .8 17.5 .8-10 .8 6.4 .8-3.7 .8 10 .8-5.1 .8-.2 .7 12.1 .8-1.1 .8-7.5 .8 5.8 .8-4.3 .8 11 .8-3 .8 7 .7-46.6 .8 19 .8 1.6 .8-1.5 .8 3.8 .8-25.5 .8 17.5 .7 2.6 .8-.1 .8-16.1 .8 10.4 .8-.3 .8 5.6 .8 5.8 .8 .4 .7 10.7 .8-4 .8-5.9 .8 12 .8-7.9 .8 2.4 .8 5.5 .8-36.3 .7 4.7 .8 2.9 .8 3.1 .8 5.2 .8-31.6 .8 46.2 .8-32.1 .8 10.6 .7-5.8 .8 7.4 .8 5.7 .8-5.2 .8 31.4 .8 12.2 .8-8.5 .8-15.5 .7-8.4 .8-23.9 .8 34.1 .8-16.4 .8 2.9 .8 .5 .8 1.1 .8-.8 .7-6.1 .8-10.1 .8 15.4 .8 10 .8-4.6 .8 6.3 .8-2.6 .8 1.5 .7 .6 .8 .1 .8-3.2 .8 8.2 .8-3.8 .8 21.4 .8-39.2 .7-26.6 .8-.4 .8 10.8 .8 1.2 .8 5.8 .8-3.2 .8 20.1 .8-13.2 .7 9.1 .8 2.1 .8-20.3 .8 9 .8-3.9 .8 5.6 .8-33.3 .8 18.3 .7-9.2 .8 16.6 .8-2.1 .8 8.6 .8 3.7 .8 4.5 .8 .2 .8 .5 .7 .4 .8 9.9 .8-1.3 .8 4.8 .8-2.1 .8 1.8 .8 5.3 .8-.6 .7 6.6 .8 .8 .8 2.1 .8 9.3 .8 4.9 .8-16.3 .8-1.3 .8 .8 .7-2.1 .8 8.4 .8 .2 .8-2 .8-27.2 .8 1.8 .8 5 .8 3.6 .7 1.7 .8-6 .8-7.3 .8 16.9 .8-8.3 .8 4.6 .8 6.2 .7-2.1 .8-22.5 .8 5.8 .8-23.5 .8 18.3 .8-3.7 .8 3.9 .8 6.4 .7 11 .8-1.5 .8-7.5 .8-3.7 .8 .8 .8 12.1 .8-14.9 .8 7.5 .7 4.4 .8-.2 .8-.8 .8-5.7 .8 2.2 .8 9.1 .8-6.7 .8-4.4 .7-3.9 .8 2.1 .8-6.5 .8-.7 .8 3.6 .8-.7 .8-14.1 .8 10.6 .7 .4 .8-1.3 .8-2.1 .8-5.7 .8-.6 .8 6.3 .8-.3 .8-19 .7 17.1 .8-8.4 .8 5.1 .8 10.7 .8-.3 .8-26 .8 1.5 .7 18.5 .8 3.4 .8 9.4 .8-8 .8-2.2 .8-1.1 .8 7.1 .8 5.1 .7-.9 .8-9.8 .8-.9 .8 19.8 .8-2.5 .8-3.6 .8-7.9 .8 3 .7 8.8 .8 1.7 .8-3 .8-1.9 .8 6.5 .8-3.5 .8 4 .8-3.9 .7 23.8 .8 .2 .8-25.7 .8 2 .8 1.7 .8-1.7 .8-5.6 .8-.4 .7-3.5 .8 7.5 .8-5.1 .8-22.6 .8-2.2 .8 6.6 .8-22.5 .8-45.3 .7 4.8 .8-50.6 .8-28.9 .8 62.7 .8 17.7 .8-66.8 .8 20.8 .8-18.3 .7 14.5 .8 11.7 .8 1.7 .8 15 .8 9.1 .8-3.3 .8 8.7 .7 12.2 .8 26 .8-19.7 .8 19.2 .8-11.5 .8-1.6 .8-4.5 .8 17.4 .7 7.9 .8 4.9 .8 2 .8-8.1 .8-12.7 .8-2.6 .8 18.8 .8-5.1 .7 11.8 .8 1.4 .8 4.6 .8-1.2 .8 .3 .8 1.6 .8 8.7 .8 3.6 .7-10.7 .8 12.3 .8-12.3 .8-58.6 .8-40.1 .8 24.4 .8 21 .8 16.3 .7 21.5 .8-19.6 .8 12.1 .8 7.1 .8-2.6 .8-3.6 .8 5.7 .8 7.7 .7 9.2 .8 5 .8-4.5 .8 10.2 .8-10 .8 26.6 .8-32.8 .8 13.4 .7 1.9 .8 6.4 .8 14.5 .8-10.4 .8-.5 .8-3.9 .8 2.9 .7-.9 .8 9.4 .8-28.8 .8-1.1 .8 16.2 .8 31.3 .8-26.1 .8-16.9 .7 4.7 .8 4.8 .8 11.1 .8-5.5 .8 2.9 .8-.8 .8-.3 .8-1.5 .7 5.4 .8-4.9 .8 3.4 .8 3 .8-.5 .8 1.7 .8-8 .8 6.6 .7-1.9 .8 3.5 .8 5 .8-135.9 .8 88.5 .8-5.4 .8-64.8 .8 23 .7-.4 .8-.5 .8 4.1 .8 14 .8-7.8 .8 12.4 .8 6.9 .8 14.8 .7 3.3 .8 49.3 .8 1.3 .8-.8 .8-27.1 .8 35.7 .8 6.2 .8-53.4 .7 9.1 .8 3.9 .8 11.3 .8 .6 .8 12.4 .8 14 .8-5.3 .7-67.5 .8 23.8 .8-10.6 .8 16.3 .8-7.8 .8 12.1 .8-12.8 .8 .6 .7 21 .8-11.5 .8-6.2 .8-19.6 .8 .7 .8-1.1 .8-3.5 .8 56.4 .7 1.6 .8-40 .8-8.5 .8 15.3 .8 8 .8-3.4 .8-2.6 .8 3.6 .7 2.2 .8 3.1 .8 6.3 .8 7.4 .8-5.4 .8 6.6 .8-10.2 .8 1.7 .7 8.5 .8 12.9 .8 .1 .8-18.3 .8-51.4 .8-20.6 .8 39.3 .8 16.1 .7 6.3 .8-17.7 .8 0 .8 7.5 .8-1.3 .8 5.2 .8 1.7 .7-2.1 .8 9 .8-.8 .8-22 .8 12.7 .8 1.6 .8-59.9 .8 .9 .7 7.6 .8 3.5 .8 12.2 .8-10.2 .8 15.6 .8 43.4 .8 3.2 .8-.4 .7-26.9 .8-20.1 .8 5 .8 8.1 .8 4.8 .8 15.4 .8-13.8 .8 3.6 .7 .7 .8 3.2 .8 8.7 .8-2.3 .8-39.5 .8 21.4 .8-17.5 .8 8.6 .7 15.2 .8-.4 .8 8.7 .8-13.4 .8 46.7 .8 9.6 .8-47.7 .8 10.6 .7-9.2 .8 18.5 .8 7.8 .8-8.9 .8-7.7 .8 3.1 .8 9.9 .8-9.7 .7-23.3 .8 24 .8-13.9 .8 11.4 .8-12.9 .8-1.7 .8 8.4 .7-3.5 .8 5.7 .8 7.7 .8-16.2 .8 9.5 .8 1.7 .8-15.8 .8 47.2 .7-27.4 .8-3.6 .8 10.7 .8-.4 .8-6.7 .8 2.4 .8-1.4 .8-4 .7 14.3 .8-2.5 .8-26.9 .8-5.1 .8-4 .8 10.5 .8-9.8 .8 5.3 .7 3.7 .8-1.8 .8-11.8 .8 9.3 .8-7.5 .8-72.1 .8-29.5 .8-15.3 .7 9 .8 20.6 .8-3.5 .8 29.2 .8 10.9 .8 6.6 .8 13.9 .8 2.4 .7-37.2 .8 1.2 .8 10.9 .8 21.1 .8-9.2 .8 19.3 .8-68.5 .8 2.9 .7 18.3 .8-13.6 .8 27.3 .8 29.2" stroke="#F2A000" stroke-width="1.7"/><path d="M652 376.8l.8 31.5 .8-16.4 .8 16.8 .7 1.5 .8 8.9 .8 29 .8-22.8 .8-24.8 .8 26.6 .8-12.7 .8-29.7 .7 38.4 .8 1.9 .8 4.8 .8-5.8 .8-27.7 .8 18.5 .8-1.1 .8 13.1 .7-45.9 .8 46.1 .8-35.7 .8 10.5 .8 6.6 .8 40.1 .8 5.9 .8-27.4 .7-122.1 .8 0 .8 0 .8 0 .8 0 .8 0 .8 0 .8 0 .7 15.5 .8 40.9 .8 5.1 .8 22.8 .8-40.1 .8 9.4 .8 18.5 .8-8.2 .7 6.7 .8 16.1 .8 23.3 .8 23.4 .8-14.5 .8-5.7 .8 11 .8-3.2 .7-5.6 .8 34.5 .8 12.1 .8 13.6 .8-46.3 .8-129.3 .8 0 .7 51.7 .8-18.5 .8-8.5 .8 1.7 .8-25.5 .8 60.1 .8-32.3 .8 4 .7-18.2 .8 84.6 .8 28.1 .8-127.2 .8 41.4 .8-1.4 .8 36.8 .8 24.8 .7 9.9 .8 24.4 .8-.7 .8 1.2 .8-11.5 .8 9.9 .8 5.3 .8 7.6 .7-147.7 .8 48 .8 40.4 .8-61.6 .8 47 .8 7.7 .8 20 .8-3.7 .7-8.5 .8-14 .8-61.9 .8 76.9 .8-8.6 .8 48.7 .8-15.9 .8-6.4 .7-2.7 .8 27.6 .8 12.1 .8 1.3 .8-2.4 .8 6.1 .8-13.9 .8-10.1 .7 3.4 .8 20.4 .8-5.7 .8 7.4 .8-36.4 .8-80.7 .8-24.9 .7 47.7 .8 36.9 .8-7.9 .8 15.7 .8-14 .8 11.5 .8-5.3 .8 12.9 .7-16.1 .8 37.7 .8 3.2 .8-3.7 .8 8 .8-9.7 .8-3 .8-9.1 .7 40.4 .8 14.1 .8 .9 .8-31.6 .8 5.6 .8 3.7 .8-11.4 .8 16.1 .7-1.7 .8 9.7 .8-.1 .8-15.6 .8-7 .8 13.1 .8 .2 .8 3 .7-81.2 .8-32.4 .8 38.1 .8-.2 .8 24.9 .8 12.6 .8-9.7 .8 .4 .7 16.1 .8-31.5 .8 29.3 .8-47.3 .8-6.1 .8 24.9 .8 16.7 .7-58.6 .8 68.4 .8-4 .8-6.8 .8 29.2 .8-7.1 .8-129.5 .8 0 .7 45.8 .8-12.4 .8 17.4 .8 29.5 .8 30.3 .8 16 .8 10.6 .8-34.1 .7-19.1 .8-3.2 .8-10.6 .8 13.3 .8 27.2 .8 23.7 .8-61.1 .8 34 .7 7.6 .8 39.5 .8-65.9 .8 .1 .8 6.7 .8 13.6 .8 18.5 .8-11.1 .7 8.9 .8 8.9 .8 25.3 .8 .3 .8-33.4 .8-2.2 .8 25.2 .8-6.3 .7 8 .8-7 .8 34.7 .8-8.9 .8 16 .8-30.9 .8 8.7 .8-2.4 .7-79.2 .8-2.3 .8 12.8 .8-3.4 .8 39.8 .8-16.7 .8 23.3 .7-3 .8 9.5 .8-33.1 .8-23 .8-8.7 .8 19.3 .8 25.7 .8 14.3 .7-70.1 .8 37.7 .8-31.3 .8 33.1 .8 49.3 .8 10 .8-36.3 .8-29.8 .7 26.5 .8 8.9 .8 14.3 .8 6 .8-143.5 .8 66.3 .8 22 .8-41.6 .7 25.5 .8-1.2 .8 61.2 .8-46.5 .8 2.7 .8 14.7 .8 6.3 .8-7.1 .7-11.1 .8 9.6 .8 15.2 .8-26.2 .8 22.2 .8 26.1 .8-.8 .8-18.2 .7-8.2 .8-8.9 .8 1.5 .8-10.4 .8 17 .8-15.4 .8 7 .8 43.2 .7-7.5 .8-25 .8 24.5 .8 17.1 .8-5.9 .8-4.9 .8-154.5 .7 0 .8 0 .8 15 .8-15 .8 37.5 .8 12.6 .8 15.3 .8-13.9 .7 15.6 .8 24.1 .8-45 .8 15.2 .8-3.5 .8 19 .8-76.9 .8 0 .7 77.9 .8-21.6 .8-32 .8 31.6 .8 25.2 .8 28.7 .8 11.3 .8 8.9 .7 1.4 .8-43.8 .8 44.1 .8-20.9 .8 24.2 .8 16.4 .8 2.9 .8-19.3 .7 7.9 .8 19.9 .8 5.6 .8 9.2 .8-27.1 .8-40.2 .8 16.6 .8 19.7 .7 16.2 .8-3.9 .8 9.3 .8-5.7 .8 12.6 .8-4.2 .8-14.8 .8 2.2 .7 4.2 .8-9.4 .8-7.3 .8 19 .8-.1 .8 10.7 .8-14.2 .7 3.1 .8 13 .8-18.9 .8-16.5 .8-7.1 .8 1.3 .8 28.6 .8-13.4 .7 3.1 .8-10.9 .8-23.7 .8 8.4 .8 2 .8 9.1 .8 10.9 .8-11 .7-5.6 .8 4.2 .8-10.4 .8-9.1 .8 2.8 .8 28 .8-6.1 .8 4.9 .7-30.5 .8-23.6 .8 10.8 .8 24.8 .8 5.5 .8-13.7 .8-1.1 .8 30.3 .7-31 .8-23.3 .8 10.3 .8 48.7 .8-18.8 .8-19.6 .8-3.7 .8-27.7 .7 19.9 .8 13 .8-44.4 .8 18.4 .8 4.1 .8 14.9 .8 12.9 .7-27 .8 23 .8 26.3 .8-6 .8-14.5 .8-6.7 .8-23 .8 26.9 .7 6.4 .8 14.2 .8-5.8 .8-39.7 .8 10.6 .8 3.2 .8 5.8 .8 12.6 .7 5 .8-.5 .8-3.6 .8-19.9 .8 14.1 .8 11.5 .8 14.5 .8-1.5 .7 6.7 .8-2.3 .8-55.7 .8 9.9 .8-17.6 .8 44.5 .8 12.4 .8-9.6 .7-13.6 .8-12 .8 2.6 .8-71.1 .8-44.2 .8 0 .8 10.7 .8-7.3 .7-3.4 .8 0 .8 0 .8 0 .8 0 .8 0 .8 0 .8 0 .7 0 .8 .1 .8-.1 .8 6.3 .8 30.3 .8 9.8 .8-46.4 .7 16.3 .8 43.2 .8 .9 .8 8.9 .8-23.9 .8 60.8 .8-72.8 .8 51.7 .7-1.4 .8-9 .8 20.2 .8-40.1 .8 56.2 .8-34.9 .8-28.3 .8 1.1 .7 47.9 .8 4 .8-27.5 .8 23.8 .8 18.6 .8 1 .8 3 .8-20.8 .7 14.3 .8-2.5 .8 5.7 .8-83.5 .8-32.9 .8 0 .8 0 .8 0 .7 0 .8 3 .8 70.1 .8-14.5 .8 18.1 .8-42.2 .8 22.3 .8 31.1 .7 22.9 .8-39.6 .8-37.5 .8 58.8 .8 14.3 .8-5.8 .8 34.6 .8-52 .7 32.6 .8 2.8 .8-14.2 .8-2.9 .8 40.2 .8-31.1 .8 24.5 .7-135.5 .8 65.3 .8 39.2 .8-19.3 .8 0 .8-13.8 .8 11.1 .8 18.6 .7 5 .8-20.4 .8 8.3 .8 13.5 .8-2.2 .8 47.9 .8-27.9 .8-14.5 .7-36.7 .8 45 .8 17.6 .8-20.5 .8 10.5 .8 1.1 .8 17.9 .8-33.7 .7 12.7 .8 20.9 .8-9.9 .8-135.7 .8 0 .8 0 .8 0 .8 0 .7 .2 .8-.2 .8 8.8 .8 23.5 .8-32.3 .8 52.4 .8-15.8 .8 29.4 .7 3.8 .8 38.8 .8-8.6 .8-18.1 .8 36.6 .8 5.4 .8-16.2 .8-18.3 .7-19.3 .8-49.2 .8 78.1 .8-51.3 .8 21.8 .8 34.4 .8 16.4 .7-35.6 .8 6.9 .8 41.1 .8-21.7 .8 47.4 .8-17.4 .8-4 .8-19.2 .7 20.4 .8-69 .8-12.8 .8-56.4 .8 0 .8 17.3 .8 48.4 .8-36 .7 11.8 .8 25 .8-12.1 .8 71.6 .8 7.6 .8-41.1 .8 14.4 .8-43.4 .7 59.1 .8-25.6 .8-.9 .8 39.7 .8-.5 .8-25 .8 10 .8-6.2 .7-7 .8 56.5 .8-25.1 .8 17.2 .8-155.7 .8 0 .8 0 .8 68.5 .7 37.8 .8-79.3 .8 23.6 .8 9.8 .8 15.3 .8-32.5 .8 16.7 .7 32.2 .8 16.6 .8-39.8 .8 9.2 .8-29.8 .8 35 .8-83.3 .8 57.9 .7 58.4 .8-68.6 .8 3.3 .8-46.6 .8 55 .8 11.7 .8 63.1 .8-9.9 .7-29.1 .8-20.7 .8-9.7 .8-6.3 .8 28.5 .8 24.6 .8-25.4 .8 53.8 .7-6.6 .8-10 .8-33.2 .8 12.6 .8-102.8 .8 0 .8 11.9 .8-11.9 .7 0 .8 0 .8 49.7 .8 39.3 .8-89 .8 0 .8 16.5 .8-16.5 .7 30.6 .8-30.6 .8 62 .8-32.3 .8 25 .8-20.8 .8-10.6 .8 35.2 .7 43.7 .8 16.4 .8-23.3 .8-2.6 .8-10.1 .8 30.6 .8 1.9 .7 10.9 .8-15.1 .8-10 .8-14.9 .8 27 .8-22.6 .8 4.8 .8 19.2 .7-1.6 .8 10.2 .8 21.2 .8-19 .8-10.9 .8-1.1 .8 23.3 .8 3.2 .7-12.5 .8-35.1 .8 3.7 .8-95.8 .8 9.4 .8 28.9 .8 33.6 .8-5.5 .7-1.3 .8-65.1 .8 33.6 .8 29.9 .8-3.1 .8-60.4 .8 0 .8 0 .7 0 .8 0 .8 0 .8 12.2 .8 49.2 .8-24.3 .8-33.7 .8 19.4 .7-22.8 .8 55.4 .8-.7 .8 16 .8-5.5 .8 21.5 .8-86.7 .8 0 .7 0 .8 38 .8 1.5 .8-.4" stroke="#2F6EAA" stroke-width="1.7"/><path d="M652 304.9l.8 79.7 .8-21.3 .8 31.7 .7 11.5 .8-13.5 .8 9.2 .8-10.1 .8-22.4 .8 58.7 .8-10.2 .8-42.1 .7 19.4 .8-7.6 .8-.8 .8 31.2 .8 1.4 .8-21.8 .8 10 .8 21.1 .7-17.2 .8-7.6 .8 3.1 .8-8.8 .8-21.3 .8-3.6 .8 37.5 .8-25.8 .7-80.4 .8 13.9 .8 20.3 .8-34.2 .8 27.6 .8-27.6 .8 40.5 .8 53.4 .7-3.3 .8-45.1 .8 39.6 .8 3.9 .8 32.6 .8-40 .8 4.9 .8 26.7 .7-5.5 .8-.2 .8-4.3 .8 15 .8-18 .8-6.1 .8 22 .8 7.5 .7 27.8 .8-13.5 .8-16.8 .8 11.4 .8 4.8 .8-137.3 .8 30.9 .7-12.9 .8 1.3 .8 11.6 .8 16.2 .8-18.3 .8-14.3 .8 15 .8-5.6 .7 22.6 .8 22.6 .8 14.6 .8 19.1 .8-93.4 .8 48 .8 12.1 .8-7.1 .7-3.2 .8 41.2 .8-2.6 .8-17.3 .8 24.2 .8 8.5 .8 40.8 .8-16.3 .7-134.5 .8 14.3 .8 16.6 .8 18 .8 25.9 .8 4.5 .8 6.2 .8 24.1 .7-26.8 .8 6.1 .8 18.5 .8 2.3 .8 28 .8-12.7 .8-15.7 .8 16.4 .7-28.9 .8 30.1 .8 1.7 .8 16.3 .8 9.4 .8-8 .8-1 .8-148.5 .7 0 .8 87.8 .8-1.8 .8 21 .8-36.1 .8-70.9 .8 14.5 .7 35 .8-33.7 .8 61.6 .8 1.6 .8 40.4 .8-78 .8 34.1 .8 10.5 .7-1.3 .8 27.1 .8 29.1 .8-5.2 .8-17.6 .8 1.6 .8 4.9 .8 10.7 .7-10.5 .8-.1 .8 12.6 .8 2.4 .8 33.1 .8-29.3 .8-12.5 .8 22.6 .7 10.9 .8-33.6 .8 9.8 .8 14.1 .8-17 .8 18.5 .8 3.3 .8-9.8 .7-149.8 .8 0 .8 0 .8 2.1 .8-2.1 .8 20.9 .8 3 .8 35.8 .7 52.3 .8-14.2 .8-23 .8-36.9 .8 61.5 .8 28.4 .8-44.3 .7-10.7 .8-2.2 .8 39 .8-5.3 .8 12 .8 26 .8-101 .8 4.6 .7 11.5 .8 .5 .8-40.2 .8 74.8 .8 17.6 .8 20.1 .8-43.2 .8 52 .7 .9 .8-7.5 .8-74.6 .8-7.2 .8 19.8 .8-12.5 .8 9.3 .8 32.3 .7 12.8 .8-16.4 .8-81.2 .8 22 .8 53.3 .8-36.4 .8-6.2 .8 53.8 .7-4.8 .8 7.6 .8 10.8 .8-45.8 .8 35.4 .8-2.8 .8 7.6 .8 60.6 .7-5.2 .8-22.1 .8-14.5 .8 26.9 .8-9.6 .8 11.4 .8-23.6 .8 21.4 .7-31.4 .8 8 .8-46.2 .8 29 .8 50.5 .8-57.8 .8 3.7 .7 2.2 .8 10.7 .8 7.5 .8-30 .8 12.9 .8-12.2 .8 27.9 .8-5.3 .7 11.7 .8-16.1 .8 34.8 .8 2 .8-22.9 .8 4.5 .8 .6 .8-64.9 .7 3.2 .8 12.3 .8-.1 .8 48.1 .8-63.4 .8 23.4 .8-16 .8-61.4 .7 34.7 .8 40.7 .8 22.6 .8 1 .8-22.3 .8 28 .8-20.5 .8 34.3 .7-3.3 .8-52.5 .8 .8 .8 35.8 .8 1.2 .8-19.1 .8 22.3 .8 7.1 .7-29.9 .8 .7 .8-5.4 .8 19.8 .8 29.5 .8-21.7 .8 25.5 .8 14.6 .7-17.3 .8-17.4 .8 28 .8-25.4 .8 11 .8 6.8 .8-149.4 .7 36.1 .8-36.1 .8 4.6 .8-4.6 .8 2.2 .8-2.2 .8 41 .8 47.5 .7 2.1 .8 50.3 .8-92 .8 20.7 .8-20.4 .8 72.1 .8-74.7 .8 22.9 .7 19.5 .8-3.4 .8 19.7 .8 2.7 .8-5.9 .8-41.9 .8-34.3 .8 25 .7-6.2 .8 17.7 .8 2.5 .8 25.9 .8 3.3 .8 48.5 .8 4.2 .8-31 .7 8.6 .8-10 .8 46.9 .8-13 .8-8.8 .8 5.6 .8-29.3 .8-9.4 .7 21.4 .8 29.6 .8-17.2 .8 6.1 .8 5.7 .8-37.8 .8 16.7 .8 31.2 .7 .3 .8-8.4 .8-6.6 .8-16.8 .8 18.4 .8 20.5 .8-15.9 .7-4.6 .8-.9 .8-17.9 .8 18.9 .8-55.1 .8 35.3 .8-3.2 .8 14.1 .7 3.9 .8-26.8 .8 36.3 .8-12.3 .8-12.3 .8 8.7 .8-11.6 .8 8.9 .7 3.3 .8-35.7 .8 30.4 .8-1.2 .8 9 .8-4.6 .8-16.9 .8-.1 .7-15.4 .8 17.1 .8-13.6 .8 29.6 .8-15.1 .8-2.2 .8 27.6 .8-11.3 .7-20.1 .8-12.8 .8-30.2 .8 19.2 .8-5.8 .8 18.7 .8-10.4 .8-17.5 .7 6 .8-11.5 .8 8.3 .8 .7 .8 5.2 .8 23.1 .8-10.2 .7-8 .8-1 .8 21.5 .8-19 .8 1.8 .8 25.7 .8-70.4 .8 21.8 .7 33.5 .8 25.4 .8-25.5 .8 23.4 .8-24.2 .8 4.3 .8 14.9 .8-14.4 .7 8.4 .8-16.3 .8 13 .8 4.3 .8 5.1 .8-4.4 .8 20.6 .8-8.4 .7 31.2 .8-146.7 .8-15.2 .8 18.3 .8 29.4 .8 14.6 .8-.3 .8 .9 .7 9.1 .8 16.4 .8-3.5 .8-37.4 .8-22 .8 75.7 .8-26.4 .8-74.8 .7 0 .8 0 .8 0 .8 0 .8 0 .8 0 .8 0 .8 0 .7 0 .8 0 .8 0 .8 64.6 .8-34 .8-18.5 .8 7 .7-19.1 .8 0 .8 0 .8 0 .8 10.7 .8 18.6 .8 7.5 .8-36.8 .7 3.6 .8 43 .8 6 .8 28.7 .8 14.3 .8-75.9 .8 48.7 .8 1.2 .7 9.6 .8 3 .8 44.9 .8 3 .8-62.6 .8-4.6 .8 38.4 .8-16 .7 43.5 .8-6.9 .8-53.8 .8-68.1 .8 0 .8 0 .8 0 .8 0 .7 46.7 .8-46.7 .8 0 .8 0 .8 0 .8 42.1 .8-42.1 .8 44 .7 39.1 .8 13.8 .8-65.4 .8 43.1 .8 17.4 .8 8.4 .8 9.9 .8-30.3 .7-5.9 .8-8.1 .8 41.6 .8 30.7 .8-33.6 .8 18.3 .8 1.4 .7-76.1 .8-7.2 .8 7.1 .8 36.9 .8 19.4 .8 4.3 .8 17.6 .8-34.5 .7-73.6 .8 59.6 .8 13 .8 11.8 .8 16.2 .8-11 .8 16.7 .8-33.9 .7 32.9 .8 27.1 .8-.1 .8-17 .8-2.5 .8 2 .8-23.3 .8 21.8 .7-10.7 .8-12.5 .8 15.8 .8-124.2 .8 0 .8 0 .8 0 .8 0 .7 0 .8 0 .8 0 .8 1.4 .8-1.4 .8 0 .8 9.1 .8 26.2 .7 20.7 .8 5.8 .8-15.4 .8 53.9 .8 .4 .8 28.3 .8 3.5 .8-69.4 .7 17.7 .8 23.9 .8-50.8 .8 41.7 .8 68.5 .8-4.6 .8-8.6 .7-90.7 .8 47.1 .8 .6 .8 9.4 .8 8.9 .8 16.1 .8-14.5 .8 1.3 .7-16.7 .8-15.5 .8 32 .8-51.5 .8 2.1 .8 .7 .8 30.6 .8-110.8 .7 0 .8 0 .8 0 .8 31.7 .8 31.3 .8 3.9 .8-17.3 .8 13.7 .7 17.9 .8-3.9 .8 2.9 .8 40.9 .8 11.4 .8-10.4 .8-19.9 .8-12.2 .7 16.2 .8 23.3 .8-6.2 .8-15.2 .8-108.1 .8 0 .8 0 .8 66 .7-32 .8-4.1 .8-23.1 .8 55.7 .8-2.7 .8 8.9 .8-6 .7 8.8 .8 5.7 .8 12.8 .8-34.6 .8 24.1 .8 13.9 .8-93.4 .8 60.5 .7-60.5 .8 0 .8 0 .8 3.8 .8 17.7 .8 35 .8 12.7 .8-.5 .7 .9 .8-39.1 .8 18.7 .8 18.7 .8 24.2 .8-4 .8 52.8 .8-40.4 .7-44.4 .8 49.4 .8-16.5 .8 30.6 .8-119.5 .8-.1 .8 0 .8 0 .7 0 .8 8.4 .8-8.4 .8 33.8 .8 17.8 .8 21.1 .8 11.5 .8-50.5 .7 23.5 .8 44.4 .8-11.3 .8 23.9 .8-39.2 .8 25.9 .8-12.8 .8 5.8 .7 14.7 .8-1.2 .8 28 .8-42.1 .8 40.9 .8-23.6 .8 5.2 .7 .4 .8-12.1 .8 37.1 .8-16.9 .8 15 .8-81.9 .8 38.4 .8-14.8 .7 43.4 .8-20.2 .8 21.1 .8-40.8 .8 9 .8 34.2 .8-3.2 .8 1.4 .7 3.8 .8-9.1 .8 2.3 .8-77 .8-3 .8 4.4 .8 68.6 .8-5.3 .7-5.2 .8-99 .8 43.9 .8-11.3 .8 8.8 .8-47.8 .8 20.8 .8-20.8 .7 0 .8 0 .8 13.2 .8-13.2 .8 0 .8 0 .8 0 .8 0 .7 0 .8 0 .8 0 .8 0 .8 0 .8 0 .8 0 .8 0 .7 0 .8 0 .8 0 .8 0" stroke="#9B4A12" stroke-width="1.7"/><path d="M652 360l.8 39.7 .8 .7 .8 12.5 .7 5.3 .8 12.6 .8 3.4 .8-54.5 .8 9.9 .8-12.5 .8 22.6 .8-8.5 .7 40.6 .8 7 .8-5.5 .8-25 .8 29.8 .8 6.4 .8-21.3 .8 14.4 .7-40.8 .8 19.7 .8-8.3 .8-1.7 .8 5.7 .8-18.6 .8-8.8 .8 39.6 .7-119.5 .8 0 .8 0 .8 0 .8 29.6 .8-28.3 .8 14.8 .8 29.9 .7-2.2 .8 38.9 .8-35 .8 38.9 .8-4.8 .8 2.7 .8 11.8 .8 12 .7 13.3 .8-42.3 .8 26 .8 4.3 .8-20.6 .8 33 .8-4.7 .8-14.8 .7 2 .8 17.8 .8 7.3 .8 9.6 .8 5.9 .8-145.1 .8 55 .7-20.9 .8 55.6 .8-62.7 .8-7.4 .8-19.6 .8 0 .8 0 .8 19.5 .7 36 .8-11.2 .8 14.9 .8-1.7 .8-49.8 .8 16 .8 20 .8 15.9 .7-30.1 .8 76.4 .8 12.1 .8 13 .8-8.7 .8 3.6 .8 12.5 .8 8.1 .7-146.5 .8 0 .8 0 .8 0 .8 .9 .8-.9 .8 0 .8 0 .7 25.7 .8-25.7 .8 8.5 .8 1.9 .8 56.5 .8 37.1 .8-22.5 .8-21.6 .7 50.3 .8-.3 .8-29.9 .8 8.5 .8 13.5 .8 43.9 .8-59.5 .8 59.3 .7-20.2 .8 35.6 .8-23.2 .8 10.4 .8-20.5 .8-113.5 .8 14.9 .7 1.7 .8 37.3 .8-43.8 .8 9.2 .8 31.2 .8-28.4 .8 19.9 .8-8.6 .7 30.9 .8 12.7 .8 32.2 .8 15.2 .8-22.5 .8-22.6 .8 19 .8 4.4 .7-2.4 .8 7.9 .8 6 .8-49.2 .8 34 .8 16.9 .8 1.6 .8 25.1 .7-27.3 .8 27.1 .8-5 .8 4.2 .8-21 .8 12.7 .8 10.1 .8-18.3 .7-121.7 .8 30.1 .8-6 .8 .6 .8 56.5 .8 15 .8-3.4 .8-9.5 .7-58.1 .8 10.4 .8 42.1 .8 8.7 .8 8.8 .8 20.8 .8 3.6 .7-66.4 .8 53.6 .8-15.8 .8-21.6 .8 48 .8 14.2 .8-42.5 .8-42.1 .7 45.4 .8 14 .8-9.4 .8 28.6 .8 11.2 .8-22.5 .8 12.2 .8 1.4 .7 6.5 .8-6.9 .8-61 .8 11.3 .8 25.6 .8-9 .8-68.9 .8 33.3 .7 19.1 .8 54.6 .8-47.2 .8 17.1 .8-20.7 .8 38.6 .8-44.1 .8 22 .7 16 .8-3.6 .8 9 .8 8.3 .8-41.9 .8 31.1 .8 19.2 .8 14.3 .7-1.3 .8 9 .8-62.3 .8 41 .8-19.9 .8 13.1 .8 18.3 .8-7.2 .7-87.8 .8 30.3 .8-30.7 .8 14.5 .8-5.9 .8-14.4 .8-25.3 .7 22.9 .8 1 .8 20.1 .8 3.9 .8-13.6 .8 16.2 .8 27.7 .8-28.4 .7 48.8 .8-15.8 .8-20.6 .8 14.6 .8 19.2 .8 1.1 .8 2.4 .8-117.1 .7 48.2 .8-4.7 .8 55.4 .8-13.8 .8-56.3 .8 29 .8-.1 .8-10.8 .7 44.9 .8 6.5 .8-18.6 .8 32.2 .8-30.2 .8 26.4 .8-11.1 .8 11.1 .7 2.5 .8-53 .8 12 .8 3.3 .8-58.6 .8 34 .8 15.5 .8 4.6 .7-28.8 .8 33.8 .8 1.4 .8-37.1 .8 24.4 .8 1.5 .8 4.8 .8 25.1 .7-5.3 .8 15 .8 25.8 .8-33.8 .8 16.2 .8-.9 .8-17.2 .7 .1 .8 11.2 .8 13.2 .8-48.6 .8 19.1 .8-5.9 .8 17.3 .8 3.2 .7 15.5 .8 2.3 .8-121.3 .8 84 .8-24.3 .8 .5 .8-31.7 .8 43.9 .7-35.2 .8-28.5 .8 45.6 .8 33.6 .8-13.2 .8 16.4 .8 4.6 .8 22.2 .7-66.7 .8 38.2 .8 19.7 .8 2.9 .8 10.2 .8-10.8 .8-8.3 .8 16.8 .7-6.6 .8 22.8 .8-8.9 .8-17.6 .8 37.1 .8-20.9 .8-18.8 .8 40.9 .7 2 .8-.5 .8-13.5 .8 12.8 .8-1.9 .8-26.5 .8 11.5 .8 1.6 .7 5.9 .8-12 .8 17 .8-21.6 .8-90.4 .8 35.1 .8-2.9 .7 16.5 .8 37.7 .8-18.9 .8 22.7 .8-144 .8 0 .8 42.8 .8-10.5 .7 22.8 .8-33.1 .8 48.8 .8 4.9 .8-12.8 .8 16 .8-2.3 .8 9.9 .7-7.5 .8 51.1 .8 .8 .8-29.2 .8 9.6 .8-1.4 .8-5.5 .8 2.4 .7-23.8 .8 37.7 .8-.5 .8-9.1 .8 53.5 .8-17.6 .8-121 .8 9.5 .7 31.4 .8-41.3 .8 56.2 .8-2.2 .8-19.1 .8 8.7 .8 .8 .8-37.8 .7 77.3 .8-1.6 .8-1.6 .8-11.5 .8 23.3 .8 7 .8-33.7 .7 5.3 .8 14.5 .8-20 .8 35.3 .8-20.9 .8-105.6 .8 0 .8 14.8 .7 21.5 .8 21.6 .8 25.2 .8-11.5 .8 5.1 .8 20.2 .8 23.2 .8 .7 .7 6.5 .8-3 .8 2.1 .8 26.7 .8-2.2 .8-19.4 .8 19.2 .8 34.9 .7-43 .8 14.5 .8-7.9 .8 2.2 .8-19.3 .8 17.8 .8-15.9 .8 6.8 .7 6.2 .8 2.4 .8-28.3 .8-55.9 .8-65.2 .8 0 .8 29.1 .8-29.1 .7 0 .8 0 .8 0 .8 0 .8 0 .8 0 .8 0 .8 0 .7 0 .8 0 .8 0 .8 0 .8 15.6 .8-15.6 .8 0 .7 0 .8 0 .8 25.2 .8-13.4 .8 34.3 .8 26 .8 15.1 .8-53.2 .7 28.7 .8 19.1 .8 2.4 .8-24.8 .8-1.3 .8-29.2 .8 50.3 .8-9.5 .7 35.4 .8 13 .8-13 .8 1.2 .8 11.1 .8 7.7 .8-25.7 .8 20.3 .7 12.1 .8-131.8 .8 16 .8-16 .8 0 .8 0 .8 0 .8 0 .7 0 .8 0 .8 11.2 .8-11.2 .8 5.9 .8 43.4 .8-2.3 .8 7.2 .7-51.1 .8 36 .8-24.6 .8 59.9 .8-2.6 .8-6.6 .8 24.7 .8 4.5 .7 28.8 .8-10.6 .8-3.5 .8 .5 .8 16.5 .8-19.4 .8 26.9 .7-133.6 .8 33.6 .8 36.4 .8 30.8 .8 12.1 .8-20.6 .8 5.3 .8-.8 .7 7.5 .8-13.4 .8 31.8 .8-6.9 .8 23.9 .8-9.7 .8-34.5 .8 25.8 .7 7 .8-11.2 .8 11.7 .8-14.3 .8 39.8 .8-30.2 .8-10.8 .8 29.8 .7 .2 .8-22.2 .8 21.8 .8-142.9 .8 0 .8 0 .8 0 .8 0 .7 0 .8 0 .8 0 .8 0 .8 0 .8 0 .8 0 .8 5 .7 71.4 .8-76.4 .8 20.7 .8-16.8 .8 51.9 .8 59 .8-25.4 .8-85 .7 21 .8 14.3 .8 23.2 .8 8.3 .8 17.5 .8 28 .8 16.7 .7-33.9 .8 7.5 .8-30.7 .8 53.2 .8 12.2 .8-24.4 .8 20.7 .8-18.6 .7 12.6 .8-50.4 .8-20.4 .8-15.5 .8 10 .8-7.4 .8 46 .8-39.2 .7 2.3 .8 34.5 .8 9.8 .8-31.9 .8 33.7 .8-1 .8-1.2 .8 6 .7 9.8 .8-12.7 .8-4.3 .8 22.9 .8 32.2 .8-12.4 .8-8.4 .8-5.7 .7-21.3 .8-13.7 .8 42.2 .8 14.7 .8-148.8 .8 96.6 .8-3.2 .8 10.4 .7-13.3 .8 32 .8-3.7 .8-29.5 .8-76.4 .8 55.8 .8 5.2 .7 27 .8 22.7 .8-31.2 .8 22.2 .8-16 .8 18.3 .8-118.7 .8 12 .7-5.7 .8 34.1 .8-40.4 .8 45.3 .8 18.2 .8 28.7 .8-5 .8-23.2 .7-35.1 .8 47.4 .8-17 .8-5.8 .8 10.9 .8 28.8 .8-4.8 .8 28.4 .7-12.1 .8-27.1 .8 2.9 .8 32.4 .8-95.8 .8 4.3 .8 .1 .8 41.6 .7-6 .8-3.9 .8 6.9 .8 38.3 .8 42.6 .8-44.5 .8 3.9 .8-27.6 .7 31.3 .8 18.4 .8 24.7 .8 8.7 .8-43.9 .8-27.3 .8 18.2 .8-10.5 .7 37.8 .8 11.8 .8-95.8 .8-26.1 .8 5.1 .8 39.7 .8-3.4 .7 23.4 .8 38.2 .8-19.8 .8-30.9 .8-9 .8-19.1 .8 30.7 .8 22.2 .7 22.6 .8-18.7 .8 11.3 .8-12.3 .8 14.6 .8-3 .8 7.9 .8-18.3 .7-6 .8 22.6 .8 19.6 .8-125.3 .8 63.1 .8 4.3 .8 18.1 .8-29.8 .7 17.7 .8-51.8 .8 40.3 .8-13.5 .8 3.5 .8-43 .8 14.4 .8-34.6 .7 30.1 .8-11.3 .8-1.7 .8 34.2 .8 6.6 .8-16 .8 47.2 .8-21.7 .7-26 .8 11.5 .8 24.7 .8-.4 .8-16.2 .8 33.6 .8-55.8 .8 7.4 .7-26.3 .8 13 .8 46.2 .8-6.5" stroke="#008F45" stroke-width="1.7"/><path d="M652 361.7l.8-55.7 .8 42.2 .8 13 .7 63.6 .8 14.9 .8-49.9 .8-46.3 .8 35.6 .8 19.3 .8 23.1 .8 9.1 .7 3.7 .8-13.8 .8-20.5 .8-39.9 .8 29.2 .8-10.4 .8 4 .8 53.6 .7-35.5 .8-13.4 .8-36.1 .8 1.3 .8 87 .8-19.4 .8-35.2 .8-6.3 .7-74 .8 0 .8 0 .8 32.8 .8-28.7 .8 58.9 .8-42.2 .8-20.8 .7 31 .8 67.6 .8-15.7 .8-17.2 .8 41.4 .8-14.1 .8 33.4 .8-126.4 .7 0 .8 0 .8 37.9 .8 10.6 .8 17.8 .8-3 .8-63.3 .8 23.2 .7 83.1 .8 8.4 .8 26.4 .8-40 .8 22.1 .8-123.2 .8 0 .7 0 .8 0 .8 6.9 .8-6.9 .8 41.7 .8-41.7 .8 0 .8 10.9 .7 4.5 .8 46.5 .8-47.9 .8-14 .8 0 .8 42.2 .8 32.7 .8-10.6 .7 9 .8-19.2 .8-54.1 .8 31.2 .8 30.9 .8 22.6 .8-16.6 .8 28.6 .7-96.7 .8 0 .8 0 .8 0 .8 16.2 .8 14.3 .8-30.5 .8 54 .7-54 .8 18 .8 36.1 .8-30.9 .8 69.8 .8 31.3 .8-17.9 .8 .9 .7-17.2 .8-7.4 .8 27.4 .8 13 .8 6.6 .8-21.2 .8 12.1 .8 .5 .7-9.6 .8 7.6 .8 21.2 .8 3.2 .8-15.5 .8-128 .8 7.3 .7 26.9 .8 31.5 .8 11.1 .8-13 .8 40.3 .8-22.8 .8 11 .8-1 .7 28.2 .8-29.8 .8 24.5 .8 2.4 .8-5.9 .8 12.2 .8 9.6 .8-24.8 .7 15.6 .8 5.9 .8 9.2 .8 19.1 .8-25.9 .8-6.2 .8 14.7 .8-16.2 .7 27.4 .8-22.7 .8 32.9 .8-9.7 .8-8.3 .8-12.1 .8 14.1 .8 8.5 .7-147.8 .8 8.7 .8 1.8 .8-5.6 .8 5.8 .8 62 .8-3.1 .8-15.5 .7-60.3 .8 13.7 .8 11.7 .8 12.1 .8 32.2 .8-44.8 .8 80 .7-104.9 .8 47.1 .8 29 .8 28.2 .8 6.9 .8 40.5 .8-129.7 .8 17.8 .7-39.8 .8 3.7 .8 86.7 .8 18.5 .8-20 .8 15.8 .8-98.2 .8 83.7 .7 42.5 .8-22.4 .8-110.3 .8 0 .8 0 .8 0 .8 0 .8 0 .7 0 .8 9.8 .8-9.8 .8 0 .8 0 .8 0 .8 18.4 .8 16.2 .7 43.4 .8-12 .8 43.1 .8-109.1 .8 94 .8 12.1 .8-6.8 .8 27.5 .7 .1 .8 24.5 .8-132.5 .8 73.7 .8 33.1 .8 7.6 .8 8.6 .8-6.9 .7 3.5 .8-42.8 .8-7.5 .8 4.4 .8 26.2 .8-71.3 .8-2.3 .7 25.5 .8-10.4 .8 53.1 .8-23 .8-14.5 .8 24.2 .8-1.4 .8-18.4 .7 40.3 .8-13.8 .8 21 .8 7.3 .8-1.7 .8 39.8 .8 7.1 .8-166.9 .7 41.5 .8-6.2 .8 33.4 .8 8.6 .8-69.8 .8 6.2 .8 47.1 .8-74.2 .7 49.8 .8-9 .8-38.6 .8 69.1 .8-19.2 .8-31.9 .8 33.6 .8 35.8 .7 9.6 .8-40.7 .8 17 .8-9.2 .8 38.3 .8-1.6 .8-14.5 .8 40.3 .7-23.8 .8-4.8 .8-10.8 .8 15.8 .8 .1 .8-22.3 .8-8.7 .8 48.8 .7 24.7 .8-18.5 .8 6.8 .8-6.9 .8 21.5 .8-23.5 .8-127.2 .7 0 .8 41.5 .8-28.6 .8-12.9 .8 0 .8 61.3 .8 29.9 .8 18.1 .7 19.6 .8-40 .8-88.9 .8 0 .8 13.5 .8 15.7 .8-29.2 .8 0 .7 0 .8 0 .8 0 .8 0 .8 61.5 .8-31 .8 13.2 .8-1.9 .7 3.9 .8 26 .8 26.7 .8 21.3 .8-22.3 .8 4.2 .8 12.5 .8-25.6 .7 23.5 .8 16.9 .8 28.6 .8 6.5 .8-23.7 .8 16.2 .8-34.1 .8 5.9 .7 21.3 .8 23.9 .8-18.2 .8 22.9 .8-58.9 .8 3.6 .8 8.4 .8 17.7 .7 6.8 .8 4.7 .8-1.8 .8-41.1 .8-45.5 .8 16.4 .8 13.7 .7 29.1 .8 15.9 .8-21.9 .8 11.3 .8-92.7 .8 11.3 .8 16.8 .8 30.4 .7-4.9 .8-4.8 .8 25.5 .8-42.9 .8 12.7 .8 44.4 .8 10 .8-14.1 .7-21.2 .8 14.7 .8-16.5 .8 15.2 .8-24.4 .8 3.1 .8 31.5 .8-31.8 .7 19.7 .8-57.4 .8 27.8 .8 31.6 .8-8 .8 15.9 .8-29.8 .8-2.2 .7-11.9 .8-1.1 .8 23.9 .8 11.5 .8 20.5 .8-20.2 .8-101.9 .8 31.3 .7 41.9 .8-53.7 .8 37.5 .8 .2 .8 19.1 .8-31.7 .8-7.5 .7-.1 .8 21.5 .8-9 .8 20.6 .8-14.8 .8 7.2 .8 22.4 .8-11.9 .7 28.7 .8-.1 .8-20.5 .8 37.3 .8-33 .8-23.7 .8 30.5 .8-2.9 .7 1.4 .8 21 .8-1.9 .8-55.7 .8 26.7 .8 23.2 .8 14.9 .8 6.2 .7-3 .8-15.6 .8 13.7 .8 8.1 .8-40.8 .8 23.4 .8 .6 .8-.9 .7-31.5 .8 32.9 .8-23.9 .8-90.1 .8 25 .8-35.4 .8-4.9 .8 0 .7 5.6 .8-5.6 .8 0 .8 0 .8 0 .8 0 .8 0 .8 0 .7 0 .8 0 .8 0 .8 0 .8 0 .8 0 .8 0 .7 0 .8 0 .8 0 .8 11.3 .8 8.5 .8-5.8 .8 43.9 .8-57.9 .7 0 .8 57.4 .8-48.6 .8 9 .8-8.1 .8 21.4 .8-21.6 .8 18 .7 43.6 .8-7.1 .8 25.5 .8-34.2 .8 2.1 .8 2.2 .8-11 .8 26.8 .7 19.5 .8-5.1 .8-64 .8-25.8 .8 0 .8 0 .8 0 .8 0 .7 0 .8 21.6 .8-21.6 .8 9.3 .8-9.3 .8 7.4 .8 41.4 .8-20.9 .7 23.5 .8-24.7 .8 11.1 .8 50.1 .8-4.3 .8 13.7 .8 8.3 .8-40.9 .7-11.3 .8 13.8 .8-11.9 .8 33.4 .8-18.8 .8 59 .8 6.3 .7-122.3 .8-12.9 .8 .3 .8 40.1 .8 15.9 .8-1.4 .8 35.7 .8 19.1 .7-68.7 .8 34.8 .8-4.4 .8 39.2 .8-7.4 .8 9.6 .8-49.4 .8 35.8 .7 1.4 .8 .2 .8 28.3 .8-23.5 .8 16.9 .8 3 .8 5.8 .8-30.8 .7 3.8 .8-12.8 .8 24.2 .8-115.7 .8 0 .8 0 .8 0 .8 0 .7 0 .8 0 .8 0 .8 0 .8 0 .8 39.3 .8 18.2 .8-10.4 .7-1.3 .8 50.8 .8-25.1 .8 4.4 .8-42.5 .8 51.4 .8 33.7 .8-118.5 .7 51.4 .8-51.4 .8 37.4 .8 54.9 .8-9.1 .8 40.7 .8-25.7 .7-28.8 .8-3.2 .8 44.2 .8-33.1 .8 10 .8 40.4 .8-34.4 .8 53 .7 4.7 .8-124.4 .8 26.2 .8-52.8 .8 10.6 .8 51.6 .8-62.2 .8 32.1 .7 1.2 .8 18.9 .8 28.2 .8-6.7 .8 2 .8 45.5 .8-20.8 .8 5.7 .7-56 .8 36.7 .8-28.5 .8 53 .8-19.4 .8-25.1 .8 33.4 .8-22.9 .7 24.5 .8 16.6 .8-5.3 .8-16.7 .8-96.4 .8 0 .8 0 .8 0 .7 0 .8 8 .8 42.1 .8-50.1 .8 0 .8 0 .8 44.9 .7-4.6 .8-40.3 .8 13.4 .8-13.4 .8 0 .8 9.4 .8-9.4 .8 0 .7 8 .8 6.5 .8-.4 .8 45.1 .8 13.6 .8-31.3 .8 25.6 .8-15.8 .7 42.2 .8-93.5 .8 0 .8 11.7 .8 37.7 .8-26.2 .8 25.7 .8 13.9 .7-62.8 .8 0 .8 0 .8 8.7 .8-8.7 .8 0 .8 0 .8 0 .7 0 .8 0 .8 0 .8 52.5 .8-26.1 .8-11.7 .8-14.7 .8 0 .7 15.4 .8 47.2 .8 19.4 .8 1 .8-9.3 .8-71.1 .8 49.6 .8 28 .7 11.6 .8-16 .8-12 .8 47.4 .8-7.2 .8-10.9 .8-19.8 .7 19.1 .8-27.7 .8 40.7 .8-47.6 .8-55.6 .8 26.6 .8 47.3 .8-25.9 .7 19.1 .8 58.5 .8 6.7 .8-92.8 .8 2 .8 49.5 .8-11.6 .8-16.3 .7 39.9 .8-3.6 .8 15.4 .8-88.1 .8 15.9 .8 17.4 .8 11.4 .8 18 .7-1.8 .8-68.8 .8-21 .8 0 .8 0 .8 0 .8 0 .8 0 .7 0 .8 0 .8 0 .8 0 .8 0 .8 0 .8 0 .8 0 .7 0 .8 0 .8 0 .8 0 .8 7.5 .8 58.5 .8-66 .8 0 .7 0 .8 0 .8 0 .8 0" stroke="#BE1B1E" stroke-width="1.7"/></g><line x1="651.25" y1="558.7" x2="1196.0" y2="558.7" stroke="#000" stroke-width="3" stroke-linecap="round" stroke-dasharray="1.5 6" clip-path="url(#c3)"/><rect x="652.0" y="329.5" width="544.0" height="232.8" fill="none" stroke="#111" stroke-width="2"/><line x1="645.2" y1="559.0" x2="652.0" y2="559.0" stroke="#111" stroke-width="2"/><text x="627.82" y="566.52" font-size="21" stroke="#000" stroke-width="0.65">0</text><line x1="645.2" y1="526.2" x2="652.0" y2="526.2" stroke="#111" stroke-width="2"/><text x="627.82" y="533.73" font-size="21" stroke="#000" stroke-width="0.65">2</text><line x1="645.2" y1="493.4" x2="652.0" y2="493.4" stroke="#111" stroke-width="2"/><text x="627.82" y="500.95" font-size="21" stroke="#000" stroke-width="0.65">4</text><line x1="645.2" y1="460.6" x2="652.0" y2="460.6" stroke="#111" stroke-width="2"/><text x="627.82" y="468.16" font-size="21" stroke="#000" stroke-width="0.65">6</text><line x1="645.2" y1="427.9" x2="652.0" y2="427.9" stroke="#111" stroke-width="2"/><text x="627.82" y="435.38" font-size="21" stroke="#000" stroke-width="0.65">8</text><line x1="645.2" y1="395.1" x2="652.0" y2="395.1" stroke="#111" stroke-width="2"/><text x="616.14" y="402.59" font-size="21" stroke="#000" stroke-width="0.65"> 0</text><path transform="translate(616.14,402.59) scale(0.01025,-0.00986)" d="M763 0H583V1147Q518 1085 412 1023Q307 961 223 930V1104Q374 1175 487 1276Q600 1377 647 1472H763Z" stroke="#000" stroke-width="0.65"/><line x1="645.2" y1="362.3" x2="652.0" y2="362.3" stroke="#111" stroke-width="2"/><text x="616.14" y="369.80" font-size="21" stroke="#000" stroke-width="0.65"> 2</text><path transform="translate(616.14,369.80) scale(0.01025,-0.00986)" d="M763 0H583V1147Q518 1085 412 1023Q307 961 223 930V1104Q374 1175 487 1276Q600 1377 647 1472H763Z" stroke="#000" stroke-width="0.65"/><line x1="645.2" y1="329.5" x2="652.0" y2="329.5" stroke="#111" stroke-width="2"/><text x="616.14" y="337.02" font-size="21" stroke="#000" stroke-width="0.65"> 4</text><path transform="translate(616.14,337.02) scale(0.01025,-0.00986)" d="M763 0H583V1147Q518 1085 412 1023Q307 961 223 930V1104Q374 1175 487 1276Q600 1377 647 1472H763Z" stroke="#000" stroke-width="0.65"/><line x1="794.0" y1="562.3" x2="794.0" y2="568.3" stroke="#111" stroke-width="2"/><text x="754.88" y="591.00" font-size="20.5" stroke="#000" stroke-width="0.6">2023-07</text><line x1="938.0" y1="562.3" x2="938.0" y2="568.3" stroke="#111" stroke-width="2"/><text x="898.88" y="591.00" font-size="20.5" stroke="#000" stroke-width="0.6">2024-0 </text><path transform="translate(962.72,591.00) scale(0.01001,-0.00963)" d="M763 0H583V1147Q518 1085 412 1023Q307 961 223 930V1104Q374 1175 487 1276Q600 1377 647 1472H763Z" stroke="#000" stroke-width="0.6"/><line x1="1082.0" y1="562.3" x2="1082.0" y2="568.3" stroke="#111" stroke-width="2"/><text x="1042.88" y="591.00" font-size="20.5" stroke="#000" stroke-width="0.6">2024-07</text><text x="0" y="0" transform="translate(923.0,323.4) scale(0.98,1)" font-size="25" font-weight="bold" text-anchor="middle">XTZ</text><rect x="665.2" y="342.6" width="9.2" height="8.5" fill="#3a3a3a" stroke="#000" stroke-width="2"/><text x="686.3" y="353.8" font-size="14.5" stroke="#000" stroke-width="0.45">Bitcoin</text><rect x="665.2" y="359.9" width="9.2" height="8.5" fill="#FFA500" stroke="#000" stroke-width="2"/><text x="686.3" y="371.2" font-size="14.5" stroke="#000" stroke-width="0.45">ETH</text><rect x="665.2" y="377.4" width="9.2" height="8.5" fill="#3C78B4" stroke="#000" stroke-width="2"/><text x="686.3" y="388.6" font-size="14.5" stroke="#000" stroke-width="0.45">LINK</text><rect x="665.2" y="394.8" width="9.2" height="8.5" fill="#A0521E" stroke="#000" stroke-width="2"/><text x="686.3" y="406.0" font-size="14.5" stroke="#000" stroke-width="0.45">BAT</text><rect x="665.2" y="412.1" width="9.2" height="8.5" fill="#00A550" stroke="#000" stroke-width="2"/><text x="686.3" y="423.4" font-size="14.5" stroke="#000" stroke-width="0.45">THETA</text><rect x="665.2" y="429.6" width="9.2" height="8.5" fill="#CC2222" stroke="#000" stroke-width="2"/><text x="686.3" y="440.8" font-size="14.5" stroke="#000" stroke-width="0.45">XTZ</text><rect x="665.2" y="446.9" width="9.2" height="8.5" fill="#C8C8C8" stroke="#000" stroke-width="2"/><text x="686.3" y="458.2" font-size="14.5" stroke="#000" stroke-width="0.45">OIL</text>
<line x1="41.5" y1="829.2" x2="579.7" y2="829.2" stroke="#cfcfcf" stroke-width="1.5" stroke-dasharray="3.6 3.8"/><line x1="41.5" y1="796.4" x2="579.7" y2="796.4" stroke="#cfcfcf" stroke-width="1.5" stroke-dasharray="3.6 3.8"/><line x1="41.5" y1="763.6" x2="579.7" y2="763.6" stroke="#cfcfcf" stroke-width="1.5" stroke-dasharray="3.6 3.8"/><line x1="41.5" y1="730.8" x2="579.7" y2="730.8" stroke="#cfcfcf" stroke-width="1.5" stroke-dasharray="3.6 3.8"/><line x1="41.5" y1="698.0" x2="579.7" y2="698.0" stroke="#cfcfcf" stroke-width="1.5" stroke-dasharray="3.6 3.8"/><line x1="41.5" y1="665.2" x2="579.7" y2="665.2" stroke="#cfcfcf" stroke-width="1.5" stroke-dasharray="3.6 3.8"/><g clip-path="url(#c4)" fill="none" stroke-linejoin="round"><path d="M35 769.7l.8 5.2 .8-3.3 .8-.7 .8 5.5 .7-4.4 .8 3.6 .8-5.6 .8 5.9 .8-4.3 .8-9.3 .8 8.7 .8-2.7 .7-2.5 .8-4.8 .8 6.3 .8-.3 .8-67.8 .8-15.4 .8 23.5 .8-10.3 .8 11.5 .7 15.7 .8 2.6 .8 6.8 .8-1.3 .8 8.2 .8 .5 .8-12 .8 9.2 .7-20.2 .8-28.3 .8 29 .8-7.7 .8 12.2 .8-.1 .8 10.6 .8 1.6 .8-1.5 .7 3.5 .8 7.7 .8 1.4 .8 1.7 .8 13.8 .8-12 .8-1.2 .8-16.6 .7 9.4 .8-.1 .8-6.6 .8 15 .8-3.4 .8 0 .8 9.5 .8-11.7 .8 4.1 .7-.2 .8 14.4 .8-12.7 .8-3.4 .8 6.9 .8-1.5 .8 14.6 .8-11.6 .7 12.3 .8-3.5 .8-1.5 .8 2.9 .8 5.4 .8-4.9 .8-.6 .8 1 .8-1.4 .7 .1 .8 .7 .8 6.7 .8-2.4 .8 4.8 .8-13.1 .8-1 .8 6.6 .8 2.7 .7 1.8 .8-3.1 .8-6 .8 5.1 .8 5.8 .8-2.5 .8 .6 .8-.9 .7 8.4 .8-11.5 .8 6.4 .8 2.2 .8-5.1 .8 3.6 .8 2.7 .8-3.5 .8 5 .7 1.5 .8-3.9 .8 7.5 .8 .7 .8-.5 .8-13.9 .8-3 .8 3.1 .7 6.9 .8-3.6 .8-2.7 .8-3.3 .8 .8 .8 4.7 .8-5.4 .8-1.9 .8 .9 .7 5.7 .8 0 .8 1 .8-8.4 .8 7.1 .8-1.3 .8 2.1 .8 .4 .7-2.8 .8-4 .8 5.5 .8-12.4 .8 7.9 .8-1.2 .8-5.7 .8 1.7 .8 8.1 .7 1.1 .8-3.3 .8-.8 .8 10.6 .8-3.1 .8-1.6 .8 2.5 .8 1.1 .7-9.2 .8 10.5 .8-3 .8 .8 .8-.2 .8-.7 .8-8.6 .8 4.9 .8-5.9 .7 11.9 .8-4.7 .8-6.5 .8-4.5 .8-12 .8-5.1 .8-5.7 .8 11.9 .7 4.4 .8-4 .8-.4 .8 5.1 .8-2.5 .8 5.2 .8 3.7 .8 7.8 .8-5 .7 2.5 .8-3.9 .8 4.2 .8-9 .8 7.2 .8 4.7 .8-3 .8 2.8 .7-3.3 .8 .9 .8-4.6 .8 11.6 .8-2.3 .8 2.4 .8 4.4 .8-.5 .8-.1 .7 5.3 .8 .2 .8-3.2 .8 5 .8-6.4 .8 .7 .8 7.5 .8-1.7 .7-.2 .8 3.1 .8 9.5 .8 4 .8 8.1 .8 5.7 .8 6.1 .8-6 .8-5.9 .7-6.5 .8-7.9 .8-3.3 .8-3.2 .8-2.4 .8 3.6 .8-8.6 .8 8.6 .8-3.6 .7 6.1 .8-4.1 .8-3.6 .8 .6 .8-.7 .8 3.2 .8-2.7 .8 .7 .7 2.4 .8-7.9 .8 5.3 .8-1.8 .8-3.9 .8 .1 .8-7 .8 7.3 .8-5 .7 4.8 .8-.8 .8-4 .8 .9 .8 3.9 .8-4.7 .8 .7 .8-4.3 .7 8.8 .8-3 .8-1.1 .8 1.6 .8-.8 .8-3 .8 6.6 .8-9.3 .8 15.1 .7-1.9 .8-6.7 .8-5.8 .8 2.7 .8 4.5 .8-.9 .8-.3 .8 3.1 .7-1.5 .8-1 .8-5.6 .8 3.2 .8 3.3 .8 0 .8 .3 .8-.4 .8-1.8 .7-.5 .8 1.8 .8-12.5 .8 3.1 .8 .1 .8-5.1 .8 .1 .8 5.8 .7-1.4 .8-4.4 .8 8.6 .8 .5 .8-.6 .8 .3 .8-5.7 .8 6.8 .8-4.6 .7 1.9 .8 .8 .8 .9 .8 1.5 .8-.6 .8-1.4 .8 11.3 .8-6.9 .7-2.1 .8 5.2 .8-.7 .8 1.4 .8 4.7 .8 5.5 .8 10.8 .8 7.6 .8-8.7 .7-7.1 .8-4 .8-8.5 .8-.6 .8-2.3 .8 2.8 .8-8.7 .8-16.6 .7 9.6 .8-.9 .8-4.6 .8 4.3 .8-.2 .8 7 .8-2.7 .8 5.2 .8 3.8 .7-6.9 .8 .4 .8-2.8 .8 4.9 .8-5.9 .8 1.5 .8 6.1 .8 1 .7 6.2 .8-7.3 .8-.8 .8 0 .8-4.4 .8 3.7 .8 .1 .8 2.6 .8 3.1 .7-5.3 .8-2.5 .8-.8 .8 3.9 .8 5.1 .8-2.7 .8-1 .8 3.1 .7-1.1 .8 1.7 .8 1.2 .8 1.2 .8-3.7 .8-.4 .8-4.9 .8 4.8 .8-.3 .7 6.4 .8-5.9 .8-3.2 .8 7.5 .8-3.6 .8 1.7 .8-2.1 .8-17.9 .8 9.5 .7-.9 .8 1 .8-1 .8-4.4 .8 6 .8 .8 .8 .5 .8 3.7 .7-14.3 .8 3.6 .8-3.4 .8 4.9 .8 8.2 .8-5.3 .8 5.2 .8 1.8 .8-15.6 .7 9.3 .8 6.2 .8-3.5 .8-.2 .8 4.1 .8 .8 .8-2.9 .8 2.1 .7 1.4 .8 8.3 .8-26 .8-3.8 .8 14.4 .8-3.6 .8 4.8 .8 .7 .8 .8 .7-6.1 .8 9.5 .8-5.3 .8 8.7 .8-3.7 .8 3.3 .8 2.2 .8-1.5 .7-2.8 .8 3.6 .8-.7 .8 1.5 .8-.8 .8 .6 .8-17.4 .8 5.2 .8 2.9 .7 .8 .8 .5 .8-2.1 .8 5.7 .8-4.5 .8 2.3 .8-2.8 .8 3.3 .7-2.2 .8 2 .8 .5 .8 1.2 .8-3.2 .8 .8 .8-2.6 .8-.2 .8 4.4 .7-11.5 .8 0 .8 5.7 .8 2.5 .8-8.7 .8-1.5 .8 4.3 .8 2 .7-7.8 .8 1.1 .8-1 .8-3.9 .8 3.1 .8 0 .8-19.9 .8 5.5 .8-8.5 .7 22.5 .8-5.1 .8-19.1 .8 4.6 .8-19.1 .8 1.3 .8 2 .8-5.2 .7 13.6 .8-8.2 .8 6.1 .8 14.4 .8-12.9 .8-5.9 .8 12.9 .8-3.7 .8 5.3 .7 3 .8 8 .8-5.5 .8 9 .8-5 .8-11 .8 4.9 .8 7.4 .7-1.1 .8 5 .8-6.7 .8 9.1 .8-22.2 .8 12.1 .8 6 .8-7.2 .8 12.7 .7-30.3 .8 11.4 .8-1.2 .8 3.7 .8 2.8 .8 .6 .8-14.8 .8 4.9 .7-8.6 .8 10.4 .8 9.9 .8-2.9 .8 2.5 .8 .7 .8 1.8 .8 10.9 .8-4.3 .7-21 .8-.5 .8 8.2 .8-1.4 .8 6.2 .8 2.4 .8 11.4 .8 5.3 .8 2.3 .7 6.2 .8 3.4 .8-.9 .8-4.4 .8 5.7 .8-1.9 .8 10.8 .8-9.1 .7 .7 .8-18 .8 4.6 .8-1.6 .8 7.7 .8-4.6 .8 9.2 .8-9.2 .8 7.3 .7 3.9 .8 .1 .8-7.5 .8 7.1 .8 3.6 .8-4.3 .8 8.8 .8-6.5 .7-.8 .8 6.1 .8-3.4 .8-12.8 .8 4.2 .8 1.6 .8-3.1 .8 1.9 .8-2 .7 9.9 .8-2.7 .8-8.2 .8 7.4 .8 2.3 .8-4.7 .8 4.1 .8-12.2 .7 14.8 .8-4.8 .8-28 .8 1.8 .8-6.4 .8-6.4 .8-1.2 .8-1.9 .8 1.9 .7 6.8 .8 3 .8 4.5 .8 4.8 .8 0 .8-13.7 .8-8.1 .8 5.9 .7 .7 .8 14.2 .8 .3 .8-9.2 .8 4.6 .8 1.4 .8-2.2 .8 8.8 .8 2.9 .7-8.3 .8-7.4 .8 13.3 .8 4.8 .8-7.4 .8 3.2 .8-.5 .8 2.6 .7 4 .8-6.9 .8 4.2 .8 7.8 .8-19.3 .8-23.3 .8-14.6 .8 14.9 .8 1.8 .7 3.4 .8-.7 .8-4.2 .8 2 .8 2.9 .8-6.6 .8 17.3 .8-7.1 .7-7.9 .8 2.4 .8-5 .8-5.3 .8 13.2 .8 1.3 .8-2.4 .8 9.6 .8-3 .7-4.3 .8 2.1 .8 5.4 .8-7.8 .8 12 .8-.6 .8 2.5 .8-4.9 .7-2.4 .8 6.3 .8-4.2 .8 8.4 .8-1 .8 .6 .8-5 .8 3.4 .8 7.6 .7 6.2 .8-4.7 .8 .8 .8-35.8 .8 9.2 .8-.1 .8-10.3 .8-33 .8 7.7 .7 7.2 .8 9.5 .8-3.8 .8 1.6 .8 6.4 .8 13 .8 2.6 .8 3 .7-20.6 .8-4 .8 1.8 .8 6.4 .8 9.3 .8-7.2 .8 9 .8 14.2 .8-20.2 .7 8.8 .8 6.2 .8-6.7 .8 18.5 .8-13.2 .8-4.5 .8 5.3 .8-10.3 .7 1.9 .8 9.9 .8 1.4 .8-6.3 .8 5.7 .8 8 .8-3.8 .8 3.8 .8-6 .7 2.7 .8-4.1 .8 6.5 .8 5.7 .8 2.1 .8-9.4 .8 2.5 .8 10 .7 3.5 .8 1.6 .8-8.7 .8 4.7 .8-6.6 .8 10.2 .8 1 .8 .9 .8-2.1 .7-3.2 .8 5.8 .8-3.2 .8 .2 .8 7.3 .8 2 .8-4 .8 6.9 .7-7.1 .8-1.6 .8 1.4 .8-.6 .8 1.3" stroke="#2a2a2a" stroke-width="1.7"/><path d="M35 743.5l.8 5.2 .8 11.3 .8-20.6 .8 19.4 .7-19.3 .8 24.2 .8-12.8 .8-14 .8 9.3 .8-35.7 .8-4.7 .8 9.6 .7-1.6 .8-9.2 .8 9.8 .8 10.9 .8-117.5 .8 0 .8 0 .8 2.7 .8-2.7 .7 0 .8 4.9 .8 20.6 .8-8.8 .8-16.7 .8 14 .8-14 .8 0 .7 31 .8-12.4 .8 12.3 .8-7.8 .8 33 .8 7.4 .8 5.1 .8-13.1 .8 27.4 .7 3.5 .8 26.6 .8-6.2 .8-5 .8-4.5 .8 15.7 .8 21.9 .8-124.6 .7-2.2 .8 33 .8 1.9 .8-1.7 .8 22.4 .8 6.9 .8 4.7 .8 32.9 .8-17.6 .7-30 .8 18.2 .8 16.1 .8-4.3 .8 7.4 .8 5.2 .8-7.9 .8-6.5 .7 8.9 .8 4 .8 16.6 .8-2 .8 9.8 .8-3.7 .8-2.5 .8 .6 .8 10.5 .7 1.2 .8 9.7 .8-4.2 .8 3.4 .8 .1 .8-18.5 .8 .8 .8 3.1 .8-5.4 .7 12.8 .8 2.9 .8 5.3 .8-15 .8 5.8 .8 2.6 .8 10 .8 .9 .7 1.7 .8-6.4 .8-6 .8 5.7 .8-5.6 .8 7.9 .8 3.7 .8-3.1 .8 1.6 .7 1.4 .8 8 .8 1.4 .8-8.6 .8 3 .8-17.5 .8-.7 .8 3.4 .7 7.5 .8-12 .8 8.5 .8-15.3 .8 7.5 .8-.2 .8-5.5 .8 18 .8-12 .7 6.6 .8-2.3 .8 9.5 .8-6.9 .8-5.2 .8 6.5 .8-10.8 .8 6.5 .7 5.8 .8 1.8 .8-1.4 .8-33.2 .8 14.2 .8 10.4 .8 14.2 .8-7 .8 1 .7-2.2 .8-11.8 .8 9.7 .8 3.5 .8 6.2 .8-13.4 .8 16.7 .8 1.8 .7-9.7 .8 2.3 .8-.7 .8 5.2 .8 2.5 .8 2 .8-3.8 .8-4.3 .8 3.4 .7 6.9 .8 1 .8-30.8 .8 8.8 .8-13.7 .8-69.3 .8 16.2 .8 25.9 .7 0 .8-4.1 .8 9.1 .8 7.4 .8-9.8 .8 27.6 .8-9.1 .8 12.7 .8-8.5 .7 10.7 .8 11.4 .8-14.7 .8 20.7 .8-16.9 .8 7.5 .8-2.8 .8 7.6 .7 3.1 .8-4.8 .8 5.6 .8 13.4 .8-2 .8-7.9 .8 14.9 .8-1.9 .8 2.1 .7 5.5 .8-4.8 .8 3.2 .8-3.6 .8 7 .8-6.4 .8 7.9 .8-3 .7-.1 .8 4.1 .8 2.4 .8 4.4 .8-2.1 .8-5.5 .8 4.1 .8-3.5 .8 5.1 .7-2.4 .8-.1 .8-2.4 .8-1.7 .8-2 .8 10.2 .8-.7 .8-5.1 .8 1 .7-3 .8 5.4 .8-7.7 .8 7.2 .8-13.1 .8 7.5 .8-1.9 .8-7.8 .7 1.2 .8-14.4 .8-1.3 .8-9.8 .8 14.5 .8-12.9 .8 11.3 .8 3.6 .8-17 .7 5.5 .8 3.8 .8-4.7 .8 6.2 .8-8.6 .8-51.7 .8 12 .8 12.9 .7-10.2 .8 10.1 .8-4.8 .8-8.2 .8 31.9 .8-6.9 .8 4.7 .8 11.8 .8-6.9 .7 18.9 .8-8.4 .8-7.4 .8 14.2 .8-2 .8-1.7 .8 7.1 .8-1.9 .7-4 .8-1.3 .8 4.2 .8-6.8 .8 8.7 .8-4 .8 4.2 .8-6.3 .8 4.3 .7-3.3 .8 11.6 .8-20.3 .8-1 .8 10.8 .8-8.2 .8-16.7 .8-1.3 .7 11.6 .8-6.8 .8 8.4 .8 7.9 .8-11.7 .8 3.1 .8 23.5 .8-15.3 .8-3.7 .7 4.1 .8 6.5 .8 .9 .8 7.2 .8-11.4 .8 16.2 .8-12.8 .8 3.1 .7 5 .8-3.1 .8-3.9 .8 9 .8 5.3 .8-9.3 .8 5.6 .8-.9 .8 6.6 .7-11.9 .8 3.9 .8 10.6 .8 2.8 .8-7.9 .8 2.6 .8-2.3 .8-32.8 .7 .4 .8 .8 .8 2.7 .8-6.5 .8 2.9 .8 30.2 .8 2.4 .8 17.8 .8 24 .7 13.8 .8 14.9 .8-18.6 .8-17.6 .8-15.8 .8-15.3 .8-19 .8-3.9 .7 7.9 .8-.1 .8-9 .8-10.4 .8 9.1 .8-1.4 .8-5 .8 7.9 .8 12.2 .7-13.4 .8 5.9 .8 .8 .8 1.8 .8-2.1 .8 6.3 .8-9.8 .8-1.7 .7 2.9 .8 2.6 .8 8.3 .8-8.2 .8 9.9 .8 3.8 .8-10.6 .8-.7 .8 .8 .7-3.6 .8 8.2 .8-6.8 .8-1.1 .8 3.8 .8 8.5 .8-9.6 .8-37.3 .8 4.5 .7 13.2 .8 4.8 .8-18.5 .8 5.5 .8 12.1 .8 .8 .8 6.6 .8-4.1 .7 6.1 .8-20.4 .8 7.8 .8 .1 .8 8.4 .8-1 .8 2.8 .8 1.4 .8 7 .7-12.5 .8 16.5 .8-1.1 .8-.3 .8-10.3 .8 17.3 .8-4.1 .8 .7 .7 8.2 .8-16.3 .8-22.4 .8 7.8 .8 5.9 .8-2.8 .8 17 .8-16.9 .8 13.3 .7-4.7 .8 11.8 .8-7.6 .8 13.5 .8-6 .8 1.5 .8 4.5 .8-8.6 .7 9 .8 .8 .8 4 .8-10 .8 7.3 .8 .1 .8-21 .8-8.1 .8 1.6 .7 12.3 .8-5 .8 9.2 .8-5.7 .8 1.9 .8 8.9 .8-4.6 .8 10.2 .7-6 .8 3.9 .8-5.7 .8-.3 .8 6.6 .8-1.1 .8-8.7 .8-1.5 .8-4.1 .7-1.7 .8 3.2 .8-12.7 .8 8.3 .8 5.5 .8-11.6 .8 4.1 .8-2.9 .7-.7 .8 10.6 .8-4.6 .8-16.8 .8 12.3 .8-9.1 .8-15.7 .8-11 .8-2.3 .7 7 .8 8.3 .8-33.7 .8 17.4 .8-7.7 .8 20.2 .8-23.1 .8 10.9 .7-3.7 .8-28.8 .8-7.6 .8 2.7 .8 25.9 .8 1.6 .8-3.9 .8-9.4 .8 30.5 .7-11.9 .8 15.9 .8-15.5 .8 8.7 .8 11.4 .8 1.5 .8-33.6 .8 9.7 .7 19.2 .8 5.8 .8-4.3 .8 12 .8-3.3 .8-29.6 .8 13.6 .8 6.7 .8 9.5 .7-42.9 .8 12.8 .8 8.5 .8-15.1 .8 8.2 .8-10.1 .8-34.1 .8 25.9 .7-17.7 .8 .7 .8 11.8 .8 12.6 .8 17.2 .8-19.8 .8 19.7 .8 1.4 .8 10.7 .7 7.1 .8 2.8 .8-10.2 .8 18.6 .8 7.3 .8-14.4 .8 22.1 .8 12 .8 7.7 .7 10.6 .8-7.5 .8-5 .8-2.1 .8 .4 .8-12.8 .8 3.6 .8-3.4 .7 9.8 .8-50.7 .8 2.7 .8-10.9 .8 7.2 .8 25.8 .8-14.1 .8 11.3 .8-.8 .7 9.2 .8-1.8 .8-11.3 .8 24 .8-9.7 .8 4.2 .8 3.7 .8 .4 .7-.6 .8 5.1 .8-.1 .8-36.6 .8-17.2 .8 9.8 .8 4.2 .8-.2 .8-24.8 .7 2.1 .8 10.3 .8 15.5 .8-6.5 .8 11.1 .8 2.9 .8-3.5 .8 6.6 .7-1.5 .8-5.1 .8 2.4 .8 9.8 .8-67 .8-.4 .8 7.7 .8 17.9 .8 11.6 .7-14.6 .8 25.9 .8 7.2 .8-4.3 .8 12 .8-44.1 .8 9.5 .8 12.1 .7 8.9 .8 2 .8 4 .8-10.8 .8-51.2 .8 17.1 .8 6.8 .8 8.4 .8-7.2 .7-6 .8 26.8 .8-7.6 .8 16.8 .8 6.9 .8 16.5 .8-22.7 .8 13.4 .7-10.3 .8 5.8 .8-.4 .8 1.4 .8-26.8 .8-28.3 .8-21.6 .8 3.6 .8 13.1 .7 7.5 .8 1.4 .8-28.3 .8 31.9 .8-20 .8 22.4 .8 11.9 .8-17.4 .7-22.7 .8 .3 .8 6.4 .8 14.7 .8-7.8 .8 9.3 .8-4.7 .8 6.3 .8-8.3 .7 20.9 .8-12.1 .8 22.4 .8-14.3 .8 16 .8-8.7 .8 20.2 .8-8.3 .7 5.3 .8 6.1 .8 1.2 .8-23.3 .8 24.9 .8 10.5 .8-12.7 .8-8.4 .8 16 .7-8.2 .8 18 .8 2.1 .8-18.9 .8-8 .8-7.7 .8 3 .8-84.1 .8 45.1 .7-1.4 .8 7.3 .8-2.6 .8 13.3 .8 10.2 .8-6.5 .8 13.4 .8-.3 .7-29.6 .8 10.1 .8-12.6 .8 10.3 .8 18.6 .8-6.6 .8 4.4 .8 10.4 .8-8.8 .7 .2 .8 4.5 .8 .7 .8 12.7 .8-17.5 .8-4.2 .8 14.9 .8-8 .7-8.2 .8 17.3 .8-.2 .8-14 .8 17.5 .8-1.1 .8 7.9 .8-4.1 .8 2.9 .7 6.3 .8 5.8 .8-6 .8-5 .8 .6 .8-4.1 .8 10.6 .8 0 .7 9.2 .8-.9 .8-3.9 .8-6.3 .8 19.6 .8-6.4 .8-2.8 .8 8.8 .8-8.1 .7-7.5 .8 8 .8 2.8 .8 12.2 .8-.4 .8-1.6 .8-24.3 .8 5.9 .7 16.6 .8-8.9 .8 7.4 .8 2.3 .8-5.3" stroke="#F2A000" stroke-width="1.7"/><path d="M35 637.4l.8-29.6 .8 26.8 .8 45.5 .8 8.3 .7-6.2 .8 28.3 .8-102.7 .8 89.4 .8 10.3 .8-99.7 .8 0 .8 50 .7 7.9 .8-39.4 .8-18.5 .8 16.1 .8-16.1 .8 0 .8 0 .8 0 .8 0 .7 0 .8 0 .8 0 .8 0 .8 0 .8 0 .8 0 .8 0 .7 0 .8 0 .8 0 .8 0 .8 0 .8 0 .8 0 .8 0 .8 0 .7 0 .8 0 .8 24.6 .8-24.6 .8 11.1 .8 1.3 .8 2.1 .8-14.5 .7 0 .8 0 .8 0 .8 0 .8 0 .8 0 .8 0 .8 0 .8 0 .7 19.7 .8-.8 .8-18.9 .8 0 .8 0 .8 15.1 .8-15.1 .8 6.9 .7-6.9 .8 13.4 .8 43.3 .8-25.8 .8 18.5 .8-36.3 .8 82.8 .8-95.9 .8 83.4 .7 4.2 .8-6.2 .8-9.6 .8-8 .8-46.9 .8-16.9 .8 13.8 .8 40.3 .8-33.6 .7 29.5 .8 36.8 .8 4.1 .8-76.8 .8 70.3 .8-7.4 .8 26.1 .8-25.3 .7 27 .8-104.8 .8 21.6 .8 8.8 .8 40.9 .8 21.6 .8-32.7 .8 45.1 .8-18 .7-4.9 .8 13.1 .8 7 .8-19.8 .8 38.5 .8-87.4 .8 29.2 .8-63 .7 31.7 .8 12 .8 40.8 .8-44.8 .8 7.5 .8-7.3 .8-39.9 .8 4.8 .8 36.8 .7 14.1 .8 5.1 .8-15.8 .8 17.1 .8-43.3 .8 28.7 .8 22.6 .8-3.1 .7 9.9 .8 12.5 .8 7.6 .8-97 .8 15 .8 56.8 .8-19.6 .8 44 .8-.1 .7-23.5 .8-29.8 .8 32.3 .8 5.2 .8 13.8 .8 5.9 .8-4 .8-27.1 .7 43 .8-26.1 .8 41.4 .8-21.2 .8 8.3 .8-10.4 .8-61.8 .8 37.4 .8 20.8 .7 8.7 .8-6.1 .8-17 .8 9.7 .8-65.2 .8-30.4 .8 0 .8 0 .7 0 .8 0 .8 0 .8 5.8 .8-5.8 .8 0 .8 0 .8 0 .8 5 .7 56.4 .8 2 .8-63.4 .8 43.2 .8 10.9 .8 31.7 .8 21.1 .8-25.2 .7 19.6 .8 24.3 .8-31.2 .8 37.6 .8 .9 .8-18.6 .8 10.8 .8 20.1 .8 1.5 .7 10.9 .8-.5 .8-11.3 .8 35.3 .8-12.2 .8-9 .8 19.3 .8-8.8 .7-16.1 .8-29.8 .8 28.5 .8-3.1 .8-8.6 .8 23.6 .8-1.9 .8 2.3 .8-13.8 .7 15.4 .8-20.4 .8-4.6 .8-18.6 .8-5.9 .8 26.8 .8-10.6 .8-.6 .8 3.2 .7-19.6 .8-15.8 .8 5 .8 26.2 .8 14.9 .8-11.2 .8-16.3 .8-4.5 .7 8.9 .8 13.4 .8-5.6 .8 13.7 .8-17.8 .8 10.9 .8 4.3 .8-12.6 .8-33.3 .7 28.7 .8-14 .8-2.5 .8 .9 .8-34.5 .8 50.6 .8-4.5 .8 6.6 .7-28.2 .8 3.6 .8 7.1 .8-5.7 .8-11.8 .8 12.5 .8-2.2 .8 16.7 .8 1 .7 3.3 .8 .1 .8 4.2 .8-2.8 .8 3 .8-29.7 .8 6.2 .8 2.4 .7 24 .8-46.4 .8 2.9 .8 23.8 .8 14.1 .8-13.5 .8-5.2 .8-7.1 .8-18.6 .7 30.9 .8-8.2 .8-23.1 .8 41.7 .8-44.7 .8-77.3 .8 30.5 .8-14.9 .7 35.4 .8-52.1 .8 0 .8 0 .8 0 .8 7.5 .8 16.3 .8-20.8 .8 71.9 .7-18.6 .8 35.1 .8-42.4 .8 2.9 .8 18.4 .8 49.3 .8-16.2 .8 5.3 .7 28 .8-33 .8-35.2 .8 59.3 .8-3.6 .8 25.8 .8-6.5 .8-9.6 .8 .1 .7-3.3 .8 20.6 .8-8.3 .8 30 .8-5.5 .8-6.4 .8-6.7 .8-109.8 .7 17.2 .8 30.5 .8 10.9 .8 5.9 .8-4.3 .8-3.9 .8-3.7 .8 21 .8 12.8 .7-6 .8-29.8 .8 16.3 .8-.9 .8 20.4 .8-26.8 .8 16.6 .8-17.2 .7 25.6 .8-15 .8 22.1 .8-37.1 .8 25.6 .8 14.7 .8-7.6 .8 5.4 .8-13.9 .7 2.2 .8 9.2 .8 16.2 .8-25.4 .8-.7 .8 25 .8-50.4 .8 2.4 .7 28.7 .8 12.3 .8-116.4 .8 43.1 .8-.6 .8 15.1 .8 .6 .8-30.3 .8 32.7 .7 4 .8 15.9 .8 5.9 .8 25.4 .8-12.9 .8 12.4 .8-16.7 .8-66.7 .8 16 .7 4.7 .8-23.8 .8 11.3 .8 8.6 .8 10.7 .8 19.2 .8 9.4 .8-2.2 .7-22.1 .8-44 .8-3.1 .8 39.8 .8 7.3 .8 20.9 .8 10 .8 20.9 .8-67.2 .7 13.5 .8 21.7 .8 12.9 .8 11.1 .8-22.4 .8 29.4 .8-.6 .8-33.9 .7 48 .8 6.1 .8-124.5 .8 4.9 .8 60 .8-62 .8 28.2 .8 5.6 .8 6.5 .7 51.9 .8 2.6 .8 11 .8-17.1 .8 22.2 .8-21.8 .8 8.9 .8 17.9 .7 .5 .8 8.5 .8-3.6 .8-3.6 .8-6 .8-3 .8-63.5 .8 43.3 .8 18.1 .7-32.1 .8 12.7 .8 20.7 .8-15.8 .8-6.2 .8 36.6 .8-.5 .8-6.2 .7 12.9 .8-17.2 .8 13 .8-24 .8 .2 .8 27.1 .8-12.1 .8-19.1 .8-31.2 .7 33.2 .8-13.3 .8 9.4 .8 5.2 .8-10 .8-20.7 .8 31.7 .8-8.6 .7 8.5 .8 5.8 .8-29.6 .8 27.5 .8-44.3 .8-14.8 .8-69.4 .8 49 .8-13.1 .7 16.2 .8 11.2 .8-74.3 .8 5.1 .8-5.1 .8 27 .8 27.2 .8-10.9 .7-43.3 .8 .7 .8 48.6 .8-4.1 .8-19.2 .8-26 .8 14.9 .8 40 .8-44.5 .7 50.1 .8 16.5 .8-22 .8 2.1 .8 4.4 .8-58.5 .8 61.2 .8-4.7 .7-9 .8 3 .8-6.6 .8 43.6 .8-42.1 .8 45.7 .8-36.8 .8 26.7 .8-16.6 .7-67.4 .8 0 .8 0 .8 0 .8 31.8 .8-31.8 .8 0 .8 0 .7 0 .8 0 .8 0 .8 0 .8 0 .8 0 .8 11.8 .8 12.4 .8 28.7 .7-52.9 .8 45.7 .8-3.1 .8-.4 .8 40.3 .8 18.2 .8 22.7 .8-20.2 .8-24.9 .7 46 .8-21.9 .8 31.1 .8-15.5 .8 22.2 .8-9.4 .8-9.7 .8 18.4 .7 3.4 .8-142.9 .8 0 .8 41 .8-41 .8 23.6 .8 20.2 .8-13.3 .8 49.1 .7 13.2 .8-35.5 .8 29.3 .8 21.5 .8-6.6 .8 35.7 .8-23.4 .8-8.1 .7 8 .8-7.2 .8 16.8 .8-29.7 .8-50.9 .8 34.6 .8-7.4 .8 22.8 .8-73.6 .7 26.6 .8 1.5 .8 29.2 .8 14.6 .8-20.3 .8 2.7 .8 38.1 .8-1.7 .7-5.2 .8 4.3 .8-11 .8 25.8 .8-10.5 .8-16.5 .8 25.5 .8-72.4 .8 35.1 .7-19.9 .8-4.2 .8 51.3 .8-29.6 .8-3.8 .8-78.7 .8 0 .8 0 .7 0 .8 18.8 .8 11.5 .8-30.3 .8 0 .8 0 .8 19.9 .8 35.9 .8-20.3 .7-35.5 .8 30.3 .8 21.3 .8 4.3 .8 38.3 .8 8.9 .8-53.6 .8 54.6 .7-19.8 .8-14 .8 24 .8 21 .8-115.3 .8 0 .8 0 .8 0 .8 0 .7 0 .8 0 .8 0 .8 0 .8 0 .8 0 .8 0 .8 0 .7 0 .8 0 .8 0 .8 0 .8 0 .8 0 .8 0 .8 0 .8 0 .7 67.6 .8-62.6 .8 21.4 .8 26.8 .8 17.6 .8 15.6 .8-46.5 .8 33.6 .7-56 .8 43.7 .8-11.1 .8 27.9 .8-6.9 .8 17.3 .8-88.4 .8 40.5 .8 28.3 .7 9.3 .8-9.2 .8 23.4 .8-70.8 .8 19.3 .8-30 .8 2.1 .8-12.9 .8 0 .7 0 .8 0 .8 0 .8 0 .8 0 .8 15.6 .8 12.6 .8 8.9 .7-37.1 .8 0 .8 0 .8 5.8 .8 15.6 .8-21.4 .8 6.1 .8 13 .8-1.4 .7-17.7 .8 11.4 .8-11.4 .8 0 .8 0 .8 0 .8 0 .8 0 .7 0 .8 0 .8 12.7 .8 4 .8-13.5 .8 4 .8-7.2 .8 54.2 .8-6 .7 3.4 .8-6.2 .8-15.7 .8 37.6 .8 5.3 .8 21.2 .8-13.5 .8 14.6 .7 15 .8-25.2 .8 16.9 .8-31.3 .8 26.6 .8 12.1 .8 4 .8 .3 .8 4.7 .7 16.4 .8-50.6 .8 7.5 .8-19.9 .8 22.7 .8 9.6 .8 15.9 .8 15.8 .7-15.3 .8-119.5 .8 47 .8-1.1 .8 28.7" stroke="#2F6EAA" stroke-width="1.7"/><path d="M35 669.5l.8 3.7 .8-2.3 .8-15.4 .8 13.7 .7 37.4 .8-11.8 .8-37.7 .8 15 .8-16.3 .8-42 .8 21.7 .8-9.4 .7-18.3 .8 28.2 .8-1.6 .8 10.2 .8-36.8 .8 0 .8 0 .8 0 .8 0 .7 0 .8 0 .8 0 .8 0 .8 0 .8 0 .8 0 .8 0 .7 0 .8 0 .8 0 .8 0 .8 0 .8 0 .8 0 .8 0 .8 0 .7 20.6 .8-20.6 .8 0 .8 11.9 .8-11.9 .8 0 .8 57.8 .8-57.8 .7 0 .8 0 .8 0 .8 0 .8 0 .8 0 .8 0 .8 0 .8 0 .7 0 .8 0 .8 0 .8 0 .8 0 .8 0 .8 0 .8 0 .7 0 .8 19.5 .8 35.9 .8-24.3 .8 24.7 .8 1.4 .8-11.3 .8 15.6 .8 2.3 .7 7.8 .8-1.7 .8-5.2 .8 35.3 .8-3.1 .8-81.7 .8 9.1 .8 30.8 .8-25.5 .7 11 .8 14.3 .8-8.8 .8 24 .8 .3 .8 29.3 .8-14.4 .8 1.1 .7-9.3 .8-50.7 .8 36.9 .8-5.9 .8 37.3 .8 7.1 .8-16.4 .8 .5 .8 20.7 .7-29.1 .8-.4 .8 11.8 .8 35.3 .8-8.5 .8-30.4 .8-9.8 .8-23.2 .7 8 .8-26.4 .8 70 .8-17.7 .8-4.1 .8-27.3 .8-37.5 .8 26 .8-5.1 .7 32.8 .8 26.9 .8-6.9 .8-30.5 .8 9.1 .8 21.4 .8 12.6 .8 5 .7-3 .8-19.4 .8 22.2 .8-84.2 .8-15.2 .8 63.9 .8-40.3 .8-11.7 .8-15.4 .7 76.3 .8-81.8 .8 26.5 .8 43.7 .8-3.8 .8 29.2 .8 13.1 .8-15.4 .7-31.5 .8 42.2 .8 14.6 .8-.8 .8-28.1 .8 18.9 .8-20 .8 8.4 .8 8.2 .7 22.9 .8-23.1 .8-76.2 .8-11.6 .8-17.2 .8 0 .8 0 .8 0 .7 0 .8 0 .8 0 .8 0 .8 0 .8 0 .8 0 .8 64.7 .8-18.4 .7-10.4 .8-9.1 .8 10.7 .8 48.4 .8-9.6 .8-6.4 .8 33.6 .8-17.7 .7 17.4 .8 10.7 .8 11.9 .8 3.2 .8 2.6 .8-10.2 .8 27.7 .8-11.7 .8-6.1 .7 27.3 .8-26.6 .8 12.5 .8 8.3 .8 18.9 .8-6.8 .8-10.1 .8 4.6 .7 6.7 .8 2.9 .8 8 .8 2.6 .8 1.8 .8-11.8 .8-15.3 .8 11.1 .8-6.3 .7-2.4 .8 15 .8 3.4 .8-29.4 .8 14.6 .8 6.9 .8-8.5 .8 7.3 .8-5.9 .7 5.4 .8 3 .8-8.9 .8-9.2 .8-7.1 .8-5 .8-3 .8 4.6 .7-7.7 .8-13.4 .8 9 .8 7.8 .8 2.9 .8-10.8 .8-48.2 .8 14.4 .8 9.9 .7 31.4 .8-21.1 .8 11.7 .8-11.5 .8-33.7 .8-10.9 .8 36 .8 18.6 .7-17.9 .8 4.1 .8-10.6 .8 3.8 .8-15.2 .8 20.5 .8 17 .8-22.8 .8 21.9 .7-22 .8 3.9 .8 25.2 .8-33.4 .8 28.6 .8-7.8 .8-17.2 .8-3.1 .7 29.5 .8-45.1 .8 26.9 .8 5.8 .8 2.6 .8-14.3 .8-5.3 .8 5.9 .8-11.1 .7-2.5 .8 24.2 .8-59.7 .8-14.8 .8-14.1 .8 12.2 .8-9.5 .8 14.3 .7 23.5 .8-1.3 .8-5.8 .8 8.4 .8-26.1 .8 18 .8 32.3 .8-5.1 .8 22.4 .7-19.1 .8 7.7 .8-48.4 .8 37.4 .8 3.4 .8 27.4 .8-2.2 .8 11.5 .7-34 .8 29.3 .8-35.2 .8 36.6 .8 6.8 .8 5.6 .8 11.6 .8 .9 .8-21.7 .7 2.7 .8 19 .8 18.1 .8-18 .8-.2 .8-5.1 .8 0 .8-55.5 .7 12.7 .8 14.3 .8 11.8 .8-1.7 .8 4.6 .8 9.5 .8-.9 .8-9.2 .8-4.4 .7 35.2 .8-53.5 .8-13.7 .8 11.7 .8-3.3 .8-17.8 .8 29.1 .8-17.3 .7 24.7 .8-25.8 .8 8.7 .8-24.3 .8 38.6 .8-28.1 .8 15.8 .8-30.3 .8 5 .7-8 .8-17 .8 12.5 .8 10.1 .8 26.1 .8-17.4 .8 7.2 .8-13.5 .7 14.5 .8 6.7 .8 20.9 .8-8.7 .8 17.7 .8 .1 .8-23.6 .8 .1 .8 9.4 .7-16.7 .8 16 .8 2.2 .8 14.1 .8 14.3 .8-46.9 .8 38 .8-138.7 .8 20.5 .7-18.1 .8 19.4 .8 6.7 .8 6.8 .8 12.5 .8 35.4 .8-22.6 .8 14.9 .7-16.3 .8-3 .8-29.2 .8 10.9 .8 23.2 .8 24.6 .8 27.6 .8-9.4 .8-32.9 .7 18.5 .8 9 .8 15.1 .8-13.8 .8 14.6 .8 32.4 .8-13.1 .8-14.2 .7 14 .8 6.7 .8-95.4 .8 10 .8-2 .8 16 .8 26.1 .8-24.9 .8 11.3 .7 19.6 .8 27.7 .8-14.9 .8 7.9 .8 16.4 .8-15.7 .8 40.9 .8-31.3 .7 6.7 .8 14.9 .8-12.7 .8 5.7 .8 8.5 .8-14.9 .8-68.4 .8 41.7 .8-8.9 .7-12.3 .8 6.7 .8 24 .8 3.4 .8-4.5 .8-2.9 .8 22.4 .8 13.8 .7-2.9 .8-10.8 .8 6 .8 16.4 .8-8.9 .8-17.5 .8-3.7 .8 14.2 .8-27.7 .7 18.2 .8 8.9 .8-6.8 .8-11.4 .8 11.7 .8-11.4 .8-2.1 .8-10.9 .7 11.2 .8-10.8 .8 10.7 .8-28.1 .8-19.9 .8 18.8 .8-34.7 .8 3.6 .8-47.7 .7 36.4 .8-55.9 .8 0 .8 36.3 .8-36.3 .8 52.7 .8-24.5 .8 11.1 .7 24 .8-51.3 .8 35.1 .8-5.6 .8 5.7 .8 30.5 .8-20.1 .8-2.9 .8-54.1 .7 40.8 .8 31.2 .8 8.3 .8-30.1 .8-47.9 .8 62.5 .8-1.5 .8 28.2 .7-21.9 .8 30.5 .8 3.1 .8-46.7 .8-4.9 .8 32.8 .8-8.9 .8 10 .8 6.8 .7-92.9 .8 0 .8 0 .8 23.8 .8 36.9 .8-43.2 .8-17.5 .8 0 .7 0 .8 0 .8 0 .8 0 .8 0 .8 0 .8 0 .8 20 .8-20 .7 0 .8 59.7 .8-51.7 .8 47.3 .8-11.6 .8-41.2 .8 50 .8 37.9 .8 8.9 .7 6.7 .8-2.5 .8 30.5 .8-5 .8-18.6 .8-110.4 .8 0 .8 0 .7 35.4 .8-35.4 .8 0 .8 0 .8 8.1 .8-5.8 .8 18.5 .8 12.6 .8 26.9 .7-60.3 .8 27.9 .8 54.9 .8 28.5 .8-47.8 .8 40.3 .8 12.6 .8-31.1 .7 29.5 .8 18.8 .8 4.8 .8-138.4 .8 0 .8 0 .8 0 .8 0 .8 0 .7 0 .8 28.4 .8 3.7 .8 5.9 .8 3.7 .8 34.9 .8 16.2 .8-10.3 .7 29.5 .8-16.4 .8 1.8 .8 5.4 .8-10.5 .8-20.4 .8 13.9 .8-85.8 .8 25.6 .7 .5 .8-11.7 .8-5.4 .8 40.1 .8-27.2 .8-21.1 .8-.8 .8 34.3 .7-14.3 .8 5.8 .8 25.2 .8-51 .8 0 .8 0 .8 0 .8 0 .8 0 .7 39.5 .8 5.6 .8 27.2 .8-32.1 .8 41.7 .8-15.9 .8 8.9 .8-2.5 .7 37.1 .8-19.4 .8 12.1 .8 13.2 .8-115.4 .8 0 .8 0 .8 0 .8 0 .7 0 .8 0 .8 0 .8 0 .8 0 .8 0 .8 0 .8 2.6 .7-2.6 .8 0 .8 0 .8 0 .8 0 .8 0 .8 0 .8 9.3 .8-1.5 .7-7.8 .8 3 .8-3 .8 24.5 .8 11.3 .8-19.2 .8 46.4 .8-2.1 .7 13.2 .8-11.1 .8 19.5 .8-8.3 .8 16.5 .8-45.6 .8-45.1 .8 44.1 .8 20.1 .7-2.4 .8 10.7 .8 37.7 .8-94.1 .8-16.1 .8 4.7 .8-4.7 .8 0 .8 0 .7 0 .8 0 .8 0 .8 0 .8 0 .8 0 .8 0 .8 0 .7 0 .8 0 .8 0 .8 0 .8 1.5 .8-1.5 .8 4.1 .8-4.1 .8 36.6 .7 21.2 .8-17.6 .8-3.7 .8 47.6 .8-74.1 .8-8.1 .8-1.9 .8 17.8 .7 23.3 .8 11.2 .8 4.8 .8-22 .8 23.3 .8-.6 .8 20.6 .8-12.9 .8 3.5 .7-5.9 .8-63.1 .8 0 .8 2.4 .8-2.4 .8 0 .8 0 .8 8.8 .7 29.9 .8 27.2 .8-27.4 .8 17.5 .8-20.7 .8 16.2 .8 38.3 .8 21 .8-32.5 .7-8.6 .8 4 .8 27.4 .8-22.2 .8 9.7 .8 13.5 .8 30.8 .8-132.5 .7 80.6 .8-71.1 .8 10.1 .8 32.9 .8 38.1" stroke="#9B4A12" stroke-width="1.7"/><path d="M35 635.3l.8 16.6 .8-1.3 .8 30.7 .8-24.6 .7 13.8 .8-14.6 .8 36.3 .8-77.2 .8 65 .8-72.2 .8 0 .8 18.6 .7-18.6 .8 0 .8 0 .8 0 .8 0 .8 0 .8 0 .8 0 .8 0 .7 0 .8 0 .8 0 .8 0 .8 0 .8 0 .8 0 .8 0 .7 0 .8 0 .8 0 .8 0 .8 0 .8 0 .8 0 .8 0 .8 0 .7 0 .8 0 .8 35.3 .8-30.8 .8-4.5 .8 0 .8 0 .8 0 .7 0 .8 0 .8 0 .8 0 .8 0 .8 0 .8 0 .8 0 .8 0 .7 0 .8 0 .8 0 .8 0 .8 0 .8 0 .8 2.5 .8 30.7 .7-33.2 .8 0 .8 23.6 .8-20.6 .8 27.6 .8-7.4 .8 33.6 .8-34.4 .8 28.3 .7-14.2 .8 39.4 .8-29.1 .8 13.8 .8 37 .8-91.6 .8 39.7 .8-5.1 .8 32.8 .7-.1 .8-47.1 .8 18.2 .8 .7 .8-11.6 .8 52.8 .8 13 .8-34.9 .7 31 .8-71.7 .8 23.3 .8 15 .8-29.7 .8 37.5 .8-35.7 .8 52.7 .8-30.9 .7 35.6 .8-.8 .8 3.5 .8 3.4 .8 14.2 .8-83.5 .8 13.1 .8-41.4 .7 11.1 .8 22.5 .8-4.7 .8 20.5 .8-49.4 .8 59.3 .8-25.3 .8 19.3 .8 9.3 .7-5.5 .8-6.5 .8-4.9 .8 50.9 .8-28 .8-.3 .8 22.3 .8-15.9 .7-53.6 .8 43.7 .8-64.8 .8 21 .8 25.5 .8 10.1 .8 30.7 .8-15.9 .8 33.7 .7-62.7 .8 25.2 .8-26.1 .8 12.1 .8 25.2 .8 7.5 .8 16.9 .8-21.4 .7 24.2 .8-4.6 .8-23.3 .8 39.4 .8-50.9 .8 15.9 .8-.5 .8 27.5 .8-3.2 .7-6.1 .8 26.7 .8-99.1 .8 17.9 .8-45.7 .8 0 .8 0 .8 0 .7 0 .8 0 .8 0 .8 0 .8 0 .8 0 .8 3.5 .8 55 .8-58.5 .7 18 .8 23.6 .8 8 .8-11.4 .8 32.7 .8 13.9 .8 2.3 .8-12.8 .7-2.8 .8-10.3 .8 46 .8-12.5 .8 21.5 .8 14 .8-8.9 .8-30.1 .8 52.4 .7-29.1 .8 36.2 .8 3 .8-9 .8-13.5 .8 24.4 .8-1.5 .8 12.1 .7 5.2 .8-16.3 .8 1.7 .8 13.8 .8 1.3 .8 2.5 .8-12.1 .8-10.3 .8 11.7 .7-3 .8 5.8 .8-16.6 .8-10 .8-5.5 .8 23.5 .8 2.1 .8-8.4 .8-18.4 .7 15.5 .8-7.1 .8 17.9 .8-7.6 .8-3.6 .8-21.1 .8 23.4 .8-4.9 .7-17.4 .8 13.8 .8-9.8 .8-5.1 .8 7.5 .8-17.3 .8-2.4 .8-31.2 .8 2.8 .7 24.2 .8-2.4 .8-3.7 .8 3.5 .8-.4 .8-30.1 .8-17.8 .8 43.5 .7 7.5 .8 8.5 .8-46.7 .8 17.7 .8 2.1 .8-21.5 .8 37 .8-32.1 .8 11.6 .7 32.6 .8-42 .8 18.9 .8-9.7 .8 6.4 .8 37.4 .8-43.8 .8 30.4 .7-35 .8 17.3 .8-27 .8 11.4 .8 19.1 .8 1.6 .8 9.7 .8-30 .8 26.3 .7 5.4 .8-1.9 .8-51.5 .8-40.8 .8 52.5 .8-74.8 .8 0 .8 32.6 .7-13.8 .8 3.7 .8 43.2 .8-10.1 .8 1.5 .8 1.5 .8 32.6 .8-15.7 .8-1.4 .7 8.3 .8-8.5 .8 11.5 .8 20.1 .8 2.4 .8-10.5 .8-3.1 .8-.1 .7 30.7 .8-34.3 .8 22.2 .8 5.3 .8 25.8 .8-1 .8-30.9 .8 20.7 .8 13.1 .7-53.1 .8 27.8 .8-19.8 .8 12.4 .8 28.8 .8-4.2 .8-45.2 .8 21.1 .7-24 .8 10.7 .8-17.3 .8 20.4 .8-4.7 .8 .5 .8 20.7 .8-2.4 .8 13.1 .7-6.2 .8-29.3 .8 27.6 .8-45.6 .8 38.7 .8 4.1 .8 6.5 .8 13.8 .7 7.6 .8-28.8 .8-6.8 .8-5.4 .8-6.9 .8 16.2 .8 22.9 .8-8.4 .8-9.3 .7 16.1 .8-23 .8-11.1 .8 13.3 .8-12.9 .8 28.1 .8-15.6 .8-14.2 .7 32 .8-8.8 .8-3.9 .8-4.8 .8 2.3 .8 27.6 .8-36.2 .8 3.5 .8 19.9 .7-13.6 .8 12.1 .8-4.1 .8-2.9 .8 8.3 .8-27.6 .8-.8 .8-105 .8 53.7 .7-7.7 .8 8.3 .8-42.3 .8 13.3 .8 47.8 .8-9.8 .8 46.3 .8-21 .7-62.8 .8 21.9 .8-23.7 .8 18.6 .8 24.1 .8 1 .8 12.7 .8-4.8 .8-1.2 .7-16.5 .8 25.5 .8-18.1 .8 27.2 .8 24.1 .8-.7 .8-5.5 .8 2.1 .7 39 .8-20.8 .8-28.9 .8 8.6 .8 3.1 .8 11.7 .8-20.2 .8 19.9 .8 2.8 .7 25.3 .8-21.3 .8 13.3 .8-18.9 .8-2.2 .8 18 .8 12.8 .8-15.3 .7 12 .8-2.9 .8 7.6 .8 10.1 .8 10.7 .8-10.7 .8-79.6 .8 34.3 .8-44.3 .7 32.6 .8 18 .8-29 .8 19.5 .8 14.8 .8 8.3 .8 26.2 .8 20.8 .7 17.2 .8-20.2 .8-26.3 .8-10.8 .8 .5 .8-1.9 .8-42.3 .8 25.8 .8-6.1 .7 24.4 .8 15.6 .8 21.7 .8 .4 .8 14 .8 10 .8 17.2 .8 11.2 .7 12.7 .8-14 .8-12.9 .8-27.3 .8-15.3 .8-12.1 .8-38.9 .8-41.4 .8-15 .7-31.4 .8-26.7 .8-15.9 .8 0 .8 15.5 .8 4.1 .8 10.8 .8-8.3 .7 4.4 .8 8.1 .8 16.9 .8-36.5 .8 38.7 .8-9.1 .8 14.2 .8 34.2 .8-25.5 .7 29.4 .8-96.9 .8 0 .8 0 .8 0 .8 0 .8 0 .8 0 .7 6.1 .8-6.1 .8 21.1 .8-21.1 .8 0 .8 5.7 .8-5.7 .8 20.7 .8-.2 .7-20.5 .8 56.4 .8 3.4 .8-43.4 .8-2 .8 43.2 .8-57.6 .8 0 .7 0 .8 0 .8 0 .8 0 .8 0 .8 0 .8 0 .8 42.1 .8 24 .7-34.7 .8 36.8 .8-8.8 .8 33.7 .8 2.7 .8-19 .8 37.3 .8-20.4 .8 23 .7 24.5 .8 3.9 .8-33.9 .8-9.6 .8-32.1 .8 50.8 .8-17.2 .8-16.9 .7 40.8 .8-127 .8 54.5 .8-37.9 .8-16.6 .8 1.7 .8 26.2 .8 42.4 .8 11.5 .7 .6 .8-21.9 .8-37.7 .8 75.7 .8 2.2 .8 22.2 .8-38.2 .8 40.9 .7-32.1 .8 37.2 .8 8 .8-73.4 .8-50.1 .8-15.2 .8 0 .8 0 .8 0 .7 0 .8 0 .8 0 .8 0 .8 0 .8 0 .8 0 .8 0 .7 0 .8 41.5 .8-40.2 .8 16.5 .8 33.6 .8-43.5 .8-7.9 .8 0 .8 0 .7 0 .8 31.5 .8-31.5 .8 0 .8 0 .8 0 .8 0 .8 0 .7 0 .8 0 .8 22.9 .8-22.9 .8 0 .8 12.4 .8-1.8 .8 12.9 .8 34 .7-57.5 .8 0 .8 24.9 .8 23.8 .8-5.6 .8 19.6 .8-7.2 .8 14.7 .7 9.7 .8-4.8 .8 4.5 .8 29 .8-83.8 .8-24.8 .8 0 .8 0 .8 0 .7 0 .8 0 .8 0 .8 0 .8 0 .8 0 .8 0 .8 22.5 .7-22.5 .8 0 .8 0 .8 0 .8 0 .8 20.8 .8-13.2 .8-7.6 .8 0 .7 0 .8 0 .8 0 .8 0 .8 0 .8 32.4 .8 4.2 .8-32.6 .7 10.2 .8 52.5 .8 2.3 .8-69 .8 33.6 .8-31.5 .8 54.8 .8-56.9 .8 50.3 .7 .5 .8 31.2 .8-10.8 .8-31.5 .8-37.2 .8 59.3 .8 15.4 .8-77.2 .8 0 .7 0 .8 0 .8 0 .8 0 .8 0 .8 0 .8 0 .8 0 .7 0 .8 0 .8 0 .8 0 .8 0 .8 0 .8 14.6 .8-9.9 .8-4.7 .7 0 .8 0 .8 1.1 .8 44 .8-45.1 .8 28.2 .8-28.2 .8 0 .7 22.7 .8-10.3 .8 26.8 .8-3.6 .8 10.4 .8-44.4 .8 29 .8 6.5 .8-4.9 .7 3.8 .8 18.9 .8 23.4 .8-10.9 .8-18.5 .8 5.1 .8 12.6 .8 16.7 .7 2.8 .8 26.1 .8-9.3 .8-26 .8 5.7 .8 19.9 .8-8.5 .8-12.1 .8 21.1 .7 4.8 .8-13.2 .8-24.4 .8 42.9 .8 8.8 .8-2.5 .8 .5 .8-79.3 .7 41.4 .8-32.4 .8-1.7 .8 40.6 .8-8.2" stroke="#008F45" stroke-width="1.7"/><path d="M35 710.4l.8-54.3 .8 12.8 .8-20.1 .8 56.2 .7-16.5 .8 9.4 .8-86.4 .8 48 .8 20.7 .8-72.4 .8 0 .8 0 .7 5.7 .8-5.7 .8 0 .8 0 .8 0 .8 0 .8 0 .8 0 .8 0 .7 0 .8 0 .8 0 .8 0 .8 0 .8 0 .8 0 .8 0 .7 0 .8 0 .8 0 .8 0 .8 0 .8 0 .8 0 .8 0 .8 0 .7 0 .8 0 .8 0 .8 8.6 .8-8.6 .8 11.7 .8-11.7 .8 0 .7 0 .8 0 .8 0 .8 0 .8 .1 .8-.1 .8 0 .8 0 .8 6.6 .7-1.5 .8 25.2 .8-30.3 .8 0 .8 0 .8 0 .8 0 .8 0 .7 20.3 .8 25.4 .8-43.9 .8 22.3 .8-24.1 .8 44.8 .8-8 .8 11.3 .8 4.5 .7 15.8 .8 5.2 .8-20.7 .8 23.6 .8-11.2 .8-65.3 .8 0 .8 88.1 .8-38.4 .7 2.1 .8-30.7 .8 48.4 .8-57.5 .8 11.2 .8 48.6 .8-27.9 .8 18.7 .7 41.8 .8-12.6 .8-46.4 .8 53.2 .8-6.4 .8-54.3 .8 54.8 .8-15.5 .8-5.9 .7 18.3 .8-5.3 .8 .4 .8 15.1 .8 32.9 .8-47.4 .8-41.5 .8 3.6 .7-19.7 .8 38.7 .8 7.4 .8-62.4 .8 40.1 .8-24.7 .8 19 .8 13.9 .8 39 .7-38.7 .8-18.4 .8 36.6 .8-64.3 .8 32.4 .8 20.9 .8 1.2 .8-68.4 .7 0 .8 0 .8 0 .8 0 .8 0 .8 1.2 .8-1.2 .8 28.3 .8-1.8 .7 39.4 .8-65.9 .8 32.6 .8 45.2 .8 13.3 .8-27.6 .8-24.8 .8 10.1 .7-8.4 .8 51.8 .8-1.4 .8-6.1 .8 5.9 .8 19.8 .8-17.6 .8 17.3 .8-33.6 .7 43.1 .8-3.5 .8-57.2 .8-24.1 .8 8.3 .8-43.1 .8 0 .8 0 .7 0 .8 0 .8 0 .8 3.2 .8-3.2 .8 32.3 .8-32.3 .8 66.7 .8 10.7 .7-2.8 .8-31.8 .8-12.5 .8 32.6 .8 30.9 .8 .1 .8 .3 .8 .3 .7-7.5 .8 5.4 .8 6.5 .8 5.7 .8 39.7 .8-26.3 .8 32.9 .8-34.2 .8 49.2 .7-15.3 .8 3.6 .8-9.7 .8 2.8 .8 12.3 .8 17.3 .8-32.9 .8 18.4 .7-.7 .8 16.9 .8 6.1 .8-16.8 .8-15.6 .8 17.9 .8-11.9 .8-1 .8 14.9 .7 1.2 .8-8.4 .8 20.6 .8-41.7 .8-4.9 .8 24.4 .8-.9 .8-30.7 .8 24.3 .7-30.4 .8 31.2 .8-11.7 .8 10.8 .8-2 .8 6.6 .8-3.2 .8-30.7 .7-12.6 .8 13.3 .8-8.6 .8 24.3 .8 1 .8-10.5 .8-13.5 .8-29.9 .8 30.9 .7 23.8 .8-43.1 .8 43.2 .8-7.9 .8-137.1 .8 31.7 .8 84.3 .8-11.5 .7-.2 .8-23.1 .8 26.5 .8 16 .8-30 .8 31.5 .8-4.8 .8-37.4 .8 38.5 .7-21.1 .8 6.7 .8-3.7 .8 16.7 .8 1.6 .8-47.4 .8-5 .8-27.9 .7 29.1 .8 0 .8 15.9 .8 5.8 .8-20 .8 40.6 .8-20 .8 4.9 .8-75.1 .7 82.9 .8 22.2 .8-55.5 .8 4.2 .8 17.5 .8-93.9 .8 15.8 .8 44.9 .7-35.3 .8-6.7 .8 49.9 .8-14 .8-.9 .8 38.3 .8-7.9 .8 9.2 .8-20.5 .7 28.1 .8-8.7 .8 19.2 .8-26.3 .8 30.9 .8-9.3 .8 24.4 .8-24.1 .7 19 .8-4.7 .8-13.1 .8 10.3 .8-4.6 .8 17.8 .8-9 .8 15.2 .8 9.1 .7 3.8 .8-2.5 .8 5.1 .8-10 .8-1.8 .8 12.5 .8 7.5 .8-141 .7 36.8 .8 27.8 .8-58.9 .8 29.8 .8 52.2 .8-31.6 .8-6.8 .8 29.9 .8-2.8 .7 43.3 .8-52.7 .8-2.2 .8 21.6 .8-15.4 .8 21 .8-7.4 .8-10.8 .7 6.1 .8-9 .8-27.8 .8 25.8 .8 18.2 .8-12.9 .8 9.7 .8-63.5 .8 91.3 .7-26.8 .8 12.5 .8-38.7 .8 16.9 .8 30.1 .8-12.6 .8 1.2 .8-56.7 .7 48.4 .8 14.8 .8 9.2 .8-18.1 .8 36.3 .8-15.3 .8 7.1 .8-32.8 .8 19 .7-43.7 .8 57.1 .8-17.9 .8 18.7 .8 12.2 .8-22 .8-3.3 .8-84.9 .8-43 .7 9.4 .8-4.1 .8 39.2 .8-44.5 .8 30.7 .8-4.1 .8 22.3 .8 6.4 .7 2.7 .8-24.9 .8 9.1 .8-10.3 .8 32.7 .8-3.5 .8 .2 .8 18.5 .8-27.9 .7 22.8 .8 18.1 .8 32.5 .8-8.6 .8-10 .8 33.9 .8-37.4 .8 24.1 .7 11.1 .8 1.8 .8-60.9 .8-16.9 .8 16.3 .8 16.5 .8 12.8 .8-35.4 .8 21.3 .7-2.3 .8-.7 .8 22.1 .8-20.7 .8-12.2 .8 42.9 .8 2.6 .8 11.7 .7 8.4 .8 12 .8-5.5 .8-7 .8-1.7 .8 4.6 .8-77.4 .8 32.9 .8 4.7 .7 14.7 .8-3.6 .8-26.4 .8 33.4 .8 16.7 .8-13.5 .8 16.7 .8 13.1 .7-17.5 .8-6.6 .8 7.8 .8 4 .8 1.8 .8 10.1 .8-38.4 .8 25.4 .8-22.8 .7-30.7 .8 56.1 .8-37.7 .8 5.6 .8 1.8 .8-6.1 .8 20.5 .8-8.1 .7-14.7 .8 16.5 .8-17.8 .8-16.7 .8-38.7 .8 13.3 .8-3 .8-24.5 .8-2.4 .7-36.6 .8 0 .8 0 .8 0 .8 0 .8 13.6 .8 10 .8 6.7 .7-30.3 .8 44 .8 19.6 .8-26.3 .8-7.2 .8 44.9 .8-8.6 .8-3.4 .8-16.5 .7 19.2 .8 11.9 .8-32.3 .8 18 .8 18.5 .8-5.9 .8-16 .8-59.9 .7 0 .8 59.7 .8-3 .8 29 .8-14.5 .8-52.9 .8 12.7 .8 23.4 .8 27.3 .7-26.9 .8-4.4 .8-9.9 .8-40.5 .8 60.1 .8-39.8 .8-20.3 .8 0 .7 0 .8 0 .8 0 .8 0 .8 21.7 .8-21.7 .8 8.1 .8 6.8 .8-9.8 .7-5.1 .8 43.3 .8 4.5 .8 15.4 .8 30.8 .8-1.4 .8-21 .8-2 .8 11 .7 38.1 .8 6.2 .8-11.3 .8 18.8 .8-12.3 .8 25.3 .8-23.5 .8 14.6 .7-10.8 .8-101.5 .8-24.2 .8 0 .8 14.9 .8 1.4 .8-2.3 .8 18.3 .8 51.9 .7-55.7 .8 33.2 .8 18.2 .8 17.6 .8-15.3 .8 21.7 .8-23.8 .8 14.7 .7 8.5 .8-21.9 .8 .8 .8-82.2 .8 0 .8 0 .8 0 .8 0 .8 0 .7 0 .8 0 .8 0 .8 4 .8-4 .8 0 .8 0 .8 52.3 .7-52.3 .8 31.4 .8 16.1 .8-4.1 .8-.2 .8-12.4 .8 15.9 .8-46.7 .8 0 .7 15.6 .8-.1 .8 5.2 .8-17.4 .8 9.5 .8-12.8 .8 0 .8 0 .7 0 .8 0 .8 0 .8 0 .8 23.3 .8-23.3 .8 33.9 .8-15.4 .8 52.9 .7-71.4 .8 0 .8 54.3 .8-8.9 .8 28.9 .8 3.6 .8-39.4 .8 61.6 .7-8.9 .8-1.7 .8 23.6 .8 6.2 .8-119.3 .8 0 .8 0 .8 0 .8 0 .7 0 .8 0 .8 0 .8 0 .8 0 .8 0 .8 0 .8 0 .7 0 .8 0 .8 0 .8 0 .8 0 .8 0 .8 14.3 .8-14.3 .8 3.8 .7 16.5 .8-20.3 .8 0 .8 0 .8 0 .8 25.2 .8 28.6 .8-17.4 .7-36.4 .8 47.3 .8 9.7 .8 9.8 .8 1.6 .8-16.2 .8-2.6 .8-49.6 .8 10.2 .7 88.1 .8-13.8 .8-2.1 .8 15.9 .8-98.3 .8 9.4 .8 67.4 .8-76.8 .8 0 .7 0 .8 0 .8 0 .8 0 .8 22.1 .8 25.5 .8-47.6 .8 0 .7 0 .8 0 .8 0 .8 0 .8 0 .8 0 .8 0 .8 23.8 .8-14.4 .7 5.5 .8 17.7 .8 29.5 .8 31.2 .8-17.1 .8-46.6 .8 42.1 .8-40.1 .7-25.7 .8-5.9 .8 41 .8-4.5 .8 13.3 .8-.9 .8 13.7 .8-15.2 .8-47.4 .7 0 .8 0 .8 0 .8 0 .8 17.2 .8-17.2 .8 57.6 .8-38 .7 57.9 .8-31.5 .8 36 .8-53 .8-29 .8 25 .8 5.3 .8 26.8 .8-30 .7 42 .8-41.4 .8 13.7 .8 47.4 .8 18.9 .8 5.3 .8 8.8 .8-10.1 .7-86.7 .8-25 .8 15 .8 44.8 .8 19.9" stroke="#BE1B1E" stroke-width="1.7"/><path d="M35 861.4l.8-.2 .8-.1 .8 0 .8 .3 .7-.3 .8-.2 .8 .1 .8 .1 .8-.3 .8-.5 .8-.4 .8-.6 .7 .4 .8 .6 .8 .3 .8 .3 .8 .1 .8-1.1 .8 .1 .8-.2 .8 .1 .7 1.2 .8 0 .8-.5 .8-.5 .8-.1 .8 .1 .8 .9 .8-.1 .7 0 .8 0 .8 0 .8 .3 .8-.3 .8-.4 .8-.2 .8 .2 .8-.5 .7-.2 .8 .1 .8 0 .8 .6 .8 .4 .8 0 .8-.5 .8 .3 .7 .2 .8-.1 .8 .3 .8-.5 .8-.3 .8 .3 .8 .2 .8 .1 .8 0 .7-.1 .8-.2 .8 .1 .8 .4 .8-.6 .8-.6 .8 .1 .8-.5 .7 .6 .8 .7 .8-.2 .8 .5 .8-.2 .8-.3 .8 .4 .8-.6 .8 .1 .7 0 .8-.1 .8 .7 .8-.5 .8-.1 .8-.2 .8-.2 .8 .6 .8 .1 .7-.1 .8-.4 .8-.1 .8 .1 .8 .3 .8 .2 .8-.6 .8-.2 .7 0 .8 .2 .8 .2 .8 .2 .8 .1 .8 .3 .8 .2 .8-.2 .8 .1 .7-.4 .8 .3 .8 .2 .8-.4 .8 .1 .8-.4 .8-.3 .8 0 .7-.1 .8 .6 .8 .4 .8 .4 .8 0 .8-.3 .8-.2 .8 0 .8 .3 .7-.2 .8-.3 .8-.4 .8-.8 .8 .6 .8-.2 .8 .2 .8 .8 .7-.4 .8 .6 .8 .1 .8 .1 .8-.1 .8-.1 .8-.4 .8-.1 .8 .3 .7-.2 .8 .4 .8 0 .8 0 .8 .1 .8-.3 .8 0 .8 0 .7 .1 .8-.1 .8 .2 .8-.8 .8-.4 .8 .4 .8-.1 .8 .8 .8 .1 .7-.7 .8 0 .8-.3 .8 .3 .8 .3 .8-.1 .8 .4 .8-.5 .7-.3 .8-.5 .8 .1 .8 .3 .8 .7 .8 .1 .8-.2 .8 .1 .8 .1 .7 0 .8 .1 .8-.4 .8-1.5 .8 0 .8 .1 .8 .5 .8 1 .7 0 .8 .1 .8 .1 .8 .3 .8 .2 .8-.6 .8 0 .8 .3 .8-.1 .7 .1 .8-.6 .8-.1 .8 0 .8 .4 .8 0 .8-.2 .8-.2 .7-.5 .8 .4 .8-.3 .8 .4 .8 .2 .8 0 .8 .2 .8-.3 .8 .2 .7 .1 .8 .2 .8 .2 .8-.3 .8-.2 .8-.4 .8-.4 .8 .2 .8 .1 .7 .3 .8 .4 .8 .1 .8 0 .8 0 .8 .1 .8-.6 .8 .3 .7-.2 .8-.5 .8 .2 .8-.1 .8 .3 .8 0 .8-.1 .8-.1 .8-.4 .7 .5 .8 .2 .8 .3 .8 .5 .8-.2 .8 .2 .8-.5 .8-.3 .7 .2 .8-.5 .8 .4 .8 .1 .8-.4 .8-.2 .8-.3 .8 .1 .8 .3 .7 .5 .8 0 .8-.8 .8 0 .8 0 .8 .5 .8 .7 .8-.1 .7-.2 .8-.3 .8 .1 .8 0 .8 .2 .8-.6 .8 .1 .8-.2 .8-.1 .7 .4 .8-.6 .8 .3 .8 .4 .8 .2 .8 .1 .8-.4 .8-.1 .7 .1 .8-.2 .8 .1 .8-.4 .8 .1 .8 .6 .8 .3 .8 0 .8-.4 .7-.1 .8 .1 .8 0 .8 .1 .8-.3 .8 .2 .8-.5 .8 .1 .7 .4 .8-.4 .8-.1 .8 0 .8-.2 .8 .2 .8 .5 .8 .2 .8 .3 .7-.3 .8 .3 .8 0 .8 0 .8 0 .8 0 .8-.3 .8-.4 .7-.1 .8-.3 .8 .2 .8 .3 .8 .3 .8 0 .8 0 .8 .1 .8-.3 .7-.1 .8 .1 .8-.5 .8 .5 .8 .2 .8 .1 .8 .2 .8 0 .7-.5 .8-.3 .8-.4 .8-.9 .8 .5 .8 0 .8 .7 .8 .7 .8 0 .7 .1 .8-.2 .8 0 .8 .1 .8 .1 .8-.1 .8-.2 .8 0 .7-.2 .8 .4 .8-.2 .8-.1 .8 .2 .8 0 .8 .2 .8-.1 .8-.2 .7-.6 .8-.4 .8 .1 .8 .2 .8 .4 .8 .1 .8 .4 .8 0 .8 .1 .7 .2 .8-.4 .8-1 .8 0 .8 .1 .8 .1 .8 .8 .8 0 .7-.6 .8 0 .8 .2 .8-.5 .8 .5 .8 .4 .8-.5 .8 .5 .8-.7 .7-.1 .8 .4 .8-.1 .8 .6 .8-.2 .8-.1 .8-.2 .8-.2 .7 .3 .8-.2 .8-.1 .8 .3 .8-.2 .8 .1 .8 .5 .8-.1 .8-.2 .7 0 .8-.6 .8-.2 .8 0 .8 .4 .8 .6 .8 .2 .8 .2 .7-.1 .8-.4 .8 .2 .8 0 .8-.2 .8 0 .8 0 .8-1 .8 .4 .7 .4 .8 0 .8 .8 .8-.6 .8-.4 .8-.4 .8 .2 .8 .5 .7 .4 .8 .5 .8 0 .8-.3 .8-.3 .8-.3 .8-.4 .8 .4 .8 .2 .7 0 .8 0 .8-.1 .8-.2 .8 .2 .8-.1 .8-.2 .8 .1 .7 0 .8 .4 .8 .1 .8 .3 .8-.2 .8-.2 .8 .2 .8-.4 .8 .2 .7 0 .8-.1 .8-.1 .8-.3 .8 .3 .8 0 .8 .4 .8 .4 .7-.2 .8 .1 .8-.3 .8-.2 .8-.3 .8-.5 .8 .3 .8-.1 .8 .3 .7 0 .8 .1 .8 .3 .8-.1 .8 .6 .8-.1 .8-.3 .8 0 .7 0 .8-.1 .8 .1 .8-.3 .8-.5 .8-.4 .8 .1 .8 .1 .8-.3 .7 .4 .8-.4 .8 .4 .8 0 .8-.6 .8 .2 .8-.3 .8 .5 .7 .7 .8 .3 .8-.1 .8 .2 .8-.1 .8-.3 .8-.4 .8 .1 .8 0 .7 .2 .8 .7 .8 0 .8 0 .8-.6 .8-.4 .8-.1 .8-.6 .8 .5 .7 0 .8 .1 .8 .5 .8-.1 .8-.1 .8 0 .8 .2 .8 .2 .7-.2 .8 0 .8-.5 .8-.5 .8 .1 .8 0 .8 .1 .8 .6 .8 .5 .7 0 .8 .4 .8 0 .8-.4 .8 0 .8-.1 .8-.4 .8 .5 .7-.1 .8-.6 .8-.5 .8-.2 .8-.2 .8 .4 .8 .9 .8 .1 .8 .2 .7 .1 .8 .1 .8-.2 .8-.1 .8-.6 .8 0 .8 .3 .8 .2 .7 .5 .8-.1 .8 .2 .8-.2 .8 0 .8 0 .8-.8 .8 .2 .8-.3 .7-.1 .8 .6 .8 .1 .8 .1 .8-.1 .8-.1 .8-.5 .8-.1 .7 .1 .8 .1 .8-.2 .8 .4 .8 .2 .8 .1 .8 0 .8-.4 .8 .1 .7-.3 .8 .2 .8 .3 .8 0 .8-.2 .8-.2 .8 .1 .8 0 .7 .1 .8 .7 .8-.1 .8-.3 .8 .2 .8-.1 .8 .1 .8-.6 .8-.7 .7-.4 .8-.4 .8 .2 .8 .8 .8 .5 .8 .2 .8 .4 .8 .2 .7-.4 .8 0 .8-.5 .8 0 .8 .1 .8 .3 .8 .6 .8-.2 .8 .1 .7-.1 .8-.3 .8 .1 .8 .1 .8-.3 .8 .2 .8 .3 .8-.1 .7 .3 .8-.3 .8-.5 .8 .1 .8-.3 .8 .1 .8 .2 .8 0 .8 .3 .7 .2 .8 .1 .8-.3 .8-.1 .8-.8 .8-.3 .8 .1 .8 .3 .8 .5 .7 .1 .8 .1 .8-.2 .8-.3 .8-.4 .8-.6 .8-.4 .8 .5 .7 .5 .8 .5 .8-.1 .8 .3 .8 0 .8-1.1 .8 .7 .8 0 .8-.2 .7 .9 .8 0 .8-.2 .8 .1 .8 0 .8-.4 .8-.2 .8-.5 .7-.1 .8 .5 .8 .1 .8 0 .8 .1 .8-.1 .8 .2 .8 .2 .8 .2 .7-.1 .8 0 .8 .5 .8-.1 .8-.1 .8-.2 .8 0 .8-.2 .7-.1 .8-.1 .8-.5 .8 .3 .8 .1 .8 .5 .8 .1 .8 .1 .8 .1 .7-.3 .8-.5 .8-.5 .8 0 .8 0 .8 .7 .8-.3 .8-.7 .7 0 .8-.2 .8 .4 .8 .6 .8 .4" stroke="#A8A8A8" stroke-width="1.1"/></g><line x1="34.25" y1="861.7" x2="579.7" y2="861.7" stroke="#000" stroke-width="3" stroke-linecap="round" stroke-dasharray="1.5 6" clip-path="url(#c4)"/><rect x="35.0" y="632.4" width="544.7" height="232.9" fill="none" stroke="#111" stroke-width="2"/><line x1="28.2" y1="862.0" x2="35.0" y2="862.0" stroke="#111" stroke-width="2"/><text x="12.82" y="869.52" font-size="21" stroke="#000" stroke-width="0.65">0</text><line x1="28.2" y1="829.2" x2="35.0" y2="829.2" stroke="#111" stroke-width="2"/><text x="12.82" y="836.72" font-size="21" stroke="#000" stroke-width="0.65">2</text><line x1="28.2" y1="796.4" x2="35.0" y2="796.4" stroke="#111" stroke-width="2"/><text x="12.82" y="803.92" font-size="21" stroke="#000" stroke-width="0.65">4</text><line x1="28.2" y1="763.6" x2="35.0" y2="763.6" stroke="#111" stroke-width="2"/><text x="12.82" y="771.12" font-size="21" stroke="#000" stroke-width="0.65">6</text><line x1="28.2" y1="730.8" x2="35.0" y2="730.8" stroke="#111" stroke-width="2"/><text x="12.82" y="738.32" font-size="21" stroke="#000" stroke-width="0.65">8</text><line x1="28.2" y1="698.0" x2="35.0" y2="698.0" stroke="#111" stroke-width="2"/><text x="1.14" y="705.52" font-size="21" stroke="#000" stroke-width="0.65"> 0</text><path transform="translate(1.14,705.52) scale(0.01025,-0.00986)" d="M763 0H583V1147Q518 1085 412 1023Q307 961 223 930V1104Q374 1175 487 1276Q600 1377 647 1472H763Z" stroke="#000" stroke-width="0.65"/><line x1="28.2" y1="665.2" x2="35.0" y2="665.2" stroke="#111" stroke-width="2"/><text x="1.14" y="672.72" font-size="21" stroke="#000" stroke-width="0.65"> 2</text><path transform="translate(1.14,672.72) scale(0.01025,-0.00986)" d="M763 0H583V1147Q518 1085 412 1023Q307 961 223 930V1104Q374 1175 487 1276Q600 1377 647 1472H763Z" stroke="#000" stroke-width="0.65"/><line x1="28.2" y1="632.4" x2="35.0" y2="632.4" stroke="#111" stroke-width="2"/><text x="1.14" y="639.92" font-size="21" stroke="#000" stroke-width="0.65"> 4</text><path transform="translate(1.14,639.92) scale(0.01025,-0.00986)" d="M763 0H583V1147Q518 1085 412 1023Q307 961 223 930V1104Q374 1175 487 1276Q600 1377 647 1472H763Z" stroke="#000" stroke-width="0.65"/><line x1="177.0" y1="865.3" x2="177.0" y2="871.3" stroke="#111" stroke-width="2"/><text x="137.88" y="894.00" font-size="20.5" stroke="#000" stroke-width="0.6">2023-07</text><line x1="321.0" y1="865.3" x2="321.0" y2="871.3" stroke="#111" stroke-width="2"/><text x="281.88" y="894.00" font-size="20.5" stroke="#000" stroke-width="0.6">2024-0 </text><path transform="translate(345.72,894.00) scale(0.01001,-0.00963)" d="M763 0H583V1147Q518 1085 412 1023Q307 961 223 930V1104Q374 1175 487 1276Q600 1377 647 1472H763Z" stroke="#000" stroke-width="0.6"/><line x1="465.0" y1="865.3" x2="465.0" y2="871.3" stroke="#111" stroke-width="2"/><text x="425.88" y="894.00" font-size="20.5" stroke="#000" stroke-width="0.6">2024-07</text><text x="0" y="0" transform="translate(306.4,626.3) scale(0.98,1)" font-size="25" font-weight="bold" text-anchor="middle">LINK</text><rect x="48.8" y="645.4" width="9.8" height="8.5" fill="#3a3a3a" stroke="#000" stroke-width="2"/><text x="72.3" y="656.7" font-size="14.5" stroke="#000" stroke-width="0.45">Bitcoin</text><rect x="48.8" y="662.8" width="9.8" height="8.5" fill="#FFA500" stroke="#000" stroke-width="2"/><text x="72.3" y="674.1" font-size="14.5" stroke="#000" stroke-width="0.45">ETH</text><rect x="48.8" y="680.2" width="9.8" height="8.5" fill="#3C78B4" stroke="#000" stroke-width="2"/><text x="72.3" y="691.5" font-size="14.5" stroke="#000" stroke-width="0.45">LINK</text><rect x="48.8" y="697.6" width="9.8" height="8.5" fill="#A0521E" stroke="#000" stroke-width="2"/><text x="72.3" y="708.9" font-size="14.5" stroke="#000" stroke-width="0.45">BAT</text><rect x="48.8" y="715.0" width="9.8" height="8.5" fill="#00A550" stroke="#000" stroke-width="2"/><text x="72.3" y="726.3" font-size="14.5" stroke="#000" stroke-width="0.45">THETA</text><rect x="48.8" y="732.4" width="9.8" height="8.5" fill="#CC2222" stroke="#000" stroke-width="2"/><text x="72.3" y="743.7" font-size="14.5" stroke="#000" stroke-width="0.45">XTZ</text><rect x="48.8" y="749.8" width="9.8" height="8.5" fill="#C8C8C8" stroke="#000" stroke-width="2"/><text x="72.3" y="761.1" font-size="14.5" stroke="#000" stroke-width="0.45">OIL</text>
<line x1="658.5" y1="829.2" x2="1196.0" y2="829.2" stroke="#cfcfcf" stroke-width="1.5" stroke-dasharray="3.6 3.8"/><line x1="658.5" y1="796.4" x2="1196.0" y2="796.4" stroke="#cfcfcf" stroke-width="1.5" stroke-dasharray="3.6 3.8"/><line x1="658.5" y1="763.6" x2="1196.0" y2="763.6" stroke="#cfcfcf" stroke-width="1.5" stroke-dasharray="3.6 3.8"/><line x1="658.5" y1="730.8" x2="1196.0" y2="730.8" stroke="#cfcfcf" stroke-width="1.5" stroke-dasharray="3.6 3.8"/><line x1="658.5" y1="698.0" x2="1196.0" y2="698.0" stroke="#cfcfcf" stroke-width="1.5" stroke-dasharray="3.6 3.8"/><line x1="658.5" y1="665.2" x2="1196.0" y2="665.2" stroke="#cfcfcf" stroke-width="1.5" stroke-dasharray="3.6 3.8"/><g clip-path="url(#c5)" fill="none" stroke-linejoin="round"><path d="M652 861.7l.8-.9 .8-.3 .8 .1 .7 1.4 .8-.7 .8 0 .8-.2 .8 .7 .8-.5 .8 .2 .8 0 .7-.9 .8 .1 .8 0 .8 .5 .8-1 .8 .8 .8 .2 .8-.3 .7 .6 .8 .3 .8-.5 .8 .7 .8-.1 .8-.6 .8 .6 .8-1.2 .7 .7 .8 .2 .8 0 .8-.3 .8-.3 .8 .2 .8 .4 .8 .3 .7-.2 .8-.3 .8 .4 .8-.3 .8 .3 .8-.6 .8 .5 .8-.4 .7-.1 .8 .6 .8-.9 .8 1 .8 0 .8-.1 .8 0 .8-.9 .7-.1 .8 .2 .8 0 .8-.4 .8 .8 .8 .5 .8 0 .7-.8 .8 .3 .8 .5 .8-.5 .8 .1 .8 0 .8-.3 .8 .8 .7 0 .8 0 .8-.4 .8 0 .8-.5 .8 .4 .8 .4 .8 0 .7-.1 .8-.2 .8-.8 .8 1 .8-.1 .8 .1 .8-.5 .8-.3 .7 .2 .8 .2 .8 .5 .8-.5 .8-.3 .8 .5 .8 .2 .8-1.2 .7 .6 .8 .5 .8-.4 .8 0 .8 .4 .8-.9 .8 1.1 .8-.1 .7-.6 .8-.8 .8 1.3 .8 .2 .8-1.1 .8 .3 .8-1.5 .8 1.3 .7 .9 .8-.5 .8-.7 .8 1.1 .8-.4 .8 0 .8 .7 .7-.2 .8 .2 .8-1 .8 .3 .8-.1 .8 .7 .8 0 .8-.6 .7 0 .8 .4 .8-.8 .8 .5 .8 0 .8-.4 .8-.6 .8 .4 .7 .6 .8-.4 .8 .2 .8 .7 .8-1 .8 .7 .8-1.3 .8 .9 .7-.3 .8 .7 .8 .1 .8-.3 .8 .2 .8-.1 .8 .3 .8-.4 .7 .1 .8-.7 .8 .4 .8 .3 .8 .1 .8 .2 .8-.1 .8 .2 .7-.8 .8 .4 .8-.7 .8 .2 .8 .5 .8-.2 .8 .3 .7-.3 .8 .6 .8-.5 .8-.1 .8 .3 .8-.2 .8 .3 .8 0 .7 .2 .8 0 .8-.4 .8 .2 .8-.1 .8 .1 .8-.6 .8 .7 .7-1 .8 .8 .8 .2 .8 .2 .8-.5 .8-.2 .8 .6 .8 0 .7-.7 .8 0 .8 .6 .8-.7 .8 0 .8 .6 .8-1 .8 .7 .7-.8 .8 1.3 .8-.1 .8-.3 .8 .2 .8-.2 .8 .2 .8-.2 .7-1.3 .8 1.2 .8 0 .8-.2 .8-.1 .8 0 .8 .8 .8 0 .7-1.1 .8-.5 .8 1.6 .8 0 .8-.4 .8-1.7 .8 2.2 .7-.5 .8-.2 .8 .4 .8-.6 .8 .4 .8 .5 .8-.5 .8 .3 .7 .2 .8-1.2 .8 1.1 .8-.3 .8-1 .8 .9 .8 .2 .8-.2 .7-.7 .8-.2 .8 1.1 .8-.2 .8-1.1 .8 1.3 .8-.4 .8 .4 .7-.8 .8 0 .8 .9 .8-.1 .8 .1 .8-.2 .8-.2 .8 .4 .7 0 .8-.3 .8-.2 .8 .4 .8 .2 .8-.2 .8-.5 .8 0 .7-.1 .8 .2 .8 .5 .8 .1 .8-.7 .8 0 .8 .4 .8 .2 .7-.8 .8-.1 .8 .3 .8 .6 .8-.5 .8 0 .8 .3 .7 .1 .8-.2 .8 .3 .8-.6 .8 .2 .8 .3 .8 .2 .8 .1 .7-.3 .8-.5 .8 .3 .8-1.2 .8 1.7 .8-.9 .8-.8 .8 1.2 .7-.2 .8 .6 .8-1.5 .8 .6 .8-.2 .8 .1 .8 .6 .8-.1 .7 .6 .8 0 .8-.5 .8 .1 .8 .3 .8-1 .8 .5 .8 .4 .7 .1 .8 0 .8 0 .8-.4 .8 .1 .8 .4 .8-.8 .8 .6 .7-.2 .8-.3 .8-.2 .8 .7 .8-1.2 .8 .6 .8-.1 .8 0 .7 .6 .8-.6 .8 .4 .8 .2 .8-.2 .8-.3 .8 .1 .7 0 .8 .5 .8-1.1 .8 .5 .8 .5 .8-.6 .8 .3 .8 .1 .7 .4 .8-.5 .8 0 .8 .4 .8-.3 .8 .2 .8 0 .8 0 .7-.1 .8 .3 .8-1.1 .8-.7 .8 1.6 .8-.6 .8 .6 .8-.4 .7 .4 .8 0 .8-.4 .8 .2 .8-.1 .8-.6 .8-.3 .8 .7 .7-1.1 .8 1.5 .8 .2 .8 .1 .8-.3 .8-.4 .8 .5 .8-1.1 .7 .4 .8 .7 .8-.1 .8-.4 .8-1.2 .8 1.9 .8-.2 .7 .1 .8-.7 .8 .5 .8-1 .8 .8 .8 .1 .8 .3 .8-.4 .7-.5 .8 .5 .8 .3 .8 .1 .8-.5 .8 .5 .8-.3 .8 .1 .7 .2 .8-1 .8 1.1 .8-.5 .8 .4 .8-.7 .8 .9 .8-.3 .7-1.3 .8 .6 .8 .7 .8-.9 .8 .7 .8 .5 .8-.5 .8 .3 .7-.1 .8-1.1 .8 .3 .8-.9 .8 1.2 .8 .3 .8-.3 .8 .7 .7-.6 .8-.9 .8 .2 .8-.1 .8 .6 .8 .1 .8 0 .8-.1 .7-1 .8 1.7 .8-.1 .8 .2 .8-.3 .8-1.3 .8 1.5 .7-.8 .8 .2 .8-.7 .8 .1 .8 .9 .8 .1 .8 .3 .8 0 .7-.8 .8 .3 .8-.4 .8 .8 .8-1.6 .8 1.5 .8-.4 .8-.3 .7 .1 .8 .5 .8-.4 .8 .1 .8 .3 .8 .2 .8-.8 .8 .7 .7-.9 .8 .6 .8 .4 .8-.2 .8 .4 .8-.1 .8-.6 .8 .4 .7 .2 .8-.2 .8-.4 .8-.1 .8 .4 .8-.1 .8 0 .8-1 .7 .5 .8 .9 .8-1.3 .8-.6 .8 .6 .8 .3 .8 1 .8-.1 .7 .1 .8 0 .8-.3 .8-.4 .8 .7 .8-1 .8 .9 .7-.3 .8 .4 .8-.8 .8 .7 .8 .1 .8-.3 .8-.3 .8-.5 .7 1.1 .8-.2 .8-.6 .8-.6 .8 1.4 .8-.3 .8 .3 .8-.6 .7 .2 .8-.5 .8 .9 .8-.3 .8 .2 .8-1.1 .8 .3 .8 .9 .7-.8 .8-.1 .8 .8 .8 0 .8 0 .8-.7 .8 .8 .8-.4 .7-.9 .8-.5 .8 1.4 .8 0 .8-.5 .8 .2 .8-.1 .8 .2 .7-1.3 .8 1 .8 .4 .8 .1 .8-.4 .8 .7 .8-.3 .8 0 .7-1 .8 .9 .8-.3 .8 .7 .8-.6 .8 .8 .8-.9 .7-.3 .8 1.2 .8-.2 .8-.1 .8-1.1 .8 1.3 .8-.2 .8 0 .7 .2 .8-1.3 .8 1.3 .8-1.1 .8 1.2 .8-.5 .8 .1 .8-.2 .7 .4 .8-.4 .8-1.8 .8 2.2 .8-.7 .8-.3 .8-.1 .8 .8 .7 .1 .8-.7 .8 .7 .8-.6 .8 .1 .8 .5 .8-1.2 .8 1.1 .7 .3 .8-.9 .8-.6 .8 1.1 .8 .3 .8-.6 .8 0 .8 .6 .7-1.1 .8 1 .8-.5 .8-.2 .8 .8 .8-.2 .8-1.1 .7 1.6 .8-.6 .8 .3 .8 .2 .8 0 .8 .1 .8-.1 .8-.2 .7-1.3 .8 1.1 .8 .3 .8 0 .8-1.6 .8 1 .8 .6 .8-.9 .7 .5 .8-.7 .8 1 .8-1 .8 .3 .8 0 .8-.4 .8 .9 .7-.9 .8 1.3 .8-.8 .8-.2 .8 1 .8-.3 .8 .1 .8 .1 .7-.4 .8 .1 .8-.3 .8 .2 .8 .4 .8-.6 .8 .4 .8 0 .7-.1 .8 .5 .8-.2 .8-.4 .8 .4 .8 .2 .8-1.6 .8 1.6 .7-1.1 .8-.6 .8 0 .8 .3 .8 .7 .8-.5 .8 1.1 .7-.4 .8 .5 .8-.1 .8-.3 .8-.1 .8 .1 .8-.5 .8 .3 .7 .2 .8 .3 .8-.9 .8 .3 .8 0 .8-.2 .8 .6 .8-.2 .7-.1 .8 .4 .8-.3 .8 .4 .8-1.5 .8 1.1 .8-.3 .8 .1 .7 .6 .8-.6 .8-.1 .8 .3 .8-1.9 .8 2.2 .8-.5 .8 .3 .7-.6 .8 .8 .8-.1 .8-.5 .8 .5 .8 0 .8-.8 .8 .6 .7-.2 .8-.2 .8 .2 .8 .2 .8 .2 .8-1.5 .8 .8 .8 .8 .7-.5 .8 0 .8-.6 .8 .8" stroke="#2a2a2a" stroke-width="1.7"/><path d="M652 861.7l.8-.3 .8 .5 .8-1.4 .7 .1 .8 .9 .8 .2 .8-1.1 .8 .5 .8 .6 .8 .1 .8-2.4 .7 1.9 .8 .6 .8-.6 .8 .2 .8 .1 .8 0 .8 .2 .8-.2 .7-1.1 .8 1.3 .8-.1 .8-.2 .8 .2 .8-.6 .8 .7 .8-.1 .7-1.9 .8 1.6 .8-.2 .8 .5 .8 .2 .8-.4 .8-.6 .8 .7 .7 .3 .8-.4 .8 0 .8 .5 .8-.4 .8-.2 .8 .5 .8-.8 .7 .3 .8 .2 .8 0 .8-.2 .8 0 .8 .5 .8-.6 .8-.5 .7 .9 .8-1 .8 .7 .8-.4 .8 .1 .8-.4 .8 .5 .7 .3 .8-.9 .8 1.4 .8-.1 .8-.5 .8 0 .8 .2 .8 .3 .7-.5 .8 .3 .8-.2 .8-.6 .8 .3 .8 .6 .8-.2 .8-.4 .7-1.1 .8 1.7 .8-.2 .8-.1 .8-.3 .8 .5 .8-2.3 .8 2.5 .7-.3 .8-.7 .8 .2 .8 .5 .8 .1 .8-.9 .8 .1 .8 .6 .7-.6 .8 .8 .8-.4 .8-.4 .8 .5 .8-1.1 .8 1.5 .8 .1 .7-.1 .8-.3 .8-.9 .8 .6 .8-.2 .8 .5 .8-.2 .8 .1 .7 .1 .8-.8 .8 .6 .8-.5 .8 1 .8-.1 .8-.4 .7 .2 .8-.2 .8-.3 .8-.3 .8 1.1 .8-.4 .8-.1 .8 .3 .7-1.1 .8 .9 .8-.5 .8 .7 .8-.5 .8 .5 .8 .3 .8-.8 .7 .1 .8 .4 .8-.4 .8-.8 .8 1.3 .8-.3 .8-1 .8 .4 .7-.3 .8 1.4 .8-.1 .8-.2 .8-.5 .8-.3 .8 .9 .8-1.4 .7 1.5 .8-1.5 .8 1.6 .8-.1 .8-.6 .8 .8 .8-.1 .8-.2 .7-.6 .8 .7 .8-.4 .8-.3 .8 .9 .8-.3 .8-.4 .7 .6 .8 0 .8 0 .8 0 .8-.2 .8-.8 .8 .4 .8 .2 .7-.4 .8 .3 .8 .5 .8 0 .8-.6 .8-.7 .8 1.2 .8 0 .7 0 .8-.4 .8 .4 .8 .1 .8-.3 .8-1.2 .8 .9 .8-.6 .7 1.1 .8-.4 .8 .4 .8-.8 .8-.2 .8 0 .8 .4 .8-.3 .7 .6 .8-.6 .8 .5 .8-.6 .8 1.1 .8 .1 .8-.4 .8 .1 .7-.9 .8 0 .8 0 .8 .5 .8-.2 .8 .6 .8-.2 .8-.5 .7 1 .8-1.4 .8 .9 .8 .3 .8 0 .8-.6 .8-.3 .7 .2 .8 .6 .8-.6 .8 .6 .8-.5 .8-.7 .8 .8 .8 .7 .7-.2 .8-.7 .8 .8 .8-.1 .8-.9 .8-.1 .8-.2 .8 .8 .7 0 .8-.8 .8-1.4 .8 1.7 .8 .5 .8-1.1 .8 1.4 .8 .2 .7-.3 .8 .4 .8-.5 .8-.3 .8 .8 .8-.1 .8-1.6 .8 1.4 .7-.8 .8 .4 .8 .7 .8-1.6 .8 1.4 .8-.7 .8 .4 .8 .1 .7-.5 .8 .3 .8 .1 .8-.5 .8 .7 .8 .2 .8-.2 .8 .2 .7-.8 .8 .7 .8 .1 .8-1.1 .8 1.2 .8-.4 .8-.3 .7 .6 .8 .1 .8-.6 .8 .5 .8-.5 .8 .4 .8-1.2 .8 1.4 .7-.6 .8 .2 .8-.6 .8 .1 .8 .6 .8-.5 .8-.8 .8 .2 .7-.2 .8 .2 .8 1.1 .8 .3 .8-.7 .8 .5 .8-.3 .8-.1 .7 0 .8 .3 .8-.3 .8-.8 .8 .8 .8-.6 .8 1.1 .8-.1 .7-.5 .8 .3 .8-.3 .8-.5 .8 0 .8 1.1 .8-.7 .8 .4 .7-.3 .8 .1 .8 .1 .8-.5 .8 .3 .8-.2 .8-.7 .8 .9 .7 .1 .8 .4 .8-.3 .8 .1 .8-.5 .8 .6 .8 .2 .7 0 .8 0 .8 0 .8-.3 .8 .2 .8-.6 .8 .7 .8-1.4 .7 .8 .8-1.3 .8 1.6 .8-.2 .8-.7 .8 1.2 .8-1.1 .8 .3 .7 .3 .8 .3 .8 0 .8-.9 .8 .2 .8 .8 .8 0 .8-.4 .7 .5 .8-.4 .8-.5 .8 0 .8 .2 .8 .2 .8-.4 .8 .7 .7 .3 .8-.1 .8-.3 .8-.4 .8 .6 .8-.6 .8 .6 .8-.7 .7-.4 .8 .5 .8 .8 .8-.1 .8 0 .8-.3 .8-1.1 .7 .6 .8 .6 .8 .1 .8-.8 .8 .6 .8 .2 .8 .2 .8-.7 .7 .1 .8 .4 .8-.3 .8-.8 .8 .3 .8 .2 .8 .4 .8-.3 .7 .7 .8-.3 .8-.6 .8 .3 .8 0 .8-1 .8 .9 .8 .3 .7 .1 .8 .1 .8 0 .8-.1 .8-1.7 .8 1.7 .8-.6 .8 .5 .7-.2 .8 .1 .8 .4 .8-.8 .8 .3 .8 .2 .8 .1 .8-.9 .7 .6 .8 .5 .8-.3 .8 .1 .8-.5 .8-.1 .8 .1 .8-.3 .7 1.1 .8-1 .8 .2 .8 .7 .8 0 .8-.9 .8 .6 .7-.3 .8-.2 .8 .4 .8 .3 .8-.2 .8-1.2 .8 .5 .8 .1 .7 .4 .8 .5 .8-.3 .8-.2 .8-.7 .8 .6 .8-.7 .8 .7 .7 .5 .8-.3 .8-.4 .8-.5 .8 .8 .8-.8 .8 1.3 .8-1.4 .7 1.1 .8-.4 .8-.1 .8 .4 .8 0 .8-.3 .8 .1 .8 .1 .7 .6 .8-1.2 .8 1.2 .8-1.4 .8 1.1 .8 .1 .8-.7 .8 .4 .7-.2 .8 .6 .8-1.1 .8 .2 .8 .3 .8 .7 .8-.8 .8-.1 .7 .7 .8 0 .8-.1 .8-.8 .8 .8 .8-.3 .8 0 .7 .2 .8-.4 .8 .5 .8-.2 .8-.6 .8 .3 .8 .6 .8 0 .7 .2 .8-.5 .8-1.7 .8 1.7 .8 .1 .8 .1 .8-.8 .8 .7 .7 .4 .8-1.2 .8 .6 .8 .6 .8-.2 .8-.3 .8-.5 .8 .6 .7-.7 .8-.2 .8-.3 .8 1.1 .8-.5 .8 .4 .8 .6 .8-.1 .7-.8 .8 .6 .8-.5 .8 .5 .8-.2 .8-.4 .8-.2 .8 .8 .7-.1 .8 .2 .8 .2 .8-.7 .8 .1 .8 .2 .8 .4 .8-.8 .7-.1 .8 .5 .8 .2 .8-.7 .8-.1 .8 .2 .8-.2 .7 .4 .8 0 .8-.6 .8-.6 .8 .8 .8 .9 .8-.3 .8-.5 .7 .9 .8-.4 .8 .3 .8-.2 .8-.9 .8 .7 .8 0 .8 .2 .7-1.4 .8-.1 .8 .7 .8 .8 .8-.2 .8 .4 .8 0 .8-1.9 .7 1.7 .8-.3 .8 .4 .8-.6 .8-.8 .8 1 .8 .3 .8-.6 .7-.3 .8 .7 .8-.2 .8 .3 .8 .4 .8-.7 .8 .4 .8-.5 .7 .3 .8 .4 .8-.6 .8-.2 .8 .6 .8-.9 .8 .6 .7 .5 .8-.2 .8-.1 .8-.4 .8-.4 .8 1 .8-.2 .8 .1 .7 .1 .8-.1 .8 0 .8-.1 .8 0 .8-.7 .8 .7 .8 .1 .7 .2 .8-.1 .8-.8 .8 .7 .8-.3 .8 .2 .8-.1 .8 .3 .7-.3 .8 .1 .8 .3 .8-.1 .8-.5 .8 .7 .8 0 .8-.7 .7 .5 .8-.2 .8 .2 .8-.7 .8 .8 .8-1.1 .8 .9 .8-.5 .7-1 .8 1.4 .8 .3 .8 0 .8-.2 .8 .1 .8-.6 .8 .8 .7-.3 .8 .3 .8-1.6 .8 1.2 .8-.8 .8 .9 .8 .2 .7 .1 .8-.7 .8-.6 .8-.3 .8 1.5 .8-.6 .8-.6 .8 .2 .7 1 .8-1.8 .8 1.3 .8 .2 .8 0 .8-.6 .8-.1 .8 0 .7 .5 .8 0 .8 .5 .8 0 .8-.8 .8 .7 .8-.4 .8 0 .7 .2 .8 0 .8-.1 .8-2 .8 1.2 .8 .6 .8-.1 .8 .3 .7 .1 .8-.5 .8-.6 .8 1.3 .8-.8 .8 .7 .8-.4 .8 .5 .7-.8 .8 .4 .8 .3 .8-.6 .8 .6 .8 .2 .8-.8 .8-.4 .7-.3 .8 1.3 .8-1.1 .8 .4" stroke="#F2A000" stroke-width="1.7"/><path d="M652 861.2l.8-.1 .8 .8 .8-.3 .7 .2 .8-.4 .8 .5 .8-.2 .8 .1 .8-.1 .8 .1 .8-.2 .7 .3 .8-.8 .8 .7 .8-.1 .8-.8 .8 .6 .8 .3 .8 .1 .7-.4 .8-.3 .8 .4 .8-1.1 .8 1.4 .8-.7 .8 .4 .8 .1 .7-.1 .8 .1 .8-.3 .8-.1 .8 0 .8 .3 .8-.1 .8 .1 .7 .2 .8-1.3 .8 1.4 .8-.3 .8 .2 .8-.7 .8-.4 .8 .8 .7 .4 .8 .1 .8-.8 .8 .3 .8-.5 .8 .3 .8-.4 .8 .9 .7-.1 .8-.6 .8 .5 .8-.2 .8 .6 .8-.1 .8-.4 .7-.6 .8 .7 .8-.6 .8-.1 .8 .5 .8 0 .8 .1 .8-.1 .7-.3 .8 .4 .8 0 .8-.1 .8-.7 .8 1.2 .8-1.6 .8 1.3 .7-.4 .8 .5 .8-.3 .8-.2 .8 .2 .8 .6 .8-1.4 .8 1.4 .7-1.3 .8 .6 .8 .3 .8 0 .8-.1 .8-.2 .8-.1 .8 .7 .7-1.2 .8 .6 .8-.2 .8-.1 .8 .7 .8-.5 .8 .7 .8-.3 .7-.6 .8-.1 .8-.2 .8 .6 .8 .7 .8-.9 .8 .1 .8 0 .7 .8 .8-.4 .8-.6 .8 .7 .8-.7 .8 1 .8-.3 .7-.1 .8 0 .8-.1 .8 .1 .8 .1 .8-.7 .8 .9 .8-.8 .7 .6 .8-.2 .8 .3 .8-.9 .8 .6 .8-.2 .8-.7 .8 1.3 .7-.8 .8 .3 .8-.1 .8-.6 .8-.8 .8 1.6 .8 .1 .8 .3 .7-.9 .8 .8 .8-.7 .8 0 .8 .1 .8 .3 .8 .3 .8-.1 .7 .2 .8 0 .8-.1 .8-.3 .8-.4 .8 .1 .8 .6 .8 .1 .7 0 .8-.5 .8 0 .8 .1 .8-.8 .8 .9 .8-.1 .7 0 .8-.1 .8 .3 .8-.4 .8 .6 .8-.7 .8 0 .8 .4 .7-.2 .8 .1 .8-.2 .8-.2 .8 0 .8 .6 .8 .1 .8-1 .7 .9 .8-.1 .8-.5 .8-.4 .8 1 .8 .1 .8-.2 .8 .2 .7-.7 .8 0 .8-.5 .8 1.4 .8-.6 .8 .1 .8 .2 .8-.9 .7 1 .8-1.2 .8 1 .8 0 .8-1 .8 1.2 .8-.5 .8 .3 .7-.4 .8-.8 .8 1 .8 .6 .8-1.8 .8 1.7 .8 .1 .8 0 .7-.2 .8-.1 .8-.3 .8 .3 .8 0 .8 0 .8-.2 .7-1 .8 .8 .8-.1 .8 .7 .8-.7 .8 .7 .8-.8 .8 .5 .7-.6 .8-.6 .8 1.4 .8 0 .8-1.6 .8 1.7 .8-.6 .8 .6 .7 0 .8 0 .8-1.3 .8 .7 .8 .2 .8-.5 .8 .2 .8 .4 .7-.1 .8 .3 .8-.2 .8-.4 .8 .2 .8 .3 .8-.4 .8-.1 .7 .1 .8 .2 .8-.8 .8 .4 .8 0 .8 .7 .8-.5 .8 .1 .7-.7 .8 .8 .8 .3 .8-.4 .8-.3 .8 .5 .8 0 .8-.7 .7 .2 .8 .8 .8-.4 .8-.7 .8 .8 .8-.8 .8-.3 .7-.2 .8 .5 .8 .8 .8-.6 .8 .4 .8 .3 .8-.7 .8 .2 .7 .2 .8 .2 .8 0 .8-1 .8 .5 .8 .6 .8-1.3 .8 1.2 .7-.2 .8-.4 .8-.3 .8 1.2 .8-.7 .8-.1 .8 .4 .8-.8 .7 .3 .8 .4 .8 .3 .8-.4 .8 .6 .8 .1 .8-1 .8 .9 .7-.3 .8-.6 .8 .6 .8-.2 .8 .5 .8 .1 .8-1.5 .8 .7 .7 .6 .8 0 .8-1.5 .8 1.1 .8-.3 .8-.9 .8 .8 .8 .2 .7 .2 .8 .6 .8-2 .8 1.8 .8-.3 .8-.6 .8 .8 .7-1.7 .8 .9 .8 .3 .8-.4 .8 .7 .8 0 .8-.3 .8-.3 .7 .6 .8 .3 .8-.4 .8 0 .8-.9 .8 1.5 .8-1.2 .8 .3 .7 0 .8 .2 .8 .5 .8-.4 .8-.3 .8 .8 .8-.2 .8 .1 .7-1.3 .8 1.4 .8 .1 .8-.4 .8 0 .8 0 .8 .1 .8 0 .7-.4 .8 .2 .8 .2 .8-.4 .8-.8 .8 1.5 .8-.4 .8-.6 .7 .3 .8 .2 .8 .2 .8 0 .8-.3 .8 .5 .8-.2 .7-.5 .8 .8 .8-.6 .8 .4 .8-2.1 .8 2.2 .8 0 .8-.2 .7-.3 .8-.9 .8 1 .8-1.4 .8 1.8 .8-.9 .8 .9 .8-.4 .7 .4 .8-1 .8 1 .8-1.4 .8 0 .8 1 .8 .3 .8-1 .7-.1 .8 .9 .8-.2 .8 .1 .8 0 .8-.2 .8-.1 .8 .5 .7 .1 .8-.5 .8-.7 .8 1.1 .8 .3 .8-.4 .8 0 .8-.6 .7 1 .8-.1 .8-1.3 .8 1.2 .8 .1 .8-.1 .8-.7 .8-.8 .7 1.3 .8-.1 .8-.9 .8 1.3 .8-.3 .8 0 .8 .4 .7-.6 .8-1.3 .8 1.2 .8 .1 .8-.1 .8 .5 .8-.3 .8 0 .7-.5 .8 .5 .8-1.7 .8 1.8 .8-.2 .8-.3 .8 .4 .8-.2 .7 0 .8-.6 .8-.5 .8 1.7 .8-.4 .8-.1 .8-.4 .8 .4 .7-.2 .8-.7 .8 .5 .8 .2 .8 .2 .8 .5 .8-.6 .8 .4 .7-1.6 .8 .9 .8 .6 .8 0 .8 .3 .8-.9 .8 .7 .8-1.5 .7 .8 .8 0 .8 .7 .8 .1 .8-.7 .8 .3 .8-.9 .8 1.4 .7-1 .8-.1 .8 .7 .8-.4 .8 .6 .8 .1 .8-1 .7 .9 .8-.7 .8 .6 .8 0 .8 .1 .8-.6 .8 .9 .8-.2 .7-.4 .8-1 .8 1.5 .8-.6 .8 .2 .8 .1 .8 0 .8 .1 .7-.9 .8 .6 .8-1.1 .8 1.3 .8 .3 .8-.3 .8 0 .8 .1 .7 .2 .8-.1 .8-.2 .8-1.2 .8 1.5 .8-1.6 .8 1 .8 .1 .7 0 .8 .5 .8 0 .8-1.4 .8 1.3 .8-.1 .8 0 .8-.9 .7 0 .8 .7 .8-.3 .8-.9 .8 1.4 .8 0 .8 .2 .8-.5 .7 .4 .8 0 .8-1.1 .8 1.1 .8 0 .8-.7 .8 .1 .7-.8 .8 0 .8 .4 .8 .4 .8 .6 .8-.4 .8-.9 .8 1.4 .7-.8 .8 .6 .8-.3 .8 .1 .8 .2 .8-.2 .8 .4 .8-1 .7 .6 .8-.3 .8 .3 .8 .3 .8-.5 .8-.8 .8 1 .8 .4 .7-.2 .8-.6 .8 .8 .8-.2 .8 .1 .8-.6 .8 .7 .8-1.1 .7 .6 .8 .4 .8 .2 .8-1.4 .8 .1 .8-.3 .8 .5 .8 1 .7 0 .8-1.2 .8 .2 .8 0 .8-.8 .8 1.3 .8-.9 .7 1 .8 .3 .8-.1 .8-.6 .8 .9 .8-.7 .8 .4 .8 .1 .7-.1 .8-.4 .8 .2 .8 .1 .8 0 .8 .2 .8-.1 .8-.6 .7 .7 .8-.3 .8 .2 .8-1.3 .8 .8 .8-.6 .8 1.2 .8 0 .7 .1 .8-.7 .8 .7 .8 .1 .8-1.2 .8 1.2 .8-.5 .8 .2 .7-.7 .8 .4 .8 .5 .8-.5 .8-.6 .8 .7 .8-.6 .8 .7 .7 .4 .8-.2 .8-1.1 .8 .6 .8 .4 .8-.7 .8-.7 .8 1.5 .7 .2 .8-.4 .8-.6 .8-.5 .8 1.4 .8-2.2 .8 2.2 .7-1.6 .8-.4 .8 1.3 .8-1.2 .8 1.8 .8-1.1 .8 1 .8-1 .7-1 .8 1.7 .8-.6 .8 1.1 .8-1.4 .8 1.3 .8-1.3 .8 .9 .7 0 .8 .3 .8 .1 .8-.4 .8 .2 .8-.4 .8 .1 .8-.4 .7 .4 .8 .1 .8 .3 .8-.1 .8-.9 .8-.4 .8 1 .8 .5 .7-.9 .8 1.1 .8 0 .8-1.2 .8 .5 .8 .1 .8-.7 .8 .9 .7-.6 .8 .7 .8-1.1 .8 1.1 .8 0 .8-.5 .8 .1 .8-1.1 .7 1.7 .8-1.1 .8 1.2 .8-.7" stroke="#2F6EAA" stroke-width="1.7"/><path d="M652 860.6l.8-2.7 .8-10.7 .8 13.4 .7-10.4 .8 7.9 .8 1.1 .8 1.6 .8 .6 .8-.1 .8 .7 .8-2.2 .7 1 .8 1.2 .8 0 .8-1.9 .8 .4 .8 1.5 .8-2.6 .8-.1 .7-.4 .8 1.5 .8-.2 .8-2.1 .8 2 .8 .8 .8-.4 .8 1.4 .7-36 .8 32.2 .8 2 .8 1.6 .8 .3 .8-1.8 .8 1.5 .8-41.5 .7 37.8 .8 4 .8-18.9 .8 11.8 .8 7.1 .8 0 .8-1.2 .8 .1 .7-.8 .8-8.1 .8 7.3 .8-3 .8 3.9 .8 1.8 .8-8.2 .8 6.7 .7-7.8 .8 8.2 .8-3 .8-.3 .8 1.7 .8-4.2 .8 3.2 .7 3.6 .8 .1 .8-.3 .8-.7 .8-.4 .8-16.6 .8 16.7 .8-.2 .7-.9 .8 1 .8-13.4 .8 11.9 .8-44.7 .8 47.6 .8-29.5 .8 28.6 .7 .9 .8-.7 .8 .7 .8-14.8 .8 9.3 .8 4.2 .8-.7 .8 1.9 .7-.2 .8 .3 .8-.8 .8 .4 .8-2.4 .8-15.2 .8 13.5 .8-20.1 .7 24.6 .8-2.4 .8-9.6 .8 10 .8-6.9 .8 8.8 .8 .1 .8 0 .7-2.6 .8 .4 .8-.3 .8 .8 .8-.5 .8 .2 .8-12.3 .8 13.2 .7-29.2 .8 18.7 .8 9.4 .8 1.7 .8-.8 .8-1.2 .8 1.4 .7-3.3 .8 4.4 .8-.6 .8-.7 .8-8.5 .8 9.5 .8-14.1 .8 10.3 .7-6.6 .8 10.7 .8-.4 .8 0 .8-1.7 .8-3.2 .8-8.6 .8 13.1 .7 .7 .8-2.8 .8 2.9 .8-1.2 .8-1.3 .8-1.4 .8 3.2 .8-4.1 .7 4.6 .8-.5 .8-7.3 .8 5.7 .8 1.3 .8-.9 .8 1.2 .8 .7 .7-2 .8 2 .8-9.8 .8 9 .8-.8 .8-8.5 .8 6.5 .8 3.6 .7-2.5 .8 1.3 .8-2.4 .8 2.3 .8-13.5 .8 14.4 .8 .4 .7-.4 .8-3.3 .8-2.7 .8-2.6 .8 6.5 .8 2 .8 .5 .8 0 .7-9.4 .8-8.6 .8 18 .8-.5 .8-.7 .8 .6 .8-.9 .8 1.5 .7-4.4 .8-4.6 .8 6.4 .8 2.6 .8 0 .8-2.5 .8 0 .8 2.5 .7-1 .8-.8 .8-12.8 .8 14.6 .8-5 .8 4.3 .8-18.2 .8 18.9 .7-6.6 .8 6.6 .8 0 .8-2.2 .8 1.8 .8-5.8 .8 4.9 .8 .1 .7 1.1 .8-14.7 .8 13.7 .8-2.3 .8 .7 .8 2.7 .8-1 .8 1 .7-.2 .8-4.2 .8 4.1 .8-12 .8 11.2 .8 1.1 .8-.3 .7-6.2 .8 6.5 .8-.7 .8-4 .8 4.7 .8-1 .8-.7 .8-.4 .7-3.8 .8 5.4 .8-18.4 .8 18.9 .8-10.3 .8 9.1 .8-7.6 .8 8.5 .7-2.9 .8-2 .8 5.2 .8-7.4 .8 7.4 .8-2.4 .8 2.4 .8-8.2 .7 5.9 .8 1.2 .8-2.5 .8 3.3 .8-7.3 .8 7.3 .8-1.8 .8 .8 .7-7.2 .8 8.5 .8-1.7 .8-8.3 .8 7.5 .8 .2 .8 1.8 .8-2 .7-1.3 .8-4.4 .8 2.9 .8 5.3 .8-.5 .8-1.4 .8 1.9 .8-4.3 .7 3 .8 1.3 .8-7 .8-6.6 .8 4.3 .8 7.5 .8 1.3 .7 .5 .8-6.1 .8-8.7 .8 14.8 .8 0 .8 0 .8 0 .8-2.3 .7-6.7 .8 7.9 .8 1 .8-.5 .8-7.5 .8-1 .8 5.8 .8-11.5 .7 13.7 .8-3 .8 4.1 .8-.4 .8-.3 .8-2.6 .8 .9 .8 2.4 .7 0 .8-6.4 .8 5.6 .8-1.1 .8 1.9 .8-8.5 .8 3.8 .8 4.3 .7 .3 .8-.9 .8-.7 .8 1.7 .8 0 .8 0 .8-11.5 .8 9.4 .7 .6 .8 1.5 .8-6.7 .8-.8 .8 5.6 .8 .9 .8-13.8 .8-11.4 .7 23.3 .8-16.8 .8 18.4 .8-6.9 .8 2.9 .8 4.3 .8-3.5 .7 3.4 .8-2.2 .8 2.2 .8-.4 .8 1.5 .8 0 .8-21.3 .8 15.4 .7-3.2 .8 9.1 .8-6.6 .8 6.6 .8 0 .8-18.9 .8 18.9 .8 0 .7-2.6 .8 2 .8-4.4 .8 2.8 .8 2.2 .8-1.6 .8-.1 .8 1.7 .7-1.5 .8-.6 .8-.3 .8 2.2 .8 .2 .8-2.4 .8 2 .8-2.8 .7-.7 .8-1.4 .8-3.2 .8-14.1 .8 7.8 .8 10.4 .8 3 .8-1.7 .7 1.4 .8-2 .8-6.7 .8 10.4 .8-2.7 .8 2.2 .8-1.8 .7-.3 .8 2.6 .8-11.6 .8 11.2 .8-1 .8-2.2 .8 2.9 .8 .7 .7-6.3 .8 6.3 .8 0 .8-.5 .8-2.1 .8 2.6 .8-14.8 .8 7.3 .7 3.2 .8 2.4 .8 .6 .8-1 .8 .3 .8-6.2 .8-.6 .8 6.9 .7-1.4 .8 2.9 .8-1.6 .8-1.7 .8 3.7 .8-8.3 .8-.6 .8 6.1 .7 2.6 .8-.3 .8 .5 .8-2.6 .8 2.6 .8-2.5 .8 1 .8 1.5 .7-.3 .8 .3 .8 0 .8-4 .8 4 .8-1.1 .8-.6 .8-11.8 .7-.3 .8 13 .8 .4 .8 .4 .8-21.3 .8 21.3 .8-13.6 .7 12 .8 .5 .8-12.3 .8 12.5 .8 .8 .8-1.1 .8-3.7 .8 3.1 .7 .9 .8 .8 .8-1.2 .8-1.3 .8-1.8 .8 4.4 .8-.6 .8-1.4 .7-2.6 .8 2.1 .8-.7 .8 2.8 .8 0 .8-17 .8 17.4 .8-.7 .7 .7 .8-3 .8-.6 .8 3.6 .8 0 .8-.3 .8-14.5 .8 14.8 .7-10.9 .8 7.9 .8 3 .8-1.5 .8-3.4 .8-1.1 .8 4.5 .8 1.5 .7-.4 .8 .4 .8-1.6 .8 1.6 .8-10.5 .8 8.7 .8-12 .8 12.8 .7-2.1 .8 3.1 .8-2.6 .8 2.6 .8 0 .8 0 .8-2 .7 1 .8 .8 .8-2.4 .8 1.4 .8 1.2 .8 0 .8-.3 .8-.2 .7 .5 .8 0 .8-2.6 .8 1.6 .8-9.5 .8 10.5 .8 0 .8 0 .7 0 .8-.2 .8-8.8 .8 7.2 .8 .2 .8 1.6 .8-5.6 .8 5.6 .7-2 .8-2.1 .8 3.4 .8-.7 .8 .5 .8-.5 .8 1.4 .8-1.1 .7 1.1 .8 0 .8-2.2 .8-1.7 .8 2.5 .8-2.7 .8 .8 .8 3.3 .7-14.8 .8 14.8 .8 0 .8-2.3 .8 2.2 .8-.5 .8-2.1 .8 0 .7 2 .8-8 .8-3.6 .8 12.3 .8 0 .8-8.4 .8 1.8 .7 4.4 .8 1 .8 1.2 .8-.4 .8 .4 .8-2.5 .8 2.5 .8-2.2 .7-7.7 .8 7.8 .8 1.2 .8 .3 .8-.6 .8-.7 .8-1.9 .8-1 .7 2.6 .8 .6 .8 1.3 .8-2.8 .8 2.9 .8 .2 .8-3.5 .8 2.2 .7-4.9 .8 5.1 .8 .4 .8-1.4 .8-12.7 .8 6.8 .8 6.2 .8 1 .7-1.2 .8 0 .8-8.7 .8 10.7 .8-.7 .8-3.7 .8 .2 .8-24.2 .7 28.4 .8-43.3 .8 28.5 .8 13 .8 1.4 .8 .2 .8 0 .7-15.4 .8 15.6 .8 0 .8-4.5 .8 4.5 .8-16.4 .8 16.4 .8-3 .7 2.9 .8-1.2 .8-.6 .8-3.8 .8 3 .8 2.3 .8 .4 .8-18.9 .7 4.1 .8 13.8 .8-13.8 .8 12.4 .8 1.9 .8-1.7 .8 2.2 .8-.9 .7-4.7 .8-19 .8 24.6 .8 0 .8-1.5 .8 1.5 .8 0 .8-1.2 .7-7.1 .8-3.2 .8 11.5 .8-.1 .8 .1 .8-1.3 .8 1.3 .8-.1 .7-.6 .8-.9 .8 .5 .8-3 .8 2.9 .8-3.7 .8 3.1 .8 1.8 .7-2.3 .8-7.5 .8 9.8 .8-2.4 .8 .3 .8 2.1 .8 0 .7-1.2 .8-2.3 .8-11.3 .8 13.4 .8-1.5 .8 2.9 .8-3.1 .8-5.1 .7-4.9 .8 13.1 .8-2.9 .8-1.9 .8-.3 .8 5.1 .8-.6 .8-3.1 .7 3.2 .8-3.8 .8 3.7 .8 .6 .8-6.6 .8 5.1 .8 0 .8 .2 .7-.7 .8 1.6 .8-4.9 .8 1.5 .8-5.7 .8 9.5 .8-7.5 .8 .6 .7 6.9 .8 0 .8-10.8 .8 8.2 .8-5.3 .8 2 .8 5.9 .8-1 .7-.1 .8-4.8 .8 .6 .8 2.5 .8 2.8 .8-7.3 .8-52.1 .8 51.9 .7-20.9 .8 28.4 .8-2.5 .8-1.9" stroke="#9B4A12" stroke-width="1.7"/><path d="M652 860.7l.8 .8 .8 .1 .8 .1 .7 .2 .8 0 .8-2.1 .8 1.6 .8-1.5 .8 2 .8-1.2 .8 .9 .7-5.2 .8-1.9 .8 3.1 .8-1.8 .8-1.7 .8 .1 .8 1.8 .8 .8 .7-2.2 .8-.5 .8 3.4 .8-.7 .8-.3 .8 .6 .8-1.3 .8-.4 .7-1 .8 .6 .8-.1 .8-.1 .8 6.4 .8 .5 .8 .2 .8-4.6 .7-3.6 .8 2.4 .8 .9 .8-2.8 .8 1.4 .8 5.5 .8-.1 .8 .9 .7-1.2 .8 1.1 .8-.5 .8 .5 .8-.7 .8 .4 .8 .4 .8-1.2 .7 .8 .8-.2 .8-.2 .8 .7 .8-1.9 .8 .6 .8 .3 .7 .1 .8-.1 .8 .1 .8 1 .8-1.5 .8 1.5 .8-.6 .8-.4 .7 .8 .8-.7 .8 .1 .8-.2 .8 .4 .8-.3 .8 .1 .8 .4 .7-.6 .8 .3 .8 .3 .8-1 .8 .6 .8 .6 .8-1.7 .8 1.5 .7-.2 .8 0 .8 0 .8 .1 .8 0 .8 .4 .8-.2 .8-.2 .7 .5 .8-.5 .8 .2 .8 .2 .8-.7 .8-1.7 .8 .8 .8-.2 .7 1.8 .8-.6 .8 .6 .8 .2 .8-.2 .8-.8 .8-1.9 .8-.3 .7-.2 .8-1.3 .8 0 .8 .6 .8 3.5 .8 .4 .8-1.3 .7 1.2 .8 0 .8-.1 .8 .3 .8-.1 .8-.7 .8-.1 .8 .7 .7-.3 .8-.4 .8 .6 .8-.1 .8-.6 .8-.2 .8 .2 .8 .1 .7 .7 .8-1.1 .8 1 .8-.7 .8 .1 .8 .6 .8-.7 .8 .2 .7-.5 .8 1.2 .8 .1 .8-2.6 .8 1.9 .8 .3 .8-.5 .8 .3 .7 .4 .8-.6 .8 .3 .8-.2 .8-.1 .8 .4 .8-.1 .8 .5 .7-.4 .8 .4 .8-.9 .8-.3 .8-.4 .8 1.5 .8-2 .7 2.1 .8-.4 .8-.5 .8 .4 .8 .4 .8-.1 .8-1.6 .8 .9 .7-.3 .8 .9 .8-.6 .8-.9 .8 1.7 .8-2.1 .8 2.1 .8-1.2 .7 1 .8-.5 .8 .6 .8 0 .8-1.7 .8 1.8 .8-.9 .8 .6 .7-1.1 .8-1.3 .8 1 .8 1 .8 .8 .8-1.6 .8 .4 .8 .7 .7-.7 .8 .8 .8-1.7 .8 1.6 .8-1.1 .8 .5 .8 1.2 .8-.1 .7-.5 .8-.7 .8-1.7 .8 1.4 .8 1.5 .8-.8 .8 .6 .8-.6 .7-2.3 .8 3 .8 .2 .8-1.2 .8 .8 .8-.7 .8 .7 .7-.8 .8 .3 .8-.8 .8 .9 .8-.1 .8-.5 .8-.2 .8 1.2 .7-.3 .8-.7 .8-.2 .8 .4 .8 .1 .8 .7 .8 .1 .8-3.3 .7 3.3 .8 .1 .8-1.9 .8 2 .8-.8 .8 .5 .8-.6 .8 1 .7-.7 .8-.9 .8 1.3 .8-.1 .8-.1 .8-.6 .8-.3 .8 .4 .7-1.6 .8 1.9 .8-.9 .8 1.1 .8-.4 .8-.5 .8 .2 .8 .8 .7-.1 .8 .2 .8-.8 .8 .9 .8 .1 .8-.8 .8 .3 .8 0 .7-.5 .8 0 .8-.5 .8 1.1 .8 .5 .8-1 .8 .6 .7-.7 .8 .3 .8 .5 .8-.3 .8-.7 .8 1.1 .8-.3 .8-.3 .7 .6 .8 .1 .8-.1 .8-.9 .8 1.1 .8-.3 .8-1.3 .8 1 .7-.9 .8 1.1 .8-1.3 .8 .6 .8 .7 .8 .1 .8-.5 .8-.3 .7 1.1 .8-.3 .8-.4 .8 .1 .8-.1 .8 .6 .8-.5 .8 .3 .7-.2 .8 .2 .8-.7 .8 .6 .8-1.3 .8 .6 .8 .1 .8 1 .7-1 .8 .9 .8-.5 .8-1.4 .8 .5 .8 .5 .8-.3 .8 .7 .7-.5 .8 1.1 .8-.1 .8-1.3 .8 1.3 .8 0 .8-1.5 .7 1 .8-.1 .8 .6 .8-.8 .8-.7 .8 1.4 .8-1 .8 .3 .7 .6 .8-.2 .8-1.7 .8 1.4 .8 .5 .8-.3 .8-3.1 .8-1 .7 .5 .8 1.3 .8-2.4 .8 2 .8-1.5 .8-.7 .8 2.5 .8-.2 .7-1.4 .8-.2 .8-.5 .8 .9 .8-.9 .8 2 .8 .4 .8-1.3 .7-.9 .8 1 .8 .4 .8-.1 .8-1.2 .8 1.3 .8 3.2 .8-.9 .7 .3 .8 .5 .8-.5 .8 .1 .8 .8 .8 .1 .8-1 .7-.4 .8-1 .8 1.8 .8 0 .8 .2 .8 0 .8-.8 .8 .8 .7 0 .8-.9 .8-.2 .8 .7 .8 .7 .8-.3 .8 0 .8-.4 .7 .4 .8-.8 .8-.2 .8 1.2 .8-.3 .8-.5 .8 .4 .8 .7 .7-.9 .8 .9 .8-2.6 .8 1.5 .8 .4 .8 .4 .8-.3 .8-.8 .7 .7 .8 .1 .8-.2 .8 .6 .8 .1 .8-.8 .8-.8 .8 1.6 .7-.4 .8-.7 .8 .8 .8-.4 .8-7.9 .8 2.3 .8-2.2 .8 3.2 .7-1.2 .8 .7 .8 .6 .8 .4 .8-1 .8 .3 .8-2.6 .7 .4 .8 2.3 .8-1.3 .8 5.3 .8 1.1 .8-1 .8 1.2 .8-.1 .7 .1 .8 .1 .8-.9 .8 .2 .8 0 .8-1.1 .8-.3 .8 1.7 .7 .1 .8-.7 .8-.5 .8-.5 .8 1.7 .8 .3 .8 .1 .8-.6 .7 .5 .8-1.7 .8 1.7 .8-.6 .8-1 .8 1.6 .8 0 .8-1 .7 .7 .8 0 .8 0 .8-.5 .8-1 .8 1.1 .8-.2 .8 .6 .7 .1 .8-.5 .8-.8 .8 1.2 .8-.4 .8-.7 .8 1.4 .8-.7 .7 .8 .8-1 .8 .6 .8-1.2 .8 .6 .8 0 .8 .1 .7-1.8 .8 2.2 .8-.5 .8 .8 .8-.5 .8-.3 .8 1 .8-.7 .7 .3 .8 .2 .8-.6 .8 .7 .8-4.7 .8 1.3 .8-.9 .8 .7 .7-.5 .8 1 .8-.5 .8-.6 .8 .1 .8 1.5 .8-1.4 .8 .1 .7 2.4 .8 .5 .8-.3 .8 .7 .8-.1 .8-.6 .8 .1 .8 .7 .7-.1 .8-.1 .8 .6 .8-.5 .8-.3 .8 .9 .8-1 .8 .7 .7 .1 .8 .3 .8-.5 .8-.2 .8-1.2 .8 1.2 .8-.9 .8-.6 .7 1.3 .8 .8 .8-.7 .8 .7 .8 0 .8 .1 .8-.4 .7 .4 .8-.9 .8-.4 .8 1.3 .8-.1 .8 .1 .8-.8 .8 .6 .7-1.4 .8 .5 .8 .9 .8-.5 .8 .6 .8-1 .8 .7 .8-1.3 .7 .7 .8 .1 .8 .2 .8 0 .8-.1 .8 .8 .8-1.5 .8 .5 .7 .3 .8-.4 .8-1.1 .8 1.8 .8 0 .8-.7 .8-.5 .8 .7 .7-.7 .8 1.1 .8 0 .8-1.2 .8 1.3 .8-7 .8 .3 .8 .4 .7 1.8 .8-.8 .8 1.5 .8-2 .8-1.8 .8 3.2 .8-.6 .7-2.4 .8 2.3 .8-.6 .8 1.6 .8-3.2 .8 3.6 .8-2.5 .8-1.4 .7 1.9 .8 1 .8-2.7 .8 3.3 .8-1.8 .8 6.2 .8-.1 .8 .2 .7-1.3 .8 .5 .8 .6 .8 0 .8-1.8 .8-3.7 .8 1.3 .8-.3 .7-1.5 .8 2.4 .8-.3 .8-1.7 .8 2.5 .8-.2 .8 .2 .8-.7 .7-1.1 .8-1.1 .8 2.3 .8 3.2 .8-.2 .8 .4 .8-1.3 .8 .8 .7-1.2 .8 2 .8-.1 .8-2 .8 1.8 .8-.9 .8 .8 .8-.5 .7 .3 .8-.2 .8-.5 .8 .5 .8 0 .8 .4 .8 .5 .7 0 .8-.1 .8-1.9 .8 1.5 .8 .3 .8-.1 .8-.5 .8-.4 .7 .6 .8-.7 .8 .3 .8-.2 .8 .4 .8-.7 .8 1.4 .8-.8 .7-.1 .8-.1 .8 .7 .8-2 .8 1.7 .8 0 .8 .5 .8-.9 .7 .8 .8-.5 .8 .7 .8-.3 .8 .4 .8-.9 .8 .6 .8-.4 .7 .3 .8 .4 .8-.5 .8 .2 .8-.1 .8-.2 .8-.2 .8 .1 .7 .6 .8-.4 .8 .4 .8-1 .8 1.1 .8-.9 .8 .6 .8-.7 .7 .7 .8 .1 .8-1.3 .8 1.1" stroke="#008F45" stroke-width="1.7"/><path d="M652 861.8l.8-.7 .8 .6 .8 .2 .7-.9 .8 .4 .8 .3 .8 .2 .8-.3 .8-.2 .8 0 .8-1.3 .7 1.6 .8-1.2 .8 1.4 .8-1.2 .8 .2 .8 .2 .8 .2 .8 .2 .7 .3 .8-.4 .8-.4 .8 .4 .8-.2 .8-.3 .8-1 .8 1.2 .7 .5 .8-2.7 .8 2.2 .8 .8 .8-.8 .8 .4 .8-.7 .8 .8 .7-1 .8 1.4 .8-.1 .8-.4 .8 .1 .8-1.6 .8 1.7 .8-.1 .7-1.1 .8 1.3 .8 0 .8-1.3 .8 1.2 .8-.5 .8-.3 .8 .5 .7 .6 .8-1.1 .8 1.1 .8-.7 .8-.8 .8 .8 .8 .4 .7-.2 .8 .4 .8-.3 .8-1.3 .8 1.3 .8-.5 .8-.1 .8-.2 .7 1.1 .8 0 .8-1.4 .8 .9 .8-.6 .8 .8 .8 .1 .8-.3 .7 .4 .8 .1 .8-1.6 .8 1.5 .8-1.1 .8 1.1 .8-.6 .8 .8 .7-.4 .8 .2 .8-.9 .8 .9 .8-.7 .8 .1 .8 .2 .8 .5 .7-.3 .8-.8 .8 .9 .8 0 .8 0 .8-.2 .8-1 .8 1.2 .7-1.7 .8 1 .8 .7 .8 .2 .8-.3 .8 .2 .8-.4 .8-.2 .7 .6 .8 .1 .8-1.8 .8 1.5 .8 .3 .8-.7 .8 .3 .7 0 .8-.3 .8 .5 .8 .1 .8-.3 .8-.5 .8 0 .8 .8 .7-.4 .8 .2 .8-.8 .8 .7 .8 .2 .8-.4 .8-.1 .8-.3 .7 .6 .8-.8 .8 .9 .8-.9 .8 .9 .8-.7 .8 .1 .8-.4 .7 1.3 .8-1.3 .8 0 .8 1 .8 .4 .8-.9 .8-.3 .8 .5 .7-.9 .8 1 .8 .3 .8 0 .8-.5 .8-1.5 .8 2 .8-1.2 .7 1.3 .8 .1 .8-.9 .8 .9 .8-.6 .8 .2 .8-.4 .7 .5 .8-.2 .8 .3 .8-.2 .8 .1 .8-1.6 .8 .6 .8 1 .7 .3 .8 0 .8-.2 .8-.6 .8 .6 .8-1.1 .8 0 .8 1 .7-.5 .8 .9 .8-.2 .8-.4 .8 .3 .8-.2 .8 .3 .8-.1 .7 .1 .8-.1 .8 0 .8-.9 .8 0 .8 .2 .8 .6 .8 .3 .7-.7 .8 .4 .8-1 .8 1 .8-.2 .8-.9 .8 .7 .8 .3 .7-.4 .8 .2 .8 .7 .8-.2 .8 .1 .8 0 .8-.1 .8 .1 .7-1.5 .8-.1 .8 0 .8 1.3 .8 .2 .8-.7 .8-.1 .7 0 .8 .8 .8-.1 .8 .2 .8-1.1 .8 1 .8-.9 .8 .8 .7 0 .8-.6 .8-.7 .8 1.3 .8 .1 .8-.1 .8 .2 .8-1 .7-.1 .8-.3 .8 .5 .8 .1 .8 .8 .8-.6 .8-.5 .8 1.1 .7-1.2 .8 1 .8-.8 .8-.2 .8 1.3 .8-.3 .8-.5 .8 .6 .7-.6 .8-.4 .8 .7 .8-1.6 .8 2.1 .8-.8 .8-.8 .8 1.5 .7 0 .8-.2 .8-.2 .8 0 .8 .1 .8 .4 .8-.4 .8 .3 .7-.4 .8 0 .8 .4 .8-1.1 .8 .9 .8-.4 .8 .1 .7 0 .8 .1 .8-.4 .8-.8 .8 .4 .8 .4 .8 .4 .8 .3 .7 .1 .8-.2 .8 .2 .8-.3 .8 .4 .8-.5 .8 .2 .8 0 .7-.8 .8 .9 .8-1.6 .8 1.1 .8 .7 .8-.4 .8-.3 .8-.6 .7 .5 .8 .6 .8 0 .8-.1 .8-1.3 .8 .8 .8-.1 .8 .2 .7-1.2 .8 1.2 .8-.5 .8 1.2 .8-1 .8-.4 .8 .3 .8-.5 .7 1.4 .8-.8 .8 .6 .8-.2 .8 0 .8 .1 .8 .2 .8 .3 .7-.8 .8-.2 .8 .5 .8-.3 .8 .5 .8-.5 .8-.1 .7 .6 .8-.1 .8-.2 .8-.3 .8 .6 .8 .2 .8-.2 .8-.6 .7 0 .8 .5 .8 .3 .8-.2 .8-.1 .8-.6 .8 .2 .8 .8 .7-.2 .8 .2 .8-.8 .8 .5 .8 .2 .8 0 .8-.3 .8 0 .7 .1 .8-.1 .8 .2 .8-.4 .8 0 .8 .1 .8-.7 .8 .5 .7-.9 .8 1.3 .8 .2 .8-.6 .8 .5 .8-.5 .8-.6 .8 .6 .7 .6 .8-.9 .8-.1 .8 .8 .8-1 .8-.2 .8 .7 .7-1.1 .8 1.7 .8-.2 .8-.4 .8 .8 .8-.8 .8 .7 .8-1.1 .7 .9 .8-.5 .8 .7 .8 0 .8-.4 .8 .5 .8-.5 .8 0 .7-.2 .8 .6 .8-.9 .8-.6 .8-.1 .8 .9 .8 .3 .8-1.2 .7 1.3 .8 .4 .8-1.3 .8 .4 .8 .4 .8 .2 .8-.2 .8-.1 .7 .6 .8-.6 .8 .3 .8-.2 .8 .1 .8-.6 .8 .8 .8-.1 .7 .2 .8-.1 .8 .2 .8 0 .8-.1 .8-.6 .8 .4 .8-.8 .7 .4 .8 .6 .8-.3 .8-.2 .8 .1 .8 .3 .8-.4 .7 .4 .8-.1 .8 .3 .8-1 .8 .6 .8-.6 .8-.3 .8 .4 .7 .5 .8 .2 .8-.9 .8 .9 .8-1.1 .8 0 .8 .8 .8 .1 .7-.3 .8 .6 .8-1.1 .8 .6 .8-.3 .8 .5 .8-.9 .8 .5 .7 .7 .8-.2 .8 0 .8-.3 .8-1.5 .8 .7 .8 .3 .8-.2 .7 1.1 .8-.8 .8 .3 .8-.1 .8 .5 .8 .1 .8-.3 .8 .3 .7-.7 .8 .7 .8-1 .8 0 .8 .9 .8-.7 .8 .4 .8 .6 .7-.2 .8 .1 .8-1.4 .8 1.3 .8 .1 .8-.1 .8-.1 .7-.7 .8 .8 .8 .1 .8-.3 .8 .3 .8-.4 .8-1.3 .8 .7 .7 .8 .8-.2 .8-.1 .8-.5 .8-.1 .8 .8 .8 .1 .8-1.2 .7 1.4 .8-.6 .8 .1 .8 .5 .8 0 .8 .1 .8-.1 .8-.9 .7 .4 .8-.1 .8-.1 .8-.8 .8-1 .8 2 .8-2.1 .8 2.6 .7-1.4 .8 1.4 .8-.6 .8-1.5 .8 1.8 .8 .3 .8-.6 .8 .3 .7-.6 .8 .1 .8 .4 .8-.9 .8 .8 .8-1.2 .8 .7 .8-.1 .7 .2 .8 .4 .8-.6 .8 .3 .8-.4 .8 1.2 .8-.1 .7 .1 .8-1.3 .8 .5 .8 .3 .8-.8 .8 0 .8 .6 .8 .7 .7-.5 .8 .5 .8-.1 .8-1.2 .8 1.1 .8-.7 .8 0 .8-.2 .7 .7 .8 .4 .8-.9 .8 .2 .8 .8 .8-.1 .8-1.3 .8 .6 .7 0 .8-.2 .8 .5 .8-.7 .8-.2 .8 1.1 .8 .2 .8-.1 .7 0 .8 0 .8-.2 .8-.9 .8 .6 .8 0 .8 .6 .8-.2 .7-.3 .8-.5 .8 1 .8-.8 .8 .4 .8-.7 .8 0 .7 .7 .8 0 .8-.1 .8-.1 .8 .4 .8-.5 .8 .1 .8-.2 .7 .7 .8-.3 .8 .3 .8-.4 .8 .4 .8-.4 .8 .1 .8 .3 .7-1.8 .8 1.2 .8-1 .8 1.1 .8 .5 .8-.9 .8 .8 .8 0 .7 0 .8-1 .8 .2 .8 .2 .8 .4 .8-.3 .8 .6 .8-.5 .7-.9 .8 1.1 .8 .5 .8-1 .8 .7 .8-.3 .8-.5 .8 .8 .7 0 .8-.2 .8 .2 .8-.2 .8 .2 .8-.3 .8-.2 .8-.3 .7 .8 .8 .1 .8-.7 .8 .1 .8 0 .8 .3 .8-.7 .7 .6 .8-1.1 .8 .8 .8-.3 .8 1.1 .8-.6 .8-.7 .8 .4 .7-.4 .8 .2 .8 .5 .8 .5 .8-2.4 .8 1.7 .8-.2 .8 .6 .7-.1 .8 .2 .8 .1 .8-1.1 .8 .4 .8-.9 .8 1.2 .8 .5 .7 .1 .8-.8 .8 .2 .8-.9 .8 .7 .8 .2 .8 .3 .8-.3 .7-1.4 .8 2.1 .8-.2 .8-.2 .8 .3 .8-.8 .8 .7 .8 0 .7 0 .8-.5 .8 .5 .8-.4 .8-.7 .8 1.3 .8-1 .8 .2 .7 .4 .8 0 .8 0 .8-.1" stroke="#BE1B1E" stroke-width="1.7"/><path d="M652 794.8l.8 .1 .8 .9 .8 1.2 .7 3.1 .8-.2 .8 2.7 .8-.4 .8-1 .8 7.1 .8-1 .8 1.4 .7-1.5 .8 1.4 .8 1 .8 .3 .8 1.4 .8-1.2 .8 .9 .8 0 .7 1.7 .8 2.2 .8 1.5 .8 1.2 .8-.5 .8 .2 .8 2.4 .8 .7 .7-4.4 .8 .1 .8 1.9 .8-4.5 .8 2.2 .8-.5 .8-2.9 .8-.7 .7-2.7 .8 1.5 .8-1.1 .8 6.9 .8-3.9 .8 1.5 .8 2.3 .8 1.5 .7-1.6 .8 1.5 .8 .6 .8-2 .8 2 .8-2 .8 2.4 .8-1.3 .7 4.9 .8 1.9 .8-4.5 .8-2 .8 5.4 .8-1.4 .8-1 .7 1.6 .8 .9 .8 .3 .8 1.6 .8-.6 .8-3.9 .8 5.4 .8-.6 .7 1.5 .8-4.1 .8 .3 .8-7.2 .8-9.5 .8-7.2 .8 .1 .8-1.1 .7 1.7 .8-1.1 .8 .8 .8 .1 .8 2.5 .8-2.2 .8 .4 .8 .4 .7 2.1 .8-2.8 .8 .9 .8-1.3 .8-5 .8-.2 .8 0 .8-2.8 .7-5.5 .8 5.6 .8 .4 .8-.6 .8 7.5 .8-.9 .8 3.1 .8 1.6 .7-.9 .8 7.1 .8-4.9 .8 4.3 .8-.3 .8 2.2 .8-2.5 .8 1.3 .7-.4 .8 1.3 .8 2.1 .8-.9 .8 2.6 .8-.6 .8-1 .7 .1 .8-1.5 .8-.4 .8 1.4 .8 .6 .8-2.7 .8-5 .8-5.6 .7-4 .8-5.8 .8 1.9 .8-.7 .8 0 .8 1.5 .8 .7 .8 6.3 .7-1.8 .8 4.4 .8-3.2 .8-1.7 .8 4.8 .8 .5 .8 2.9 .8 .9 .7-3.6 .8 6.6 .8-.8 .8 .9 .8-2.1 .8 2.6 .8-1.6 .8 .7 .7-1.5 .8-3.2 .8 .9 .8-3.6 .8 2.9 .8-2.5 .8-.6 .8 .1 .7 3.8 .8-.9 .8 2.9 .8-1.1 .8 5.1 .8-1.1 .8-1.4 .7-4.9 .8-3.1 .8-1.2 .8-.9 .8 1 .8-1.3 .8-2.4 .8 1.1 .7 2.3 .8-4.1 .8 1.7 .8-.2 .8 1.4 .8 .3 .8 3.7 .8-1 .7 2.1 .8 3.7 .8-1.5 .8-2 .8 5 .8 1 .8 0 .8-1.1 .7-.4 .8 4 .8-1 .8 1.2 .8 1.9 .8-1.9 .8-.4 .8 2.6 .7-2.3 .8 1.6 .8 1.7 .8-.3 .8 .5 .8-2.8 .8 1.8 .8 1.4 .7 2.7 .8 .5 .8-.4 .8-.2 .8-.1 .8 0 .8 1.7 .8 .2 .7-2.9 .8 4.1 .8 0 .8 1.1 .8 .8 .8-2.2 .8 3.4 .7-.4 .8-1.7 .8 0 .8 .2 .8 0 .8 .4 .8 1.2 .8 3.6 .7-3.1 .8 .8 .8 1 .8-.5 .8-2 .8 1.7 .8-.7 .8 2.3 .7-1.4 .8 2.1 .8 2.3 .8-4.6 .8 3.5 .8 1.4 .8-1.9 .8 2.2 .7-1.1 .8 .1 .8-.7 .8 2.2 .8-3.6 .8 1.6 .8 2.3 .8-.4 .7-.6 .8-.1 .8 3.3 .8 .8 .8-2.5 .8 .9 .8 .1 .8 1.6 .7-2.3 .8 .7 .8-.4 .8-.1 .8 2.4 .8 .9 .8 4.1 .8-5.2 .7-1.1 .8 2.1 .8 .9 .8-2.3 .8-1.4 .8-1.3 .8 1.1 .7 .4 .8-1 .8-1.6 .8 1.3 .8-6 .8-14 .8-2.9 .8-2.1 .7 2.1 .8-5.4 .8-1.6 .8 .8 .8-3.7 .8-3.1 .8 .5 .8 2 .7-.7 .8-.1 .8 4 .8 .7 .8 2.9 .8-1.6 .8 1 .8 .5 .7 1.9 .8-4 .8 1.3 .8-1.2 .8-1.4 .8 .5 .8 .1 .8-2.7 .7 3 .8-.3 .8-1.7 .8-.8 .8 0 .8 1.8 .8 .4 .8-1.9 .7-.9 .8-4.3 .8 .4 .8-.3 .8 1 .8-1.8 .8 1.4 .8-.7 .7-2.3 .8-5.4 .8 5.3 .8-.5 .8 5.1 .8 .1 .8 4.4 .7 3.3 .8 .4 .8-1.5 .8-.2 .8 .4 .8-2.1 .8 5.4 .8-2 .7-4.1 .8 3.9 .8-1 .8-.2 .8-.6 .8 .8 .8-1.4 .8-1.2 .7 2.5 .8-3 .8 2.4 .8-3.8 .8 1.4 .8 1.7 .8 .4 .8 1.5 .7-.7 .8 5.3 .8-1.6 .8 .2 .8 3.5 .8-.1 .8 2.6 .8-.2 .7-1.1 .8 3.8 .8 2.4 .8-3.6 .8 1.7 .8 0 .8-2.4 .8-1.5 .7 .3 .8 2.2 .8-4.5 .8 .3 .8 4 .8-5.8 .8 2.7 .7-2.2 .8 2 .8 .7 .8 .4 .8 1 .8-.5 .8 1.3 .8 2.8 .7-1.4 .8 .1 .8 2.5 .8-.3 .8 3.7 .8-4.1 .8 2.1 .8 0 .7 1.2 .8-3.6 .8 2 .8-2.9 .8 3.7 .8-2.1 .8 1.6 .8-.6 .7-.8 .8-.5 .8 1.3 .8 1.4 .8-2.5 .8 1.4 .8-4.1 .8 2.5 .7-.3 .8 2.2 .8 .1 .8-3.1 .8 4.3 .8 1.1 .8 2.3 .8-3.9 .7-.2 .8 3 .8-1 .8 .5 .8 3.8 .8-4 .8 2.6 .8-1.7 .7 .5 .8 2.4 .8-3.6 .8 3.9 .8 1.7 .8-4 .8 2.9 .7 1.8 .8 1.8 .8-4.4 .8 2.8 .8-.2 .8-.8 .8-1.5 .8 6.6 .7-2.3 .8-.6 .8 .3 .8 .4 .8-2.8 .8 1.8 .8-1.8 .8-.5 .7 2.3 .8-4 .8 1.1 .8-.8 .8 .6 .8 3.2 .8-1.5 .8-3.2 .7 3.2 .8 1.6 .8 2.1 .8-2.9 .8 .4 .8 1.2 .8-.9 .8 2.6 .7 1.6 .8-1.5 .8-.3 .8-2.4 .8 5.2 .8-2.1 .8-3.8 .8 2.2 .7 1.9 .8 1 .8-.3 .8-.5 .8-.3 .8 1.2 .8 2.3 .8 .1 .7-.7 .8-3.6 .8 1.8 .8-1.9 .8 1.7 .8-3 .8 .9 .7 1.1 .8 .5 .8-4.3 .8 4.3 .8-4.9 .8 2.7 .8-1.7 .8 1.1 .7 .8 .8 .6 .8-1.3 .8 1.2 .8-.1 .8-.3 .8 .2 .8 .2 .7 2 .8 2.1 .8-1 .8-2.6 .8 4.1 .8-2 .8-.5 .8 1.6 .7-.9 .8-1.7 .8 .6 .8-1.6 .8 1.9 .8 1.3 .8-.5 .8 1.8 .7-.7 .8-3.2 .8 .6 .8 0 .8-.8 .8 0 .8 .4 .8-4.2 .7 1.8 .8-.3 .8-1.5 .8-1.7 .8-2.2 .8 3 .8-1.2 .8-1.2 .7 2.3 .8-3.1 .8 3 .8-.2 .8 2 .8-3.2 .8 .6 .7 1.4 .8 1.5 .8-1.4 .8 .6 .8 1.3 .8-1.8 .8 2.9 .8 1.9 .7-6.3 .8 2.5 .8 2.7 .8-.9 .8-1.5 .8 2.3 .8-1.3 .8 4.9 .7-3.1 .8 .3 .8 2.3 .8-3.5 .8 .6 .8 3 .8 1.5 .8 .3 .7-3.8 .8 3 .8-.2 .8-.2 .8-7.1 .8-.7 .8 1.8 .8-1.7 .7-3 .8 0 .8 1.6 .8-4.8 .8-.7 .8-3.9 .8-1.8 .8-1.3 .7 0 .8-3.5 .8 .7 .8 2.7 .8-2.3 .8 1.2 .8-1.1 .7 .5 .8-1.3 .8-.6 .8 2.6 .8-1.5 .8 .2 .8 .4 .8-.4 .7 0 .8-3.7 .8 2.7 .8-1.6 .8-.2 .8-1.5 .8 .6 .8 1 .7-1 .8-.3 .8-2.5 .8 .8 .8-1.3 .8-.1 .8 .9 .8-5.7 .7 2.2 .8-1.4 .8 1.8 .8-2.4 .8 .2 .8 2.3 .8-4.5 .8 1.3 .7-1 .8-4.3 .8 1.7 .8 1.4 .8 .6 .8 1.4 .8 1.2 .8-1.1 .7 1.1 .8 .8 .8 5.7 .8-2.8 .8-.6 .8 5.9 .8-4.5 .8 1.9 .7 1.5 .8 .1 .8 1.6 .8-1.3 .8 2 .8-2.8 .8 .6 .7 2.8 .8-4.1 .8-1.9 .8 .4 .8-1.5 .8 .3 .8-6.1 .8-.7 .7-.7 .8 1.9 .8-1 .8-.6 .8-8 .8 .9 .8-1.6 .8 2.9 .7-1 .8 2.8 .8 2.4 .8 1.9 .8 .3 .8-1.7 .8-3.3 .8 2.6 .7-2.8 .8-1.3 .8 1 .8-5.3 .8-3.4 .8 7.3 .8 1.3 .8-1.4 .7 6.6 .8-1.5 .8 1.7 .8 1 .8 3.7 .8-2.3 .8 .7 .8 1.2 .7 3.1 .8 1.7 .8-.7 .8-.5 .8 4.3 .8-2.7 .8 1.5 .8-.4 .7 1.7 .8 2.3 .8-2.7 .8 2.4" stroke="#A8A8A8" stroke-width="1.1"/></g><line x1="651.25" y1="861.7" x2="1196.0" y2="861.7" stroke="#000" stroke-width="3" stroke-linecap="round" stroke-dasharray="1.5 6" clip-path="url(#c5)"/><rect x="652.0" y="632.4" width="544.0" height="232.9" fill="none" stroke="#111" stroke-width="2"/><line x1="645.2" y1="862.0" x2="652.0" y2="862.0" stroke="#111" stroke-width="2"/><text x="627.82" y="869.52" font-size="21" stroke="#000" stroke-width="0.65">0</text><line x1="645.2" y1="829.2" x2="652.0" y2="829.2" stroke="#111" stroke-width="2"/><text x="627.82" y="836.72" font-size="21" stroke="#000" stroke-width="0.65">2</text><line x1="645.2" y1="796.4" x2="652.0" y2="796.4" stroke="#111" stroke-width="2"/><text x="627.82" y="803.92" font-size="21" stroke="#000" stroke-width="0.65">4</text><line x1="645.2" y1="763.6" x2="652.0" y2="763.6" stroke="#111" stroke-width="2"/><text x="627.82" y="771.12" font-size="21" stroke="#000" stroke-width="0.65">6</text><line x1="645.2" y1="730.8" x2="652.0" y2="730.8" stroke="#111" stroke-width="2"/><text x="627.82" y="738.32" font-size="21" stroke="#000" stroke-width="0.65">8</text><line x1="645.2" y1="698.0" x2="652.0" y2="698.0" stroke="#111" stroke-width="2"/><text x="616.14" y="705.52" font-size="21" stroke="#000" stroke-width="0.65"> 0</text><path transform="translate(616.14,705.52) scale(0.01025,-0.00986)" d="M763 0H583V1147Q518 1085 412 1023Q307 961 223 930V1104Q374 1175 487 1276Q600 1377 647 1472H763Z" stroke="#000" stroke-width="0.65"/><line x1="645.2" y1="665.2" x2="652.0" y2="665.2" stroke="#111" stroke-width="2"/><text x="616.14" y="672.72" font-size="21" stroke="#000" stroke-width="0.65"> 2</text><path transform="translate(616.14,672.72) scale(0.01025,-0.00986)" d="M763 0H583V1147Q518 1085 412 1023Q307 961 223 930V1104Q374 1175 487 1276Q600 1377 647 1472H763Z" stroke="#000" stroke-width="0.65"/><line x1="645.2" y1="632.4" x2="652.0" y2="632.4" stroke="#111" stroke-width="2"/><text x="616.14" y="639.92" font-size="21" stroke="#000" stroke-width="0.65"> 4</text><path transform="translate(616.14,639.92) scale(0.01025,-0.00986)" d="M763 0H583V1147Q518 1085 412 1023Q307 961 223 930V1104Q374 1175 487 1276Q600 1377 647 1472H763Z" stroke="#000" stroke-width="0.65"/><line x1="794.0" y1="865.3" x2="794.0" y2="871.3" stroke="#111" stroke-width="2"/><text x="754.88" y="894.00" font-size="20.5" stroke="#000" stroke-width="0.6">2023-07</text><line x1="938.0" y1="865.3" x2="938.0" y2="871.3" stroke="#111" stroke-width="2"/><text x="898.88" y="894.00" font-size="20.5" stroke="#000" stroke-width="0.6">2024-0 </text><path transform="translate(962.72,894.00) scale(0.01001,-0.00963)" d="M763 0H583V1147Q518 1085 412 1023Q307 961 223 930V1104Q374 1175 487 1276Q600 1377 647 1472H763Z" stroke="#000" stroke-width="0.6"/><line x1="1082.0" y1="865.3" x2="1082.0" y2="871.3" stroke="#111" stroke-width="2"/><text x="1042.88" y="894.00" font-size="20.5" stroke="#000" stroke-width="0.6">2024-07</text><text x="0" y="0" transform="translate(923.0,626.3) scale(0.98,1)" font-size="25" font-weight="bold" text-anchor="middle">OIL</text><rect x="665.2" y="645.4" width="9.2" height="8.5" fill="#3a3a3a" stroke="#000" stroke-width="2"/><text x="686.3" y="656.7" font-size="14.5" stroke="#000" stroke-width="0.45">Bitcoin</text><rect x="665.2" y="662.8" width="9.2" height="8.5" fill="#FFA500" stroke="#000" stroke-width="2"/><text x="686.3" y="674.1" font-size="14.5" stroke="#000" stroke-width="0.45">ETH</text><rect x="665.2" y="680.2" width="9.2" height="8.5" fill="#3C78B4" stroke="#000" stroke-width="2"/><text x="686.3" y="691.5" font-size="14.5" stroke="#000" stroke-width="0.45">LINK</text><rect x="665.2" y="697.6" width="9.2" height="8.5" fill="#A0521E" stroke="#000" stroke-width="2"/><text x="686.3" y="708.9" font-size="14.5" stroke="#000" stroke-width="0.45">BAT</text><rect x="665.2" y="715.0" width="9.2" height="8.5" fill="#00A550" stroke="#000" stroke-width="2"/><text x="686.3" y="726.3" font-size="14.5" stroke="#000" stroke-width="0.45">THETA</text><rect x="665.2" y="732.4" width="9.2" height="8.5" fill="#CC2222" stroke="#000" stroke-width="2"/><text x="686.3" y="743.7" font-size="14.5" stroke="#000" stroke-width="0.45">XTZ</text><rect x="665.2" y="749.8" width="9.2" height="8.5" fill="#C8C8C8" stroke="#000" stroke-width="2"/><text x="686.3" y="761.1" font-size="14.5" stroke="#000" stroke-width="0.45">OIL</text>
<line x1="41.5" y1="1130.5" x2="579.7" y2="1130.5" stroke="#cfcfcf" stroke-width="1.5" stroke-dasharray="3.6 3.8"/><line x1="41.5" y1="1098.0" x2="579.7" y2="1098.0" stroke="#cfcfcf" stroke-width="1.5" stroke-dasharray="3.6 3.8"/><line x1="41.5" y1="1065.5" x2="579.7" y2="1065.5" stroke="#cfcfcf" stroke-width="1.5" stroke-dasharray="3.6 3.8"/><line x1="41.5" y1="1033.0" x2="579.7" y2="1033.0" stroke="#cfcfcf" stroke-width="1.5" stroke-dasharray="3.6 3.8"/><line x1="41.5" y1="1000.5" x2="579.7" y2="1000.5" stroke="#cfcfcf" stroke-width="1.5" stroke-dasharray="3.6 3.8"/><line x1="41.5" y1="968.0" x2="579.7" y2="968.0" stroke="#cfcfcf" stroke-width="1.5" stroke-dasharray="3.6 3.8"/><g clip-path="url(#c6)" fill="none" stroke-linejoin="round"><path d="M35 1088.8l.8-.4 .8-10 .8 3.5 .8 4.5 .7 11.6 .8 2.4 .8-11.3 .8-87.2 .8 10.3 .8 3.6 .8-7.5 .8 12.2 .7-9.6 .8-3.2 .8 6.4 .8 .3 .8-8.4 .8 7.2 .8 .7 .8 5.7 .8 10.1 .7-4.9 .8 8.1 .8 5.2 .8 3.8 .8 7.7 .8-7.8 .8 15.5 .8-5.7 .7 .7 .8-38.9 .8 9.9 .8 31.6 .8-3.1 .8 7.5 .8-19.7 .8-.3 .8 33.5 .7 1 .8-31.3 .8 .5 .8-4.2 .8 13.4 .8 9.8 .8-7.3 .8 8.9 .7 19.4 .8-25.4 .8 8.5 .8 4.6 .8 4.2 .8 1.1 .8 .1 .8 .3 .8-41.6 .7 21.5 .8-10 .8 3 .8 8.1 .8 3.9 .8 .4 .8-8.4 .8 .6 .7 13.4 .8-4.7 .8 12.8 .8-3 .8 10.2 .8-5.8 .8 7.1 .8 3.2 .8-7.5 .7 3.9 .8-6.4 .8 5.4 .8-.3 .8 3.8 .8-4.6 .8-13.8 .8 5.3 .8 4.1 .7 1 .8 8.6 .8-6 .8 8.9 .8-.4 .8-11.7 .8 26.2 .8-4.4 .7-19.8 .8 3.4 .8 2.8 .8-6 .8 4.7 .8 10.8 .8-4.8 .8-.9 .8 3.8 .7 2 .8 4.5 .8 17.7 .8-1.7 .8 1.4 .8-14.4 .8 2.9 .8-.2 .7-2.2 .8 .9 .8-40.6 .8 8.4 .8-9.4 .8-2.2 .8 7.4 .8 1.1 .8 5.6 .7 3.2 .8 1.3 .8 5.6 .8-9.8 .8 2.9 .8 10.6 .8-4.9 .8 5.6 .7 .2 .8-.4 .8 .5 .8-3 .8 5.5 .8-4.4 .8 5.6 .8-.6 .8-1.3 .7 17 .8 1.4 .8-2.3 .8-1.6 .8-12.2 .8 3.5 .8-5.7 .8 5.2 .7-.6 .8-3.9 .8 .2 .8 5.9 .8-4.8 .8 5.5 .8-22.3 .8-5 .8 5.1 .7 3.3 .8-46.8 .8 9 .8-2.5 .8-6.5 .8 14 .8-19.3 .8 11.2 .7 4.1 .8 2.2 .8-4.2 .8 6.7 .8-5.1 .8 13 .8-1.3 .8-4.6 .8 19.3 .7-3.9 .8 1 .8-12.8 .8 6.1 .8 6.9 .8 .1 .8 3.7 .8 8.6 .7 1.8 .8-5 .8 12.7 .8-7.5 .8-14.5 .8 19.7 .8-.5 .8-20 .8 3.8 .7 6 .8 3.5 .8 .3 .8 5.1 .8 4.1 .8-1.4 .8 5.6 .8-32 .7-7.2 .8 15.8 .8-22.4 .8 5.9 .8 8.9 .8-1.9 .8 7.1 .8 .8 .8 15.4 .7-9.5 .8 9.3 .8-8.7 .8 2 .8 5.9 .8 3.9 .8-.2 .8-.1 .8 3.9 .7 16.7 .8-.3 .8-5.9 .8-5.5 .8-.9 .8-.6 .8-3.7 .8-.6 .7 2.9 .8-2.7 .8 14.6 .8 2.5 .8 3.3 .8-23.2 .8 11 .8-7.6 .8 5.5 .7-3 .8-11.8 .8-2.1 .8 5.3 .8-.7 .8 2.6 .8 5.7 .8-3.7 .7-.5 .8 3.5 .8 2.1 .8-16.9 .8 11.1 .8-3.3 .8 3.6 .8 15.8 .8-1 .7-6.8 .8-14 .8-10.6 .8 10.1 .8 .6 .8-.3 .8 .5 .8 7.8 .7-4.1 .8 4.7 .8 .5 .8 3.4 .8 7.2 .8 4.5 .8-10.7 .8 .5 .8-2.4 .7 .6 .8-3.2 .8 3.6 .8-2.8 .8 5.9 .8 15.7 .8-21.2 .8-14.5 .7 3.7 .8 6.2 .8 4.5 .8-7.1 .8 .1 .8-3.7 .8 6.1 .8 4.6 .8 0 .7 1.5 .8-6.2 .8 19.3 .8 4 .8-7.9 .8 8.8 .8 1.3 .8-.9 .7-13.6 .8 6.3 .8 3.7 .8-2.7 .8 4.4 .8-4.9 .8 0 .8 2.3 .8 14.7 .7-20.9 .8-18.3 .8 9.1 .8 1 .8 0 .8 1.6 .8 1.8 .8 1.6 .7-.1 .8 4.3 .8 .9 .8 .7 .8 4.4 .8-2.2 .8 1.7 .8 .5 .8 1.5 .7 2.4 .8 1.1 .8-2.7 .8 9.1 .8-13.9 .8-1.9 .8 1.6 .8-3.8 .7 .9 .8-2.1 .8 6.9 .8 1.1 .8-10.5 .8 5.2 .8 1.7 .8-3.9 .8 1 .7-12.3 .8-14.2 .8 9.3 .8-7.5 .8 .4 .8 8.7 .8 5.3 .8-16.1 .7 9.7 .8 .2 .8-5.2 .8 21.6 .8-6.5 .8-11.5 .8 1.9 .8-14.8 .8 11.9 .7-11.2 .8 14.4 .8-1.1 .8-2.7 .8 9.4 .8 6.3 .8-32.3 .8 2.9 .8 2 .7 9.8 .8-1.6 .8 0 .8-1.5 .8 1.8 .8 4 .8 1 .8-4.8 .7 8.4 .8 8.3 .8-3.5 .8-11 .8 4.7 .8 7.1 .8-6.5 .8-2 .8 1 .7 3.2 .8-1.8 .8 5.1 .8-1.1 .8 .6 .8 12.9 .8-10.7 .8-6.8 .7 4.7 .8 2.9 .8-2.3 .8-2 .8 1.2 .8-2.8 .8 2.8 .8 2.3 .8-3 .7-30.6 .8 11.9 .8 5.1 .8-5.8 .8 1.7 .8 7.2 .8 14.8 .8 4.6 .7-18.9 .8 8.6 .8-1.5 .8 .1 .8 .4 .8-11.7 .8 8.5 .8 5.8 .8 .5 .7-9 .8 10.5 .8 3.4 .8-15 .8 5.2 .8-2.2 .8 4.9 .8 .7 .7 2.8 .8-3.6 .8-3.8 .8 12.3 .8 1.9 .8-6.4 .8-6.5 .8-2 .8 1.7 .7-6.1 .8 4.7 .8-1.6 .8 11.9 .8-.4 .8-11.1 .8-9.7 .8-.9 .7-5.4 .8 2.3 .8-.9 .8 1.7 .8-2.8 .8-3.3 .8-.1 .8-3.5 .8 24.5 .7 4.3 .8-30.7 .8-2.2 .8-12.5 .8 6.8 .8 19 .8-2.3 .8 7.4 .7-25.6 .8 5.4 .8 3.8 .8-60 .8 14.1 .8 7.4 .8-2.3 .8 15.6 .8 16.6 .7-65.5 .8 24.2 .8 41.8 .8-42.8 .8 0 .8 20.8 .8 .5 .8 9.6 .7-1.3 .8 8.2 .8-.2 .8 6.9 .8-2.7 .8 0 .8-1.4 .8 8.4 .8 3 .7 4.6 .8-6.2 .8 15.6 .8 1.9 .8-2.8 .8-4.1 .8 .1 .8 3.3 .7-3 .8 4 .8 1.3 .8-5.4 .8-2.2 .8 7.9 .8-8.5 .8 1.5 .8-24.9 .7 5.5 .8-.9 .8 28.9 .8 5.9 .8-18.3 .8-.8 .8-1.2 .8 5.8 .8 5 .7 4.6 .8 4 .8-.6 .8 1.6 .8 9.1 .8-9.6 .8 6.7 .8 1.5 .7-1.2 .8 .6 .8 7.9 .8-4.5 .8-9.3 .8 9.8 .8-1.8 .8 1.7 .8 3.1 .7-1.6 .8 16.3 .8 4.1 .8-15.4 .8-3.9 .8 4.5 .8 1.1 .8-.4 .7 .7 .8-3.5 .8 4.9 .8 1.5 .8-24.8 .8 1.8 .8-5 .8 13.7 .8 6.3 .7-4.9 .8 .3 .8-.3 .8 6.3 .8-2.2 .8-4.4 .8 4.8 .8-5.5 .7 4.6 .8 6.1 .8-.1 .8-2.4 .8-3 .8 1.2 .8-23.7 .8 .4 .8 .5 .7 3.1 .8 9 .8-2.9 .8 3.2 .8 4.4 .8-6.2 .8 6 .8 1.2 .7 1.7 .8-2.5 .8-.9 .8-25.9 .8 1.8 .8 10.5 .8 5.4 .8 0 .8-12.8 .7 3.8 .8 0 .8-.2 .8 6.6 .8-.1 .8-8.2 .8 9.8 .8 9 .7-26.7 .8 .6 .8-.2 .8 2 .8-3.5 .8 15 .8-.9 .8 4.3 .8-8.7 .7 8.7 .8 5.1 .8 17.6 .8-4.8 .8-16.3 .8-.9 .8 4.5 .8 0 .7-3.5 .8 2.3 .8-2.3 .8 2.4 .8 .3 .8-10.9 .8 3.9 .8-.2 .8 .3 .7 .6 .8 1.5 .8 .7 .8-.8 .8 2.3 .8 .6 .8 0 .8 2.9 .7-2.9 .8 4.4 .8 3.8 .8-6.3 .8 7.5 .8-4.9 .8-6.7 .8 3.7 .8 6 .7 .7 .8-3.9 .8-12.8 .8-6.4 .8-8.5 .8 3.7 .8 .6 .8-6.2 .8-4.9 .7-1.7 .8 12.2 .8-10.1 .8 9.6 .8-.6 .8 10.5 .8-.6 .8-5.1 .7 12.1 .8-1.6 .8-8 .8 3 .8 1.5 .8 5.2 .8-1.9 .8 3 .8-3.8 .7 4.8 .8 2.7 .8-2.4 .8-8.7 .8-48.5 .8 11.8 .8 26.1 .8 15 .7-27.4 .8 12.2 .8 22.3 .8-13.5 .8 2.4 .8 2.8 .8-4.1 .8 2.7 .8-38.6 .7 6.3 .8 7.7 .8-4.5 .8 25.1 .8 5.4 .8 6.8 .8-26 .8 26.6 .7-17.9 .8 3 .8 4.1 .8-.8 .8 3.1 .8 1.7 .8-5.2 .8 .2 .8 4.8 .7-9.9 .8-.9 .8 4.6 .8 1.2 .8-1 .8 28 .8-29.1 .8-7 .7 12.1 .8-.2 .8-34.3 .8 11.6 .8-9.6" stroke="#2a2a2a" stroke-width="1.7"/><path d="M35 1061.9l.8 5.5 .8-4.2 .8 2.6 .8 9.4 .7-6.9 .8 27.2 .8-34.2 .8-105.7 .8 16.1 .8 2 .8 4.7 .8 29.2 .7 3.1 .8-27.4 .8 28.5 .8 1.6 .8 6.1 .8 22.3 .8-20.1 .8-2.1 .8 25 .7-10.6 .8 7 .8-.8 .8-.6 .8 4.3 .8-6.3 .8-.4 .8 16.3 .7-10.2 .8-101.2 .8 5 .8 24.6 .8-16.2 .8 48.7 .8-5.1 .8-2.3 .8 11.1 .7-16.9 .8 10.6 .8-12.1 .8-11.5 .8 12.9 .8-4.6 .8 13 .8 4.9 .7 22.4 .8 5.6 .8 17.2 .8-16.6 .8-6.8 .8 2.4 .8 4 .8 6.5 .8-21.4 .7 28.4 .8-6.2 .8-8.7 .8 12.3 .8-2.5 .8-3.1 .8 5.3 .8-4.4 .7-1 .8 11.2 .8-3.5 .8 29.7 .8-4.5 .8-2.1 .8-7.1 .8 6.4 .8 2.2 .7 4.3 .8-2.8 .8-.5 .8 12.1 .8-6.9 .8-9.3 .8-33.4 .8 9.3 .8 14.4 .7-6 .8 30.1 .8-13.8 .8-4.3 .8 9.5 .8-9.7 .8 2.2 .8-29.7 .7 11.4 .8 12.1 .8-4.7 .8 3 .8 2.4 .8 21.7 .8-21.7 .8 8.4 .8-1.6 .7 13.3 .8-7.7 .8 11.6 .8 7 .8-.5 .8-5.7 .8-9 .8 8 .7 8.2 .8-7.2 .8-17.2 .8 2.1 .8-15.5 .8-31.3 .8 16.3 .8 5.9 .8 11.2 .7 6.5 .8 15.9 .8-5.1 .8-.3 .8-7.9 .8 8.4 .8-2.1 .8 3.3 .7-5.4 .8 .2 .8 23.6 .8-2.1 .8 6 .8-9.8 .8-5.6 .8 15.5 .8-4.5 .7-15.1 .8-.1 .8 9 .8-6.8 .8 2.3 .8 15.2 .8-13.9 .8-3.7 .7 4.3 .8-.1 .8-5.8 .8 14.7 .8-.2 .8-7.6 .8-67.8 .8 2.1 .8 21.2 .7 8.7 .8-68 .8-2.6 .8 9 .8 1.4 .8-24.2 .8 17.1 .8 7.5 .7 18.9 .8-28.1 .8 25.4 .8-19 .8 8.1 .8 14 .8 11.1 .8-3.7 .8 45.3 .7-8.7 .8-20.6 .8 7.7 .8-14.8 .8 11.4 .8 17.8 .8 4.2 .8-.8 .7 3.9 .8-2.3 .8 8.1 .8 5.6 .8-28.1 .8 9.8 .8 18.6 .8 9.3 .8-36.8 .7 14.1 .8 4.1 .8 2.2 .8 11.1 .8 4.1 .8 7.8 .8-23.3 .8-57.2 .7-3.3 .8 36.9 .8-8.7 .8 1.4 .8-17.4 .8 16.7 .8 1.6 .8-5.2 .8 16.1 .7 17.8 .8-11.6 .8 16.3 .8-1.9 .8 5.9 .8-1.3 .8 3.3 .8-5.7 .8 7.7 .7 .4 .8 2.2 .8-3.3 .8 10 .8 2.5 .8-8.6 .8-14.1 .8 11 .7-15.4 .8 12.3 .8-19.6 .8 3.5 .8 16.2 .8 6.3 .8 .9 .8-8.4 .8 2.6 .7 1.7 .8-16.5 .8 6.9 .8 8.1 .8-22.3 .8 11.2 .8 1.9 .8 9.9 .7 1.2 .8-4.5 .8 19.1 .8-25.6 .8-20.9 .8 4.1 .8 18.4 .8 1.6 .8 25.1 .7-.7 .8-56.2 .8 9.1 .8-7.4 .8 21.4 .8 10.3 .8-1.2 .8-12.3 .7 17 .8-2.7 .8 5.5 .8 3.8 .8-7.3 .8 11.6 .8 3.5 .8 6.4 .8 1.1 .7-15.7 .8-7 .8-2.3 .8 8.6 .8-.6 .8 13.1 .8-26.8 .8-34.6 .7-1.3 .8 22.3 .8-2.7 .8 2.4 .8 3.1 .8-7.6 .8 6 .8 18.2 .8-11.2 .7 7.6 .8 9.2 .8 11.4 .8-6.3 .8 3.3 .8-.2 .8 5.8 .8-3.1 .7 6.4 .8 2.5 .8-1.1 .8-.2 .8 .8 .8 2.3 .8 5.7 .8-7.2 .8 3.2 .7-29.9 .8-4.1 .8 20.8 .8 3.9 .8 4.9 .8-8.7 .8 4.2 .8-3.7 .7 3.3 .8 1.9 .8-2.3 .8 5.7 .8-1.1 .8 6.2 .8-2.4 .8 3.4 .8 6.3 .7-10.9 .8-2.2 .8 7.3 .8-1.8 .8-7 .8-2.7 .8 3.8 .8-7.2 .7 9.1 .8-8.7 .8 4.7 .8-1.1 .8 3.3 .8-7.2 .8 13.3 .8 6.4 .8-11.1 .7-22 .8-17.3 .8 8.9 .8-2.7 .8-.4 .8 11.7 .8 5.7 .8 2 .7-12.1 .8-6.8 .8 11.7 .8-13.3 .8 1.1 .8 6.8 .8 4.7 .8-7.6 .8-4.9 .7 18.5 .8 3.2 .8-11.8 .8 1.8 .8 1.1 .8-5.8 .8 5.2 .8-4.9 .8 3.8 .7 3.2 .8-35.4 .8 8.8 .8-12.8 .8 14.5 .8 15 .8 14.1 .8-9.3 .7-9.8 .8 5.4 .8-6 .8 6.6 .8 2.1 .8-3 .8 12.5 .8-4 .8-15.6 .7 7.4 .8 7.5 .8-2.1 .8 4.9 .8-.7 .8-7.8 .8 10.8 .8 2.8 .7-6.3 .8 4.8 .8-.2 .8 2 .8-2.7 .8-8.4 .8 6.1 .8 5.8 .8 .9 .7-20.3 .8 4.5 .8-4.7 .8-11.3 .8-1.2 .8 6.7 .8 11.4 .8 1.8 .7 1.4 .8-1.9 .8 23.9 .8-.5 .8-8.4 .8-22.2 .8 10.5 .8-1.6 .8 3 .7 5.8 .8 .2 .8-.5 .8 4.8 .8 10.5 .8 2.9 .8-7 .8-15.7 .7 2.7 .8-2.4 .8 3.9 .8 2.2 .8-2.5 .8-2 .8 .2 .8-1.6 .8-1.8 .7 2.1 .8-11 .8 3.7 .8 17.7 .8 .3 .8-32.8 .8 7.3 .8 2.6 .7 10.1 .8-8.2 .8-9.8 .8-5.5 .8 5.1 .8-9.9 .8 27.4 .8-1.4 .8 .4 .7-27 .8 4.9 .8-4 .8-27.2 .8-2.6 .8 14 .8-10.9 .8 14.4 .7-10.1 .8-6.2 .8 5.7 .8-113.6 .8 0 .8 34.5 .8-10.4 .8 32.1 .8 27.2 .7-11.4 .8-72 .8 0 .8 39.4 .8-3.5 .8-5.1 .8-23.8 .8 50.8 .7-8.3 .8 29 .8-1.4 .8 17 .8-18.8 .8 26 .8-4 .8 16.6 .8-3 .7 10.7 .8 9.1 .8-7 .8 6.8 .8 4.2 .8 23.7 .8-.6 .8-15.1 .7-35.8 .8 5 .8 3 .8-1.9 .8-6.6 .8 21.8 .8-3.1 .8 15.6 .8-17 .7-49.6 .8 6 .8 19.8 .8 3.3 .8 17.3 .8-.5 .8 9.6 .8 5.5 .8 1.8 .7 11.8 .8 5.5 .8 1.9 .8-3.8 .8-3.9 .8-14 .8 9.5 .8 1.4 .7-4.4 .8 0 .8 6.7 .8 16.2 .8-14.1 .8 6.1 .8 8.8 .8-1.7 .8 5.6 .7-5.9 .8 23.6 .8-.7 .8-14.1 .8 .1 .8-8.3 .8 9.3 .8-1.8 .7 .5 .8-2.5 .8 4.7 .8-2.6 .8 6.7 .8-9.6 .8-10.9 .8-9.4 .8-2.9 .7 19 .8-7.9 .8-.3 .8 33.3 .8-5.4 .8-11.1 .8-3.1 .8 3.7 .7 16.9 .8-12.5 .8-2.4 .8 3.3 .8-6.5 .8-1.6 .8-30 .8 8 .8 5.7 .7 2.5 .8-12.2 .8 26.6 .8-8.8 .8-14.3 .8 7.8 .8 5.3 .8-.8 .7 15.8 .8 9.3 .8-21 .8-4 .8 .6 .8-2.4 .8 3.9 .8 15.4 .8 .8 .7-10.5 .8-8 .8-1.3 .8-3.7 .8 .9 .8 30.7 .8-31.9 .8 10.9 .7-36 .8-18 .8 17.6 .8 26.6 .8 2.5 .8-4.3 .8-26.5 .8 8.1 .8 27 .7 5.7 .8-18.5 .8-99 .8 16.8 .8 20.2 .8-.8 .8 5.7 .8 19.3 .7-5.4 .8 3.2 .8 21.7 .8 20.3 .8 2 .8-16.2 .8 4.8 .8-3.9 .8 22.3 .7-.5 .8 1.2 .8-10.4 .8 5.8 .8-5.8 .8 3.3 .8-4.3 .8 18.9 .7 3.5 .8-22.9 .8 6.3 .8 6.5 .8-12.8 .8 25.9 .8 1 .8 7.5 .8-22 .7-8.1 .8 21.5 .8-34.9 .8-20.8 .8-28.1 .8 10 .8-5 .8-17.7 .8 4.6 .7 26.4 .8 2.5 .8-22.1 .8 16 .8 8.6 .8-1.6 .8 17.1 .8-5.5 .7 16.2 .8 32.8 .8-34.1 .8-23.9 .8 10.4 .8 9.2 .8 12.5 .8-.4 .8 .1 .7 10.8 .8 .6 .8-7.2 .8-41.4 .8 23.6 .8-21.6 .8-43.7 .8 6 .7 26.9 .8-1.9 .8 4.1 .8 23.6 .8 22.8 .8-27.2 .8-4.6 .8-6.4 .8-14.8 .7 11.8 .8-1.4 .8-1.8 .8-11.6 .8 31.1 .8 1.4 .8 20.6 .8 4.8 .7-40.5 .8 11.7 .8 2 .8 2.1 .8-1.5 .8 10.3 .8 .2 .8 11.1 .8 4.2 .7-21.2 .8-2.9 .8 5.8 .8 2.5 .8 4.6 .8-3.2 .8 .4 .8 21.1 .7-9.6 .8 2.4 .8-39.2 .8 15.9 .8-7.2" stroke="#F2A000" stroke-width="1.7"/><path d="M35 1036l.8-33.6 .8 3.7 .8-9.5 .8 17.7 .7-5.4 .8 7.6 .8-3 .8-102.4 .8 0 .8 0 .8 0 .8 0 .7 0 .8 0 .8 0 .8 0 .8 9.1 .8 57 .8-66.1 .8 0 .8 0 .7 0 .8 0 .8 0 .8 0 .8 29.1 .8-14 .8 31.3 .8-46.4 .7 17.4 .8-17.4 .8 0 .8 0 .8 0 .8 0 .8 0 .8 4 .8 31.8 .7-35.8 .8 0 .8 0 .8 53.2 .8-50.5 .8-2.7 .8 0 .8 0 .7 19 .8 21.3 .8 .8 .8-.7 .8 11.3 .8 50.9 .8 3.2 .8 23 .8-128.8 .7 0 .8 0 .8 0 .8 7.5 .8 54.3 .8-61.8 .8 0 .8 8.8 .7-8.8 .8 0 .8 0 .8 30.9 .8 35.8 .8-5 .8 7 .8 25.4 .8-6.4 .7 5 .8-20.7 .8 14.4 .8 22.1 .8-18.8 .8-89.7 .8 0 .8 0 .8 43.9 .7-18.9 .8 69.1 .8 23.5 .8-27.3 .8-64.6 .8 33.9 .8 29 .8-12.2 .7 19.9 .8 9.7 .8-.5 .8 37.5 .8 .1 .8-9.8 .8-22.9 .8 29 .8-9.4 .7-1.3 .8 11.5 .8-3.6 .8 4.3 .8 28.3 .8-18.6 .8-3.8 .8-2.6 .7 5 .8 17.7 .8-123.8 .8-5 .8-38.1 .8 0 .8 8.6 .8 25.3 .8-17.8 .7 .8 .8 67.3 .8 41.7 .8-69.7 .8 3.2 .8 55 .8 .3 .8 14.3 .7-17.1 .8-42.9 .8 32.3 .8 37.2 .8 .1 .8-18 .8 11.9 .8 15.9 .8-9 .7 5.6 .8-17.8 .8 1.6 .8 5.2 .8 14.7 .8-1.5 .8-5.9 .8 4.7 .7-22 .8 1.7 .8 11.9 .8-6.9 .8-6.6 .8 25.9 .8-86.1 .8-25.7 .8 47.3 .7 12.6 .8-98.1 .8 0 .8 46.4 .8-46.4 .8 0 .8 0 .8 0 .7 0 .8 0 .8 0 .8 0 .8 0 .8 0 .8 26.3 .8 19.5 .8 2.1 .7-47.9 .8 9.4 .8-9.4 .8 39.4 .8 51.9 .8-20.9 .8 9.1 .8 2.6 .7-2.8 .8 13.9 .8 .8 .8 10.3 .8-104.3 .8 0 .8 15.2 .8 28.1 .8-43.3 .7 39.2 .8-16.4 .8 22.3 .8 50.6 .8 9.2 .8-2.1 .8-12 .8-34.6 .7-3.4 .8-52.8 .8 0 .8 92.8 .8-19.1 .8 26.4 .8-8 .8-28 .8 52.7 .7-22.8 .8-12.8 .8 15.4 .8 44 .8-16.9 .8 6.1 .8 4.2 .8-6.5 .8-19.3 .7 3.1 .8 36.8 .8-96.4 .8 2.6 .8 26.5 .8 41.1 .8-41 .8 8.2 .7-26.3 .8 34.1 .8-22.1 .8 1.9 .8 23.3 .8-10.2 .8-.8 .8 21.6 .8 9.9 .7 10.1 .8-49.1 .8 17 .8-14.9 .8-6.6 .8 11.5 .8 32.2 .8 2.8 .7-.9 .8-3.1 .8 2 .8-3.6 .8 3.3 .8-7.9 .8 6 .8 2.6 .8 31.1 .7-21.7 .8-72.9 .8-58.4 .8 49.3 .8 1.5 .8 53 .8 9.5 .8-5.2 .7 14.5 .8-30.2 .8 27.5 .8 19.6 .8-24.4 .8 37.4 .8-27.9 .8 16.1 .8-19.8 .7-5.5 .8 14.1 .8-3.2 .8 15 .8 2.1 .8-25.6 .8 4.4 .8-40.2 .7 35.3 .8-15.6 .8 24.9 .8-33.9 .8-16.9 .8 39.3 .8-2.4 .8 40.1 .8-4.8 .7-12.6 .8 5.8 .8 10.5 .8 10 .8-24.9 .8 13.3 .8 13.8 .8 27.3 .7-9.1 .8 .5 .8-15.4 .8-10.4 .8 14.1 .8-43.1 .8 10.6 .8 8.9 .8 9.2 .7-20.6 .8 1.7 .8-11.3 .8 32.1 .8 16.5 .8-3.4 .8 1.2 .8-7.5 .7-8.9 .8 9.7 .8 7.4 .8-5.4 .8-1.8 .8 8.4 .8 2.9 .8 7.5 .8 12.3 .7-8.6 .8 .4 .8-13.7 .8 .6 .8-12.9 .8 3.1 .8 7.7 .8-17.2 .7 9.5 .8 1.7 .8 1.8 .8-9.5 .8-2.5 .8 1.2 .8-12.5 .8 8.7 .8 1.9 .7-25.4 .8-30.8 .8-27.5 .8 64.1 .8-10 .8-6.7 .8-10.6 .8-20.3 .7 19.7 .8 18.6 .8 14.7 .8 3.6 .8-39.6 .8 18.9 .8-1.3 .8-34.8 .8 18.7 .7 3.2 .8-13.3 .8 16.5 .8 12.5 .8 28.2 .8-36 .8-4.1 .8-6.2 .8 46.5 .7-55.7 .8 8.8 .8-13.7 .8 11.9 .8 7.1 .8-5 .8 42.5 .8-40.6 .7-6 .8 1.3 .8 9.9 .8-.9 .8 17.2 .8 5.1 .8 .8 .8 12.3 .8-29.6 .7 14.2 .8-2 .8-11.4 .8 3.1 .8 10.3 .8 14.8 .8 9.7 .8-30.4 .7 28.6 .8-10.1 .8 .1 .8 5 .8-6.8 .8-6.5 .8-17.7 .8 27.3 .8 11.8 .7-73.9 .8 24.6 .8 8.1 .8-30.4 .8-2.8 .8 24.3 .8 7.6 .8-3.5 .7 12.1 .8 29.3 .8-1.2 .8-9.9 .8-11.1 .8-31 .8-8.1 .8 53.4 .8-16.2 .7-11.4 .8 13.7 .8-5.9 .8 21.5 .8-13.2 .8 19.3 .8-28.4 .8 13.5 .7-37.3 .8 23.6 .8-15.5 .8-7 .8 29.1 .8 8.9 .8-50.8 .8 12.8 .8 9.3 .7-30.4 .8 25.9 .8 10.4 .8-5.2 .8-9 .8 25.8 .8-22.5 .8 7.9 .7-31.8 .8 42.5 .8-12.2 .8 6.3 .8-77.7 .8 1.7 .8 17.7 .8 17 .8-4.8 .7-19.1 .8-25.1 .8 60.3 .8-49.1 .8-9 .8-34.1 .8 0 .8 28.1 .7 20.6 .8-43.3 .8 26 .8-31.4 .8 0 .8 0 .8 0 .8 0 .8 0 .7 0 .8 0 .8 0 .8 0 .8 0 .8 0 .8 0 .8 0 .7 0 .8 27.5 .8 6.2 .8 15.8 .8-1.1 .8-21.5 .8 21.2 .8-8.7 .8 15.4 .7-8.3 .8 39.1 .8-14 .8 .1 .8 9.3 .8 18.9 .8-4.9 .8 10.4 .7-105.4 .8 28.7 .8-28.7 .8 0 .8 0 .8 66.9 .8-64.5 .8-2.4 .8 0 .7 0 .8 0 .8 0 .8 54 .8-21.9 .8 47.4 .8-20.6 .8 12.2 .8-1.7 .7 16.3 .8 14 .8 .3 .8-3.3 .8-26.9 .8 11.2 .8 34.4 .8-3.1 .7-23.7 .8 26.9 .8-6.5 .8 37 .8-36.4 .8-24.2 .8 47.9 .8-.9 .8-17.3 .7 18.2 .8 6.4 .8-12.2 .8-8.6 .8 5.1 .8 31.7 .8-41.6 .8 2.8 .7-14 .8 23.4 .8 18.1 .8-28.7 .8 43.9 .8-29.8 .8-99.9 .8 25.2 .8-17 .7 11.8 .8 28.3 .8-4 .8 11.8 .8 16.8 .8 2.2 .8 6.7 .8-13.6 .7 34 .8 15.1 .8-16.7 .8 2.6 .8-11.6 .8 5.8 .8-68.4 .8-17.4 .8-3.4 .7 61.6 .8-21.8 .8-13.8 .8 12.6 .8 35.1 .8-26.4 .8 7.6 .8-2.6 .7 4.3 .8 13.6 .8 2.4 .8 12.1 .8 13.2 .8 12.6 .8-51.4 .8 6.9 .8 27.3 .7-41.6 .8 26.6 .8 21.2 .8-27.2 .8 23.1 .8-8.8 .8 11.5 .8-27.7 .7-108.5 .8 46.5 .8 20.7 .8 18 .8 22.7 .8-35.8 .8 25.4 .8-53.5 .8 45.7 .7 22.9 .8-22.3 .8 6.5 .8-6.9 .8-6.7 .8 23.2 .8 46.3 .8-9.1 .7-33.9 .8-3.9 .8-14.9 .8-2.5 .8 18 .8 49.7 .8-31.7 .8 22.8 .8-30.4 .7-18.4 .8-.9 .8 13.3 .8 3.2 .8 8.1 .8-18.1 .8 24.8 .8-7.9 .7-43.7 .8 43.3 .8-39.7 .8 37.9 .8-20.9 .8-5.9 .8 32.3 .8 3.1 .8-8.3 .7-10.5 .8-27.1 .8-57.5 .8 60.4 .8-84.3 .8 30.9 .8-30.9 .8 0 .8 0 .7 0 .8 0 .8 5.1 .8 42.1 .8-47.2 .8 0 .8 0 .8 8.2 .7 36.5 .8 32.8 .8-77.5 .8 0 .8 0 .8 0 .8 14.6 .8 6.2 .8-5.3 .7 68 .8-22.3 .8 18.3 .8-2.2 .8-10.1 .8-4.4 .8 56.4 .8-39.5 .7 17.8 .8-3.7 .8 6.6 .8 7.8 .8 4.2 .8 1.3 .8-25.1 .8 13.5 .8-90.9 .7 .6 .8 41 .8-52.8 .8 62.9 .8-23.6 .8 35.9 .8-9.3 .8-9.2 .7 10.5 .8-30.7 .8 36.1 .8-27 .8 25.7 .8 48.9 .8-17.9 .8-34.6 .8 40.8 .7-27.8 .8 13.1 .8-10.6 .8-3 .8 18.5 .8 37.9 .8-6.3 .8-38.2 .7-5.4 .8 15.4 .8-102.1 .8 0 .8 0" stroke="#2F6EAA" stroke-width="1.7"/><path d="M35 969l.8 49 .8-21.9 .8 11.7 .8 13.4 .7-5.6 .8-7.7 .8-18.3 .8-78.5 .8 0 .8 0 .8 0 .8 0 .7 0 .8 0 .8 0 .8 0 .8 0 .8 0 .8 0 .8 0 .8 0 .7 0 .8 0 .8 17.9 .8 34.9 .8-52.8 .8 38.9 .8-38.9 .8 9.4 .7 31.8 .8-41.2 .8 0 .8 0 .8 0 .8 0 .8 0 .8 0 .8 0 .7 0 .8 0 .8 16.4 .8-16.4 .8 0 .8 0 .8 25.7 .8 26.4 .7-29.1 .8 26.6 .8 31.8 .8-69.4 .8 37.5 .8 4.3 .8 52.8 .8-8.1 .8-98.5 .7 0 .8 0 .8 0 .8 41.5 .8-16.2 .8-25.3 .8 1.8 .8-.3 .7 30.4 .8 6.6 .8-38.5 .8 5.4 .8-.7 .8 28.9 .8 11.6 .8 27.6 .8 1 .7 18.7 .8 6.2 .8 13 .8 11.4 .8-8.6 .8-61.1 .8-.1 .8 33.3 .8 3.5 .7 31.5 .8-2.9 .8-10 .8-.3 .8 10.8 .8-29.3 .8 29.7 .8-40.3 .7 52.4 .8-54.9 .8 36.3 .8 5.1 .8 15 .8-11.8 .8-13 .8-15.5 .8 31.6 .7-13.6 .8 33.8 .8 0 .8-24 .8 1.6 .8 15.2 .8 1.2 .8-26.3 .7 20.9 .8-2.9 .8-84.7 .8 50.5 .8-7.9 .8-16.1 .8-46.8 .8 34.1 .8 2.6 .7 18.7 .8-15.4 .8 47.2 .8-18.1 .8 23.5 .8-20.5 .8 24.7 .8 13.3 .7-8.6 .8-14.6 .8 7.7 .8-19.1 .8 34.7 .8-28.6 .8 25.8 .8-16.4 .8-9.7 .7-2 .8-17.5 .8 38.1 .8-9.1 .8-.7 .8-1.3 .8 25.9 .8-26.2 .7 36.3 .8-25 .8-1.7 .8 2.5 .8 5.9 .8 1.7 .8-84 .8-1.1 .8-12.9 .7 20.3 .8-55.9 .8 0 .8 0 .8 21.3 .8-21.3 .8 0 .8 0 .7 0 .8 0 .8 0 .8 0 .8 0 .8 0 .8 0 .8 0 .8 16.5 .7-2.8 .8-13.7 .8 52.9 .8-.1 .8 14.6 .8 18.5 .8 29.8 .8-20.2 .7 38.9 .8 8.5 .8-36.9 .8-6.1 .8-86 .8 24.7 .8 7.1 .8-45.7 .8 82.5 .7-30.4 .8 36.7 .8-10.8 .8 13.3 .8 .5 .8-4.1 .8 14.3 .8-83.1 .7-18.9 .8 0 .8 3.4 .8 34 .8-3.4 .8 4.5 .8-8.4 .8 58.1 .8-30.3 .7 31.3 .8 4 .8 3.7 .8-17.8 .8 44.6 .8-7.6 .8 9.4 .8-5 .8-11.9 .7 11.8 .8 16.6 .8 .8 .8-7 .8-.7 .8-19.4 .8-14.1 .8 24.2 .7-41.2 .8 4.3 .8 22.3 .8 14.7 .8-27.3 .8 14.9 .8-7.2 .8 32.3 .8 2.6 .7-3.2 .8-56.4 .8 6.5 .8-11.5 .8 59.7 .8-36.9 .8-4.2 .8 16.6 .7 12.3 .8 16.2 .8 16.4 .8-70.3 .8-6.6 .8 13.3 .8-8.3 .8 21 .8 16.8 .7 17.2 .8-97.5 .8-37.3 .8 0 .8 19.2 .8 26.5 .8 8.3 .8 31.2 .7 12.6 .8 6 .8 25.1 .8-21.3 .8 14.4 .8 11.5 .8-3.2 .8 5.9 .8 10.8 .7-73.2 .8 16 .8 32.6 .8-9.4 .8-11.4 .8-6.1 .8 26.5 .8-108.8 .7-13.2 .8 25.3 .8-13.1 .8 38.7 .8-26.7 .8 44.7 .8 15.4 .8-9.1 .8 44.5 .7 9.7 .8-9.9 .8-60 .8 73.9 .8-4.6 .8 29.1 .8-7.9 .8-1.9 .7-6 .8 9.2 .8 12.9 .8 1.8 .8-3.9 .8 .9 .8 4.7 .8 3.2 .8 4.9 .7-84.8 .8 14.7 .8 14.8 .8-11.6 .8 10.7 .8 16.6 .8 22.9 .8 7 .7-12 .8 2.3 .8 8.6 .8-10.6 .8-9.9 .8 18.9 .8-5.3 .8 17.8 .8 .1 .7-13.5 .8 5.5 .8 8.1 .8 0 .8-12 .8-6 .8 12.5 .8 6.1 .7-13.1 .8-7.5 .8 9 .8-24.1 .8 9.5 .8 5.4 .8-7.8 .8 25.4 .8 .8 .7-10.7 .8-93.9 .8 2.2 .8 33.8 .8-13.9 .8-25.2 .8 22.8 .8-28 .7 21.3 .8-26.4 .8 37.5 .8-5.6 .8-2.7 .8-3.6 .8-27.8 .8 22.6 .8-28.1 .7 18 .8-66.6 .8 0 .8 5.6 .8 21.6 .8-24.6 .8 60 .8-23.1 .8 45.5 .7 19 .8-.6 .8-22.1 .8 2 .8 10.1 .8-.1 .8 19.8 .8 6.7 .7-16.5 .8 32.1 .8-19.3 .8 8 .8-3.9 .8 26.9 .8 0 .8-7.7 .8-11.1 .7 19 .8-24.1 .8 3.9 .8 6.9 .8 8.2 .8-.1 .8-9.9 .8 21.1 .7-14.8 .8-13.9 .8 12.6 .8 2.9 .8 16.8 .8-33.6 .8 27.9 .8-.5 .8-22.6 .7-19.9 .8 14.5 .8-6.5 .8-104.8 .8 12.5 .8 32.5 .8 24.4 .8-.5 .7 10.5 .8 36.2 .8-21.2 .8 9.3 .8-10.5 .8-26.5 .8 15.2 .8-12.9 .8 16.6 .7 33.4 .8 20.1 .8 7.6 .8-52.9 .8 34.2 .8 12.5 .8-16.4 .8 18.9 .7-.6 .8 1.6 .8-23.7 .8 19.2 .8-3.3 .8-16.7 .8 7.9 .8 3.4 .8-15.7 .7 7.3 .8-86.6 .8 16.2 .8-26.9 .8 32.6 .8-19.2 .8 17.8 .8 10.2 .7 14.6 .8-6.7 .8-2 .8-7.1 .8 47.9 .8-55.3 .8 21.1 .8-36.1 .8 39.1 .7 8.9 .8 7.9 .8-77.9 .8-32.3 .8 0 .8 0 .8 10.9 .8 15.7 .7 10.1 .8-24.8 .8-11.9 .8 0 .8 0 .8 0 .8 0 .8 0 .8 0 .7 0 .8 0 .8 0 .8 9.8 .8-9.8 .8 0 .8 7.1 .8 4 .7-4.2 .8 28.3 .8-16.8 .8 61.6 .8-27.5 .8 6.2 .8 7.7 .8-14.3 .8 23.6 .7-20.7 .8 11.7 .8 27.6 .8-17.5 .8 55.5 .8-71.8 .8 16 .8-17.6 .7-57.2 .8 23 .8 2.2 .8-26.9 .8 0 .8 18.2 .8-9 .8 18.7 .8-27.9 .7 0 .8 0 .8 0 .8 0 .8 7.1 .8 32.8 .8-5.9 .8-11.6 .8 65.3 .7-9.4 .8-3.9 .8 10.1 .8-14.3 .8 22.1 .8 3.2 .8 25.9 .8-42.7 .7 9.2 .8 34.7 .8 19 .8 .4 .8-53 .8 27.8 .8 2.4 .8 2.8 .8 31.2 .7-35.2 .8-7.2 .8 8 .8 12.6 .8-9.2 .8 28.6 .8-5.9 .8-43.5 .7 2.4 .8 14.4 .8 16.6 .8 13.5 .8-32.2 .8 21.8 .8-137.9 .8 0 .8 46.7 .7 43.9 .8 21.9 .8-1.5 .8-1.8 .8 16.1 .8 6 .8-12.7 .8 9 .7 7.3 .8 14 .8-10.9 .8-13.1 .8-20.2 .8 14 .8-52.6 .8 9.9 .8 17 .7 1.7 .8 43.1 .8-62.6 .8 10.3 .8 21.1 .8 33.4 .8-19.1 .8-7.6 .7-21.3 .8 16.5 .8-1.8 .8-.3 .8-14.7 .8 47.5 .8-56.8 .8-3.8 .8-31 .7 23.5 .8 43.8 .8-22.7 .8 8 .8 11.3 .8 23.1 .8-29.7 .8 5.9 .7-110.8 .8 54.1 .8-13.2 .8-28.6 .8 62 .8-70.4 .8 33.8 .8 22 .8-8.9 .7-15.8 .8 41.5 .8 2.2 .8-17.6 .8 8.3 .8 2.8 .8 22.7 .8 9.9 .7-20.1 .8 11.8 .8-44.7 .8 34.5 .8 8.5 .8-4 .8 9.6 .8 11.5 .8-24.1 .7 20.8 .8-51.2 .8 42 .8-1.5 .8 20.2 .8-42.5 .8 35.2 .8 9.4 .7-24.8 .8 21.2 .8-16.4 .8 6.5 .8-7.7 .8-18.2 .8 18.8 .8 5.2 .8 23.9 .7-51.9 .8 24.5 .8-46 .8-5.8 .8-39.6 .8 24.7 .8-20.2 .8-14.4 .8 0 .7 0 .8 31.6 .8-28.4 .8-3.2 .8 .5 .8-.5 .8 45.5 .8 13.1 .7 10.4 .8 6.3 .8-13.8 .8-40.3 .8 48.4 .8 8.2 .8-2.7 .8 15.5 .8 3.6 .7 5.2 .8-4.2 .8-29.1 .8 .7 .8-30.1 .8 31 .8-13.9 .8-5.4 .7 19.4 .8-11.7 .8 49.4 .8-35.3 .8 56.5 .8 9.9 .8-38 .8-16 .8-68.5 .7 54.1 .8-22.2 .8-10.1 .8 13.2 .8-13 .8-36.1 .8 0 .8 0 .7 0 .8 0 .8 0 .8 60.2 .8-11.3 .8 6.7 .8 43 .8-61.7 .8 53.6 .7-64.7 .8 46.5 .8-72.3 .8 14.3 .8 37.8 .8 2.8 .8 5.8 .8 14.4 .7 10.7 .8-34.9 .8-50.9 .8 0 .8 0" stroke="#9B4A12" stroke-width="1.7"/><path d="M35 1008.2l.8-3.5 .8 17.7 .8-1.7 .8 29.6 .7-36 .8 14.1 .8-55.3 .8-62 .8 0 .8 0 .8 0 .8 0 .7 0 .8 0 .8 0 .8 0 .8 0 .8 0 .8 0 .8 0 .8 0 .7 0 .8 0 .8 0 .8 0 .8 0 .8 7.6 .8-7.6 .8 9.4 .7-9.4 .8 0 .8 0 .8 0 .8 0 .8 0 .8 0 .8 0 .8 21.2 .7-21.2 .8 0 .8 0 .8 14.6 .8-14.6 .8 35.7 .8-19.7 .8 24.4 .7 31.9 .8-35.5 .8 5.9 .8 27.1 .8 11.9 .8-.2 .8-3.4 .8 25.2 .8-48.9 .7-40.7 .8 8.1 .8 33.3 .8-9.9 .8 55.6 .8-22.4 .8-37.1 .8-41.3 .7 55.2 .8 23.8 .8 22.4 .8 2.5 .8-26.6 .8 32 .8-7.6 .8 23.1 .8-16 .7-40.6 .8 14.7 .8 21 .8 12.7 .8-2.1 .8-56.5 .8 9.4 .8 10.3 .8 3.2 .7 9.3 .8 26.8 .8-48.3 .8 18.4 .8 33.1 .8-8.7 .8 6.9 .8-17.3 .7 16.2 .8 26.4 .8-14.9 .8-14.8 .8 35.8 .8 8.2 .8-33.7 .8 7.9 .8-23.7 .7 42 .8-28.4 .8 10.1 .8 7.4 .8 28 .8 2.6 .8-11.4 .8 3.5 .7-28.2 .8 30.5 .8-156.5 .8-8.1 .8 0 .8 0 .8 0 .8 0 .8 0 .7 0 .8 54.9 .8 10.8 .8-37.4 .8 2.8 .8 18 .8-1.7 .8 37.9 .7-7.9 .8 10.8 .8 23.7 .8 4 .8 9.7 .8-15.8 .8 4.4 .8 6.9 .8-2 .7-2.1 .8 26 .8-7.7 .8-10.6 .8-1 .8 18 .8-2.8 .8-10.8 .7 22.2 .8-5.3 .8-13.5 .8-2.8 .8 9.9 .8 13.7 .8-144.1 .8 35.6 .8 16.1 .7-23.4 .8-36.5 .8 0 .8 0 .8 0 .8 0 .8 0 .8 0 .7 0 .8 0 .8 0 .8 0 .8 0 .8 5 .8-5 .8 0 .8 19.4 .7-19.4 .8 12.8 .8 60.4 .8-52.8 .8 40.4 .8 32.4 .8 17 .8-26.5 .7 .9 .8 29.2 .8 8 .8-12 .8-45.9 .8 16.9 .8 17 .8-13.3 .8 42.8 .7-42.3 .8 24.9 .8 4.1 .8 17.3 .8-6.9 .8 11.7 .8-9.6 .8-45.7 .7 7.2 .8-88 .8 0 .8 3 .8 28.3 .8-31.3 .8 53.7 .8 11.8 .8 6.3 .7-36.6 .8 24.8 .8 23.7 .8-9.8 .8-73.9 .8 50.6 .8 22.3 .8-23.3 .8-30.4 .7 67.1 .8-86.3 .8 69.9 .8-28 .8 50.9 .8 12.9 .8 13.4 .8 9.2 .7-28.6 .8 19.7 .8-11 .8 9.2 .8 1.4 .8 13.5 .8-28.4 .8 13.5 .8-7.2 .7 16 .8 .5 .8-16.3 .8-5 .8 2.8 .8 7.1 .8 8.9 .8 7.5 .7 13.1 .8-13.9 .8-5.3 .8-58 .8 14.3 .8-18 .8 29.8 .8-3.7 .8 28.9 .7-17.8 .8-101.3 .8 0 .8 0 .8 6.5 .8 28.1 .8 32.2 .8 3.5 .7 2.5 .8-64.6 .8 40.4 .8-16.2 .8 26.8 .8 26.4 .8-1.1 .8 51.4 .8-1.3 .7-96.8 .8 15.4 .8 37.3 .8 .3 .8 7.5 .8-19.9 .8 9 .8-30.9 .7 3.8 .8 29.8 .8 18.1 .8-37.5 .8 30.8 .8 12.3 .8-27.7 .8 34 .8 5.8 .7-6.1 .8 28.4 .8 4.5 .8-41.8 .8 36.9 .8-16.2 .8-4.8 .8 35.1 .7-14.4 .8 14.7 .8-6.8 .8 6.6 .8-3.9 .8 12.1 .8 7.8 .8-.1 .8-13 .7-56.6 .8-6.1 .8 17.4 .8 13.1 .8-8 .8 33.5 .8-22 .8 25.5 .7 3.2 .8-4.2 .8 7.3 .8 16.7 .8-15.2 .8 16.8 .8-11.5 .8-2.1 .8 13.2 .7 8.2 .8-10.3 .8-6.7 .8-4.1 .8-14 .8 2.9 .8-.7 .8 18.6 .7-16 .8 22.2 .8-25.1 .8-11.6 .8 11.8 .8-9.4 .8 6.2 .8 3.9 .8-30.1 .7 14.3 .8-39.9 .8-11.8 .8 19.7 .8-3.6 .8-16.2 .8 23.4 .8-13.7 .7 17 .8-17.5 .8 35.2 .8 5.8 .8-28.8 .8-20 .8-9.6 .8 3.1 .8 23.8 .7-1.4 .8-1.2 .8 22.4 .8 1.9 .8 18 .8-25.3 .8-24 .8 25 .8-11.8 .7 31 .8-27.3 .8 6.3 .8-8.7 .8 1 .8 17.3 .8-9.7 .8 11.8 .7 7.9 .8-18.7 .8 1.6 .8 7.8 .8-2.3 .8-120 .8 31.9 .8 27.3 .8 29.3 .7 .1 .8-.7 .8-6 .8 2.8 .8-28.5 .8 25.6 .8-9.4 .8 44.6 .7-3.8 .8-25.1 .8 32.3 .8 13.3 .8 .2 .8 1.7 .8 10.4 .8-27.3 .8 18 .7-15.5 .8-10.3 .8-5.3 .8-26.9 .8 41.2 .8 4.8 .8-9.6 .8 7.4 .7 3.1 .8 .4 .8 8.4 .8-16.9 .8 24.1 .8-88.1 .8 34.7 .8 9.6 .8-25.9 .7 33.2 .8 25.3 .8-12.8 .8-58.9 .8 35.7 .8 5.7 .8-8.9 .8-13.3 .7 34.1 .8-10.1 .8-15 .8 23 .8-23.1 .8 5.5 .8 27.8 .8-43.6 .8 1.7 .7 27 .8-16.8 .8 16.3 .8 .5 .8-25.6 .8 4.6 .8 25.2 .8-12.6 .7-1.5 .8 .3 .8 15.7 .8-27.7 .8-27.4 .8 5.5 .8 31.1 .8-21.4 .8-38.4 .7 26.3 .8-12.5 .8 .8 .8-62.1 .8 0 .8 56.8 .8-18.8 .8 9.8 .7 12.7 .8-40.2 .8 41.7 .8-62 .8 0 .8 0 .8 37 .8-17.7 .8-7.3 .7 25 .8 13.4 .8 8.7 .8-13.4 .8 3 .8 11.1 .8-44.9 .8 33.2 .7 16.5 .8 14 .8-24.4 .8-40.8 .8-13.4 .8 0 .8 53.5 .8-39.9 .8 31.9 .7 23.8 .8 6.4 .8-.9 .8-2.4 .8 9.7 .8-4.9 .8 5 .8 7.2 .7-75.4 .8-10.5 .8 36.9 .8-39.9 .8 25 .8-13.7 .8 53.7 .8-55.7 .8-9.8 .7 3.4 .8 31.2 .8-20.6 .8-14 .8 35.4 .8 6 .8 24.6 .8-9.6 .8-56.4 .7 33.8 .8 35.5 .8-4.7 .8 28.3 .8-28.2 .8 10 .8 29.7 .8 24.1 .7-128.5 .8 66.9 .8-37.3 .8 44.5 .8-60.7 .8 68.7 .8 17.7 .8-43.8 .8 34.7 .7 18 .8 26.3 .8-25.7 .8-2.1 .8-17.6 .8 30.1 .8 11.8 .8-34.4 .7 8.5 .8 15.7 .8 11.7 .8 27.8 .8-13 .8-4.3 .8-32.8 .8 1 .8-3.7 .7-15.5 .8 20.3 .8 11 .8 21.1 .8-16.8 .8-9.6 .8 30 .8-.2 .7-9.9 .8-14.5 .8-22.7 .8 20.9 .8 21.4 .8-7.5 .8-136 .8 43.2 .8 8.6 .7 8.1 .8 17.8 .8 32.3 .8-19.9 .8 2.4 .8-10.2 .8 6.6 .8 21.2 .7 11.6 .8-33.7 .8 7.8 .8 9.1 .8 29.2 .8-8 .8-22.9 .8 0 .8 5.9 .7-3.8 .8 9.7 .8-9.3 .8 13.1 .8-29.4 .8 6.6 .8 42.5 .8-10.5 .7-128 .8 0 .8 25.3 .8 1.1 .8-26.4 .8 39.2 .8-5.1 .8-20.8 .8 46.9 .7-9.1 .8 34.1 .8-8.5 .8-70.4 .8 57.1 .8-10.3 .8 18.6 .8 4.7 .7 9.2 .8 23.9 .8-8.1 .8 8.2 .8-31.5 .8 32.7 .8-3 .8 4.2 .8-31.5 .7 22.5 .8-16.8 .8-45.7 .8 74.6 .8-18.7 .8 24.7 .8-23.7 .8 .2 .7-1.9 .8-.9 .8 25.3 .8-12.2 .8 15.1 .8-20.4 .8 8.5 .8-14.6 .8-6.3 .7 3.4 .8 17.3 .8-28.2 .8 15.8 .8-98.5 .8 0 .8 13.4 .8-13.4 .8 0 .7 0 .8 0 .8 0 .8 0 .8 2.7 .8 20.9 .8-15.2 .8 74.1 .7-67 .8 22 .8-31.2 .8 30.9 .8 24.9 .8-8.7 .8-6.1 .8-16.4 .8 41.7 .7 18.5 .8 6.2 .8 4.7 .8 4.6 .8 8.7 .8 13.8 .8-29.3 .8-21.6 .7-24.8 .8 40 .8-12.6 .8 1.5 .8 25.7 .8-4.4 .8 11.2 .8-26.2 .8-34.7 .7 41.2 .8 11.6 .8-34.7 .8-15.3 .8 9.3 .8-.8 .8 25.7 .8 9.7 .7-2.7 .8-58.2 .8 27.3 .8 15.7 .8 5.4 .8-88.1 .8 0 .8 0 .8 0 .7 0 .8 0 .8 4.3 .8 7.3 .8-7.8 .8 26.7 .8 36.9 .8 .6 .7-33.7 .8 44.4 .8-35.7 .8-7.2 .8-16.5" stroke="#008F45" stroke-width="1.7"/><path d="M35 954.4l.8 38.9 .8-15 .8 17.2 .8-8.8 .7 42.3 .8 7.5 .8-27.3 .8-98.1 .8 0 .8 0 .8 0 .8 0 .7 0 .8 0 .8 0 .8 0 .8 0 .8 0 .8 0 .8 0 .8 0 .7 0 .8 0 .8 0 .8 0 .8 0 .8 0 .8 0 .8 0 .7 0 .8 0 .8 0 .8 0 .8 0 .8 0 .8 0 .8 0 .8 0 .7 0 .8 0 .8 0 .8 0 .8 0 .8 0 .8 0 .8 0 .7 0 .8 0 .8 0 .8 8.8 .8-8.8 .8 51.3 .8 25 .8-23.5 .8-52.8 .7 0 .8 0 .8 0 .8 0 .8 0 .8 0 .8 0 .8 0 .7 0 .8 0 .8 0 .8 55.5 .8 10.7 .8 15.8 .8-24.9 .8 7.2 .8 11.4 .7 24.7 .8 24 .8-12.3 .8-46.4 .8 24.3 .8 19.1 .8-108.5 .8 43.6 .8 19.9 .7 .1 .8 38.2 .8-1.8 .8-67 .8 37.6 .8-11.8 .8 22.3 .8 19.2 .7-18.8 .8 34.1 .8 6.3 .8-11.2 .8 18.5 .8 6.7 .8-28.2 .8 2.7 .8 2.8 .7 11.6 .8-9.3 .8 6.2 .8-1.6 .8 12.6 .8-.9 .8-9.8 .8 20.8 .7-3.3 .8 19.2 .8-159.3 .8 0 .8 0 .8 0 .8 0 .8 0 .8 0 .7 0 .8 0 .8 6.2 .8 7.1 .8-13.3 .8 28.8 .8 31.5 .8 6.3 .7 13.8 .8-24.8 .8 12.9 .8-10.9 .8 35.7 .8-14.7 .8-7.9 .8 27.2 .8-62.4 .7-7.6 .8-27.9 .8 29.8 .8 45.8 .8 30 .8 23.2 .8-11.6 .8-14.9 .7 .2 .8 2.5 .8-17.8 .8 42.7 .8 3.5 .8-19.3 .8-114.1 .8 2.8 .8-2.8 .7 20.6 .8-20.6 .8 0 .8 0 .8 0 .8 0 .8 0 .8 0 .7 0 .8 0 .8 0 .8 0 .8 0 .8 .2 .8 19.9 .8 18.6 .8-14.2 .7-24.5 .8 0 .8 0 .8 0 .8 0 .8 38.2 .8-2.4 .8 1.2 .7-17.6 .8 63.8 .8-23.4 .8 48.1 .8-107.9 .8 0 .8 46 .8-8.5 .8 10.2 .7-31.3 .8 20.9 .8 19.7 .8 1 .8 18.9 .8-18.7 .8-1.8 .8-56.4 .7 0 .8 0 .8 0 .8 0 .8 0 .8 0 .8 45.5 .8-10.7 .8 21.5 .7 27.4 .8-13.5 .8 26.1 .8-87.6 .8 18.7 .8 85.1 .8-8.6 .8 7.5 .8 1 .7 5 .8-1.1 .8-6.5 .8 9.6 .8 37.8 .8-7.9 .8-74.9 .8 24.1 .7-17.5 .8 .8 .8 18.7 .8-2.8 .8-34.2 .8 16.2 .8 26.2 .8-41.5 .8 12.6 .7 43.5 .8-98.4 .8 49.9 .8 9.1 .8-18.6 .8-41.6 .8 28.6 .8 8.6 .7 62.3 .8-26.1 .8 29 .8-123.3 .8 0 .8 13.7 .8 7.6 .8 29.3 .8 27.5 .7 24.1 .8-102.2 .8 0 .8 54 .8 31.9 .8-13.2 .8 34.8 .8-39.4 .7-18 .8 37 .8 27.2 .8-2.8 .8-36.9 .8 0 .8 57.7 .8-46 .8 3.4 .7-89.7 .8 21.8 .8 48.2 .8-13.6 .8 15 .8 40.3 .8-111.7 .8 0 .7 11.6 .8 19.2 .8-30.8 .8 5.1 .8-5.1 .8 0 .8 45 .8 10.1 .8-13.5 .7 9.7 .8 72.8 .8-19.5 .8 10.7 .8 .8 .8 8.6 .8 15.9 .8-19.1 .7 41.5 .8-11.3 .8-7.3 .8 13.9 .8-8.2 .8 18.3 .8-9 .8 13.6 .8 1.8 .7-105.4 .8 14.9 .8 14.7 .8 3.1 .8 35.8 .8 13.7 .8-11.2 .8 3.5 .7-22.9 .8 11.9 .8-7.7 .8 25.9 .8 7.4 .8-9.2 .8 32.2 .8-14.3 .8 20.6 .7-7.9 .8-6.9 .8-10.2 .8 2.4 .8-42.4 .8 22 .8 14.9 .8 8.6 .7-15.4 .8-1 .8 3.3 .8-16.1 .8-12.7 .8 7.1 .8 1.9 .8 10.4 .8-30.2 .7 2.3 .8-26.6 .8-27.9 .8 52.6 .8-21.5 .8-19.9 .8 26.1 .8 17.1 .7-8.5 .8-23.9 .8 30.4 .8-23.5 .8 35.8 .8-27.3 .8-24.5 .8-6.1 .8 16.6 .7-5.7 .8 22.1 .8-6.4 .8 17.7 .8-35.1 .8 28.8 .8-18.6 .8 43.5 .8-7.9 .7-13.7 .8 9 .8 4.7 .8-12.9 .8 18.3 .8-5.6 .8-17.5 .8-1.4 .7 2.7 .8 24.1 .8-20.2 .8-25.2 .8 39.9 .8-23.3 .8 22.9 .8 .9 .8 .9 .7 1.5 .8 .8 .8 8.8 .8 16.4 .8-48.9 .8 37.5 .8-2.3 .8 10.7 .7 5.1 .8-33.3 .8 3.3 .8-4.6 .8 21.5 .8-6.1 .8-5 .8-12.5 .8 .7 .7-82.2 .8 19.8 .8 16.9 .8-27.1 .8 24.3 .8 .5 .8 1.9 .8 54.4 .7-36.8 .8 21.6 .8 22.7 .8 7.5 .8 7.8 .8-49.7 .8-5.1 .8 23.5 .8 33.6 .7-31.3 .8 17.2 .8-7.3 .8-3.9 .8 .5 .8 3.7 .8-6.2 .8 24 .7-15.7 .8-4.7 .8 37.4 .8 6 .8-43.3 .8 0 .8 6.3 .8 13.5 .8-28.9 .7 20.9 .8-34 .8 14.4 .8 24.7 .8-9.2 .8-4.3 .8-18.2 .8-.6 .7 6.1 .8-13.8 .8-17.9 .8-11.6 .8 29 .8-52.6 .8 19.7 .8-11.3 .8 4.6 .7-2.3 .8-38.2 .8-27.4 .8-1.3 .8 0 .8 0 .8 7.3 .8 20.1 .7-27.4 .8 0 .8 4.1 .8-4.1 .8 0 .8 0 .8 0 .8 0 .8 0 .7 0 .8 0 .8 0 .8 0 .8 0 .8 0 .8 15.3 .8 4.5 .7-19.8 .8 22.9 .8 44.2 .8-35 .8-31.2 .8 59.3 .8-60.2 .8 46.3 .8-12.6 .7-5.2 .8-28.5 .8 23.1 .8-23.1 .8 0 .8 87 .8 29.2 .8-73.6 .7-38.1 .8-4.5 .8 0 .8 0 .8 0 .8 0 .8 48.4 .8-4.9 .8-43.5 .7 0 .8 0 .8 0 .8 10.4 .8-10.4 .8 31.1 .8 21.4 .8-1.3 .8-11 .7 39.3 .8 15.3 .8-29.2 .8-3.9 .8 19.4 .8 18.2 .8 29.2 .8-45.1 .7 18.3 .8-5.4 .8 10.8 .8 13.3 .8 7.8 .8-13.2 .8 2.7 .8-18.3 .8 47.7 .7-28.8 .8 8.5 .8-71.4 .8 38.4 .8-52 .8 39.9 .8 22.3 .8 30.8 .7-37.4 .8-15.3 .8 27.1 .8-16.3 .8 25.9 .8-10.8 .8-80 .8 25.3 .8 34.7 .7-42.1 .8 39.7 .8 24.1 .8-38.5 .8 44 .8 6.4 .8-34.3 .8 16.4 .7 33.9 .8-60.8 .8 55.7 .8-5.8 .8-16.3 .8-38.7 .8-10.3 .8-7.5 .8-8.4 .7 .9 .8 22.8 .8-6.2 .8 6.4 .8 14 .8 22.5 .8-31.6 .8 28.7 .7-14.2 .8-48.8 .8 12.3 .8 37.3 .8 8.7 .8 28.4 .8-13 .8-11.6 .8 21.4 .7-13.4 .8-33.3 .8 9.6 .8 26.9 .8-3 .8 8.2 .8-30 .8 24.8 .7-113.3 .8 0 .8 0 .8 0 .8 14.9 .8-14.9 .8 2.6 .8-2.6 .8 0 .7 26.5 .8 15.2 .8-33.1 .8-8.6 .8 74.6 .8-15.3 .8 25.6 .8-12.4 .7 1.3 .8 13.3 .8-14.8 .8 30.8 .8-32.8 .8 41.5 .8-13.2 .8 7.2 .8-8.5 .7-19.2 .8-48.6 .8 30.6 .8 36.9 .8-56.6 .8 59.6 .8-83.2 .8 79.4 .7-31.6 .8 7 .8 5.8 .8 21.4 .8-14.2 .8 62.8 .8-49.8 .8-38.4 .8 26.8 .7-25.1 .8 42.2 .8-69.8 .8-7.1 .8-26.2 .8 0 .8 0 .8 0 .8 0 .7 0 .8 0 .8 0 .8 0 .8 0 .8 0 .8 0 .8 0 .7 49 .8-49 .8 0 .8 0 .8 1 .8 29.2 .8 32.4 .8 19.9 .8-16.4 .7-20.5 .8 11.3 .8 1.9 .8-47.5 .8 25.5 .8-36.8 .8 16 .8-16 .7 16.9 .8 31.1 .8-6.8 .8 69.5 .8-14.6 .8-34.3 .8 17.2 .8-10.4 .8-68.6 .7 64 .8-64 .8 23.3 .8-23.3 .8 0 .8 0 .8 43.4 .8-26.3 .7 51.6 .8-24.1 .8 50.8 .8-51.3 .8 35.1 .8-22.6 .8 20.6 .8 9.9 .8-7.4 .7-24.3 .8-55.4 .8 28.9 .8-20.7 .8 68.1 .8-8.9 .8-26.6 .8 10.8 .7 45.4 .8-1.7 .8-95.3 .8 17.3 .8 38.5" stroke="#BE1B1E" stroke-width="1.7"/><path d="M35 1163l.8 0 .8-3.8 .8 3.8 .8 0 .7 0 .8 0 .8-12.3 .8 12.3 .8-27.3 .8 26.5 .8 .8 .8 0 .7 0 .8 0 .8 0 .8-8.6 .8 8.6 .8 0 .8 0 .8-9.5 .8 9.5 .7 0 .8 0 .8 0 .8 0 .8 0 .8 0 .8 0 .8 0 .7 0 .8 0 .8 0 .8 0 .8 0 .8 0 .8-9.1 .8-5.5 .8 14.6 .7 0 .8-52 .8 51.2 .8 .8 .8-11.7 .8 11.7 .8 0 .8 0 .7 0 .8 0 .8-2.1 .8 2 .8-3.6 .8 3.7 .8 0 .8 0 .8 0 .7 0 .8-7.3 .8 7.3 .8 0 .8-5.9 .8 5.7 .8 .2 .8-10.8 .7 10.8 .8 0 .8 0 .8-1.7 .8 1.7 .8 0 .8 0 .8 0 .8 0 .7 0 .8-22.7 .8 16.4 .8 6.3 .8-9 .8 6.6 .8-4.8 .8 4.3 .8 2.9 .7-.6 .8 .6 .8 0 .8-7 .8 7 .8-.3 .8 .3 .8 0 .7 0 .8 0 .8 0 .8 0 .8 0 .8 0 .8 0 .8 0 .8-10.9 .7 10.9 .8 0 .8 0 .8 0 .8 0 .8 0 .8 0 .8-1.1 .7 1.1 .8 0 .8 0 .8-10.5 .8 8.4 .8 .6 .8-5 .8 3.7 .8-.4 .7 3.1 .8 .1 .8-2.6 .8 2.6 .8 0 .8-4.9 .8 4.9 .8-8.9 .7 6.1 .8 2.8 .8 0 .8-35.1 .8 23.9 .8 8.3 .8 1.1 .8 1.8 .8 0 .7 0 .8-.5 .8-6.4 .8 6.9 .8 0 .8 0 .8 0 .8 0 .7 0 .8 0 .8-5.7 .8 .4 .8 5.3 .8 0 .8 0 .8 0 .8 0 .7 0 .8-1.2 .8-2.6 .8 3.8 .8-28.9 .8 28.9 .8 0 .8-.2 .7-3.7 .8 3.9 .8 0 .8 0 .8-.3 .8 .3 .8 0 .8-6 .8 6 .7-1.1 .8 1.1 .8 0 .8 0 .8-.4 .8 .4 .8 0 .8-35.9 .7 35.9 .8-3 .8-2.8 .8 5.8 .8 0 .8-3.2 .8 2.5 .8-20 .8 20.7 .7 0 .8 0 .8-2.2 .8 .8 .8 1.4 .8 0 .8 0 .8 0 .7 0 .8 0 .8-1.2 .8 1.2 .8-5 .8-6.2 .8 11.2 .8 0 .8-23.2 .7 23.2 .8-.9 .8 .7 .8 .2 .8 0 .8 0 .8 0 .8 0 .8 0 .7 0 .8 0 .8-9.8 .8 9.8 .8 0 .8 0 .8 0 .8-3.6 .7 3.6 .8-1.4 .8 1.4 .8 0 .8-2.6 .8-9.7 .8 12.3 .8 0 .8 0 .7 0 .8-9 .8 9 .8-7.8 .8 7.8 .8 0 .8 0 .8-4.5 .7 4.5 .8 0 .8-3.3 .8 3.3 .8 0 .8-.9 .8 .9 .8 0 .8-5.8 .7 5.8 .8-8.9 .8 8.9 .8 0 .8 0 .8 0 .8-11.9 .8 11.9 .7-1.9 .8 1.9 .8 0 .8-6.5 .8 6.5 .8 0 .8 0 .8-1.9 .8 1.9 .7 0 .8-11.9 .8 9.5 .8 2.4 .8-38.2 .8 38.2 .8 0 .8 0 .7-3.5 .8 1.9 .8-1.8 .8 3.4 .8-13 .8 13 .8-.1 .8-.1 .8 .2 .7 0 .8 0 .8 0 .8 0 .8 0 .8 0 .8-1.9 .8 1.9 .7-9.5 .8-10.3 .8 10 .8 9.8 .8 0 .8-10.2 .8 10.2 .8 0 .8-5 .7 5 .8 0 .8-4 .8 3 .8 1 .8-4.8 .8 4.6 .8 .2 .7-5.2 .8-12.1 .8 5.8 .8 11.5 .8-.8 .8 .8 .8 0 .8-14.3 .8 14.3 .7 0 .8 0 .8 0 .8 0 .8 0 .8 0 .8 0 .8 0 .7 0 .8 0 .8-8 .8 .5 .8 6.9 .8 .6 .8 0 .8 0 .8-8.9 .7 8.9 .8-.1 .8 .1 .8 0 .8 0 .8-2 .8 2 .8-5.1 .7-12.9 .8 9.6 .8-1.6 .8 10 .8 0 .8-.5 .8-10.8 .8 8.2 .8 3.1 .7 0 .8 0 .8-5.1 .8 5.1 .8 0 .8 0 .8 0 .8 0 .8 0 .7-4.9 .8-.3 .8 5.2 .8 0 .8-2.7 .8-.5 .8 3.2 .8 0 .7 0 .8 0 .8 0 .8-3.7 .8 3.7 .8 0 .8 0 .8 0 .8-8.9 .7 8.9 .8-8.2 .8 8.2 .8-7 .8 7 .8 0 .8-.8 .8 .8 .7 0 .8-13.6 .8 7.3 .8-8 .8 2.3 .8 4.6 .8 7.4 .8 0 .8 0 .7 0 .8 0 .8 0 .8 0 .8-3 .8 3 .8 0 .8-2.7 .7 2.7 .8-6.2 .8 6.2 .8 0 .8-6 .8 6 .8-10.7 .8 10 .8-1.1 .7 1.8 .8-2.4 .8-.3 .8 2.7 .8-9.6 .8 8.6 .8 1 .8-4.5 .7 3.4 .8 1.1 .8-3.6 .8 3.6 .8 0 .8 0 .8 0 .8 0 .8 0 .7-2 .8 2 .8-6.7 .8 6.7 .8 0 .8-9.6 .8 9.6 .8 0 .7 0 .8-29.9 .8 29.9 .8 0 .8-15.6 .8 15.6 .8-1.8 .8 1.8 .8 0 .7-1.1 .8 1.1 .8-3 .8-8.3 .8 11.3 .8 0 .8 0 .8 0 .7-13.1 .8 13.1 .8 0 .8 0 .8 0 .8 0 .8-2.7 .8 2.7 .8 0 .7 0 .8 0 .8 0 .8 0 .8 0 .8-1.8 .8 1.8 .8 0 .7 0 .8 0 .8 0 .8-3.3 .8-3.5 .8-.5 .8 .1 .8 7.2 .8 0 .7-11.8 .8 11.8 .8 0 .8 0 .8-6.8 .8 6.8 .8 0 .8 0 .7 0 .8 0 .8 0 .8 0 .8 0 .8-3.1 .8 3.1 .8 0 .8 0 .7 0 .8 0 .8-5.1 .8 5.1 .8 0 .8-1 .8 1 .8 0 .8 0 .7-22.8 .8 21.8 .8 1 .8-1.5 .8-7.9 .8 9.4 .8 0 .8-1.3 .7 1.3 .8-3.6 .8 .6 .8-4.9 .8-1 .8 5 .8 1.4 .8 1.8 .8-5.6 .7 6.3 .8-2.1 .8-5.1 .8 5 .8 2.2 .8 0 .8 0 .8 0 .7 0 .8-26.6 .8 26.6 .8 0 .8 0 .8 0 .8 0 .8 0 .8-8 .7 3 .8 4.2 .8 .8 .8 0 .8 0 .8 0 .8-11.5 .8 11.3 .7-5.6 .8 5.8 .8 0 .8 0 .8 0 .8-.5 .8 .5 .8 0 .8 0 .7 0 .8-5 .8 5 .8 0 .8 0 .8-9.6 .8 9.6 .8-.8 .7 .8 .8-10.6 .8 10.6 .8-8.1 .8 8.1 .8 0 .8-3.1 .8 3.1 .8 0 .7-.5 .8 .5 .8 0 .8-1.4 .8 1.4 .8-2 .8 2 .8 0 .7 0 .8 0 .8-3.9 .8 .8 .8 3.1 .8 0 .8 0 .8-.8 .8 .8 .7-2.5 .8 2.5 .8 0 .8 0 .8 0 .8 0 .8-2.9 .8-1.8 .7 4.7 .8-2.6 .8 2.4 .8 .2 .8 0 .8 0 .8 0 .8-1.6 .8 1.2 .7-2.1 .8 2.5 .8 0 .8-12.8 .8 12.8 .8 0 .8 0 .8-22.7 .7 15.8 .8 4.1 .8-2.3 .8 5.1 .8 0 .8 0 .8-13.5 .8 12.9 .8-9 .7 9.6 .8 0 .8-3.1 .8-1.3 .8 4.4 .8 0 .8 0 .8 0 .8 0 .7-3.2 .8-3.1 .8 6.3 .8-5.5 .8 1.6 .8 3.9 .8 0 .8 0 .7-18.4 .8 .6 .8 17.8 .8 0 .8-1.9 .8 1.9 .8 0 .8 0 .8 0 .7-2.5 .8 2.5 .8-5.7 .8-46.3 .8 52 .8 0 .8 0 .8 0 .7 0 .8-9.6 .8 9.6 .8 0 .8-3.7 .8 3.7 .8 0 .8 0 .8 0 .7-.6 .8 .6 .8-4.8 .8 4.8 .8 0 .8-5.2 .8 5.2 .8 0 .7 0 .8 0 .8 0 .8 0 .8 0 .8 0 .8-3 .8 3 .8 0 .7-.5 .8 .5 .8 0 .8-13.1 .8 13.1 .8-2.3 .8-25.6 .8 27.9 .7-29.7 .8 29.7 .8 0 .8 0 .8 0" stroke="#A8A8A8" stroke-width="1.1"/></g><line x1="34.25" y1="1162.7" x2="579.7" y2="1162.7" stroke="#000" stroke-width="3" stroke-linecap="round" stroke-dasharray="1.5 6" clip-path="url(#c6)"/><rect x="35.0" y="935.5" width="544.7" height="231.0" fill="none" stroke="#111" stroke-width="2"/><line x1="28.2" y1="1163.0" x2="35.0" y2="1163.0" stroke="#111" stroke-width="2"/><text x="12.82" y="1170.52" font-size="21" stroke="#000" stroke-width="0.65">0</text><line x1="28.2" y1="1130.5" x2="35.0" y2="1130.5" stroke="#111" stroke-width="2"/><text x="12.82" y="1138.02" font-size="21" stroke="#000" stroke-width="0.65">2</text><line x1="28.2" y1="1098.0" x2="35.0" y2="1098.0" stroke="#111" stroke-width="2"/><text x="12.82" y="1105.52" font-size="21" stroke="#000" stroke-width="0.65">4</text><line x1="28.2" y1="1065.5" x2="35.0" y2="1065.5" stroke="#111" stroke-width="2"/><text x="12.82" y="1073.02" font-size="21" stroke="#000" stroke-width="0.65">6</text><line x1="28.2" y1="1033.0" x2="35.0" y2="1033.0" stroke="#111" stroke-width="2"/><text x="12.82" y="1040.52" font-size="21" stroke="#000" stroke-width="0.65">8</text><line x1="28.2" y1="1000.5" x2="35.0" y2="1000.5" stroke="#111" stroke-width="2"/><text x="1.14" y="1008.02" font-size="21" stroke="#000" stroke-width="0.65"> 0</text><path transform="translate(1.14,1008.02) scale(0.01025,-0.00986)" d="M763 0H583V1147Q518 1085 412 1023Q307 961 223 930V1104Q374 1175 487 1276Q600 1377 647 1472H763Z" stroke="#000" stroke-width="0.65"/><line x1="28.2" y1="968.0" x2="35.0" y2="968.0" stroke="#111" stroke-width="2"/><text x="1.14" y="975.52" font-size="21" stroke="#000" stroke-width="0.65"> 2</text><path transform="translate(1.14,975.52) scale(0.01025,-0.00986)" d="M763 0H583V1147Q518 1085 412 1023Q307 961 223 930V1104Q374 1175 487 1276Q600 1377 647 1472H763Z" stroke="#000" stroke-width="0.65"/><line x1="28.2" y1="935.5" x2="35.0" y2="935.5" stroke="#111" stroke-width="2"/><text x="1.14" y="943.02" font-size="21" stroke="#000" stroke-width="0.65"> 4</text><path transform="translate(1.14,943.02) scale(0.01025,-0.00986)" d="M763 0H583V1147Q518 1085 412 1023Q307 961 223 930V1104Q374 1175 487 1276Q600 1377 647 1472H763Z" stroke="#000" stroke-width="0.65"/><line x1="177.0" y1="1166.5" x2="177.0" y2="1172.5" stroke="#111" stroke-width="2"/><text x="137.88" y="1195.00" font-size="20.5" stroke="#000" stroke-width="0.6">2023-07</text><line x1="321.0" y1="1166.5" x2="321.0" y2="1172.5" stroke="#111" stroke-width="2"/><text x="281.88" y="1195.00" font-size="20.5" stroke="#000" stroke-width="0.6">2024-0 </text><path transform="translate(345.72,1195.00) scale(0.01001,-0.00963)" d="M763 0H583V1147Q518 1085 412 1023Q307 961 223 930V1104Q374 1175 487 1276Q600 1377 647 1472H763Z" stroke="#000" stroke-width="0.6"/><line x1="465.0" y1="1166.5" x2="465.0" y2="1172.5" stroke="#111" stroke-width="2"/><text x="425.88" y="1195.00" font-size="20.5" stroke="#000" stroke-width="0.6">2024-07</text><text x="0" y="0" transform="translate(306.4,929.4) scale(0.98,1)" font-size="25" font-weight="bold" text-anchor="middle">BAT</text><rect x="48.8" y="948.5" width="9.8" height="8.5" fill="#3a3a3a" stroke="#000" stroke-width="2"/><text x="72.3" y="959.8" font-size="14.5" stroke="#000" stroke-width="0.45">Bitcoin</text><rect x="48.8" y="965.9" width="9.8" height="8.5" fill="#FFA500" stroke="#000" stroke-width="2"/><text x="72.3" y="977.2" font-size="14.5" stroke="#000" stroke-width="0.45">ETH</text><rect x="48.8" y="983.3" width="9.8" height="8.5" fill="#3C78B4" stroke="#000" stroke-width="2"/><text x="72.3" y="994.6" font-size="14.5" stroke="#000" stroke-width="0.45">LINK</text><rect x="48.8" y="1000.8" width="9.8" height="8.5" fill="#A0521E" stroke="#000" stroke-width="2"/><text x="72.3" y="1012.0" font-size="14.5" stroke="#000" stroke-width="0.45">BAT</text><rect x="48.8" y="1018.1" width="9.8" height="8.5" fill="#00A550" stroke="#000" stroke-width="2"/><text x="72.3" y="1029.4" font-size="14.5" stroke="#000" stroke-width="0.45">THETA</text><rect x="48.8" y="1035.5" width="9.8" height="8.5" fill="#CC2222" stroke="#000" stroke-width="2"/><text x="72.3" y="1046.8" font-size="14.5" stroke="#000" stroke-width="0.45">XTZ</text><rect x="48.8" y="1053.0" width="9.8" height="8.5" fill="#C8C8C8" stroke="#000" stroke-width="2"/><text x="72.3" y="1064.2" font-size="14.5" stroke="#000" stroke-width="0.45">OIL</text>
</g></svg></body></html>
